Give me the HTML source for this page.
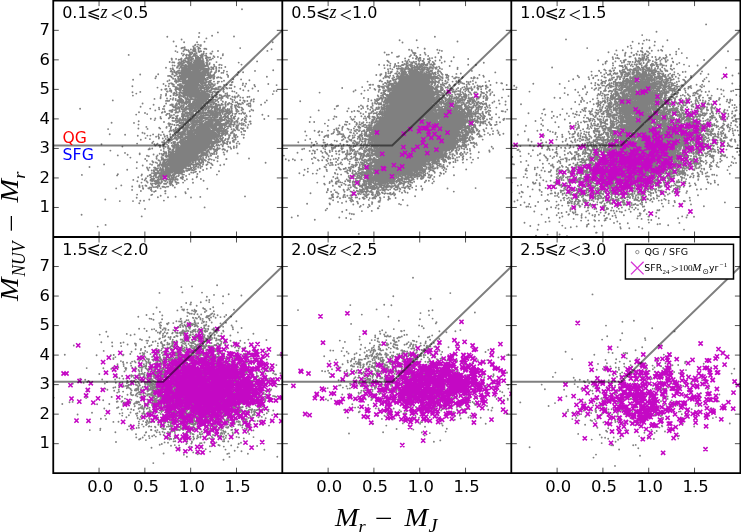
<!DOCTYPE html>
<html><head><meta charset="utf-8"><title>NUVrJ diagram</title>
<style>
html,body{margin:0;padding:0;background:#fff;}
body{width:741px;height:532px;overflow:hidden;}
svg{display:block;}
.t{font-family:"DejaVu Sans","Liberation Sans",sans-serif;fill:#000;}
.m{font-family:"Liberation Serif","DejaVu Serif",serif;font-style:italic;fill:#000;}
.r{font-family:"Liberation Serif","DejaVu Serif",serif;fill:#000;}
.d{fill:none;stroke:#808080;stroke-width:19;stroke-linecap:round;}
.u{fill:#808080;stroke:none;}
.x{fill:none;stroke:#c408c4;stroke-width:16;}
.l{fill:none;stroke:#000;stroke-opacity:.5;stroke-width:2;stroke-linejoin:miter;}
.k{stroke:#000;stroke-width:.8;stroke-opacity:.85}
</style></head><body>
<svg width="741" height="532" viewBox="0 0 741 532">
<rect width="741" height="532" fill="#fff"/>
<defs>
<clipPath id="c0"><rect x="53.25" y="0.6" width="229.05" height="236.40"/></clipPath>
<clipPath id="c1"><rect x="282.3" y="0.6" width="229.00" height="236.40"/></clipPath>
<clipPath id="c2"><rect x="511.3" y="0.6" width="229.10" height="236.40"/></clipPath>
<clipPath id="c3"><rect x="53.25" y="237.0" width="229.05" height="236.20"/></clipPath>
<clipPath id="c4"><rect x="282.3" y="237.0" width="229.00" height="236.20"/></clipPath>
<clipPath id="c5"><rect x="511.3" y="237.0" width="229.10" height="236.20"/></clipPath>
</defs>
<g clip-path="url(#c0)">
<g transform="scale(.1)">
<path class="u" d="M1980 595h10v5h-10zM1975 600h20v5h-20zM1970 605h30v5h-30zM1965 610h30v5h-30zM1960 615h40v5h-40zM1955 620h60v5h-60zM1955 625h65v5h-65zM1940 630h85v5h-85zM1935 635h90v5h-90zM1930 640h95v5h-95zM1905 645h125v5h-125zM1900 650h130v5h-130zM1895 655h135v5h-135zM1900 660h135v5h-135zM1900 665h135v5h-135zM1845 670h5v5h-5zM1900 670h140v5h-140zM1840 675h50v5h-50zM1895 675h145v5h-145zM1835 680h60v5h-60zM1900 680h140v5h-140zM1835 685h65v5h-65zM1905 685h130v5h-130zM1835 690h60v5h-60zM1925 690h70v5h-70zM2025 690h5v5h-5zM1830 695h65v5h-65zM1925 695h70v5h-70zM1830 700h65v5h-65zM1925 700h70v5h-70zM2035 700h25v5h-25zM1830 705h65v5h-65zM1925 705h70v5h-70zM2030 705h35v5h-35zM1830 710h65v5h-65zM1925 710h70v5h-70zM2025 710h45v5h-45zM1830 715h170v5h-170zM2025 715h45v5h-45zM1830 720h240v5h-240zM1830 725h235v5h-235zM1825 730h235v5h-235zM1820 735h235v5h-235zM1815 740h230v5h-230zM1810 745h230v5h-230zM1810 750h225v5h-225zM1815 755h215v5h-215zM1820 760h210v5h-210zM1815 765h220v5h-220zM1815 770h35v5h-35zM1895 770h140v5h-140zM1810 775h40v5h-40zM1895 775h135v5h-135zM1810 780h40v5h-40zM1895 780h135v5h-135zM1805 785h45v5h-45zM1895 785h135v5h-135zM1810 790h40v5h-40zM1895 790h130v5h-130zM1815 795h40v5h-40zM1895 795h135v5h-135zM1825 800h30v5h-30zM1895 800h140v5h-140zM1835 805h20v5h-20zM1895 805h145v5h-145zM1835 810h200v5h-200zM1840 815h190v5h-190zM1845 820h180v5h-180zM1850 825h170v5h-170zM1850 830h130v5h-130zM1855 835h125v5h-125zM1860 840h125v5h-125zM1860 845h125v5h-125zM1860 850h120v5h-120zM1860 855h120v5h-120zM1860 860h120v5h-120zM1860 865h120v5h-120zM1860 870h35v5h-35zM1900 870h85v5h-85zM1855 875h35v5h-35zM1900 875h80v5h-80zM1850 880h125v5h-125zM1850 885h120v5h-120zM1850 890h35v5h-35zM1890 890h75v5h-75zM1850 895h35v5h-35zM1890 895h80v5h-80zM1850 900h35v5h-35zM1890 900h85v5h-85zM1850 905h35v5h-35zM1890 905h90v5h-90zM1850 910h135v5h-135zM1850 915h135v5h-135zM1850 920h30v5h-30zM1890 920h95v5h-95zM1850 925h25v5h-25zM1885 925h120v5h-120zM2015 925h10v5h-10zM2035 925h25v5h-25zM1855 930h15v5h-15zM1890 930h175v5h-175zM1860 935h5v5h-5zM1890 935h180v5h-180zM1895 940h170v5h-170zM1900 945h165v5h-165zM1910 950h160v5h-160zM1920 955h70v5h-70zM2005 955h20v5h-20zM2035 955h40v5h-40zM1965 960h60v5h-60zM2035 960h45v5h-45zM1970 965h105v5h-105zM1965 970h105v5h-105zM1960 975h105v5h-105zM1960 980h100v5h-100zM1965 985h90v5h-90zM1965 990h85v5h-85zM1965 995h85v5h-85zM1965 1000h90v5h-90zM1960 1005h95v5h-95zM1955 1010h100v5h-100zM1955 1015h95v5h-95zM1955 1020h90v5h-90zM1960 1025h80v5h-80zM1950 1030h50v5h-50zM2005 1030h30v5h-30zM1945 1035h55v5h-55zM2010 1035h20v5h-20zM1940 1040h60v5h-60zM2005 1040h15v5h-15zM1915 1045h110v5h-110zM1910 1050h90v5h-90zM2005 1050h15v5h-15zM1905 1055h120v5h-120zM1900 1060h100v5h-100zM2005 1060h15v5h-15zM1900 1065h45v5h-45zM1975 1065h20v5h-20zM2010 1065h5v5h-5zM1900 1070h25v5h-25zM1905 1075h15v5h-15zM1910 1080h5v5h-5zM2100 1200h10v5h-10zM2095 1205h20v5h-20zM2090 1210h30v5h-30zM2090 1215h30v5h-30zM2090 1220h30v5h-30zM2090 1225h30v5h-30zM2075 1230h5v5h-5zM2090 1230h25v5h-25zM2070 1235h45v5h-45zM2005 1240h5v5h-5zM2065 1240h50v5h-50zM2000 1245h15v5h-15zM2060 1245h55v5h-55zM2130 1245h20v5h-20zM1995 1250h120v5h-120zM2125 1250h30v5h-30zM1995 1255h165v5h-165zM1990 1260h125v5h-125zM2120 1260h40v5h-40zM1990 1265h120v5h-120zM2125 1265h35v5h-35zM1990 1270h100v5h-100zM2130 1270h30v5h-30zM1990 1275h100v5h-100zM2135 1275h25v5h-25zM1990 1280h105v5h-105zM2135 1280h25v5h-25zM1985 1285h110v5h-110zM2135 1285h25v5h-25zM1965 1290h125v5h-125zM2140 1290h20v5h-20zM1960 1295h135v5h-135zM2140 1295h25v5h-25zM1955 1300h135v5h-135zM2145 1300h15v5h-15zM1960 1305h135v5h-135zM2150 1305h5v5h-5zM1960 1310h135v5h-135zM1960 1315h135v5h-135zM1900 1320h15v5h-15zM1965 1320h165v5h-165zM1895 1325h25v5h-25zM1960 1325h185v5h-185zM1890 1330h35v5h-35zM1960 1330h190v5h-190zM1890 1335h30v5h-30zM1960 1335h195v5h-195zM1890 1340h25v5h-25zM1925 1340h10v5h-10zM1960 1340h210v5h-210zM1890 1345h50v5h-50zM1960 1345h215v5h-215zM1885 1350h295v5h-295zM1880 1355h300v5h-300zM1875 1360h305v5h-305zM1880 1365h295v5h-295zM1885 1370h285v5h-285zM1890 1375h275v5h-275zM1880 1380h245v5h-245zM2155 1380h5v5h-5zM1875 1385h235v5h-235zM1870 1390h240v5h-240zM1865 1395h245v5h-245zM1865 1400h245v5h-245zM1870 1405h240v5h-240zM1830 1410h10v5h-10zM1870 1410h240v5h-240zM1825 1415h20v5h-20zM1870 1415h240v5h-240zM1820 1420h285v5h-285zM1820 1425h280v5h-280zM1825 1430h260v5h-260zM1825 1435h260v5h-260zM1825 1440h260v5h-260zM1825 1445h260v5h-260zM1825 1450h260v5h-260zM1820 1455h260v5h-260zM1820 1460h255v5h-255zM1820 1465h250v5h-250zM1790 1470h275v5h-275zM1785 1475h275v5h-275zM1780 1480h275v5h-275zM1780 1485h270v5h-270zM1780 1490h265v5h-265zM1780 1495h260v5h-260zM1775 1500h255v5h-255zM1775 1505h255v5h-255zM1775 1510h250v5h-250zM1770 1515h250v5h-250zM1770 1520h235v5h-235zM1750 1525h230v5h-230zM1740 1530h235v5h-235zM1715 1535h260v5h-260zM1710 1540h265v5h-265zM1705 1545h270v5h-270zM1710 1550h265v5h-265zM1710 1555h260v5h-260zM1705 1560h265v5h-265zM1700 1565h270v5h-270zM1700 1570h270v5h-270zM1700 1575h275v5h-275zM1700 1580h270v5h-270zM1700 1585h265v5h-265zM1700 1590h255v5h-255zM1700 1595h250v5h-250zM1695 1600h250v5h-250zM1690 1605h230v5h-230zM1685 1610h230v5h-230zM1680 1615h230v5h-230zM1675 1620h235v5h-235zM1680 1625h225v5h-225zM1675 1630h225v5h-225zM1675 1635h220v5h-220zM1680 1640h210v5h-210zM1685 1645h5v5h-5zM1700 1645h185v5h-185zM1700 1650h180v5h-180zM1705 1655h160v5h-160zM1700 1660h160v5h-160zM1695 1665h160v5h-160zM1695 1670h150v5h-150zM1695 1675h135v5h-135zM1695 1680h130v5h-130zM1695 1685h130v5h-130zM1675 1690h150v5h-150zM1670 1695h155v5h-155zM1665 1700h160v5h-160zM1655 1705h165v5h-165zM1635 1710h180v5h-180zM1630 1715h80v5h-80zM1740 1715h70v5h-70zM1625 1720h70v5h-70zM1745 1720h60v5h-60zM1625 1725h70v5h-70zM1625 1730h70v5h-70zM1620 1735h75v5h-75zM1615 1740h80v5h-80zM1610 1745h80v5h-80zM1615 1750h70v5h-70zM1620 1755h25v5h-25zM1625 1760h10v5h-10z"/>
<path class="d" d="M801 1088h0m18 661h0m-3 398h0m79-477h0m120-227h0m-38 823h0m64-622h0m12 351h0m3 254h0m72-1245h0m-12 223h0m-35 64h0m16 52h0m7 163h0m74 48h0m1 189h0m-8 11h0m-9 130h0m36 127h0m53-664h0m-27 119h0m26 63h0m-37 325h0m74-1305h0m-11 999h0m28 28h0m-32 121h0m59-899h0m-7 65h0m1 60h0m38 13h0m-34 20h0m33 190h0m-22 83h0m38 129h0m-7 78h0m-2 186h0m-2 59h0m-34 118h0m41 14h0m-52 52h0m-1 34h0m50 47h0m-4 31h0m-37 34h0m72-1266h0m1 174h0m23 116h0m-20 32h0m-16 56h0m-3 90h0m-2 33h0m-1 39h0m41 43h0m-17 69h0m-11 138h0m0 7h0m30 113h0m-8 90h0m-4 10h0m-33 17h0m40 20h0m-7 34h0m-21 29h0m31 5h0m-32 8h0m4 2h0m32 9h0m3 8h0m-23 23h0m-6 97h0m-10 25h0m24 132h0m33-1034h0m22 11h0m-8 128h0m11 20h0m-29 46h0m28 21h0m-18 25h0m43 10h0m-2 94h0m2 6h0m-13 3h0m-16 63h0m18 5h0m-36 28h0m17 17h0m1 68h0m25 1h0m-19 12h0m8 15h0m12 50h0m-19 10h0m-17 20h0m-5 8h0m-8 12h0m19 10h0m10 12h0m-21 30h0m9 4h0m35 16h0m-15 8h0m0 0h0m8 3h0m1 109h0m-53 12h0m10 82h0m104-1306h0m-9 206h0m-9 58h0m-34 39h0m51 18h0m0 81h0m-45 3h0m38 13h0m-15 143h0m-27 12h0m29 60h0m-11 14h0m22 12h0m9 13h0m-31 30h0m14 60h0m-13 66h0m12 10h0m-4 3h0m27 0h0m-57 17h0m19 6h0m21 29h0m2 2h0m9 0h0m4 1h0m-1 7h0m1 7h0m-4 6h0m-15 4h0m-20 2h0m20 6h0m6 7h0m1 1h0m13 11h0m-38 1h0m17 0h0m2 4h0m18 0h0m-8 9h0m-42 4h0m36 10h0m-29 5h0m19 3h0m26 4h0m-52 4h0m30 10h0m8 3h0m-28 0h0m15 3h0m-17 8h0m16 1h0m-24 0h0m23 2h0m0 0h0m-24 5h0m48 1h0m-10 5h0m-22 0h0m-12 22h0m39 0h0m-19 2h0m28 7h0m-43 1h0m9 13h0m27 14h0m-16 0h0m-20 5h0m-2 17h0m-3 6h0m48 11h0m-38 1h0m22 6h0m-19 29h0m-10 5h0m70-1209h0m-21 23h0m14 111h0m40 22h0m-5 51h0m-3 20h0m-2 13h0m-15 94h0m2 17h0m27 35h0m-14 41h0m1 14h0m5 3h0m-19 91h0m10 9h0m-14 58h0m21 7h0m-26 12h0m-22 4h0m29 8h0m-1 10h0m-14 53h0m-7 7h0m23 7h0m11 2h0m-2 16h0m10 31h0m-13 36h0m21 2h0m-43 15h0m-9 11h0m49 8h0m-50 8h0m2 7h0m51 0h0m-1 9h0m-32 6h0m12 3h0m7 15h0m0 5h0m-33 5h0m28 8h0m13 6h0m-32 6h0m7 2h0m9 4h0m23 1h0m-40 2h0m24 18h0m-21 3h0m-11 6h0m29 4h0m11 3h0m7 1h0m-51 3h0m43 1h0m3 1h0m-18 3h0m-24 2h0m3 0h0m39 10h0m-2 2h0m8 1h0m-33 0h0m29 4h0m-44 5h0m5 0h0m33 2h0m-30 0h0m-11 1h0m20 1h0m10 1h0m20 3h0m-40 1h0m35 6h0m-52 4h0m35 3h0m-36 5h0m39 3h0m16 2h0m-2 2h0m-18 3h0m20 1h0m-28 1h0m-1 1h0m17 2h0m1 0h0m-24 2h0m27 1h0m10 3h0m-50 1h0m17 6h0m3 1h0m20 5h0m5 1h0m-1 0h0m4 5h0m-12 2h0m-26 1h0m13 0h0m-8 6h0m-20 5h0m16 3h0m40 1h0m-33 2h0m-9 4h0m-16 2h0m32 2h0m20 1h0m-31 2h0m31 3h0m-36 5h0m-9 2h0m38 1h0m-25 1h0m7 3h0m6 14h0m-13 4h0m9 3h0m4 2h0m-24 4h0m-7 2h0m15 8h0m29 7h0m1 73h0m-28 16h0m94-1606h0m-13 311h0m15 135h0m-40 27h0m22 18h0m8 31h0m-13 3h0m4 3h0m14 20h0m7 0h0m-16 25h0m1 10h0m-3 5h0m11 29h0m3 22h0m-13 3h0m19 2h0m-18 24h0m-16 24h0m-6 7h0m-10 23h0m13 2h0m6 24h0m2 5h0m-25 3h0m46 16h0m4 0h0m-13 11h0m-22 70h0m27 50h0m-3 8h0m-39 42h0m13 25h0m33 11h0m-23 7h0m0 5h0m26 3h0m-46 14h0m29 4h0m18 10h0m-33 9h0m-21 13h0m10 4h0m3 1h0m9 1h0m-14 18h0m10 1h0m31 0h0m-35 13h0m1 2h0m14 6h0m7 1h0m-24 0h0m46 2h0m-41 17h0m-1 25h0m15 10h0m10 1h0m-16 10h0m-8 3h0m26 0h0m-26 7h0m-5 4h0m27 2h0m-25 4h0m28 1h0m-39 1h0m31 8h0m24 2h0m-15 5h0m-34 12h0m0 6h0m-2 3h0m48 1h0m-15 3h0m-19 1h0m-9 0h0m18 1h0m8 0h0m-10 8h0m-14 2h0m37 4h0m0 2h0m-30 1h0m29 1h0m-2 1h0m-16 5h0m-11 0h0m20 1h0m-32 1h0m21 1h0m1 1h0m-10 3h0m-7 1h0m-2 1h0m44 4h0m-17 2h0m-31 1h0m18 1h0m14 0h0m-34 1h0m28 1h0m-13 4h0m36 0h0m-30 0h0m20 1h0m-18 0h0m22 1h0m-47 7h0m-2 2h0m13 0h0m34 2h0m-36 1h0m-9 1h0m26 0h0m-13 0h0m40 1h0m-4 0h0m-36 0h0m-2 0h0m11 0h0m13 1h0m-25 0h0m3 3h0m16 1h0m-3 4h0m-22 5h0m28 2h0m5 1h0m12 1h0m-16 3h0m14 2h0m-49 2h0m42 4h0m-6 0h0m-5 1h0m16 3h0m-38 0h0m43 1h0m-11 2h0m3 0h0m-35 3h0m4 0h0m24 1h0m8 0h0m-34 2h0m-2 5h0m-4 1h0m29 1h0m3 1h0m-16 1h0m18 1h0m-10 2h0m1 6h0m1 2h0m-15 1h0m1 1h0m-18 6h0m15 4h0m-7 2h0m-7 2h0m5 1h0m-4 3h0m29 2h0m11 3h0m15 1h0m-35 3h0m-19 2h0m-1 1h0m32 0h0m-32 0h0m10 1h0m23 1h0m-20 1h0m-12 4h0m42 2h0m9 2h0m-49 1h0m18 2h0m10 0h0m-16 1h0m35 0h0m-52 1h0m27 3h0m-1 10h0m28 7h0m-49 3h0m49 1h0m-14 6h0m-21 4h0m2 2h0m12 6h0m-35 6h0m0 1h0m55 4h0m-26 14h0m14 1h0m-22 0h0m29 28h0m-45 1h0m11 0h0m6 2h0m12 5h0m1 36h0m-5 1h0m4 23h0m-15 72h0m97-1591h0m-20 172h0m2 1h0m1 9h0m-22 23h0m31 1h0m-5 3h0m3 31h0m1 28h0m-21 4h0m20 3h0m8 5h0m-21 13h0m-6 6h0m15 5h0m3 17h0m-3 6h0m6 2h0m-47 15h0m13 0h0m13 4h0m10 9h0m14 13h0m0 2h0m-37 16h0m17 30h0m14 5h0m-34 0h0m33 6h0m14 2h0m-7 15h0m-44 1h0m13 24h0m3 15h0m10 4h0m-14 4h0m15 10h0m23 15h0m-2 3h0m1 13h0m3 1h0m-34 9h0m28 21h0m-27 8h0m22 5h0m1 4h0m-37 9h0m36 38h0m-12 0h0m7 1h0m-10 2h0m5 1h0m-16 2h0m23 9h0m7 3h0m3 10h0m-11 25h0m-23 7h0m18 0h0m-24 3h0m20 7h0m8 3h0m-10 1h0m-21 17h0m8 15h0m18 4h0m-19 4h0m5 11h0m27 7h0m6 3h0m-45 0h0m31 1h0m-35 3h0m37 23h0m-36 24h0m-5 7h0m21 1h0m18 5h0m-25 0h0m-3 7h0m-3 8h0m20 9h0m-3 9h0m-3 13h0m28 7h0m-32 9h0m15 2h0m-18 3h0m-5 5h0m8 27h0m1 5h0m25 1h0m-24 20h0m-21 18h0m47 4h0m-13 3h0m-24 4h0m25 2h0m1 1h0m-31 1h0m19 3h0m-10 7h0m36 8h0m5 5h0m-52 3h0m28 2h0m19 0h0m-6 22h0m11 2h0m-19 4h0m-35 2h0m55 7h0m-13 1h0m-42 3h0m55 8h0m-54 1h0m-4 4h0m18 1h0m-8 6h0m12 2h0m22 1h0m10 1h0m-8 8h0m-41 1h0m36 3h0m-1 0h0m-33 6h0m12 2h0m36 1h0m2 5h0m-17 0h0m1 0h0m-14 2h0m-19 0h0m14 6h0m-16 1h0m44 4h0m-23 2h0m10 4h0m2 1h0m-15 3h0m28 1h0m-45 1h0m43 1h0m-44 1h0m43 0h0m-8 1h0m-41 5h0m24 1h0m-17 0h0m9 0h0m26 3h0m-11 1h0m-25 5h0m27 0h0m-9 1h0m-8 4h0m6 1h0m-13 1h0m18 2h0m1 4h0m-5 0h0m7 0h0m-12 6h0m-7 3h0m6 3h0m5 0h0m-9 0h0m-5 2h0m12 0h0m-1 6h0m-2 2h0m-16 5h0m14 2h0m7 0h0m-8 4h0m4 4h0m-9 3h0m-5 8h0m2 4h0m10 6h0m-5 1h0m-10 1h0m20 2h0m5 2h0m-22 2h0m25 2h0m-6 1h0m-15 2h0m25 0h0m-12 2h0m-18 1h0m12 0h0m-15 3h0m16 1h0m0 3h0m18 0h0m-2 2h0m-3 2h0m-5 8h0m-19 9h0m18 1h0m5 0h0m-11 2h0m-5 1h0m11 0h0m-19 2h0m18 1h0m-17 2h0m17 1h0m-4 2h0m-19 1h0m25 0h0m-10 2h0m-15 8h0m13 1h0m15 6h0m25 1h0m-18 0h0m13 2h0m8 1h0m-35 0h0m36 0h0m-6 2h0m-42 3h0m21 1h0m-6 2h0m-13 5h0m14 0h0m-10 0h0m24 1h0m2 1h0m-26 2h0m-8 0h0m16 1h0m-6 1h0m0 3h0m-15 5h0m57 0h0m-55 2h0m-4 0h0m8 2h0m41 3h0m-39 1h0m16 4h0m1 1h0m23 3h0m-27 2h0m16 2h0m-26 3h0m45 3h0m-58 1h0m3 4h0m10 3h0m22 1h0m17 1h0m5 0h0m-22 0h0m22 6h0m-7 2h0m-32 3h0m7 5h0m-5 0h0m15 2h0m23 1h0m-14 0h0m-42 1h0m10 0h0m33 5h0m-19 8h0m-1 5h0m-9 2h0m28 1h0m-19 0h0m15 2h0m-6 1h0m-14 0h0m14 15h0m-18 0h0m6 1h0m22 14h0m-21 1h0m28 5h0m-1 2h0m-47 8h0m-3 106h0m82-1510h0m-7 49h0m19 10h0m-13 68h0m26 8h0m6 26h0m-50 2h0m55 6h0m-16 1h0m17 10h0m-14 7h0m-39 7h0m34 8h0m-5 0h0m-2 8h0m1 2h0m-4 3h0m24 7h0m-3 21h0m-5 1h0m-6 3h0m-36 1h0m25 7h0m-5 2h0m-24 1h0m6 3h0m52 2h0m-15 3h0m-23 2h0m39 1h0m-41 0h0m35 6h0m-28 3h0m4 2h0m-5 7h0m33 7h0m-48 1h0m-4 3h0m51 4h0m-21 2h0m8 1h0m1 13h0m-3 7h0m-28 3h0m-2 1h0m31 1h0m15 0h0m-10 3h0m1 3h0m9 0h0m-36 3h0m33 1h0m-8 3h0m-27 2h0m5 1h0m4 1h0m23 0h0m-40 3h0m14 0h0m-16 1h0m36 3h0m-15 2h0m-8 9h0m31 14h0m2 4h0m0 1h0m-17 3h0m12 7h0m-46 8h0m23 7h0m-9 2h0m1 6h0m-2 2h0m23 1h0m15 1h0m-28 0h0m-2 4h0m21 3h0m11 0h0m-14 1h0m-11 0h0m-19 4h0m4 1h0m35 5h0m-33 6h0m8 16h0m32 0h0m-56 5h0m49 0h0m-43 3h0m47 4h0m-51 1h0m18 4h0m15 5h0m20 2h0m-27 3h0m-11 6h0m30 7h0m9 3h0m-10 7h0m10 9h0m-1 7h0m-41 1h0m36 2h0m3 2h0m-39 6h0m22 1h0m7 2h0m9 3h0m-21 4h0m13 2h0m0 6h0m-19 14h0m25 0h0m-30 4h0m25 1h0m-21 6h0m27 0h0m-24 3h0m26 1h0m-39 2h0m10 3h0m2 2h0m-7 2h0m-9 2h0m-1 6h0m7 0h0m23 6h0m-35 4h0m10 3h0m36 0h0m-24 5h0m22 4h0m-15 2h0m-17 6h0m36 5h0m-53 2h0m18 9h0m35 1h0m4 4h0m-19 8h0m-14 0h0m14 2h0m-25 3h0m-15 20h0m38 8h0m-17 7h0m9 2h0m0 3h0m-4 11h0m-8 9h0m17 0h0m20 5h0m2 2h0m-11 9h0m-29 1h0m-2 1h0m35 0h0m-22 2h0m30 2h0m-58 1h0m41 5h0m16 3h0m-22 1h0m-13 6h0m33 5h0m-15 15h0m-37 3h0m2 1h0m40 1h0m-18 1h0m23 2h0m4 18h0m5 3h0m-40 3h0m-4 7h0m24 2h0m15 0h0m-39 5h0m18 2h0m11 4h0m3 1h0m-23 1h0m30 1h0m-11 1h0m-26 1h0m-14 5h0m17 5h0m-20 1h0m42 4h0m-19 4h0m30 3h0m4 0h0m-47 1h0m31 0h0m6 5h0m-42 1h0m36 2h0m9 7h0m9 1h0m-18 8h0m-3 0h0m-21 1h0m1 2h0m16 3h0m5 6h0m9 6h0m-4 1h0m-5 0h0m-27 1h0m-3 2h0m5 3h0m9 0h0m32 1h0m-5 3h0m-37 4h0m-7 2h0m31 5h0m-13 4h0m6 7h0m-20 15h0m49 6h0m-8 0h0m-7 2h0m-33 3h0m23 1h0m-25 12h0m-3 0h0m35 2h0m-15 2h0m10 4h0m-13 2h0m-11 3h0m35 1h0m2 3h0m-1 1h0m-30 2h0m15 1h0m-31 1h0m36 2h0m-14 5h0m-24 0h0m42 5h0m-22 3h0m-16 2h0m55 1h0m-15 0h0m-17 1h0m-2 0h0m18 1h0m-6 2h0m15 1h0m-7 0h0m-23 2h0m30 7h0m-3 0h0m-25 1h0m-2 3h0m27 0h0m-29 0h0m24 1h0m-15 0h0m14 3h0m-1 1h0m-22 1h0m16 2h0m-8 2h0m1 1h0m0 2h0m20 0h0m-4 1h0m-33 1h0m2 3h0m13 1h0m-27 1h0m18 1h0m15 0h0m3 1h0m-18 2h0m5 3h0m12 4h0m-10 0h0m12 1h0m-13 4h0m-2 1h0m-21 2h0m0 3h0m-1 165h0m45 6h0m-8 2h0m17 5h0m-42 1h0m12 0h0m5 0h0m23 0h0m4 2h0m-15 1h0m7 1h0m5 0h0m-50 1h0m13 7h0m26 1h0m-33 1h0m17 1h0m-18 0h0m-2 1h0m43 1h0m-37 4h0m37 12h0m-46 5h0m39 2h0m3 1h0m-21 4h0m-7 12h0m-2 2h0m20 13h0m-9 1h0m-7 2h0m18 3h0m-33 2h0m12 15h0m-2 4h0m9 6h0m16 2h0m-11 0h0m17 3h0m-19 12h0m-18 34h0m8 93h0m60-1573h0m25 28h0m6 49h0m-17 4h0m-15 6h0m3 1h0m25 8h0m13 3h0m-10 3h0m-12 16h0m-16 22h0m22 7h0m-10 13h0m28 28h0m-43 2h0m36 1h0m-47 9h0m11 5h0m33 3h0m-10 0h0m16 1h0m-2 2h0m-33 3h0m-6 7h0m19 0h0m21 2h0m-38 4h0m-7 5h0m34 1h0m-13 6h0m-29 1h0m5 4h0m13 0h0m-3 1h0m14 4h0m-12 1h0m36 3h0m5 8h0m-36 1h0m29 1h0m-37 1h0m25 1h0m-37 0h0m40 2h0m14 1h0m-42 0h0m-3 6h0m47 1h0m-39 2h0m-12 2h0m11 1h0m31 1h0m-14 1h0m24 0h0m-34 0h0m-9 0h0m10 7h0m0 5h0m-6 0h0m6 5h0m7 1h0m1 1h0m3 0h0m-8 1h0m-14 7h0m20 0h0m5 1h0m-3 0h0m-25 2h0m25 4h0m5 1h0m-8 2h0m-13 1h0m-9 5h0m12 0h0m9 1h0m4 4h0m-1 1h0m7 2h0m-1 2h0m-12 4h0m-17 0h0m9 1h0m13 2h0m-4 0h0m-10 1h0m2 3h0m5 3h0m-11 4h0m0 4h0m-14 2h0m3 2h0m18 1h0m-20 0h0m52 1h0m-31 4h0m2 0h0m7 1h0m-34 2h0m13 2h0m3 9h0m40 1h0m-10 1h0m1 2h0m6 1h0m-7 0h0m-7 1h0m-32 1h0m51 1h0m-3 6h0m-46 1h0m10 2h0m31 0h0m-15 1h0m-5 0h0m-10 1h0m11 3h0m25 2h0m-7 2h0m-20 1h0m10 4h0m-11 1h0m14 2h0m16 0h0m-39 1h0m-16 1h0m47 3h0m1 2h0m-23 5h0m2 1h0m22 1h0m-20 1h0m-5 0h0m13 2h0m-13 1h0m7 0h0m23 2h0m-7 0h0m-9 0h0m-8 1h0m7 0h0m-9 7h0m-22 1h0m41 2h0m-46 2h0m51 4h0m-2 4h0m0 0h0m-39 2h0m6 2h0m-12 1h0m51 1h0m-11 1h0m-6 2h0m11 1h0m-35 1h0m-14 1h0m26 1h0m-24 3h0m53 1h0m-58 1h0m20 0h0m-4 5h0m19 1h0m14 3h0m-40 1h0m-6 3h0m29 1h0m-22 1h0m36 1h0m-10 0h0m-26 6h0m-8 2h0m39 2h0m-34 0h0m42 1h0m-7 2h0m15 0h0m-20 3h0m-34 1h0m21 4h0m-25 0h0m54 1h0m-13 7h0m-34 5h0m27 3h0m17 1h0m-39 3h0m35 2h0m-26 5h0m31 0h0m-1 1h0m-13 3h0m10 5h0m-15 6h0m10 0h0m9 5h0m-43 1h0m24 1h0m10 4h0m6 5h0m-29 0h0m29 4h0m-12 3h0m2 0h0m-25 15h0m38 0h0m4 1h0m-47 1h0m-5 3h0m-2 1h0m20 6h0m-16 2h0m27 4h0m-19 7h0m8 6h0m10 0h0m-2 0h0m-27 1h0m55 3h0m-22 2h0m-23 0h0m33 1h0m-44 0h0m29 1h0m-11 5h0m29 2h0m2 0h0m-31 1h0m22 3h0m-6 14h0m4 0h0m-21 2h0m-10 10h0m27 0h0m-20 1h0m-7 5h0m-8 2h0m26 1h0m32 0h0m-50 2h0m-1 4h0m50 1h0m-19 2h0m5 7h0m-24 1h0m-3 5h0m35 3h0m-18 2h0m17 0h0m-1 7h0m-21 5h0m-2 5h0m-3 1h0m12 0h0m11 1h0m-20 4h0m0 11h0m28 3h0m-32 5h0m-4 0h0m23 2h0m-20 4h0m11 0h0m6 1h0m7 1h0m-21 8h0m-3 1h0m8 1h0m11 2h0m-23 2h0m38 0h0m-33 6h0m9 2h0m-4 7h0m4 0h0m-3 3h0m-4 1h0m-25 1h0m53 2h0m-16 5h0m-35 2h0m43 1h0m-16 2h0m-24 4h0m15 2h0m9 3h0m20 0h0m8 4h0m-39 1h0m18 2h0m-6 16h0m4 1h0m-19 1h0m22 4h0m13 1h0m-43 0h0m50 4h0m-21 2h0m8 3h0m4 0h0m-9 2h0m-15 1h0m29 1h0m-40 3h0m44 2h0m-52 7h0m2 0h0m28 5h0m-7 6h0m30 1h0m-39 2h0m12 6h0m20 0h0m-31 0h0m29 1h0m-44 1h0m-3 4h0m46 6h0m-16 2h0m16 8h0m1 1h0m-15 5h0m15 5h0m-1 3h0m4 0h0m-12 1h0m-14 0h0m18 1h0m-32 6h0m34 1h0m-23 1h0m-17 1h0m10 3h0m34 3h0m-15 3h0m-5 1h0m-30 0h0m46 3h0m-29 1h0m4 2h0m30 2h0m-7 5h0m0 0h0m-17 0h0m-14 2h0m10 4h0m32 6h0m-26 1h0m-5 0h0m-21 1h0m2 5h0m9 3h0m5 2h0m-14 1h0m51 1h0m-6 1h0m-22 1h0m30 0h0m-7 2h0m-7 3h0m5 0h0m-45 1h0m32 0h0m-5 0h0m22 3h0m-1 2h0m-42 5h0m11 1h0m-10 3h0m23 0h0m8 3h0m1 0h0m10 2h0m-50 2h0m30 1h0m-6 1h0m31 5h0m-40 1h0m-15 3h0m18 1h0m34 0h0m-13 1h0m11 3h0m-2 0h0m2 0h0m-18 4h0m-19 0h0m7 5h0m2 3h0m-17 1h0m24 0h0m-6 4h0m14 2h0m-30 3h0m8 2h0m10 2h0m6 0h0m-22 1h0m17 6h0m-10 0h0m3 0h0m15 3h0m-2 0h0m-21 2h0m-7 2h0m-3 3h0m13 2h0m11 3h0m-22 0h0m25 0h0m-6 7h0m4 0h0m-5 2h0m0 2h0m-18 1h0m10 1h0m3 2h0m39 174h0m-19 6h0m7 2h0m0 3h0m-3 3h0m-12 3h0m14 3h0m-20 1h0m-1 0h0m5 0h0m1 1h0m7 2h0m19 0h0m-40 0h0m41 2h0m-33 3h0m3 0h0m-3 3h0m-11 3h0m4 5h0m8 2h0m4 6h0m7 1h0m-28 6h0m31 1h0m-31 3h0m21 3h0m-14 0h0m27 1h0m-30 7h0m2 2h0m7 3h0m-19 2h0m7 2h0m30 11h0m-15 2h0m-2 21h0m9 4h0m-1 0h0m-23 5h0m8 6h0m13 7h0m20 15h0m-17 20h0m22 95h0m4 11h0m52-1437h0m-43 6h0m17 2h0m5 5h0m0 7h0m6 6h0m12 4h0m-8 5h0m3 8h0m13 3h0m-15 3h0m-32 2h0m39 2h0m-22 3h0m-24 1h0m37 7h0m-32 1h0m28 3h0m13 9h0m-16 1h0m-25 4h0m5 1h0m43 4h0m-20 0h0m-10 1h0m-21 1h0m10 0h0m46 6h0m-18 4h0m-19 0h0m38 1h0m-12 8h0m-25 2h0m17 4h0m-5 1h0m-13 4h0m3 2h0m-19 0h0m10 4h0m4 0h0m37 1h0m-43 4h0m-2 1h0m24 3h0m9 1h0m-16 1h0m-8 5h0m0 1h0m37 2h0m-26 0h0m15 7h0m-14 5h0m-29 2h0m-2 3h0m27 1h0m-5 0h0m22 2h0m-27 3h0m21 1h0m9 1h0m-44 1h0m42 1h0m-23 4h0m29 2h0m-1 2h0m-19 1h0m5 3h0m-31 2h0m-3 1h0m50 1h0m-7 1h0m0 0h0m5 0h0m7 0h0m-29 4h0m20 1h0m1 2h0m5 2h0m-7 1h0m1 1h0m1 1h0m-20 0h0m3 1h0m0 0h0m9 2h0m-19 1h0m18 0h0m-13 0h0m1 3h0m16 1h0m-6 1h0m-14 3h0m11 2h0m13 3h0m-18 1h0m-7 0h0m3 0h0m7 3h0m12 3h0m-17 0h0m20 4h0m4 0h0m-1 0h0m-1 1h0m2 1h0m-10 1h0m-42 32h0m25 2h0m-14 0h0m-10 1h0m27 1h0m-4 1h0m12 1h0m2 2h0m-38 1h0m29 1h0m-27 1h0m0 0h0m31 2h0m-20 2h0m-10 1h0m43 2h0m-5 2h0m0 2h0m-18 1h0m2 1h0m23 4h0m1 1h0m-1 3h0m-12 1h0m-4 5h0m5 1h0m-9 0h0m-4 1h0m2 3h0m23 0h0m-12 0h0m-1 4h0m-34 0h0m9 0h0m3 1h0m7 1h0m-13 1h0m17 0h0m-17 1h0m-5 0h0m29 1h0m0 1h0m2 0h0m-32 2h0m19 1h0m-18 2h0m24 1h0m10 1h0m-36 0h0m34 0h0m-36 1h0m1 2h0m30 1h0m3 2h0m-18 0h0m-16 2h0m14 19h0m-3 1h0m1 1h0m-4 4h0m31 5h0m-7 6h0m4 2h0m13 2h0m-20 2h0m-28 0h0m27 0h0m11 4h0m-36 0h0m3 1h0m43 1h0m-11 2h0m-29 0h0m0 3h0m-4 0h0m32 1h0m-20 0h0m11 1h0m-1 0h0m13 1h0m-40 3h0m17 0h0m21 5h0m-34 5h0m19 1h0m-18 1h0m18 3h0m0 0h0m21 3h0m-14 0h0m-5 2h0m-13 1h0m6 3h0m7 6h0m-6 3h0m-13 3h0m36 0h0m-28 3h0m-6 3h0m2 1h0m22 0h0m-30 2h0m35 1h0m-31 1h0m17 2h0m3 1h0m0 1h0m4 7h0m4 0h0m-3 3h0m-1 1h0m25 0h0m-52 1h0m12 2h0m39 1h0m-46 2h0m50 0h0m-11 1h0m-17 2h0m-22 0h0m47 0h0m-15 6h0m-24 3h0m19 0h0m24 2h0m-18 0h0m12 2h0m2 3h0m-8 0h0m10 1h0m-40 1h0m0 2h0m23 0h0m-39 7h0m58 0h0m-54 2h0m14 2h0m-5 4h0m33 0h0m-23 0h0m33 1h0m-32 1h0m15 1h0m-39 1h0m30 6h0m9 1h0m-38 3h0m34 1h0m-16 3h0m16 1h0m-36 2h0m8 2h0m25 0h0m-19 1h0m-13 0h0m36 1h0m4 2h0m-17 1h0m-10 1h0m0 2h0m0 1h0m13 0h0m5 0h0m-18 1h0m-3 2h0m30 2h0m-29 3h0m-4 1h0m28 0h0m-34 8h0m51 1h0m-24 1h0m2 1h0m26 0h0m-54 0h0m25 1h0m23 2h0m-2 1h0m-6 8h0m12 0h0m-35 1h0m7 0h0m26 1h0m-6 1h0m-1 1h0m-23 1h0m9 1h0m-26 5h0m42 7h0m-16 1h0m-31 2h0m37 1h0m12 4h0m-38 0h0m36 1h0m-18 1h0m5 1h0m-31 0h0m47 2h0m-6 0h0m9 1h0m-28 2h0m27 0h0m-52 1h0m53 3h0m-46 2h0m32 2h0m-36 1h0m30 1h0m17 5h0m-15 1h0m16 1h0m-9 2h0m0 5h0m-4 1h0m0 3h0m-29 4h0m42 2h0m-38 1h0m28 0h0m-40 1h0m28 4h0m-8 0h0m-14 2h0m46 0h0m-26 1h0m-11 4h0m10 1h0m26 4h0m-13 1h0m10 0h0m4 1h0m-43 0h0m33 3h0m-5 2h0m18 4h0m-46 1h0m39 1h0m2 2h0m-28 2h0m28 1h0m-30 0h0m-14 1h0m49 2h0m-17 9h0m2 3h0m-25 0h0m12 2h0m-16 4h0m30 2h0m-19 7h0m-4 3h0m-20 4h0m55 2h0m-15 0h0m19 2h0m-35 0h0m-15 0h0m25 4h0m-27 1h0m25 3h0m-14 1h0m31 2h0m-37 0h0m-6 0h0m-6 4h0m47 1h0m-34 2h0m34 1h0m-23 10h0m-21 0h0m21 3h0m-2 4h0m30 3h0m-14 5h0m-19 1h0m10 9h0m-20 4h0m12 0h0m2 4h0m26 5h0m-22 1h0m-9 7h0m-6 1h0m11 2h0m21 2h0m14 0h0m-52 0h0m33 0h0m-22 0h0m30 2h0m-46 1h0m40 2h0m-30 5h0m40 1h0m-6 1h0m-27 4h0m-18 1h0m48 2h0m-1 1h0m2 0h0m0 2h0m8 1h0m-40 1h0m20 1h0m-18 2h0m23 4h0m-29 2h0m4 2h0m11 1h0m-8 1h0m28 1h0m-1 1h0m-1 2h0m0 1h0m-10 0h0m11 3h0m-35 0h0m15 1h0m-5 2h0m12 1h0m-18 1h0m35 0h0m-15 3h0m13 1h0m-30 3h0m21 1h0m-14 1h0m-19 2h0m47 3h0m-22 3h0m12 3h0m-6 4h0m-17 0h0m1 0h0m7 3h0m-21 7h0m4 0h0m-12 5h0m1 1h0m8 0h0m4 0h0m-9 3h0m22 1h0m-4 1h0m-16 1h0m37 2h0m-36 2h0m9 4h0m-8 0h0m17 5h0m-6 6h0m-10 11h0m12 1h0m-6 4h0m-4 2h0m0 4h0m-7 1h0m6 11h0m4 1h0m-14 1h0m4 1h0m-2 0h0m0 2h0m51 170h0m-8 19h0m-5 2h0m2 1h0m-16 5h0m33 3h0m-3 2h0m-3 1h0m-29 1h0m30 2h0m2 0h0m-6 1h0m-45 0h0m16 3h0m12 1h0m14 2h0m-30 6h0m-16 1h0m33 1h0m-15 5h0m8 1h0m16 2h0m-42 5h0m47 12h0m4 2h0m-29 3h0m-13 1h0m29 1h0m6 1h0m-43 0h0m32 7h0m24 5h0m-20 0h0m-11 1h0m-26 6h0m14 1h0m37 17h0m-19 18h0m-32 16h0m8 33h0m11 97h0m30 86h0m61-1552h0m-16 25h0m-6 6h0m-17 11h0m40 1h0m-36 5h0m15 10h0m-14 7h0m19 11h0m-5 1h0m-22 1h0m13 3h0m-5 7h0m14 4h0m5 3h0m-35 4h0m5 9h0m41 0h0m-21 7h0m7 2h0m-10 7h0m13 4h0m-17 0h0m-4 1h0m34 0h0m-33 5h0m11 1h0m11 0h0m-36 11h0m2 0h0m35 1h0m12 7h0m3 2h0m-16 3h0m19 4h0m-16 0h0m-30 2h0m40 4h0m3 6h0m-15 1h0m-1 2h0m-9 3h0m-7 1h0m20 0h0m16 1h0m-15 0h0m-5 3h0m-38 2h0m59 3h0m-18 0h0m-15 1h0m22 4h0m-31 3h0m14 1h0m-9 0h0m22 1h0m-7 2h0m-15 2h0m19 3h0m-13 9h0m2 1h0m-24 2h0m8 1h0m7 1h0m6 0h0m-23 1h0m9 2h0m-3 10h0m-7 1h0m-1 23h0m6 5h0m3 1h0m1 3h0m1 2h0m-5 2h0m-2 1h0m13 2h0m-8 1h0m0 5h0m1 3h0m5 1h0m-1 0h0m-4 2h0m-7 10h0m50 112h0m-6 0h0m10 3h0m-12 1h0m5 8h0m-1 1h0m8 7h0m-7 4h0m4 3h0m-5 1h0m-1 4h0m7 0h0m-8 1h0m1 3h0m9 18h0m-24 5h0m24 0h0m-20 1h0m5 2h0m-3 2h0m17 2h0m-8 0h0m-15 0h0m19 0h0m-9 2h0m1 5h0m1 0h0m5 1h0m1 5h0m-53 31h0m15 3h0m-6 3h0m11 2h0m23 4h0m12 1h0m-29 1h0m4 0h0m28 0h0m-28 1h0m-14 0h0m29 2h0m-20 1h0m24 3h0m-44 1h0m12 3h0m1 1h0m12 1h0m12 0h0m4 1h0m-12 8h0m-3 10h0m26 1h0m-5 1h0m-14 1h0m-2 1h0m-20 0h0m-12 0h0m43 7h0m-14 3h0m19 1h0m-27 1h0m23 11h0m-16 1h0m-3 1h0m-13 0h0m-5 0h0m16 0h0m22 1h0m-35 6h0m25 0h0m-1 2h0m-24 0h0m9 1h0m-15 2h0m39 1h0m-37 0h0m39 0h0m-30 1h0m-16 3h0m21 0h0m3 1h0m-9 0h0m-16 0h0m41 1h0m1 2h0m-3 1h0m-1 1h0m-25 3h0m11 2h0m-25 2h0m11 0h0m35 5h0m-16 1h0m-31 1h0m33 2h0m-8 1h0m-24 2h0m57 2h0m-42 4h0m33 0h0m-4 1h0m-6 6h0m2 0h0m-36 2h0m51 1h0m2 0h0m-15 0h0m-19 3h0m-20 1h0m17 1h0m-13 1h0m28 8h0m14 6h0m-47 1h0m22 3h0m7 3h0m-10 0h0m2 0h0m17 1h0m-28 2h0m17 5h0m12 1h0m-32 4h0m5 0h0m-6 7h0m48 2h0m1 0h0m-13 0h0m-39 4h0m1 6h0m-7 0h0m38 2h0m-28 2h0m22 8h0m-20 0h0m22 7h0m15 1h0m-23 3h0m32 1h0m-36 1h0m22 1h0m-43 1h0m9 1h0m-6 1h0m39 1h0m-40 1h0m42 4h0m13 5h0m-33 2h0m-15 3h0m18 1h0m12 2h0m8 1h0m-46 2h0m2 1h0m10 6h0m37 2h0m-32 2h0m9 0h0m-3 2h0m32 1h0m-29 0h0m-3 6h0m-13 5h0m20 2h0m-1 0h0m8 0h0m6 1h0m6 0h0m-7 0h0m-30 1h0m0 0h0m3 1h0m13 3h0m0 2h0m-13 1h0m-15 0h0m55 2h0m-15 0h0m17 2h0m-57 1h0m13 1h0m-6 2h0m33 0h0m-24 3h0m-7 1h0m37 5h0m-14 1h0m-32 2h0m36 4h0m-18 2h0m36 0h0m-50 1h0m41 0h0m-42 1h0m29 4h0m-34 3h0m21 0h0m2 1h0m9 3h0m-2 4h0m-19 2h0m9 1h0m-13 0h0m44 0h0m-34 1h0m-13 0h0m54 3h0m-31 0h0m30 4h0m-9 1h0m-26 1h0m-12 2h0m43 4h0m-6 4h0m-8 6h0m-28 1h0m15 0h0m12 9h0m3 0h0m-38 0h0m26 2h0m-26 1h0m45 1h0m-18 1h0m1 1h0m-15 0h0m9 1h0m-22 1h0m47 0h0m-7 0h0m-6 3h0m-31 0h0m-6 4h0m53 1h0m-44 1h0m18 0h0m4 2h0m8 1h0m-12 1h0m-1 2h0m-22 2h0m44 2h0m-18 1h0m7 0h0m18 2h0m-28 3h0m27 2h0m-49 2h0m10 0h0m2 3h0m9 1h0m-3 1h0m-18 3h0m26 3h0m-14 0h0m24 3h0m0 2h0m-16 1h0m16 1h0m-7 2h0m-2 1h0m7 0h0m-19 3h0m7 0h0m28 151h0m-4 12h0m0 3h0m-7 0h0m14 1h0m1 7h0m-9 1h0m-9 1h0m4 1h0m7 5h0m2 1h0m5 2h0m-15 1h0m5 3h0m3 4h0m-2 3h0m6 2h0m-18 2h0m7 2h0m14 6h0m-21 4h0m12 0h0m-6 3h0m-11 2h0m3 1h0m16 3h0m-17 2h0m2 1h0m-14 4h0m-8 0h0m-11 2h0m3 1h0m51 4h0m-49 0h0m33 0h0m-8 5h0m-12 0h0m-19 0h0m3 2h0m25 4h0m-21 2h0m27 1h0m-31 0h0m-3 3h0m-1 0h0m7 1h0m-5 1h0m10 6h0m22 4h0m18 3h0m-12 3h0m-2 9h0m7 2h0m-30 0h0m38 1h0m-44 2h0m16 1h0m7 0h0m-20 7h0m31 8h0m-27 2h0m20 1h0m-12 4h0m-26 5h0m18 6h0m21 7h0m-12 9h0m-20 2h0m7 5h0m26 11h0m-11 5h0m-17 6h0m42 13h0m-4 25h0m-3 8h0m-41 19h0m4 36h0m63-1499h0m-4 41h0m-8 76h0m29 5h0m-9 0h0m6 8h0m-18 15h0m1 6h0m-7 5h0m19 1h0m-17 14h0m19 12h0m7 1h0m-25 2h0m52 1h0m-46 4h0m45 12h0m-17 9h0m11 4h0m-13 0h0m-15 9h0m10 6h0m15 0h0m-47 7h0m43 0h0m-12 2h0m-22 7h0m21 2h0m-8 0h0m23 3h0m-29 2h0m-3 6h0m-3 1h0m2 1h0m37 1h0m-23 6h0m-15 1h0m2 3h0m-4 1h0m38 3h0m2 1h0m-19 0h0m-21 0h0m8 2h0m3 1h0m29 2h0m-42 0h0m-3 1h0m51 0h0m-14 4h0m14 3h0m-31 2h0m15 6h0m-22 2h0m40 2h0m-16 5h0m-3 3h0m7 2h0m13 6h0m-23 0h0m4 2h0m7 0h0m9 1h0m-19 5h0m13 5h0m-8 0h0m11 2h0m6 0h0m-6 4h0m-4 9h0m-8 2h0m-17 0h0m10 2h0m10 0h0m13 8h0m-23 1h0m-4 2h0m-3 1h0m22 1h0m4 0h0m-7 1h0m-16 1h0m18 0h0m-41 1h0m25 1h0m9 0h0m18 2h0m-34 1h0m-19 0h0m20 0h0m26 1h0m-50 1h0m13 0h0m-7 4h0m10 8h0m29 5h0m-8 2h0m-17 0h0m25 1h0m-15 0h0m-16 3h0m23 1h0m-6 0h0m17 0h0m-6 2h0m-17 2h0m11 0h0m-12 4h0m30 8h0m-12 12h0m7 3h0m-9 5h0m6 5h0m2 3h0m-7 14h0m5 1h0m-11 1h0m21 2h0m0 5h0m-22 2h0m1 1h0m2 1h0m5 3h0m10 1h0m-3 2h0m2 7h0m-11 7h0m-24 0h0m-3 3h0m10 4h0m23 3h0m-38 1h0m30 2h0m13 4h0m-24 0h0m12 1h0m9 1h0m-13 1h0m-4 3h0m12 4h0m-1 1h0m-42 0h0m11 4h0m30 1h0m-36 1h0m34 2h0m-41 0h0m10 1h0m-7 3h0m15 0h0m5 0h0m31 7h0m-30 3h0m-4 0h0m16 0h0m-13 1h0m21 1h0m-8 1h0m-7 0h0m5 2h0m3 1h0m19 3h0m-41 3h0m19 2h0m-32 0h0m46 2h0m-26 0h0m-19 1h0m35 1h0m-10 1h0m-3 2h0m9 3h0m-32 1h0m13 8h0m18 3h0m-6 0h0m-2 1h0m-7 1h0m22 2h0m-30 5h0m41 1h0m-38 1h0m23 4h0m-36 1h0m36 2h0m-14 0h0m34 1h0m-42 2h0m7 1h0m26 0h0m-44 2h0m0 1h0m45 1h0m-39 0h0m33 1h0m16 0h0m-2 2h0m-48 2h0m28 1h0m-18 4h0m35 3h0m-5 8h0m3 1h0m-30 1h0m-4 2h0m0 4h0m41 1h0m-14 3h0m-22 2h0m8 2h0m12 0h0m-35 1h0m45 7h0m-2 1h0m-3 1h0m-24 46h0m3 3h0m-6 3h0m15 3h0m1 1h0m-28 0h0m44 3h0m-30 0h0m36 0h0m-36 1h0m29 0h0m2 0h0m-33 3h0m-4 1h0m18 2h0m-17 0h0m-11 1h0m3 0h0m47 3h0m-4 4h0m-40 2h0m5 0h0m14 1h0m-15 1h0m-3 8h0m-1 0h0m28 2h0m-9 2h0m-14 3h0m37 2h0m-51 0h0m2 0h0m17 2h0m35 5h0m-51 0h0m13 0h0m21 0h0m-10 3h0m0 1h0m19 5h0m-43 0h0m-4 1h0m38 0h0m-9 2h0m10 0h0m2 2h0m6 2h0m0 4h0m-4 6h0m9 1h0m-47 1h0m10 5h0m32 1h0m-21 1h0m-20 3h0m19 1h0m31 5h0m-5 1h0m-47 0h0m11 1h0m37 4h0m-40 0h0m30 0h0m11 1h0m-12 1h0m1 0h0m-16 1h0m6 3h0m25 2h0m-52 4h0m10 2h0m-17 6h0m51 3h0m-25 1h0m21 0h0m-23 0h0m29 0h0m-18 1h0m-35 1h0m55 5h0m-6 0h0m9 1h0m-27 1h0m-7 2h0m23 1h0m-10 2h0m16 3h0m-38 1h0m30 1h0m14 2h0m-33 2h0m1 2h0m21 2h0m-29 0h0m24 1h0m-35 3h0m48 0h0m-22 1h0m-1 5h0m-12 2h0m13 0h0m-14 1h0m21 1h0m-2 2h0m-23 2h0m16 0h0m-4 1h0m-11 1h0m21 3h0m-19 2h0m17 1h0m-27 2h0m10 1h0m0 3h0m-14 2h0m51 0h0m-43 3h0m-13 0h0m12 1h0m34 0h0m-43 1h0m5 0h0m34 1h0m-23 3h0m6 0h0m-10 1h0m12 0h0m-8 6h0m20 3h0m-4 2h0m-13 1h0m11 3h0m-6 0h0m-3 3h0m7 0h0m21 2h0m-3 0h0m-40 1h0m0 0h0m27 0h0m-32 2h0m21 2h0m8 3h0m6 2h0m-24 0h0m23 0h0m9 0h0m10 1h0m-42 1h0m8 2h0m9 2h0m11 0h0m-24 6h0m-12 5h0m-6 4h0m1 1h0m13 0h0m8 1h0m-22 5h0m21 0h0m-13 0h0m-3 3h0m-4 9h0m51 196h0m3 3h0m-8 0h0m5 1h0m6 0h0m-15 9h0m4 0h0m-2 3h0m-7 1h0m7 5h0m-31 5h0m-13 0h0m23 1h0m16 2h0m-29 3h0m46 1h0m-55 2h0m-1 2h0m2 2h0m14 0h0m-8 1h0m-3 1h0m4 1h0m26 0h0m6 4h0m16 1h0m-59 1h0m59 0h0m-3 0h0m-9 0h0m3 2h0m-18 4h0m0 3h0m7 0h0m4 6h0m-3 3h0m-12 0h0m27 1h0m-27 2h0m-9 1h0m19 6h0m-8 1h0m0 1h0m-29 0h0m5 1h0m18 6h0m-23 2h0m24 2h0m26 0h0m3 10h0m-19 3h0m-8 0h0m-12 1h0m-8 4h0m-2 4h0m42 1h0m-4 2h0m-30 1h0m-6 4h0m32 1h0m13 1h0m-38 7h0m39 2h0m-36 1h0m35 6h0m-18 0h0m-5 5h0m-25 2h0m12 8h0m34 3h0m-39 4h0m10 3h0m20 12h0m-16 6h0m-21 0h0m-2 5h0m23 5h0m26 20h0m-33 17h0m11 73h0m27 18h0m-33 161h0m61-1585h0m-19 33h0m-1 70h0m15 1h0m5 3h0m-1 45h0m-12 19h0m11 2h0m11 16h0m-9 0h0m20 4h0m-24 5h0m-1 0h0m10 10h0m27 5h0m-21 6h0m-7 5h0m12 3h0m-18 16h0m13 3h0m23 1h0m-29 4h0m25 7h0m-53 0h0m26 5h0m7 0h0m-20 10h0m15 1h0m12 1h0m-31 1h0m11 0h0m19 3h0m5 13h0m-41 4h0m44 0h0m-40 1h0m6 6h0m6 1h0m12 1h0m25 0h0m-17 1h0m-31 0h0m-7 2h0m8 8h0m34 1h0m-24 3h0m14 1h0m12 4h0m-16 1h0m-29 3h0m15 5h0m15 3h0m13 5h0m-22 1h0m-16 1h0m-3 4h0m34 2h0m6 0h0m-37 0h0m33 5h0m-23 0h0m32 0h0m-38 7h0m25 4h0m-17 4h0m32 1h0m-46 3h0m1 2h0m41 1h0m7 0h0m0 4h0m0 5h0m5 3h0m-56 2h0m39 0h0m-10 1h0m26 4h0m-41 7h0m-8 4h0m10 1h0m21 1h0m-4 1h0m-31 3h0m12 1h0m2 5h0m40 7h0m-34 2h0m0 5h0m22 1h0m-17 2h0m-25 1h0m7 1h0m9 2h0m-16 0h0m8 2h0m8 1h0m-12 5h0m40 3h0m-29 11h0m23 0h0m13 2h0m-52 5h0m28 3h0m-15 2h0m8 2h0m3 0h0m21 5h0m-21 3h0m5 5h0m-19 3h0m23 1h0m4 2h0m-14 1h0m28 1h0m-27 3h0m-25 4h0m42 2h0m-19 2h0m-17 3h0m-3 0h0m31 6h0m-10 4h0m3 1h0m5 2h0m-30 0h0m52 0h0m-34 6h0m20 1h0m-42 1h0m34 1h0m19 1h0m-46 2h0m1 2h0m0 4h0m16 8h0m-6 1h0m10 0h0m-3 1h0m15 3h0m12 5h0m-3 0h0m-23 0h0m20 5h0m-44 1h0m33 2h0m-9 1h0m-7 1h0m5 1h0m-2 0h0m32 4h0m-6 0h0m-46 4h0m44 0h0m-21 1h0m3 6h0m16 0h0m8 1h0m-36 4h0m25 4h0m-7 3h0m-17 4h0m-13 1h0m-3 1h0m3 3h0m29 2h0m-27 2h0m38 1h0m-26 2h0m-4 1h0m-14 0h0m57 2h0m-10 0h0m-22 1h0m-13 11h0m13 2h0m-20 0h0m-4 1h0m11 2h0m34 0h0m-6 2h0m-13 2h0m1 1h0m-9 0h0m-1 3h0m33 1h0m-4 0h0m-20 3h0m-13 6h0m20 1h0m3 3h0m-33 10h0m5 1h0m2 7h0m-2 0h0m24 1h0m6 0h0m-30 1h0m0 1h0m49 2h0m-14 1h0m1 3h0m-27 0h0m31 1h0m-24 5h0m3 3h0m-15 4h0m27 1h0m7 1h0m-1 3h0m-38 1h0m-5 0h0m47 0h0m-44 1h0m40 2h0m-22 4h0m-10 10h0m37 2h0m-12 1h0m3 5h0m-1 2h0m-1 4h0m17 0h0m-22 7h0m-16 1h0m-11 1h0m9 3h0m35 0h0m-34 2h0m30 0h0m-33 5h0m16 6h0m28 7h0m-14 1h0m12 0h0m-31 1h0m12 1h0m15 1h0m-43 0h0m48 4h0m-42 1h0m40 6h0m-13 8h0m-18 6h0m-11 2h0m5 0h0m2 1h0m3 1h0m10 2h0m2 4h0m-3 0h0m-23 0h0m27 0h0m-18 1h0m8 1h0m-5 1h0m28 1h0m7 0h0m-38 1h0m24 6h0m1 1h0m-44 6h0m45 1h0m12 0h0m-16 2h0m16 2h0m-39 0h0m1 1h0m20 2h0m-1 5h0m-8 3h0m18 0h0m-33 4h0m31 0h0m6 5h0m-46 1h0m28 1h0m10 2h0m-8 1h0m-12 3h0m1 0h0m15 0h0m-24 1h0m-9 1h0m26 2h0m-11 0h0m4 3h0m23 0h0m-9 4h0m-20 0h0m-3 0h0m-8 9h0m10 2h0m35 2h0m-2 9h0m-13 3h0m4 2h0m9 3h0m3 0h0m-14 3h0m10 0h0m5 6h0m-9 4h0m-8 1h0m7 6h0m-4 1h0m1 0h0m14 4h0m-11 1h0m3 3h0m-3 4h0m2 7h0m3 8h0m8 60h0m-5 32h0m1 3h0m-1 0h0m-4 1h0m-9 2h0m-6 2h0m-4 4h0m23 2h0m-18 6h0m8 0h0m11 3h0m-16 3h0m2 6h0m-1 2h0m-5 0h0m15 2h0m-1 4h0m-2 3h0m-11 0h0m-11 1h0m28 4h0m-18 1h0m5 1h0m5 0h0m-16 1h0m-18 0h0m4 1h0m3 3h0m40 2h0m-37 2h0m-3 1h0m-9 3h0m10 2h0m-8 0h0m20 1h0m21 4h0m-46 2h0m5 2h0m-1 2h0m-5 3h0m-4 1h0m44 0h0m-26 3h0m-4 1h0m-3 0h0m27 1h0m10 7h0m-18 2h0m-7 0h0m7 13h0m-10 0h0m31 0h0m-51 0h0m16 4h0m-7 3h0m8 3h0m8 2h0m-17 5h0m-5 3h0m32 1h0m-29 1h0m6 2h0m23 0h0m-19 1h0m9 11h0m-1 0h0m22 5h0m-26 9h0m38 12h0m-14 5h0m3 4h0m-40 2h0m10 8h0m21 12h0m13 6h0m-18 17h0m-10 7h0m4 37h0m5 201h0m-27 186h0m75-1717h0m3 158h0m-20 20h0m10 2h0m22 24h0m8 9h0m-43 5h0m27 9h0m-17 11h0m29 53h0m5 14h0m-33 11h0m19 1h0m1 3h0m-6 3h0m-4 3h0m13 7h0m-20 6h0m-4 18h0m4 3h0m36 7h0m-49 5h0m45 4h0m-6 11h0m-35 2h0m26 4h0m-30 7h0m14 3h0m2 0h0m26 2h0m-29 9h0m16 0h0m11 5h0m-35 5h0m34 4h0m-7 3h0m-24 17h0m-4 2h0m34 9h0m-39 2h0m1 3h0m-1 5h0m15 7h0m-2 6h0m36 2h0m-22 1h0m4 7h0m-32 1h0m9 1h0m36 3h0m-15 10h0m-20 0h0m-9 12h0m19 4h0m24 7h0m-11 2h0m-10 0h0m27 1h0m0 3h0m-35 1h0m-3 1h0m3 3h0m-5 8h0m38 9h0m-10 1h0m-16 7h0m28 0h0m1 2h0m-47 0h0m22 13h0m-7 7h0m-5 1h0m38 12h0m7 2h0m-1 1h0m-32 1h0m-12 3h0m-2 6h0m20 5h0m-7 16h0m1 0h0m-17 4h0m48 2h0m-16 0h0m-14 3h0m6 0h0m-15 3h0m40 7h0m-49 1h0m20 0h0m-13 1h0m7 0h0m-18 1h0m24 0h0m-16 6h0m31 2h0m-44 4h0m23 0h0m15 4h0m9 3h0m-8 1h0m-6 8h0m-28 0h0m27 1h0m-20 0h0m-9 1h0m53 1h0m-44 15h0m45 1h0m-40 1h0m9 1h0m-16 2h0m17 2h0m17 0h0m-17 0h0m20 1h0m-47 0h0m47 3h0m-31 3h0m22 0h0m-16 5h0m1 5h0m27 2h0m-28 0h0m27 0h0m-35 7h0m32 2h0m5 1h0m4 4h0m-9 2h0m-43 4h0m49 2h0m-37 2h0m12 0h0m20 2h0m10 2h0m-25 5h0m-13 0h0m37 2h0m-45 0h0m41 4h0m-37 1h0m-5 2h0m1 2h0m28 1h0m-33 1h0m31 0h0m-9 1h0m-25 0h0m45 1h0m-38 3h0m36 0h0m-19 1h0m7 3h0m10 0h0m-26 0h0m3 3h0m22 6h0m-42 0h0m49 0h0m-39 1h0m16 0h0m-1 1h0m5 3h0m19 5h0m-26 7h0m5 2h0m3 3h0m-32 1h0m32 1h0m2 1h0m7 0h0m9 1h0m-41 1h0m37 3h0m-29 0h0m34 9h0m-35 1h0m17 4h0m-3 2h0m-17 0h0m24 1h0m-34 0h0m45 2h0m6 2h0m-13 0h0m11 0h0m-20 2h0m27 3h0m-20 1h0m-16 0h0m-4 0h0m-11 1h0m10 9h0m41 1h0m-38 2h0m5 0h0m26 0h0m2 0h0m-33 0h0m5 2h0m-12 2h0m-7 1h0m47 1h0m-52 2h0m28 1h0m-8 0h0m-7 1h0m1 3h0m33 3h0m-31 3h0m36 1h0m-48 2h0m39 0h0m-24 0h0m3 3h0m-11 0h0m34 0h0m0 2h0m-25 0h0m-8 0h0m17 2h0m22 1h0m-24 1h0m26 4h0m-44 3h0m15 3h0m24 2h0m-22 2h0m-19 0h0m0 0h0m48 2h0m-18 2h0m-29 5h0m15 1h0m26 1h0m-40 1h0m10 0h0m-8 1h0m24 1h0m-15 1h0m24 1h0m-26 1h0m7 0h0m9 7h0m11 3h0m-14 2h0m-2 3h0m5 1h0m-32 2h0m22 1h0m22 1h0m-13 2h0m23 1h0m-26 0h0m27 0h0m-50 1h0m18 1h0m-13 2h0m22 2h0m0 4h0m-33 3h0m17 1h0m20 1h0m1 3h0m-27 0h0m18 0h0m20 5h0m-28 0h0m-7 1h0m-3 1h0m-8 1h0m38 2h0m-34 1h0m34 0h0m-39 0h0m43 3h0m3 7h0m2 4h0m1 18h0m4 5h0m-29 2h0m15 1h0m-9 1h0m-11 4h0m27 0h0m-34 0h0m-16 1h0m8 4h0m19 0h0m-23 0h0m-4 1h0m20 1h0m-19 1h0m35 2h0m-29 3h0m2 3h0m38 1h0m-31 1h0m-2 1h0m39 1h0m-52 2h0m49 3h0m-44 4h0m7 4h0m43 2h0m-54 1h0m14 1h0m26 0h0m-38 1h0m27 0h0m-3 1h0m22 3h0m-15 7h0m5 1h0m-22 2h0m33 0h0m-27 0h0m18 2h0m-35 2h0m33 1h0m-15 2h0m-5 3h0m-4 0h0m1 2h0m20 0h0m-9 2h0m-2 2h0m-10 3h0m0 1h0m10 1h0m-11 4h0m12 0h0m4 4h0m-19 0h0m-10 5h0m42 2h0m-23 3h0m-17 6h0m10 6h0m-8 5h0m27 2h0m-2 0h0m13 2h0m-36 4h0m30 2h0m12 0h0m-6 21h0m-4 7h0m-31 9h0m12 3h0m19 2h0m-17 1h0m18 1h0m-39 10h0m9 5h0m-4 2h0m51 16h0m-42 22h0m23 7h0m-30 31h0m10 11h0m6 6h0m-18 27h0m71-1354h0m1 186h0m-1 59h0m30 13h0m-44 39h0m33 25h0m-6 3h0m25 2h0m-55 21h0m30 5h0m22 2h0m-52 6h0m1 6h0m27 13h0m-28 3h0m30 3h0m-5 2h0m-27 9h0m55 8h0m-32 44h0m-5 1h0m25 1h0m-33 3h0m45 3h0m-36 35h0m39 0h0m-28 0h0m-14 17h0m30 34h0m-12 1h0m-11 5h0m-23 6h0m7 6h0m22 5h0m-26 3h0m16 1h0m1 24h0m-15 5h0m-3 5h0m8 18h0m26 4h0m13 3h0m3 4h0m-43 10h0m48 1h0m-49 4h0m-6 2h0m34 0h0m12 7h0m-17 2h0m27 1h0m-39 7h0m32 8h0m-39 5h0m11 16h0m35 19h0m-2 0h0m-51 0h0m51 1h0m-52 2h0m25 2h0m1 4h0m-17 2h0m23 2h0m13 0h0m-27 1h0m14 0h0m-30 0h0m7 14h0m27 4h0m2 7h0m-42 1h0m43 2h0m-3 2h0m-26 2h0m18 0h0m-19 5h0m-8 3h0m25 1h0m8 4h0m-23 1h0m4 0h0m35 1h0m-8 6h0m5 2h0m-10 3h0m-7 0h0m-24 2h0m48 4h0m-20 3h0m-30 1h0m21 1h0m-2 0h0m16 6h0m-42 2h0m4 0h0m12 5h0m2 2h0m18 0h0m-32 4h0m40 2h0m-24 6h0m-16 1h0m40 1h0m-7 0h0m-36 2h0m49 5h0m-46 1h0m13 3h0m-13 3h0m46 3h0m-35 4h0m33 1h0m-9 1h0m-33 3h0m31 1h0m18 3h0m-7 1h0m-10 4h0m14 4h0m-16 1h0m17 1h0m-29 3h0m22 0h0m-38 2h0m-5 6h0m4 0h0m8 1h0m43 1h0m-59 3h0m58 0h0m0 0h0m-28 2h0m15 1h0m-27 0h0m31 1h0m-10 0h0m-15 1h0m-24 3h0m46 0h0m-8 2h0m-28 2h0m12 6h0m23 1h0m-39 1h0m27 4h0m3 0h0m16 5h0m-34 3h0m39 1h0m-42 0h0m33 4h0m-47 0h0m21 1h0m24 4h0m-28 0h0m18 3h0m14 0h0m-41 1h0m19 0h0m31 0h0m-21 1h0m-16 1h0m-20 4h0m37 2h0m11 2h0m-3 10h0m-43 0h0m27 1h0m-26 2h0m42 3h0m-7 2h0m2 3h0m13 3h0m-37 0h0m-11 4h0m4 0h0m22 0h0m-28 1h0m48 0h0m-52 1h0m30 6h0m-22 0h0m19 1h0m22 2h0m-28 1h0m27 0h0m-37 0h0m1 3h0m13 0h0m8 0h0m-28 4h0m48 1h0m-36 1h0m6 0h0m17 1h0m-8 1h0m-21 1h0m3 4h0m19 1h0m-2 1h0m-1 1h0m-1 1h0m7 5h0m-37 3h0m28 2h0m-26 4h0m52 0h0m-49 2h0m3 0h0m8 1h0m16 1h0m-30 1h0m2 3h0m21 2h0m-10 1h0m1 2h0m11 4h0m11 1h0m-7 0h0m2 1h0m-20 1h0m43 0h0m-13 1h0m-34 2h0m16 4h0m-5 4h0m-15 2h0m16 1h0m22 3h0m-40 6h0m45 3h0m-9 1h0m-30 3h0m8 0h0m31 0h0m-28 4h0m36 4h0m-7 0h0m-34 1h0m5 1h0m-5 0h0m9 0h0m-17 1h0m1 0h0m45 3h0m-30 4h0m-1 0h0m16 9h0m-2 0h0m8 1h0m-38 1h0m11 1h0m11 4h0m-15 7h0m-3 0h0m41 16h0m-44 3h0m19 1h0m-22 3h0m6 3h0m22 1h0m-17 19h0m23 9h0m-22 1h0m18 0h0m-13 6h0m-15 1h0m-2 4h0m7 9h0m-7 4h0m-3 1h0m6 19h0m-4 12h0m16 22h0m-1 18h0m-3 32h0m28 40h0m-13 60h0m-21 33h0m61-1205h0m-2 11h0m25 118h0m-14 38h0m31 8h0m-37 12h0m38 16h0m-31 64h0m27 40h0m-27 1h0m21 29h0m10 7h0m-35 7h0m3 1h0m-6 16h0m5 10h0m34 12h0m-17 5h0m18 10h0m-23 9h0m13 6h0m-23 0h0m-11 3h0m36 5h0m-40 10h0m54 0h0m-59 4h0m7 31h0m2 3h0m30 3h0m-1 1h0m-5 10h0m22 11h0m0 3h0m-22 0h0m-25 3h0m30 11h0m-26 13h0m16 3h0m-17 5h0m14 2h0m-18 5h0m50 3h0m-20 7h0m-19 4h0m32 1h0m-39 1h0m2 5h0m25 2h0m-33 2h0m-5 2h0m51 1h0m-25 1h0m-24 1h0m13 1h0m28 2h0m-39 6h0m44 0h0m7 5h0m-22 5h0m-27 1h0m38 2h0m-11 1h0m-6 6h0m-3 2h0m4 8h0m30 2h0m-3 4h0m-17 1h0m10 2h0m-27 2h0m-2 1h0m-8 3h0m40 3h0m4 4h0m-18 0h0m-9 9h0m-23 8h0m23 3h0m-8 0h0m-5 2h0m31 0h0m-21 2h0m-25 5h0m51 0h0m2 9h0m-15 7h0m16 5h0m-23 5h0m17 0h0m10 1h0m-20 2h0m-21 1h0m-9 2h0m2 1h0m35 2h0m-21 1h0m-15 5h0m26 5h0m-31 5h0m20 0h0m25 6h0m-18 8h0m-29 3h0m-2 4h0m22 3h0m37 0h0m-7 4h0m-45 0h0m4 3h0m10 7h0m23 1h0m-27 1h0m19 1h0m-22 3h0m-14 4h0m0 0h0m24 0h0m8 2h0m-2 2h0m27 3h0m-26 0h0m8 1h0m-21 3h0m-7 1h0m11 2h0m-5 0h0m5 1h0m30 6h0m-51 0h0m38 1h0m-22 3h0m34 0h0m-30 2h0m-3 0h0m37 5h0m-48 1h0m9 1h0m19 3h0m3 0h0m-30 4h0m-6 0h0m4 4h0m27 1h0m-33 8h0m11 18h0m-4 1h0m30 10h0m-37 1h0m57 1h0m-26 8h0m-28 4h0m21 2h0m35 8h0m-51 1h0m43 3h0m-36 3h0m0 2h0m-5 2h0m10 2h0m33 0h0m-39 6h0m16 1h0m18 3h0m-36 6h0m41 0h0m-45 16h0m-1 6h0m5 26h0m-7 5h0m20 0h0m5 5h0m23 6h0m-2 9h0m-35 9h0m7 21h0m22 45h0m-3 1h0m-21 54h0m40-888h0m0 12h0m52 24h0m-7 27h0m-8 5h0m-16 25h0m14 0h0m-22 31h0m18 1h0m11 30h0m-27 44h0m-15 4h0m43 7h0m-17 20h0m16 10h0m3 21h0m2 3h0m-35 9h0m-11 6h0m29 2h0m-25 1h0m-5 6h0m42 1h0m-8 15h0m-4 3h0m3 1h0m3 1h0m-6 10h0m7 7h0m-1 6h0m-21 2h0m-14 10h0m31 7h0m-19 1h0m27 2h0m-5 6h0m-9 0h0m-22 2h0m34 1h0m-24 1h0m6 4h0m3 2h0m-17 3h0m13 4h0m26 2h0m-41 5h0m5 1h0m-3 1h0m35 9h0m-12 7h0m0 3h0m-29 7h0m33 5h0m23 6h0m-2 2h0m-35 5h0m-14 1h0m32 5h0m-6 6h0m13 5h0m-42 4h0m0 1h0m13 1h0m24 1h0m-6 5h0m-26 2h0m32 0h0m-8 1h0m-24 5h0m26 4h0m-6 1h0m1 3h0m1 1h0m-16 9h0m24 3h0m18 2h0m-31 2h0m33 1h0m-42 2h0m40 8h0m-49 4h0m11 0h0m-14 1h0m24 5h0m30 21h0m-22 2h0m13 19h0m-5 6h0m3 6h0m-4 3h0m-11 1h0m-4 6h0m-18 18h0m9 1h0m-5 7h0m-3 9h0m0 5h0m34 8h0m-38 3h0m-2 6h0m43 19h0m3 8h0m-30 5h0m-2 7h0m1 3h0m39 31h0m-55 3h0m19 5h0m36 8h0m-28 8h0m29-1123h0m47 261h0m-4 97h0m-8 26h0m-28 119h0m-3 48h0m21 14h0m19 22h0m4 6h0m-39 7h0m23 3h0m-28 4h0m9 6h0m-9 23h0m27 21h0m-15 0h0m23 13h0m15 2h0m-9 10h0m-23 6h0m-4 1h0m-9 1h0m9 7h0m20 3h0m-27 0h0m1 5h0m34 1h0m9 1h0m-37 8h0m1 6h0m6 9h0m7 3h0m-10 11h0m23 3h0m-15 7h0m-8 17h0m30 0h0m-41 4h0m2 22h0m-13 7h0m45 14h0m-39 4h0m33 4h0m-10 17h0m-6 1h0m2 1h0m11 2h0m-36 9h0m10 0h0m-3 1h0m27 4h0m-2 2h0m-29 3h0m51 4h0m-45 6h0m35 10h0m-14 2h0m-6 6h0m13 6h0m1 5h0m-10 4h0m-7 1h0m7 3h0m8 8h0m-8 2h0m6 7h0m-32 5h0m48 3h0m-39 2h0m-10 35h0m20 10h0m-6 3h0m-14 2h0m9 8h0m-9 4h0m34 1h0m-19 10h0m0 17h0m-16 5h0m40 16h0m-40 3h0m27 16h0m27 3h0m-26 21h0m-3 17h0m11 58h0m44-1442h0m-18 389h0m13 165h0m16 76h0m-20 72h0m19 41h0m-3 16h0m25 10h0m-2 5h0m-47 22h0m30 14h0m-29 72h0m26 3h0m-29 25h0m35 2h0m12 5h0m-3 10h0m-21 8h0m6 9h0m-21 6h0m7 34h0m6 7h0m10 11h0m-16 9h0m11 19h0m7 9h0m17 2h0m-39 4h0m30 0h0m8 37h0m-24 15h0m32 1h0m1 4h0m-11 6h0m-32 2h0m30 9h0m-27 22h0m19 3h0m-38 1h0m34 10h0m-17 3h0m37 5h0m-43 28h0m24 2h0m-15 1h0m3 4h0m16 17h0m13 3h0m-39 10h0m6 24h0m21 4h0m-3 30h0m13 586h0m44-1161h0m-33 35h0m23 70h0m10 59h0m-19 3h0m40 27h0m-7 12h0m-35 1h0m29 23h0m-17 4h0m-15 8h0m36 6h0m-19 8h0m17 6h0m11 33h0m-18 15h0m-33 42h0m39 8h0m-36 3h0m38 49h0m-9 1h0m-36 6h0m48 16h0m-24 10h0m-9 23h0m1 8h0m14 306h0m81-971h0m-21 95h0m-6 141h0m7 14h0m-26 21h0m14 108h0m-3 22h0m-4 90h0m50-196h0m29 139h0m13 99h0m50-638h0m-5 258h0m14 73h0m-15 164h0m-18 21h0m34 135h0m-41 30h0m13 438h0m71-1206h0m-11 71h0m16 210h0m7 208h0m-11 30h0m38-90h0m0 59h0"/>
</g>
<g transform="scale(.1)"><path class="x" d="M1627 1752l42 42m0-42l-42 42"/></g>
<path class="l" d="M53.2 145.5H163.2L284.3 28.4"/>
</g>
<g clip-path="url(#c1)">
<g transform="scale(.1)">
<path class="u" d="M4135 700h10v5h-10zM4120 705h5v5h-5zM4130 705h20v5h-20zM4115 710h40v5h-40zM4110 715h50v5h-50zM4110 720h55v5h-55zM4110 725h55v5h-55zM4110 730h100v5h-100zM4110 735h105v5h-105zM4110 740h110v5h-110zM4035 745h5v5h-5zM4110 745h120v5h-120zM4280 745h5v5h-5zM4030 750h15v5h-15zM4110 750h155v5h-155zM4270 750h20v5h-20zM4025 755h25v5h-25zM4110 755h185v5h-185zM4020 760h35v5h-35zM4105 760h195v5h-195zM4015 765h50v5h-50zM4070 765h230v5h-230zM4010 770h285v5h-285zM4005 775h285v5h-285zM4005 780h280v5h-280zM4005 785h280v5h-280zM4005 790h285v5h-285zM4005 795h285v5h-285zM4005 800h280v5h-280zM4005 805h280v5h-280zM4005 810h280v5h-280zM4005 815h280v5h-280zM4005 820h280v5h-280zM4000 825h285v5h-285zM4000 830h285v5h-285zM3970 835h320v5h-320zM3960 840h330v5h-330zM3955 845h330v5h-330zM3940 850h345v5h-345zM3935 855h350v5h-350zM3930 860h355v5h-355zM3935 865h365v5h-365zM3930 870h375v5h-375zM3935 875h375v5h-375zM3935 880h380v5h-380zM3935 885h380v5h-380zM3935 890h380v5h-380zM3935 895h385v5h-385zM3935 900h385v5h-385zM3935 905h385v5h-385zM3935 910h385v5h-385zM3930 915h390v5h-390zM3930 920h395v5h-395zM3925 925h415v5h-415zM3920 930h425v5h-425zM3915 935h435v5h-435zM3915 940h430v5h-430zM3910 945h430v5h-430zM3910 950h425v5h-425zM3905 955h430v5h-430zM3895 960h440v5h-440zM3890 965h445v5h-445zM3885 970h450v5h-450zM3880 975h455v5h-455zM3880 980h455v5h-455zM3880 985h455v5h-455zM3880 990h480v5h-480zM3875 995h490v5h-490zM3870 1000h500v5h-500zM3865 1005h500v5h-500zM3865 1010h495v5h-495zM3870 1015h485v5h-485zM3875 1020h460v5h-460zM3915 1025h415v5h-415zM3910 1030h420v5h-420zM3905 1035h420v5h-420zM3900 1040h420v5h-420zM3900 1045h420v5h-420zM3900 1050h420v5h-420zM3900 1055h425v5h-425zM3900 1060h430v5h-430zM3895 1065h435v5h-435zM3880 1070h455v5h-455zM4470 1070h5v5h-5zM3875 1075h455v5h-455zM4465 1075h15v5h-15zM3870 1080h455v5h-455zM4460 1080h25v5h-25zM3875 1085h450v5h-450zM4460 1085h25v5h-25zM3870 1090h460v5h-460zM4460 1090h20v5h-20zM4550 1090h5v5h-5zM3865 1095h470v5h-470zM4410 1095h80v5h-80zM4535 1095h25v5h-25zM3860 1100h470v5h-470zM4405 1100h90v5h-90zM4530 1100h35v5h-35zM3855 1105h475v5h-475zM4400 1105h100v5h-100zM4525 1105h40v5h-40zM4620 1105h5v5h-5zM3855 1110h475v5h-475zM4400 1110h100v5h-100zM4525 1110h35v5h-35zM4615 1110h15v5h-15zM3860 1115h470v5h-470zM4385 1115h180v5h-180zM4610 1115h25v5h-25zM3850 1120h480v5h-480zM4380 1120h205v5h-205zM4605 1120h30v5h-30zM3845 1125h505v5h-505zM4375 1125h260v5h-260zM3840 1130h515v5h-515zM4375 1130h260v5h-260zM3840 1135h520v5h-520zM4375 1135h260v5h-260zM3840 1140h800v5h-800zM3840 1145h800v5h-800zM3840 1150h800v5h-800zM3840 1155h795v5h-795zM3840 1160h390v5h-390zM4265 1160h365v5h-365zM3840 1165h390v5h-390zM4265 1165h345v5h-345zM3840 1170h390v5h-390zM4270 1170h340v5h-340zM3840 1175h390v5h-390zM4270 1175h360v5h-360zM3840 1180h390v5h-390zM4270 1180h115v5h-115zM4405 1180h230v5h-230zM3840 1185h390v5h-390zM4270 1185h100v5h-100zM4405 1185h235v5h-235zM3815 1190h555v5h-555zM4405 1190h240v5h-240zM3810 1195h565v5h-565zM4400 1195h245v5h-245zM3805 1200h570v5h-570zM4395 1200h245v5h-245zM3805 1205h565v5h-565zM4390 1205h245v5h-245zM3805 1210h570v5h-570zM4385 1210h255v5h-255zM3790 1215h5v5h-5zM3805 1215h565v5h-565zM4390 1215h250v5h-250zM3785 1220h850v5h-850zM3780 1225h855v5h-855zM3775 1230h860v5h-860zM3770 1235h860v5h-860zM3770 1240h855v5h-855zM3770 1245h860v5h-860zM3770 1250h860v5h-860zM3770 1255h855v5h-855zM3770 1260h850v5h-850zM3765 1265h850v5h-850zM3760 1270h845v5h-845zM3755 1275h850v5h-850zM3755 1280h845v5h-845zM3745 1285h840v5h-840zM4590 1285h5v5h-5zM3725 1290h860v5h-860zM3720 1295h865v5h-865zM3715 1300h870v5h-870zM3710 1305h875v5h-875zM3715 1310h865v5h-865zM3715 1315h865v5h-865zM3720 1320h860v5h-860zM3725 1325h855v5h-855zM3740 1330h845v5h-845zM3750 1335h840v5h-840zM3750 1340h845v5h-845zM3750 1345h840v5h-840zM3755 1350h830v5h-830zM3760 1355h805v5h-805zM3770 1360h790v5h-790zM3720 1365h5v5h-5zM3745 1365h10v5h-10zM3760 1365h800v5h-800zM3715 1370h20v5h-20zM3740 1370h820v5h-820zM3710 1375h850v5h-850zM3710 1380h850v5h-850zM3710 1385h850v5h-850zM3710 1390h850v5h-850zM3715 1395h845v5h-845zM3720 1400h845v5h-845zM3735 1405h15v5h-15zM3755 1405h815v5h-815zM3755 1410h815v5h-815zM3755 1415h810v5h-810zM3745 1420h815v5h-815zM3740 1425h815v5h-815zM3735 1430h805v5h-805zM3735 1435h805v5h-805zM3735 1440h805v5h-805zM3735 1445h805v5h-805zM3730 1450h810v5h-810zM3730 1455h40v5h-40zM3780 1455h10v5h-10zM3810 1455h730v5h-730zM3735 1460h40v5h-40zM3805 1460h730v5h-730zM3740 1465h30v5h-30zM3810 1465h720v5h-720zM3750 1470h25v5h-25zM3790 1470h735v5h-735zM3755 1475h15v5h-15zM3785 1475h735v5h-735zM3760 1480h5v5h-5zM3780 1480h710v5h-710zM3780 1485h705v5h-705zM3780 1490h700v5h-700zM3775 1495h685v5h-685zM3770 1500h685v5h-685zM3765 1505h670v5h-670zM3765 1510h665v5h-665zM3770 1515h650v5h-650zM3770 1520h645v5h-645zM3765 1525h650v5h-650zM3765 1530h650v5h-650zM3770 1535h650v5h-650zM3775 1540h640v5h-640zM3780 1545h635v5h-635zM3785 1550h15v5h-15zM3805 1550h615v5h-615zM3815 1555h610v5h-610zM3810 1560h615v5h-615zM3805 1565h615v5h-615zM3805 1570h585v5h-585zM4405 1570h10v5h-10zM3805 1575h575v5h-575zM3805 1580h570v5h-570zM3800 1585h575v5h-575zM3800 1590h490v5h-490zM4315 1590h55v5h-55zM3805 1595h485v5h-485zM4320 1595h45v5h-45zM3800 1600h485v5h-485zM4335 1600h20v5h-20zM3795 1605h475v5h-475zM4275 1605h5v5h-5zM4340 1605h10v5h-10zM3760 1610h505v5h-505zM3755 1615h510v5h-510zM3750 1620h510v5h-510zM3755 1625h500v5h-500zM3755 1630h495v5h-495zM3750 1635h500v5h-500zM3755 1640h490v5h-490zM3755 1645h485v5h-485zM3755 1650h480v5h-480zM3755 1655h460v5h-460zM3755 1660h460v5h-460zM3750 1665h465v5h-465zM3745 1670h470v5h-470zM3690 1675h5v5h-5zM3740 1675h475v5h-475zM3685 1680h15v5h-15zM3745 1680h470v5h-470zM3680 1685h25v5h-25zM3750 1685h460v5h-460zM3685 1690h15v5h-15zM3750 1690h415v5h-415zM4200 1690h5v5h-5zM3685 1695h15v5h-15zM3750 1695h425v5h-425zM3680 1700h25v5h-25zM3750 1700h370v5h-370zM4150 1700h30v5h-30zM3680 1705h35v5h-35zM3745 1705h380v5h-380zM4150 1705h35v5h-35zM3680 1710h40v5h-40zM3740 1710h380v5h-380zM4155 1710h25v5h-25zM3675 1715h50v5h-50zM3740 1715h385v5h-385zM4160 1715h15v5h-15zM3675 1720h45v5h-45zM3745 1720h385v5h-385zM4165 1720h5v5h-5zM3680 1725h25v5h-25zM3710 1725h5v5h-5zM3750 1725h375v5h-375zM3675 1730h35v5h-35zM3755 1730h365v5h-365zM3660 1735h55v5h-55zM3755 1735h240v5h-240zM4005 1735h110v5h-110zM3655 1740h65v5h-65zM3755 1740h235v5h-235zM4090 1740h20v5h-20zM3650 1745h70v5h-70zM3755 1745h230v5h-230zM4095 1745h15v5h-15zM3655 1750h70v5h-70zM3750 1750h230v5h-230zM4090 1750h25v5h-25zM3660 1755h65v5h-65zM3755 1755h220v5h-220zM4090 1755h25v5h-25zM3665 1760h55v5h-55zM3760 1760h150v5h-150zM3915 1760h55v5h-55zM4095 1760h15v5h-15zM3675 1765h45v5h-45zM3760 1765h205v5h-205zM4100 1765h5v5h-5zM3680 1770h270v5h-270zM3680 1775h265v5h-265zM3680 1780h255v5h-255zM3680 1785h255v5h-255zM3680 1790h255v5h-255zM3680 1795h255v5h-255zM3685 1800h60v5h-60zM3765 1800h170v5h-170zM3690 1805h50v5h-50zM3770 1805h165v5h-165zM3695 1810h40v5h-40zM3770 1810h160v5h-160zM3700 1815h20v5h-20zM3775 1815h150v5h-150zM3705 1820h5v5h-5zM3780 1820h40v5h-40zM3870 1820h5v5h-5zM3790 1825h30v5h-30zM3795 1830h20v5h-20zM3800 1835h10v5h-10z"/>
<path class="d" d="M2839 1556h0m19 36h0m71 1h0m-41 12h0m29 569h0m66-752h0m-8 106h0m-26 74h0m45 131h0m-15 425h0m23-1145h0m50 302h0m1 86h0m-12 87h0m-19 5h0m-6 105h0m30 99h0m-9 56h0m68-582h0m-8 49h0m-32 136h0m37 34h0m15 37h0m-5 43h0m-15 39h0m22 81h0m-40 96h0m-1 31h0m27 215h0m-34 106h0m71-818h0m4 88h0m13 108h0m11 19h0m-28 13h0m-7 5h0m37 43h0m-41 9h0m17 6h0m1 4h0m-1 18h0m-28 4h0m21 37h0m14 7h0m-27 51h0m46 71h0m-9 33h0m-37 0h0m45 90h0m-25 372h0m48-1272h0m-9 178h0m6 209h0m27 7h0m-37 3h0m11 29h0m40 47h0m2 26h0m-12 35h0m-1 2h0m12 21h0m-24 29h0m14 16h0m0 36h0m14 11h0m-59 24h0m42 3h0m-35 4h0m10 81h0m89-486h0m-37 35h0m29 23h0m2 47h0m3 46h0m-15 3h0m-15 4h0m-10 11h0m38 0h0m-33 56h0m25 16h0m-18 5h0m5 16h0m-8 4h0m0 27h0m45 14h0m-45 10h0m47 3h0m-33 11h0m-3 0h0m12 12h0m13 15h0m-7 26h0m-17 15h0m9 10h0m10 25h0m-20 14h0m-18 19h0m12 6h0m9 24h0m4 13h0m-28 54h0m56 54h0m-3 12h0m-53 6h0m6 8h0m31 44h0m-1 13h0m-10 20h0m26 62h0m2 50h0m3 10h0m-28 42h0m-14 16h0m90-1013h0m-2 76h0m-10 24h0m7 109h0m-2 22h0m-8 13h0m-16 6h0m31 67h0m-32 36h0m-12 4h0m25 7h0m-9 1h0m40 8h0m-2 3h0m-14 8h0m-5 4h0m-20 1h0m33 0h0m-17 1h0m-6 4h0m2 5h0m-9 4h0m2 18h0m36 2h0m-39 48h0m39 27h0m-22 4h0m-32 7h0m1 30h0m15 2h0m7 19h0m-8 0h0m37 1h0m-57 3h0m49 77h0m3 5h0m-19 34h0m24 17h0m-40 18h0m3 12h0m39 10h0m-2 10h0m-29 22h0m17 43h0m-34 16h0m47 4h0m-28 21h0m-13 8h0m10 7h0m-5 13h0m10 3h0m-24 12h0m1 3h0m22 14h0m49-944h0m-13 4h0m-3 107h0m31 85h0m-10 29h0m-21 1h0m3 14h0m11 10h0m2 11h0m16 1h0m0 14h0m6 5h0m-18 3h0m30 0h0m-41 4h0m-4 67h0m34 24h0m-16 21h0m-5 1h0m-21 2h0m55 1h0m-3 21h0m6 12h0m-23 13h0m-9 6h0m-23 24h0m29 6h0m-6 36h0m-9 20h0m-16 20h0m48 5h0m-8 10h0m-20 7h0m3 34h0m4 1h0m11 16h0m8 3h0m-44 1h0m12 45h0m35 4h0m-38 29h0m3 7h0m12 21h0m-13 12h0m-12 2h0m21 1h0m18 4h0m-36 15h0m49 13h0m-25 14h0m10 5h0m-30 56h0m14 12h0m-5 28h0m-8 7h0m29 11h0m-20 36h0m13 156h0m29-1295h0m51 233h0m-16 103h0m16 4h0m-24 25h0m15 2h0m-35 20h0m-5 8h0m-1 7h0m52 4h0m-53 13h0m8 42h0m3 3h0m6 12h0m-4 4h0m3 0h0m-8 0h0m15 10h0m-24 0h0m32 7h0m-18 16h0m-15 10h0m47 9h0m0 5h0m9 0h0m-39 29h0m35 4h0m-37 8h0m-7 24h0m45 22h0m-30 13h0m-20 2h0m52 1h0m-48 1h0m1 5h0m44 4h0m7 11h0m-21 2h0m10 11h0m-2 13h0m-13 15h0m17 4h0m-27 2h0m7 2h0m-28 7h0m-1 47h0m36 35h0m1 5h0m-9 4h0m-13 2h0m37 12h0m1 4h0m-7 10h0m-15 0h0m21 11h0m-6 67h0m12 14h0m-27 5h0m-31 13h0m20 10h0m15 12h0m-20 50h0m37 2h0m-35 3h0m7 15h0m-3 28h0m5 3h0m27 9h0m-38 1h0m17 12h0m-20 1h0m29 43h0m-42 14h0m45 71h0m-43 17h0m40 63h0m74-1265h0m-50 169h0m32 34h0m-14 51h0m10 20h0m24 4h0m-13 6h0m-30 40h0m44 46h0m-51 10h0m24 4h0m-11 24h0m9 2h0m28 7h0m-1 2h0m-40 23h0m30 1h0m-36 4h0m-9 16h0m46 2h0m-35 15h0m21 2h0m-10 7h0m11 4h0m19 16h0m-6 5h0m-35 26h0m-4 1h0m47 4h0m-26 2h0m29 1h0m-4 3h0m-29 2h0m26 3h0m-35 7h0m14 5h0m5 7h0m-14 2h0m18 5h0m-4 0h0m19 5h0m-33 7h0m24 2h0m-13 22h0m-18 1h0m9 6h0m-11 5h0m19 21h0m23 9h0m-18 10h0m-16 7h0m-21 7h0m17 17h0m-3 22h0m27 10h0m18 5h0m-1 1h0m-6 11h0m-20 1h0m15 4h0m8 4h0m-48 4h0m9 0h0m13 7h0m-3 1h0m-2 10h0m-11 6h0m36 3h0m-27 6h0m25 9h0m-4 13h0m-43 1h0m55 10h0m-47 16h0m36 1h0m-37 7h0m45 4h0m-21 2h0m24 4h0m-39 2h0m-5 21h0m11 6h0m34 5h0m-43 1h0m34 4h0m-28 5h0m28 4h0m4 16h0m3 2h0m-38 5h0m4 2h0m31 2h0m-48 1h0m50 8h0m-24 11h0m-4 2h0m-22 6h0m8 15h0m47 9h0m-32 9h0m7 2h0m13 25h0m2 9h0m-4 0h0m-14 2h0m-6 3h0m8 3h0m6 16h0m-27 6h0m18 3h0m11 15h0m-17 5h0m27 7h0m-18 6h0m21 29h0m-36 90h0m22 5h0m20 2h0m-31 49h0m47-1289h0m34 166h0m-13 41h0m-33 1h0m47 4h0m-40 53h0m-2 50h0m48 4h0m-30 8h0m4 10h0m24 4h0m-30 5h0m22 13h0m-36 5h0m43 1h0m-11 0h0m16 8h0m-9 3h0m-26 18h0m14 3h0m21 4h0m-53 4h0m45 5h0m-33 1h0m13 19h0m-20 19h0m47 2h0m-16 13h0m5 1h0m10 3h0m-14 1h0m-38 2h0m34 14h0m-36 19h0m10 9h0m42 3h0m-31 6h0m11 1h0m14 8h0m-46 4h0m21 3h0m10 2h0m-3 3h0m-15 15h0m41 29h0m-4 7h0m-51 2h0m36 15h0m-25 1h0m19 1h0m-23 14h0m50 2h0m-33 0h0m21 1h0m-42 0h0m-2 12h0m53 0h0m-41 2h0m7 1h0m-3 5h0m-8 14h0m7 8h0m19 12h0m-9 3h0m-10 3h0m-1 2h0m37 2h0m-23 5h0m-16 2h0m17 1h0m13 20h0m-25 4h0m5 0h0m35 15h0m-29 4h0m-12 3h0m4 3h0m37 4h0m-43 6h0m37 10h0m-6 5h0m7 9h0m1 5h0m-7 6h0m6 2h0m1 5h0m-48 6h0m4 1h0m29 5h0m-19 12h0m1 3h0m25 3h0m0 0h0m-24 2h0m-10 2h0m17 1h0m-20 1h0m-7 11h0m38 2h0m13 2h0m-19 1h0m-25 2h0m26 6h0m21 0h0m0 1h0m-27 4h0m28 4h0m-4 1h0m-6 3h0m3 1h0m-3 2h0m-18 2h0m-14 6h0m6 17h0m10 0h0m-8 3h0m30 1h0m-43 9h0m31 3h0m-34 5h0m38 1h0m8 2h0m-7 1h0m7 3h0m-10 15h0m-42 0h0m52 4h0m-46 7h0m51 4h0m-49 10h0m9 3h0m10 5h0m30 13h0m-31 11h0m31 5h0m-28 1h0m12 0h0m-36 12h0m44 8h0m-11 4h0m5 8h0m-24 8h0m10 22h0m-14 1h0m38 13h0m-24 28h0m5 5h0m4 14h0m18 34h0m-10 270h0m34-1468h0m23 35h0m-31 31h0m25 43h0m-29 74h0m17 10h0m5 15h0m-19 10h0m46 30h0m-52 13h0m26 9h0m-19 21h0m36 2h0m-11 21h0m-5 37h0m-16 11h0m9 1h0m-21 12h0m48 1h0m-14 3h0m-18 11h0m9 2h0m18 8h0m-46 7h0m39 25h0m3 4h0m-14 2h0m13 3h0m-27 4h0m34 8h0m3 3h0m-36 8h0m26 7h0m-36 6h0m49 2h0m-36 5h0m26 2h0m-47 3h0m19 3h0m6 13h0m1 2h0m-26 4h0m26 0h0m31 6h0m-13 1h0m-40 3h0m-4 0h0m25 1h0m34 3h0m-57 5h0m53 6h0m-38 6h0m29 0h0m10 3h0m-29 3h0m27 7h0m0 10h0m-38 1h0m24 6h0m14 2h0m-12 1h0m-29 1h0m27 2h0m-36 2h0m13 3h0m18 2h0m0 11h0m-2 6h0m-19 1h0m-8 1h0m6 1h0m-2 7h0m41 1h0m3 0h0m-43 1h0m15 6h0m22 11h0m2 3h0m-11 4h0m4 15h0m7 1h0m-44 6h0m-5 5h0m30 2h0m-26 2h0m11 0h0m24 2h0m6 10h0m-34 1h0m19 1h0m13 2h0m-2 1h0m9 2h0m-42 3h0m-2 3h0m3 1h0m19 3h0m4 6h0m-10 6h0m-21 3h0m1 1h0m16 8h0m34 3h0m-9 2h0m-24 1h0m39 1h0m-35 4h0m16 4h0m0 2h0m5 6h0m13 3h0m-49 4h0m14 3h0m20 1h0m-5 7h0m-17 6h0m18 1h0m-20 1h0m14 3h0m-4 0h0m29 3h0m-12 0h0m-8 5h0m11 1h0m9 2h0m-33 3h0m22 2h0m0 4h0m-22 3h0m9 12h0m17 5h0m-43 2h0m13 1h0m37 3h0m-44 2h0m-6 1h0m7 0h0m18 2h0m-21 1h0m19 1h0m-2 18h0m-10 4h0m27 1h0m10 0h0m-23 2h0m-6 2h0m-11 1h0m-16 1h0m14 4h0m32 1h0m11 1h0m-15 2h0m14 2h0m-36 3h0m21 0h0m-38 0h0m45 1h0m-1 1h0m-38 1h0m4 0h0m10 3h0m35 5h0m-32 1h0m4 3h0m-2 0h0m-12 1h0m32 4h0m-35 10h0m44 2h0m-56 2h0m45 1h0m-5 1h0m-23 5h0m-12 1h0m13 9h0m-16 2h0m33 6h0m14 5h0m1 2h0m-51 3h0m59 4h0m-14 1h0m7 0h0m5 1h0m-12 0h0m3 0h0m-12 2h0m16 3h0m-2 4h0m-4 1h0m-2 4h0m-2 1h0m-1 5h0m16 7h0m-31 1h0m11 5h0m14 1h0m1 1h0m-11 2h0m-3 1h0m-8 1h0m-9 1h0m-17 0h0m26 1h0m-9 10h0m-7 1h0m37 2h0m-27 9h0m32 0h0m-4 9h0m-21 0h0m0 6h0m8 1h0m-22 6h0m-15 0h0m21 6h0m-15 2h0m37 5h0m-20 0h0m27 3h0m-19 1h0m-22 1h0m-7 0h0m16 1h0m0 1h0m8 2h0m-12 4h0m-9 15h0m29 2h0m13 2h0m1 14h0m5 1h0m-22 15h0m-6 2h0m20 8h0m-8 4h0m-6 57h0m-26 13h0m12 52h0m57-1295h0m30 31h0m-12 2h0m6 30h0m-20 22h0m3 89h0m31 14h0m-32 7h0m-6 46h0m-4 8h0m39 5h0m0 4h0m-32 14h0m23 10h0m11 26h0m0 5h0m-23 5h0m8 2h0m-8 16h0m5 13h0m-17 1h0m4 5h0m11 6h0m-33 5h0m37 3h0m-35 16h0m54 11h0m-47 12h0m45 3h0m-20 0h0m19 5h0m3 16h0m-17 2h0m-13 1h0m15 1h0m-7 2h0m23 1h0m-22 2h0m-26 2h0m32 2h0m18 10h0m-18 2h0m-15 0h0m32 0h0m-54 2h0m4 2h0m15 4h0m23 1h0m-31 2h0m41 2h0m-23 1h0m-5 2h0m-13 1h0m20 1h0m14 0h0m2 0h0m6 0h0m-48 5h0m47 2h0m-30 2h0m10 1h0m-25 2h0m42 1h0m-18 2h0m-6 1h0m30 1h0m-28 1h0m-19 1h0m-10 13h0m36 0h0m17 1h0m0 4h0m-53 6h0m46 2h0m-16 6h0m-26 1h0m52 2h0m-52 1h0m23 6h0m14 1h0m-32 1h0m12 4h0m-12 0h0m-8 2h0m24 1h0m9 0h0m-11 2h0m-3 1h0m-4 0h0m33 1h0m-34 0h0m12 0h0m29 3h0m-24 3h0m21 2h0m-20 1h0m2 5h0m15 1h0m-6 1h0m11 3h0m-11 1h0m-9 3h0m6 3h0m-19 0h0m-24 1h0m36 1h0m15 0h0m-33 2h0m14 0h0m5 2h0m-36 1h0m53 3h0m-20 0h0m-4 1h0m16 2h0m-14 1h0m14 0h0m13 3h0m-26 0h0m22 4h0m0 0h0m-30 3h0m31 7h0m-25 2h0m7 2h0m9 4h0m-25 0h0m16 9h0m12 3h0m5 3h0m-41 2h0m1 1h0m1 1h0m41 3h0m-49 1h0m14 2h0m5 1h0m-8 0h0m12 1h0m0 0h0m-27 1h0m53 6h0m-4 1h0m-45 1h0m43 2h0m4 0h0m-51 1h0m6 7h0m23 5h0m19 2h0m-21 1h0m3 3h0m1 1h0m-6 1h0m0 1h0m3 0h0m23 4h0m-46 2h0m38 2h0m-6 1h0m13 2h0m-41 0h0m3 1h0m40 3h0m-21 3h0m-10 0h0m8 4h0m-30 2h0m34 1h0m1 4h0m20 6h0m-24 2h0m25 1h0m-1 1h0m-5 5h0m-37 0h0m12 5h0m-18 6h0m11 4h0m25 1h0m-6 1h0m-31 0h0m3 1h0m40 1h0m-2 0h0m-32 4h0m11 3h0m18 0h0m-23 1h0m4 1h0m-21 3h0m33 10h0m9 7h0m-5 1h0m-2 2h0m-6 1h0m6 2h0m2 1h0m-21 2h0m10 1h0m9 7h0m4 2h0m-3 2h0m-33 1h0m28 2h0m-31 0h0m19 1h0m-19 9h0m-2 0h0m0 6h0m40 0h0m1 6h0m-37 3h0m48 1h0m-43 1h0m37 1h0m-16 1h0m22 1h0m-14 3h0m-19 1h0m22 2h0m-8 3h0m14 0h0m-12 4h0m-15 1h0m-6 4h0m30 1h0m5 3h0m-12 1h0m1 0h0m-3 2h0m-12 1h0m7 1h0m8 3h0m-22 2h0m30 0h0m-6 1h0m-43 2h0m45 2h0m-14 2h0m11 1h0m-12 0h0m-14 4h0m37 3h0m-35 1h0m30 2h0m7 3h0m-54 0h0m40 0h0m2 1h0m-16 1h0m5 2h0m7 0h0m2 1h0m16 0h0m-30 3h0m-14 2h0m-5 2h0m24 0h0m-10 2h0m17 1h0m-33 3h0m14 1h0m5 2h0m21 1h0m-30 2h0m34 0h0m-3 4h0m-21 5h0m-21 1h0m29 3h0m-15 0h0m35 1h0m-2 5h0m-53 1h0m17 1h0m6 2h0m25 3h0m-41 4h0m45 1h0m-8 1h0m4 3h0m-46 0h0m7 5h0m-7 2h0m56 4h0m-49 5h0m44 4h0m-41 0h0m4 2h0m16 2h0m22 0h0m-5 1h0m-18 1h0m1 1h0m-25 5h0m7 0h0m16 3h0m-25 3h0m18 3h0m1 1h0m-11 12h0m-2 1h0m15 2h0m17 2h0m-7 0h0m16 3h0m-50 2h0m35 0h0m-10 2h0m-20 1h0m14 0h0m18 2h0m-38 1h0m23 0h0m27 1h0m-6 4h0m8 2h0m-1 3h0m-25 1h0m8 0h0m13 2h0m-8 1h0m3 1h0m-35 3h0m-5 2h0m43 3h0m5 2h0m-25 1h0m3 1h0m19 0h0m-7 0h0m-4 1h0m-9 1h0m-26 4h0m35 7h0m20 4h0m-11 5h0m-40 0h0m16 1h0m-12 4h0m7 5h0m13 2h0m7 1h0m-30 2h0m44 1h0m-49 6h0m11 6h0m-4 6h0m9 3h0m35 1h0m-43 6h0m9 3h0m-14 0h0m32 3h0m7 0h0m8 3h0m-52 8h0m3 0h0m24 13h0m30 2h0m-47 1h0m12 2h0m-13 6h0m-2 20h0m29 9h0m-9 18h0m2 48h0m7 13h0m-17 13h0m38 36h0m45-1359h0m-33 97h0m15 42h0m8 9h0m25 57h0m-7 34h0m0 7h0m-22 2h0m22 2h0m-1 0h0m-13 6h0m13 10h0m-21 5h0m30 8h0m-54 4h0m26 1h0m15 5h0m-41 2h0m2 17h0m38 20h0m-40 4h0m52 9h0m-18 2h0m-7 7h0m-19 1h0m-6 12h0m5 0h0m-10 4h0m48 4h0m-21 10h0m13 1h0m-26 3h0m33 4h0m7 9h0m-5 9h0m-46 9h0m14 0h0m-15 3h0m51 0h0m-28 2h0m3 5h0m-11 5h0m8 3h0m21 1h0m-26 9h0m-19 1h0m44 0h0m-5 5h0m-30 8h0m40 2h0m-6 1h0m10 2h0m-22 0h0m2 1h0m-5 5h0m-23 0h0m-4 2h0m20 7h0m-1 0h0m19 1h0m12 1h0m-52 2h0m56 2h0m-11 3h0m1 3h0m10 1h0m-13 4h0m-15 4h0m18 4h0m-1 0h0m7 2h0m-6 6h0m-7 0h0m10 2h0m-31 0h0m6 2h0m26 2h0m-17 3h0m8 5h0m-27 0h0m6 4h0m10 1h0m-12 1h0m23 3h0m-27 2h0m22 2h0m-25 2h0m4 2h0m12 1h0m10 1h0m-19 3h0m-12 2h0m13 2h0m-15 0h0m6 15h0m7 1h0m-5 1h0m15 4h0m-11 4h0m-15 4h0m30 4h0m-22 3h0m-7 1h0m11 1h0m-12 5h0m1 1h0m41 2h0m-9 1h0m14 0h0m-9 1h0m12 4h0m-31 1h0m-2 0h0m33 0h0m-27 2h0m-6 0h0m1 1h0m37 0h0m-47 0h0m17 2h0m1 0h0m-4 1h0m3 5h0m-5 0h0m17 1h0m-11 1h0m3 1h0m11 0h0m-18 0h0m16 1h0m-23 1h0m2 1h0m31 0h0m-20 1h0m-31 1h0m8 1h0m22 0h0m22 0h0m-23 2h0m0 2h0m-15 1h0m24 5h0m-29 9h0m12 4h0m10 7h0m18 3h0m-25 2h0m9 2h0m-5 0h0m-20 1h0m9 0h0m1 1h0m24 3h0m6 2h0m0 0h0m-47 0h0m1 1h0m18 3h0m7 6h0m10 1h0m-12 3h0m-20 5h0m6 3h0m-4 2h0m7 2h0m10 3h0m-6 0h0m11 2h0m22 0h0m-35 1h0m6 0h0m24 1h0m-34 1h0m4 3h0m26 1h0m8 3h0m-37 0h0m11 2h0m31 0h0m-46 5h0m13 1h0m25 3h0m-11 2h0m10 0h0m13 4h0m-7 0h0m-32 3h0m23 1h0m-4 3h0m-12 1h0m31 1h0m-3 1h0m-11 0h0m12 2h0m-10 4h0m-40 2h0m18 5h0m20 1h0m-2 0h0m10 2h0m-10 0h0m-19 1h0m23 2h0m-23 2h0m18 1h0m-31 2h0m-10 0h0m41 0h0m-3 1h0m13 1h0m-31 0h0m-8 1h0m19 1h0m24 1h0m-18 1h0m8 5h0m-6 2h0m-6 1h0m1 0h0m0 2h0m18 0h0m-15 1h0m-33 6h0m45 1h0m-10 2h0m-17 4h0m-15 1h0m40 4h0m-31 3h0m15 1h0m13 2h0m12 2h0m-20 1h0m15 3h0m-46 1h0m41 0h0m5 1h0m1 3h0m-5 4h0m-2 1h0m12 3h0m-34 6h0m-4 3h0m-4 3h0m11 2h0m-6 1h0m20 7h0m-38 2h0m41 1h0m-17 0h0m32 1h0m-57 0h0m2 1h0m27 1h0m-20 2h0m45 2h0m-19 0h0m17 1h0m-36 1h0m21 3h0m0 0h0m-18 0h0m2 1h0m23 0h0m-41 4h0m6 1h0m28 2h0m-18 3h0m5 1h0m15 0h0m8 1h0m8 0h0m3 1h0m-57 1h0m12 0h0m1 0h0m17 2h0m0 0h0m-23 1h0m-2 0h0m37 3h0m-14 4h0m8 0h0m-7 5h0m0 3h0m15 6h0m0 2h0m-22 1h0m18 1h0m-16 1h0m-25 3h0m18 1h0m18 6h0m-30 1h0m28 0h0m-34 3h0m42 0h0m-27 3h0m17 3h0m1 0h0m-16 8h0m18 2h0m8 4h0m-10 0h0m-13 1h0m-18 1h0m22 0h0m-4 0h0m-7 4h0m29 0h0m-16 5h0m-15 2h0m6 0h0m0 1h0m-7 3h0m0 1h0m30 0h0m-29 0h0m31 2h0m-12 3h0m-3 3h0m-11 0h0m12 3h0m-14 0h0m16 9h0m-31 2h0m38 1h0m-22 3h0m-9 3h0m11 1h0m-15 2h0m31 1h0m-25 0h0m27 1h0m-29 0h0m37 1h0m-2 2h0m-35 0h0m26 3h0m9 4h0m-3 1h0m-8 2h0m-27 2h0m25 1h0m8 2h0m11 3h0m0 0h0m-18 1h0m17 2h0m5 1h0m-34 1h0m33 4h0m-25 0h0m6 0h0m-31 4h0m39 2h0m-4 0h0m1 2h0m-4 2h0m12 2h0m-24 1h0m12 1h0m-4 0h0m-13 2h0m-11 0h0m11 2h0m23 2h0m3 3h0m-17 6h0m19 0h0m-14 1h0m2 1h0m1 3h0m16 1h0m7 1h0m-37 1h0m-13 3h0m-3 1h0m47 1h0m-36 3h0m35 0h0m0 1h0m-15 1h0m21 2h0m-20 8h0m-25 3h0m8 5h0m14 1h0m21 5h0m-6 1h0m-16 0h0m1 2h0m-5 2h0m30 3h0m-18 7h0m-25 4h0m-7 2h0m15 2h0m24 2h0m-36 0h0m38 3h0m-38 0h0m33 3h0m7 0h0m-25 4h0m-16 1h0m0 1h0m-4 2h0m35 1h0m-15 3h0m-9 2h0m3 3h0m39 1h0m-25 1h0m21 2h0m-43 1h0m-7 2h0m18 0h0m28 16h0m-3 10h0m-41 3h0m3 8h0m36 3h0m7 4h0m-47 6h0m-4 4h0m10 2h0m-6 1h0m28 0h0m23 2h0m-23 4h0m9 9h0m-15 5h0m-11 4h0m-12 8h0m27 2h0m-21 1h0m-10 36h0m3 6h0m-3 12h0m58 44h0m13-1436h0m23 94h0m-10 4h0m0 9h0m31 28h0m-30 23h0m-9 6h0m24 5h0m12 26h0m-50 15h0m13 3h0m35 4h0m-47 1h0m30 2h0m22 7h0m-43 2h0m36 3h0m-29 18h0m-10 4h0m44 1h0m-46 16h0m46 6h0m-19 9h0m-2 0h0m18 11h0m-2 12h0m-17 2h0m21 5h0m-1 1h0m-47 1h0m55 10h0m-28 0h0m4 1h0m-14 6h0m17 2h0m0 0h0m8 2h0m-35 2h0m6 3h0m22 0h0m6 3h0m-40 6h0m35 10h0m16 11h0m-25 9h0m-18 5h0m4 0h0m12 0h0m-5 5h0m35 2h0m-24 3h0m-26 0h0m46 8h0m-3 1h0m6 7h0m-23 5h0m1 5h0m-32 1h0m11 3h0m40 3h0m-4 0h0m-40 1h0m24 6h0m23 0h0m-51 0h0m1 4h0m38 7h0m-17 5h0m-2 8h0m19 6h0m-31 2h0m14 5h0m5 4h0m-4 0h0m-9 3h0m30 1h0m-12 1h0m-30 5h0m25 1h0m-5 4h0m12 1h0m-25 4h0m30 3h0m10 2h0m-15 4h0m9 7h0m-6 6h0m-43 1h0m24 1h0m-25 4h0m10 1h0m47 0h0m-28 1h0m0 1h0m-19 3h0m-9 0h0m7 1h0m20 1h0m13 2h0m-21 3h0m34 2h0m-26 0h0m-13 2h0m31 0h0m-33 4h0m10 6h0m10 1h0m13 1h0m-10 1h0m10 0h0m-34 1h0m11 0h0m11 4h0m-15 2h0m15 0h0m-10 2h0m7 4h0m-20 2h0m25 1h0m-25 1h0m22 3h0m-9 3h0m-1 2h0m1 2h0m-7 3h0m-13 14h0m0 6h0m0 4h0m-3 2h0m-1 105h0m29 79h0m-12 3h0m2 2h0m-12 1h0m10 0h0m-16 1h0m13 3h0m5 1h0m-1 2h0m23 0h0m-18 1h0m-23 1h0m3 1h0m24 2h0m9 0h0m4 2h0m0 2h0m-17 0h0m12 1h0m-6 1h0m-28 0h0m22 6h0m-1 0h0m7 2h0m1 4h0m-4 1h0m-3 3h0m2 0h0m-22 4h0m9 2h0m1 1h0m-5 7h0m5 46h0m-2 0h0m5 1h0m-13 1h0m2 5h0m24 1h0m13 1h0m-3 0h0m-30 3h0m39 0h0m-38 1h0m30 2h0m-31 1h0m28 1h0m-31 1h0m28 0h0m-6 4h0m-5 0h0m-18 1h0m22 2h0m-23 1h0m28 2h0m-10 5h0m1 1h0m6 6h0m-12 1h0m10 3h0m-17 1h0m-1 1h0m7 2h0m22 3h0m-3 1h0m-3 1h0m-25 0h0m10 0h0m-10 2h0m2 1h0m-2 1h0m24 3h0m-31 0h0m2 0h0m14 1h0m10 3h0m-2 1h0m-5 0h0m-1 1h0m-15 7h0m46 191h0m-40 3h0m49 4h0m-49 2h0m48 1h0m-9 6h0m-40 3h0m46 1h0m-22 0h0m22 1h0m-45 0h0m43 2h0m2 2h0m-37 0h0m30 1h0m-38 2h0m17 1h0m8 0h0m2 8h0m-13 1h0m11 0h0m-30 0h0m12 1h0m6 2h0m21 3h0m15 0h0m-18 0h0m-17 1h0m-1 1h0m-6 1h0m36 1h0m-21 12h0m-14 1h0m16 1h0m-4 1h0m-28 3h0m2 1h0m55 0h0m-52 5h0m36 2h0m1 1h0m-2 4h0m8 0h0m-39 14h0m18 0h0m22 3h0m-50 13h0m9 6h0m30 1h0m-34 1h0m42 5h0m-35 2h0m6 7h0m-11 14h0m-6 0h0m18 22h0m5 8h0m-1 17h0m-13 11h0m5 3h0m3 3h0m-13 1h0m9 43h0m-10 21h0m62-1557h0m42 21h0m-19 2h0m4 58h0m6 7h0m10 8h0m-48 31h0m34 1h0m-29 28h0m34 12h0m4 20h0m-26 14h0m26 6h0m-25 7h0m-3 16h0m13 9h0m13 1h0m-32 1h0m29 1h0m8 3h0m-29 3h0m35 4h0m-18 30h0m18 6h0m-18 8h0m17 2h0m-38 5h0m-4 1h0m41 7h0m-24 2h0m32 12h0m-16 0h0m-33 9h0m18 2h0m17 2h0m0 8h0m-15 3h0m-29 5h0m49 2h0m-8 5h0m-2 4h0m17 1h0m-36 10h0m-10 1h0m29 0h0m11 1h0m-41 6h0m-7 1h0m10 1h0m40 1h0m-12 2h0m1 1h0m-41 12h0m58 6h0m-56 1h0m8 5h0m-10 1h0m19 5h0m18 0h0m-16 6h0m29 0h0m-11 8h0m-11 1h0m27 3h0m0 0h0m-10 0h0m-9 0h0m18 10h0m-36 2h0m-18 0h0m51 1h0m-34 2h0m-6 1h0m29 0h0m-4 2h0m-17 4h0m-4 1h0m32 0h0m-10 3h0m-1 4h0m-23 2h0m3 0h0m4 2h0m24 1h0m-6 0h0m4 1h0m-1 1h0m-32 0h0m13 2h0m-10 2h0m14 1h0m11 3h0m19 1h0m-56 4h0m57 2h0m-29 1h0m11 3h0m12 1h0m3 0h0m-44 1h0m37 3h0m-34 3h0m24 1h0m-22 1h0m43 2h0m-37 1h0m-6 3h0m8 0h0m3 2h0m10 1h0m-18 2h0m-17 4h0m0 8h0m46 2h0m-14 2h0m-10 1h0m32 3h0m-5 1h0m-28 1h0m-1 1h0m17 0h0m-24 0h0m15 2h0m3 2h0m-6 1h0m22 2h0m-48 1h0m34 0h0m12 1h0m-14 1h0m10 0h0m-18 1h0m30 2h0m-5 0h0m-17 2h0m-13 2h0m2 0h0m9 2h0m-17 1h0m35 0h0m-3 0h0m1 1h0m-8 2h0m-36 5h0m32 1h0m-12 1h0m0 0h0m17 2h0m-36 1h0m36 1h0m-37 12h0m13 3h0m-7 6h0m-4 3h0m22 1h0m-12 0h0m-8 4h0m-4 2h0m9 7h0m1 1h0m-3 2h0m-9 0h0m5 3h0m7 6h0m-8 1h0m4 0h0m4 13h0m1 17h0m-14 7h0m1 5h0m37 621h0m-37 0h0m49 2h0m-49 0h0m30 1h0m1 0h0m-20 3h0m18 0h0m-7 1h0m-2 4h0m-14 0h0m6 0h0m45 1h0m-41 1h0m10 0h0m8 5h0m13 5h0m-3 2h0m-31 2h0m-3 0h0m23 0h0m2 9h0m-9 4h0m-20 1h0m30 0h0m1 1h0m-38 2h0m32 0h0m25 3h0m-29 3h0m-2 1h0m-11 1h0m44 0h0m-24 3h0m12 0h0m2 1h0m-37 0h0m10 0h0m16 1h0m-36 1h0m33 1h0m-14 3h0m2 1h0m-20 17h0m15 0h0m9 1h0m-25 7h0m40 1h0m-34 8h0m7 22h0m40 3h0m-21 2h0m18 2h0m-47 0h0m41 29h0m-45 4h0m46 9h0m12 7h0m-17 11h0m37-1471h0m-15 109h0m48 4h0m-1 5h0m-50 13h0m47 1h0m-7 13h0m-38 13h0m21 9h0m-6 23h0m-9 2h0m3 3h0m-9 10h0m49 4h0m-19 22h0m-32 0h0m41 16h0m-16 8h0m-3 2h0m1 1h0m35 9h0m0 1h0m-8 1h0m-15 1h0m-5 0h0m-1 3h0m8 2h0m-33 7h0m2 1h0m50 5h0m-15 5h0m6 14h0m-42 0h0m47 1h0m1 1h0m-37 1h0m42 0h0m-29 1h0m-30 1h0m33 1h0m-17 0h0m-12 5h0m31 6h0m6 2h0m11 1h0m4 0h0m-9 1h0m-28 0h0m40 5h0m-16 0h0m5 0h0m-31 2h0m25 0h0m-13 3h0m-11 1h0m6 6h0m16 2h0m-12 1h0m5 0h0m0 4h0m6 1h0m3 2h0m-33 0h0m9 2h0m0 2h0m19 1h0m2 0h0m-34 1h0m36 1h0m-5 1h0m2 2h0m-23 2h0m-3 1h0m6 1h0m2 3h0m17 0h0m11 3h0m-2 1h0m-39 1h0m26 2h0m16 1h0m-19 0h0m18 1h0m-10 1h0m-12 1h0m22 1h0m-26 6h0m6 3h0m8 2h0m-4 2h0m-14 1h0m-4 0h0m-12 0h0m37 0h0m-6 1h0m5 1h0m-37 2h0m22 0h0m7 2h0m-14 0h0m7 4h0m-17 8h0m-5 4h0m23 1h0m-19 0h0m16 0h0m1 3h0m-21 1h0m15 0h0m3 5h0m-3 0h0m-7 1h0m-6 3h0m12 4h0m-7 4h0m-5 4h0m16 42h0m-16 0h0m-2 0h0m17 1h0m-8 1h0m-2 2h0m-7 0h0m18 4h0m7 4h0m-1 1h0m-2 2h0m-19 3h0m13 2h0m-11 1h0m-6 3h0m3 3h0m7 5h0m-8 2h0m-1 1h0m11 2h0m-1 1h0m-4 4h0m-7 9h0m3 4h0m53 685h0m-35 1h0m3 2h0m-7 2h0m40 5h0m-16 1h0m-31 2h0m1 2h0m30 6h0m8 5h0m-19 1h0m-4 0h0m9 2h0m-9 2h0m18 4h0m-21 1h0m4 0h0m23 3h0m-19 1h0m6 1h0m8 1h0m-45 9h0m36 0h0m-17 0h0m16 2h0m10 3h0m-21 1h0m18 4h0m-2 3h0m-31 1h0m11 0h0m-7 9h0m17 3h0m-23 1h0m12 0h0m-6 1h0m32 0h0m-3 2h0m-26 3h0m40 14h0m-8 2h0m-28 4h0m-20 2h0m59 0h0m-24 0h0m-19 3h0m2 6h0m1 3h0m-9 0h0m49 0h0m-46 5h0m29 6h0m2 8h0m-43 2h0m57 5h0m-21 25h0m-32 6h0m32 5h0m-10 5h0m24 2h0m-41 3h0m34 9h0m12 26h0m40-1578h0m-6 159h0m-6 5h0m-13 2h0m12 61h0m-15 31h0m19 0h0m18 3h0m13 16h0m-32 4h0m-17 1h0m28 2h0m7 1h0m-25 4h0m34 1h0m-7 17h0m-33 3h0m3 3h0m40 13h0m-24 2h0m-27 1h0m24 4h0m3 3h0m19 1h0m-40 3h0m39 11h0m-35 1h0m5 6h0m6 1h0m17 0h0m-7 3h0m-29 1h0m44 3h0m-1 1h0m-4 1h0m0 1h0m-19 1h0m0 3h0m7 3h0m-12 2h0m14 1h0m-23 0h0m27 1h0m-11 3h0m23 2h0m0 1h0m-23 2h0m-22 1h0m36 1h0m16 3h0m-5 1h0m2 3h0m-9 3h0m-13 1h0m15 2h0m6 2h0m2 5h0m-25 3h0m11 0h0m16 2h0m-59 4h0m43 1h0m-11 0h0m22 0h0m-23 0h0m17 1h0m-2 1h0m-19 1h0m-5 0h0m13 0h0m-13 2h0m21 2h0m-41 1h0m44 0h0m3 0h0m-16 1h0m4 0h0m-7 1h0m20 2h0m-5 1h0m-8 0h0m-4 0h0m-16 0h0m-6 1h0m27 2h0m-13 1h0m-13 0h0m9 1h0m2 1h0m15 1h0m-35 2h0m30 4h0m-27 2h0m1 4h0m49 873h0m-25 3h0m28 1h0m-3 1h0m-15 2h0m-19 1h0m25 3h0m-14 2h0m-11 1h0m8 2h0m14 1h0m-17 0h0m11 1h0m15 2h0m-14 6h0m-12 3h0m-20 1h0m-1 1h0m26 1h0m26 7h0m-9 0h0m-24 3h0m-14 0h0m3 5h0m1 1h0m9 1h0m-2 4h0m-17 1h0m46 7h0m-17 2h0m-6 1h0m30 1h0m-15 6h0m-11 2h0m-17 0h0m37 2h0m-18 0h0m-19 5h0m-7 1h0m0 1h0m19 2h0m-26 4h0m37 1h0m-30 3h0m29 3h0m17 2h0m-48 1h0m47 1h0m-17 1h0m7 3h0m1 9h0m-16 4h0m-7 7h0m4 10h0m-23 1h0m17 2h0m-2 7h0m-2 8h0m17 3h0m7 3h0m4 8h0m-29 2h0m22 18h0m-5 127h0m18 7h0m16-1621h0m26 160h0m2 24h0m20 3h0m-48 8h0m41 3h0m13 8h0m-14 6h0m3 1h0m-23 2h0m-4 3h0m-18 4h0m39 0h0m-27 4h0m-15 1h0m56 2h0m-13 10h0m12 0h0m-10 11h0m-10 3h0m-26 3h0m-1 5h0m42 0h0m-41 1h0m25 2h0m17 0h0m-33 1h0m20 0h0m-7 5h0m-10 2h0m-20 5h0m26 8h0m-13 2h0m18 2h0m-14 1h0m-17 3h0m38 1h0m-11 1h0m13 2h0m-21 2h0m-7 0h0m5 1h0m0 1h0m-5 1h0m-13 1h0m24 2h0m1 2h0m12 2h0m-12 2h0m4 1h0m-20 4h0m-7 1h0m19 2h0m9 0h0m3 1h0m21 0h0m-54 1h0m37 0h0m-10 0h0m-23 1h0m-3 1h0m45 0h0m-1 1h0m-2 2h0m-40 2h0m49 0h0m-1 0h0m-46 1h0m2 3h0m-6 1h0m52 1h0m-12 1h0m-34 3h0m7 0h0m37 0h0m-7 2h0m-36 1h0m19 1h0m24 0h0m-18 3h0m24 0h0m-9 0h0m-15 3h0m26 1h0m-16 2h0m-8 2h0m-35 42h0m25 907h0m-12 0h0m19 0h0m23 2h0m-14 2h0m-10 0h0m18 1h0m3 1h0m-1 1h0m-51 1h0m47 0h0m11 1h0m-54 2h0m49 1h0m-3 0h0m-8 0h0m-17 1h0m-12 1h0m13 1h0m1 2h0m20 0h0m1 4h0m-1 0h0m-22 0h0m28 0h0m-12 1h0m-40 1h0m32 0h0m-10 1h0m-6 1h0m-2 2h0m17 3h0m0 5h0m16 8h0m-42 2h0m49 0h0m-16 0h0m14 4h0m-9 1h0m0 1h0m6 0h0m-50 3h0m28 3h0m-5 1h0m-18 0h0m47 3h0m-50 0h0m23 1h0m-2 2h0m8 0h0m14 4h0m-41 5h0m21 12h0m-14 2h0m8 1h0m32 2h0m-14 4h0m-11 4h0m-6 5h0m5 1h0m-24 3h0m13 3h0m5 8h0m-4 10h0m40 3h0m-2 5h0m-16 10h0m-36 1h0m18 1h0m10 9h0m-5 24h0m9 15h0m-33 5h0m56 0h0m-47 71h0m46 55h0m16-1556h0m24 3h0m6 10h0m9 16h0m-20 24h0m-8 10h0m-6 5h0m33 15h0m-42 16h0m9 19h0m40 2h0m-21 6h0m10 2h0m-13 0h0m12 8h0m-18 9h0m11 5h0m-27 1h0m35 7h0m-7 1h0m-14 1h0m16 2h0m-14 2h0m-24 9h0m48 5h0m-1 0h0m-13 2h0m11 6h0m-43 0h0m8 2h0m34 1h0m-17 3h0m-27 0h0m2 0h0m13 1h0m28 1h0m-16 5h0m12 1h0m-9 1h0m-14 2h0m9 2h0m9 0h0m11 1h0m-31 3h0m8 2h0m29 3h0m-50 1h0m13 3h0m11 1h0m18 0h0m-32 2h0m0 2h0m13 0h0m16 2h0m5 0h0m-13 3h0m-22 0h0m5 0h0m5 2h0m-1 1h0m10 1h0m-21 0h0m22 1h0m-2 2h0m-8 5h0m15 3h0m-15 1h0m-6 0h0m24 0h0m-20 7h0m21 2h0m-10 3h0m-7 0h0m18 1h0m-15 0h0m4 1h0m-30 0h0m41 3h0m-21 1h0m-15 0h0m-4 1h0m21 2h0m-7 2h0m5 3h0m13 1h0m-27 9h0m39 908h0m-5 1h0m1 1h0m2 1h0m3 3h0m9 0h0m2 2h0m-13 0h0m11 4h0m0 1h0m-17 5h0m19 1h0m-9 0h0m3 4h0m-19 1h0m6 4h0m-37 13h0m-1 3h0m39 1h0m9 0h0m-1 4h0m-32 1h0m37 2h0m-21 2h0m10 1h0m6 1h0m-34 1h0m-3 2h0m13 2h0m7 1h0m8 1h0m11 0h0m3 0h0m0 3h0m-33 2h0m-11 1h0m-8 2h0m11 0h0m16 5h0m11 2h0m-32 2h0m-2 5h0m22 3h0m-20 1h0m13 1h0m-7 1h0m31 2h0m-6 2h0m1 1h0m12 2h0m-49 4h0m47 5h0m8 2h0m-48 2h0m1 1h0m24 1h0m4 4h0m-22 0h0m1 4h0m9 1h0m-20 9h0m0 4h0m19 1h0m16 6h0m-37 8h0m16 8h0m9 7h0m-3 12h0m-16 4h0m32 9h0m-39 3h0m14 11h0m70-1487h0m11 73h0m-28 54h0m-9 2h0m14 0h0m-11 18h0m18 9h0m5 11h0m5 2h0m24 6h0m3 5h0m-12 3h0m1 0h0m-29 2h0m6 0h0m19 12h0m9 14h0m-32 3h0m-18 4h0m47 13h0m-37 4h0m13 2h0m22 1h0m2 4h0m-16 8h0m-4 4h0m-26 2h0m49 9h0m-33 1h0m-13 0h0m13 1h0m29 0h0m10 1h0m-13 0h0m-37 0h0m29 0h0m-34 1h0m28 7h0m20 1h0m-38 9h0m-8 1h0m21 1h0m14 0h0m15 0h0m-1 2h0m-21 1h0m-10 3h0m33 1h0m-49 0h0m21 1h0m-18 2h0m-9 0h0m7 1h0m24 0h0m-16 2h0m1 1h0m-6 0h0m3 3h0m-12 4h0m4 0h0m16 1h0m17 2h0m-21 1h0m-8 1h0m13 3h0m35 1h0m-19 0h0m12 1h0m-24 1h0m-10 2h0m22 1h0m10 0h0m-9 1h0m-17 2h0m30 3h0m-33 0h0m36 0h0m-41 1h0m8 0h0m8 3h0m-1 2h0m19 1h0m0 0h0m-4 2h0m-21 0h0m33 2h0m-23 0h0m10 934h0m13 0h0m-36 4h0m1 1h0m18 0h0m-3 0h0m-4 1h0m-5 0h0m0 2h0m17 4h0m-1 1h0m-11 0h0m-7 4h0m-11 0h0m19 1h0m0 1h0m-29 2h0m37 1h0m12 1h0m-35 2h0m-5 2h0m18 4h0m-10 2h0m-8 0h0m17 2h0m-30 3h0m31 1h0m-13 1h0m-6 3h0m4 1h0m35 0h0m-30 5h0m21 1h0m8 0h0m-32 1h0m1 3h0m16 3h0m-35 0h0m40 4h0m-21 1h0m26 2h0m-10 3h0m-6 1h0m-26 0h0m0 2h0m53 0h0m-25 0h0m-21 1h0m2 3h0m40 0h0m-46 1h0m10 0h0m36 4h0m-49 0h0m20 1h0m33 3h0m-5 2h0m-13 0h0m-39 2h0m20 3h0m17 0h0m-35 3h0m5 1h0m26 17h0m-33 30h0m21 43h0m-2 37h0m-9 65h0m95-1476h0m2 0h0m-1 41h0m8 17h0m-52 4h0m1 31h0m35 10h0m-34 10h0m28 8h0m-8 2h0m3 3h0m14 11h0m-6 7h0m5 5h0m-10 1h0m-3 2h0m-15 1h0m11 2h0m1 1h0m21 1h0m10 5h0m-19 1h0m-23 1h0m1 1h0m-12 0h0m21 11h0m-3 0h0m-8 3h0m6 3h0m24 2h0m-41 2h0m39 0h0m-10 3h0m24 0h0m-8 1h0m2 6h0m-19 5h0m-14 0h0m-2 4h0m32 1h0m-8 6h0m-11 2h0m-18 8h0m29 0h0m-26 3h0m8 2h0m-5 1h0m-2 3h0m9 0h0m2 5h0m-8 2h0m-8 1h0m-4 2h0m2 1h0m-2 0h0m38 1h0m-28 0h0m2 0h0m-6 2h0m4 0h0m3 2h0m42 4h0m-10 0h0m-5 1h0m-3 0h0m-14 1h0m4 1h0m-22 3h0m33 0h0m-4 1h0m-16 0h0m36 3h0m-11 0h0m7 1h0m-37 0h0m38 3h0m-21 0h0m24 3h0m-35 1h0m1 1h0m17 390h0m-7 2h0m-4 3h0m23 0h0m5 1h0m-3 2h0m-15 2h0m-14 3h0m-6 1h0m3 2h0m7 1h0m-10 1h0m16 5h0m-16 1h0m10 1h0m-3 0h0m-4 1h0m11 0h0m18 0h0m-26 0h0m28 1h0m-25 1h0m-5 7h0m1 1h0m-10 3h0m13 0h0m0 1h0m-3 5h0m16 0h0m-20 1h0m31 1h0m-28 0h0m34 1h0m-20 0h0m7 2h0m-18 1h0m23 0h0m-4 2h0m-12 0h0m-3 3h0m26 415h0m0 7h0m-11 3h0m-5 3h0m18 2h0m-20 6h0m6 1h0m-9 6h0m-20 1h0m17 3h0m-5 0h0m17 0h0m-15 3h0m25 2h0m-40 1h0m2 1h0m-14 2h0m31 1h0m-32 2h0m53 1h0m3 2h0m-12 1h0m-24 8h0m-5 1h0m-4 0h0m-11 8h0m22 1h0m-13 4h0m20 2h0m-13 1h0m-3 0h0m5 1h0m-13 0h0m0 0h0m41 0h0m-40 1h0m20 1h0m23 1h0m-7 4h0m-11 5h0m-22 1h0m19 1h0m-30 1h0m19 1h0m34 2h0m-19 0h0m15 4h0m-23 2h0m22 4h0m-48 3h0m35 0h0m-20 5h0m-4 4h0m43 3h0m-23 3h0m9 8h0m10 2h0m-37 4h0m-1 2h0m40 0h0m-7 1h0m-13 4h0m-14 9h0m18 5h0m-28 9h0m21 1h0m-12 6h0m-6 1h0m37 33h0m-36 39h0m12 24h0m-2 11h0m60-1338h0m14 24h0m-17 9h0m10 1h0m11 12h0m-14 15h0m6 3h0m-1 6h0m-17 11h0m39 3h0m-45 3h0m34 1h0m-28 1h0m-4 6h0m-9 3h0m48 13h0m-14 1h0m19 6h0m-43 1h0m8 5h0m18 4h0m-26 5h0m15 1h0m-6 0h0m-16 4h0m10 3h0m7 3h0m31 2h0m-10 6h0m-7 1h0m9 1h0m15 4h0m-25 1h0m25 1h0m-58 1h0m29 1h0m-7 0h0m-3 0h0m-11 1h0m-1 1h0m27 1h0m-25 4h0m23 2h0m6 4h0m14 6h0m4 1h0m-23 0h0m-11 0h0m32 1h0m-10 3h0m-21 0h0m-21 2h0m12 1h0m28 0h0m-33 1h0m10 3h0m7 1h0m-8 1h0m-6 4h0m41 3h0m-13 0h0m2 0h0m-26 2h0m22 0h0m20 1h0m-45 1h0m37 6h0m-6 0h0m-16 3h0m13 4h0m11 0h0m-21 1h0m-5 1h0m-14 2h0m10 1h0m-6 1h0m20 1h0m-25 4h0m27 0h0m20 3h0m-37 3h0m7 2h0m-12 1h0m-6 2h0m22 6h0m3 3h0m21 2h0m-44 2h0m25 0h0m-16 1h0m-9 1h0m7 1h0m25 1h0m-20 0h0m2 1h0m-1 1h0m19 2h0m-18 0h0m11 0h0m-9 1h0m21 5h0m-25 0h0m9 3h0m-4 1h0m0 1h0m-7 0h0m-7 1h0m12 3h0m-12 1h0m2 2h0m7 3h0m-5 1h0m-8 4h0m-1 1h0m8 1h0m32 0h0m-17 2h0m-4 0h0m-7 2h0m1 7h0m35 2h0m-45 1h0m-2 2h0m27 0h0m6 2h0m-11 2h0m5 3h0m-14 0h0m3 1h0m8 0h0m1 0h0m-17 1h0m2 0h0m12 2h0m10 2h0m2 0h0m-6 1h0m1 2h0m5 3h0m-5 2h0m6 2h0m-2 1h0m12 0h0m-2 1h0m-2 8h0m-4 2h0m0 0h0m2 2h0m2 1h0m-6 2h0m10 6h0m-7 4h0m9 6h0m-8 1h0m0 119h0m-6 1h0m13 2h0m-2 0h0m-3 4h0m0 3h0m3 4h0m1 22h0m0 14h0m0 26h0m-1 7h0m-52 24h0m0 3h0m3 3h0m2 8h0m4 3h0m-3 0h0m9 1h0m-2 1h0m-16 0h0m4 2h0m8 1h0m6 1h0m-7 0h0m-7 2h0m-4 1h0m2 1h0m1 0h0m2 2h0m16 1h0m-18 0h0m11 2h0m-2 3h0m11 5h0m1 2h0m-23 1h0m53 387h0m-25 2h0m3 2h0m-1 1h0m21 0h0m-29 4h0m11 1h0m-4 1h0m-1 2h0m-12 0h0m2 2h0m13 1h0m9 1h0m7 0h0m-34 3h0m26 2h0m-1 0h0m12 2h0m-47 1h0m5 0h0m-8 3h0m1 1h0m9 1h0m3 1h0m-8 1h0m26 0h0m-3 1h0m-22 2h0m29 1h0m-7 0h0m2 1h0m-17 1h0m14 2h0m1 0h0m-8 7h0m7 0h0m1 3h0m-1 0h0m-4 7h0m12 0h0m-8 4h0m2 0h0m-12 1h0m16 0h0m-27 1h0m38 1h0m-44 1h0m44 0h0m-1 3h0m-24 1h0m18 8h0m9 2h0m-7 10h0m11 4h0m-46 1h0m19 0h0m5 8h0m-2 0h0m11 0h0m-1 1h0m-34 7h0m20 1h0m6 1h0m17 0h0m-13 4h0m12 6h0m-13 15h0m-17 17h0m20 14h0m-8 4h0m30 2h0m-12 10h0m-24 11h0m22 2h0m-8 2h0m-36 30h0m1 0h0m28 1h0m60-1440h0m24 130h0m-19 75h0m-33 8h0m33 27h0m-27 11h0m10 9h0m7 10h0m3 5h0m-15 5h0m-7 7h0m10 10h0m33 7h0m-7 4h0m-10 1h0m-22 2h0m36 3h0m-36 5h0m32 0h0m-2 0h0m-38 21h0m58 10h0m-23 6h0m-7 5h0m-2 1h0m-17 2h0m-2 1h0m9 9h0m20 2h0m-17 18h0m6 1h0m24 3h0m-16 0h0m-7 2h0m-15 2h0m-8 1h0m20 0h0m-12 2h0m-7 1h0m42 1h0m-1 1h0m12 1h0m-17 1h0m1 3h0m-30 2h0m45 1h0m-25 3h0m-27 2h0m14 1h0m-17 17h0m29 1h0m5 2h0m-26 2h0m1 2h0m32 2h0m-43 4h0m56 1h0m-53 1h0m25 1h0m31 0h0m-46 2h0m8 1h0m12 2h0m-30 2h0m30 10h0m-31 0h0m28 1h0m0 4h0m28 4h0m-34 7h0m30 5h0m-9 0h0m-2 6h0m-34 4h0m49 0h0m-58 1h0m38 1h0m6 1h0m-42 3h0m40 0h0m-3 3h0m-20 2h0m-14 1h0m14 1h0m27 1h0m-40 2h0m24 0h0m-4 2h0m-23 1h0m49 1h0m-17 0h0m13 1h0m-23 1h0m10 5h0m7 1h0m15 3h0m-49 3h0m34 10h0m-25 4h0m38 1h0m-46 0h0m23 0h0m-11 2h0m-14 0h0m13 1h0m20 1h0m14 2h0m2 1h0m-41 3h0m6 2h0m34 2h0m-44 2h0m6 0h0m1 1h0m5 1h0m31 0h0m-18 1h0m-26 0h0m8 0h0m2 1h0m2 2h0m25 1h0m-30 0h0m16 1h0m-6 3h0m-7 7h0m-7 2h0m46 2h0m-57 2h0m49 1h0m-40 3h0m-3 0h0m36 1h0m-34 2h0m5 1h0m-9 6h0m50 0h0m-50 1h0m23 3h0m-19 2h0m35 1h0m6 2h0m-48 0h0m50 3h0m-9 0h0m10 2h0m-38 2h0m9 2h0m-14 5h0m39 0h0m0 3h0m-23 5h0m-9 1h0m34 1h0m-14 1h0m-27 2h0m3 4h0m14 3h0m2 1h0m-11 0h0m33 1h0m-33 8h0m25 3h0m-13 1h0m9 0h0m9 2h0m-18 0h0m-14 9h0m-13 3h0m37 1h0m8 1h0m-33 2h0m30 4h0m-37 0h0m49 2h0m-36 0h0m-18 4h0m27 4h0m-30 0h0m50 0h0m-1 4h0m-44 2h0m41 0h0m-4 3h0m16 2h0m-47 1h0m-12 1h0m14 1h0m9 1h0m9 1h0m1 3h0m3 2h0m-12 1h0m-3 2h0m9 3h0m-29 0h0m2 0h0m16 4h0m40 3h0m-5 2h0m-10 2h0m4 6h0m-18 1h0m-9 1h0m21 0h0m6 2h0m-36 0h0m18 1h0m3 2h0m-32 1h0m7 3h0m3 5h0m4 3h0m-12 0h0m10 0h0m31 1h0m-27 1h0m-5 0h0m-3 1h0m3 0h0m-4 0h0m31 1h0m15 2h0m-31 0h0m-7 1h0m25 0h0m4 1h0m4 2h0m-30 1h0m0 3h0m34 3h0m-20 1h0m6 3h0m-2 0h0m15 0h0m-2 6h0m-8 1h0m9 22h0m-1 1h0m4 1h0m5 1h0m-10 10h0m-13 0h0m8 8h0m6 6h0m5 0h0m-1 2h0m0 5h0m-1 5h0m-1 1h0m-1 2h0m7 2h0m-13 2h0m11 8h0m3 340h0m-5 5h0m-4 3h0m-6 5h0m5 2h0m-41 0h0m41 2h0m-3 1h0m-46 6h0m28 2h0m-23 1h0m26 1h0m-28 0h0m11 1h0m-8 1h0m14 1h0m-2 2h0m15 0h0m-24 4h0m-2 1h0m47 0h0m-28 4h0m-4 0h0m-14 1h0m38 1h0m-17 1h0m2 0h0m-16 2h0m-2 4h0m-13 1h0m27 0h0m19 4h0m3 0h0m-38 1h0m21 2h0m-20 5h0m42 0h0m-9 1h0m-4 0h0m-17 1h0m27 3h0m-45 0h0m39 4h0m-40 1h0m52 12h0m-42 5h0m-7 2h0m42 8h0m-49 0h0m2 1h0m54 2h0m-3 0h0m-50 7h0m15 0h0m14 2h0m-12 1h0m33 0h0m-33 3h0m-18 15h0m8 2h0m3 7h0m10 7h0m4 9h0m-5 42h0m-15 22h0m11 23h0m-15 19h0m72-1329h0m23 5h0m-35 21h0m27 36h0m2 11h0m-15 26h0m19 25h0m-27 38h0m8 16h0m1 2h0m21 7h0m-39 8h0m5 10h0m14 5h0m11 13h0m-31 6h0m40 7h0m6 7h0m-34 6h0m-10 1h0m20 11h0m24 6h0m-12 2h0m-26 9h0m38 3h0m-22 8h0m2 2h0m-11 8h0m27 3h0m-38 8h0m7 7h0m-5 3h0m2 5h0m39 1h0m7 14h0m-25 1h0m13 2h0m-13 0h0m16 2h0m-41 19h0m19 0h0m10 1h0m-32 0h0m42 6h0m-13 11h0m-1 3h0m1 0h0m21 2h0m-5 3h0m0 7h0m-19 6h0m4 1h0m-18 4h0m-1 1h0m-1 6h0m11 3h0m6 3h0m-25 0h0m28 3h0m-31 1h0m44 2h0m7 6h0m-43 6h0m-8 2h0m11 1h0m32 0h0m1 0h0m-5 3h0m3 1h0m8 1h0m-45 0h0m19 2h0m22 1h0m4 7h0m-45 1h0m51 3h0m-47 1h0m44 3h0m-38 5h0m3 4h0m29 1h0m-9 2h0m1 2h0m-30 5h0m28 1h0m-36 0h0m17 0h0m0 0h0m3 3h0m-12 4h0m3 1h0m25 1h0m3 0h0m9 7h0m-3 1h0m-34 6h0m0 3h0m-8 0h0m28 2h0m-8 0h0m35 1h0m-46 2h0m18 4h0m11 3h0m-13 0h0m15 1h0m-31 1h0m39 1h0m0 3h0m3 0h0m-41 0h0m44 2h0m-52 6h0m25 1h0m-28 3h0m4 1h0m25 2h0m-20 15h0m-2 3h0m6 0h0m-5 0h0m32 2h0m-35 1h0m2 1h0m30 1h0m-4 1h0m-33 3h0m17 0h0m20 2h0m-33 3h0m34 6h0m-27 1h0m23 1h0m-13 1h0m-19 1h0m49 1h0m-20 4h0m-21 0h0m10 0h0m21 2h0m-3 0h0m14 3h0m-25 0h0m-15 1h0m-14 2h0m30 1h0m-7 1h0m-13 2h0m17 1h0m2 1h0m-19 10h0m17 1h0m-20 4h0m0 0h0m7 3h0m-6 5h0m-5 1h0m0 2h0m-4 13h0m8 19h0m14 1h0m-16 3h0m21 0h0m-6 5h0m2 0h0m-15 3h0m1 2h0m-7 1h0m16 1h0m-2 0h0m-8 2h0m11 0h0m-13 0h0m2 2h0m14 3h0m16 3h0m-16 1h0m14 1h0m-12 13h0m-7 2h0m-2 4h0m-2 2h0m5 0h0m-14 3h0m3 1h0m-3 0h0m12 4h0m-7 1h0m-5 3h0m5 1h0m47 265h0m-4 4h0m2 9h0m-11 5h0m2 5h0m-18 2h0m4 3h0m14 2h0m-6 1h0m-10 7h0m2 3h0m-8 0h0m1 0h0m19 2h0m-1 1h0m2 0h0m-10 5h0m-7 0h0m15 2h0m13 3h0m3 4h0m-4 2h0m-16 1h0m18 1h0m-6 1h0m9 0h0m-59 4h0m43 3h0m-39 2h0m32 1h0m-10 1h0m-7 0h0m0 0h0m-15 2h0m46 0h0m-42 1h0m15 1h0m19 0h0m-3 3h0m-32 0h0m38 2h0m-25 1h0m36 1h0m-14 2h0m-31 1h0m35 1h0m8 5h0m-20 3h0m-1 0h0m-23 0h0m-2 1h0m49 2h0m-7 0h0m-5 2h0m-39 2h0m-3 2h0m49 9h0m-39 1h0m-10 3h0m7 8h0m1 17h0m7 2h0m10 1h0m-1 4h0m29 4h0m-1 1h0m-41 4h0m25 9h0m-18 3h0m36 1h0m-14 12h0m14 21h0m-34 26h0m9 9h0m-5 1h0m31 2h0m-41 20h0m50-1143h0m50 45h0m-38 88h0m12 0h0m-3 8h0m17 4h0m-19 13h0m-2 4h0m16 1h0m4 19h0m-2 1h0m-27 9h0m0 7h0m21 9h0m-3 2h0m-24 11h0m13 0h0m31 10h0m0 9h0m-52 2h0m37 12h0m-21 6h0m16 1h0m7 4h0m3 28h0m-37 1h0m52 4h0m-51 3h0m-4 1h0m33 3h0m10 0h0m-5 1h0m-36 3h0m20 12h0m22 3h0m1 6h0m-22 1h0m25 5h0m6 3h0m-25 3h0m-30 0h0m54 15h0m-50 3h0m5 4h0m-8 0h0m49 2h0m1 0h0m-34 1h0m20 11h0m19 1h0m-25 1h0m-20 3h0m19 1h0m16 4h0m-27 2h0m-2 3h0m-1 5h0m30 2h0m-9 2h0m-17 8h0m7 1h0m16 1h0m-23 5h0m6 1h0m-8 0h0m-14 2h0m9 2h0m-8 3h0m-1 0h0m-4 3h0m39 0h0m17 0h0m-31 1h0m-4 1h0m0 0h0m5 4h0m-1 1h0m28 3h0m-37 2h0m8 0h0m25 2h0m-31 3h0m24 0h0m-2 1h0m-42 1h0m35 0h0m5 0h0m12 3h0m-11 6h0m-2 1h0m-29 1h0m36 3h0m-30 0h0m10 4h0m15 0h0m15 4h0m-49 1h0m15 2h0m13 1h0m-33 1h0m29 2h0m-23 3h0m39 1h0m11 1h0m-1 1h0m-30 0h0m-1 2h0m17 1h0m0 0h0m-27 3h0m35 1h0m-39 2h0m-7 2h0m45 372h0m-13 1h0m19 3h0m-27 1h0m-6 0h0m25 1h0m-27 2h0m-4 2h0m4 0h0m-15 1h0m3 1h0m20 0h0m-26 1h0m7 1h0m24 1h0m-19 1h0m6 1h0m8 1h0m-22 0h0m-1 1h0m15 0h0m17 1h0m-34 1h0m9 1h0m27 0h0m-12 0h0m1 1h0m23 2h0m-23 1h0m-25 3h0m10 4h0m4 1h0m0 3h0m4 1h0m33 10h0m4 2h0m-56 0h0m3 5h0m10 2h0m13 1h0m-6 2h0m-8 1h0m0 8h0m-10 1h0m5 1h0m2 2h0m13 7h0m-20 3h0m42 0h0m-30 5h0m39 6h0m-37 0h0m12 1h0m14 2h0m-2 4h0m-3 1h0m4 9h0m-31 7h0m4 8h0m-11 0h0m13 1h0m3 9h0m-21 7h0m51 3h0m4 3h0m1 6h0m-23 28h0m-28 17h0m17 13h0m-6 25h0m18 167h0m63-1312h0m-24 40h0m10 153h0m17 16h0m9 2h0m-24 32h0m25 28h0m-9 9h0m3 0h0m-44 7h0m12 21h0m-11 1h0m21 8h0m11 5h0m-16 8h0m38 10h0m-16 2h0m-14 4h0m20 8h0m-42 0h0m16 19h0m33 1h0m-51 7h0m12 8h0m11 1h0m-25 5h0m19 5h0m25 1h0m5 4h0m-13 6h0m-18 0h0m23 4h0m-33 1h0m4 8h0m18 8h0m-29 1h0m16 1h0m8 3h0m4 0h0m-7 0h0m7 2h0m4 1h0m20 0h0m-39 1h0m-11 6h0m50 2h0m-25 3h0m-26 1h0m4 0h0m-4 2h0m11 1h0m14 1h0m29 1h0m-53 1h0m2 0h0m17 1h0m37 4h0m-49 2h0m25 3h0m14 1h0m-38 1h0m3 5h0m39 1h0m-38 1h0m33 8h0m-31 0h0m0 4h0m19 1h0m13 6h0m-6 4h0m-43 2h0m50 1h0m-21 2h0m26 1h0m-8 0h0m-38 2h0m35 0h0m4 1h0m-8 0h0m-28 2h0m45 2h0m-53 5h0m54 2h0m-38 1h0m0 1h0m19 0h0m7 2h0m13 3h0m-47 1h0m21 0h0m-3 4h0m28 3h0m-42 1h0m12 1h0m30 3h0m-10 1h0m-26 4h0m-13 1h0m-9 1h0m20 1h0m-16 1h0m11 1h0m-7 0h0m15 2h0m-16 2h0m52 228h0m-3 1h0m-1 4h0m-1 10h0m-3 5h0m2 0h0m-5 2h0m-1 4h0m3 2h0m2 8h0m3 1h0m-8 5h0m8 19h0m-10 6h0m8 1h0m0 6h0m-9 1h0m-9 7h0m0 1h0m13 4h0m0 2h0m-23 5h0m28 2h0m1 1h0m-15 4h0m-3 1h0m17 0h0m3 2h0m-22 1h0m-21 5h0m12 2h0m8 1h0m-1 1h0m14 1h0m-27 2h0m35 4h0m-21 1h0m4 3h0m-14 1h0m-10 2h0m25 2h0m-17 2h0m-3 1h0m-16 5h0m32 4h0m-12 6h0m-4 2h0m38 3h0m-39 6h0m-16 9h0m30 17h0m-9 2h0m-22 3h0m47 8h0m-22 6h0m-24 17h0m33 5h0m-10 0h0m-23 5h0m52 4h0m2 11h0m-21 18h0m21 1h0m-53 5h0m33 45h0m5 81h0m-2 164h0m37-1501h0m1 261h0m-1 14h0m33 45h0m-44 4h0m-4 33h0m10 2h0m19 4h0m-2 24h0m-24 11h0m35 4h0m9 1h0m-20 5h0m22 4h0m-19 13h0m-9 40h0m28 10h0m-44 3h0m38 12h0m-22 5h0m19 2h0m-39 2h0m42 6h0m-1 19h0m-15 2h0m-14 1h0m40 4h0m-16 5h0m-5 1h0m5 0h0m5 4h0m-3 5h0m-9 2h0m-26 3h0m53 3h0m-53 9h0m6 0h0m-7 0h0m14 0h0m11 2h0m-16 2h0m38 4h0m-14 6h0m-34 1h0m44 2h0m-10 0h0m-29 4h0m36 0h0m-22 3h0m30 5h0m-22 1h0m-11 1h0m26 1h0m-13 6h0m-5 0h0m-12 3h0m5 2h0m3 3h0m12 2h0m-11 3h0m28 0h0m-39 0h0m-11 6h0m4 16h0m11 1h0m34 2h0m-44 0h0m26 0h0m6 2h0m18 2h0m-52 4h0m6 1h0m29 0h0m-26 2h0m5 1h0m4 1h0m-6 1h0m25 1h0m-22 1h0m12 4h0m-15 0h0m38 1h0m-32 2h0m35 1h0m-4 0h0m-29 0h0m1 1h0m-10 0h0m-9 3h0m26 0h0m-27 1h0m45 0h0m5 2h0m-3 5h0m-39 3h0m25 2h0m15 0h0m5 1h0m-18 0h0m-1 2h0m-2 2h0m-7 2h0m1 1h0m-23 6h0m11 2h0m40 2h0m-55 0h0m29 1h0m0 1h0m-5 0h0m14 1h0m-3 0h0m16 3h0m-54 0h0m49 5h0m-40 0h0m20 1h0m15 4h0m-28 2h0m-10 1h0m6 1h0m21 4h0m20 16h0m-9 14h0m8 2h0m-8 1h0m-5 1h0m8 1h0m-1 3h0m6 65h0m3 17h0m-1 0h0m-7 11h0m-7 4h0m-1 0h0m18 0h0m-29 2h0m19 2h0m-26 1h0m14 1h0m10 5h0m-7 2h0m-24 1h0m0 2h0m4 0h0m20 1h0m-12 1h0m0 0h0m-1 1h0m19 1h0m-9 0h0m11 2h0m-30 0h0m13 5h0m-19 0h0m48 3h0m-43 0h0m-2 1h0m10 2h0m3 3h0m-22 4h0m53 0h0m-25 4h0m-17 2h0m-5 0h0m-5 4h0m46 1h0m-16 0h0m-14 2h0m-15 0h0m43 0h0m-35 1h0m36 0h0m-41 2h0m19 4h0m-10 3h0m11 10h0m14 0h0m-22 1h0m24 2h0m-24 1h0m-9 2h0m31 4h0m-21 1h0m10 1h0m12 2h0m-39 2h0m38 0h0m-30 3h0m41 0h0m-53 3h0m31 2h0m2 1h0m-27 3h0m0 1h0m-7 4h0m42 3h0m-4 0h0m2 1h0m8 2h0m-41 0h0m8 6h0m18 2h0m-1 0h0m7 1h0m-24 3h0m31 2h0m-11 1h0m16 3h0m-39 0h0m9 4h0m-22 1h0m39 1h0m-27 7h0m-5 1h0m35 0h0m-18 5h0m-13 6h0m-5 11h0m8 5h0m0 5h0m19 5h0m-1 4h0m5 2h0m3 2h0m16 1h0m-31 1h0m-6 3h0m10 2h0m24 3h0m-41 5h0m47 8h0m-26 1h0m1 0h0m-29 4h0m30 1h0m-28 7h0m19 5h0m-21 11h0m5 14h0m-6 1h0m47 0h0m-40 11h0m29 1h0m10 14h0m-19 15h0m-21 6h0m6 29h0m51-831h0m-7 8h0m48 36h0m-42 15h0m15 5h0m25 9h0m2 17h0m-24 6h0m-20 7h0m47 3h0m-16 6h0m21 2h0m-37 10h0m23 3h0m-9 16h0m-30 5h0m5 5h0m7 9h0m0 3h0m19 2h0m6 6h0m-17 4h0m24 4h0m-9 1h0m-2 3h0m8 6h0m-26 1h0m19 5h0m-10 2h0m-21 2h0m35 5h0m-8 11h0m-24 1h0m-3 0h0m26 3h0m-6 1h0m-21 1h0m16 7h0m2 1h0m-22 2h0m57 2h0m-51 13h0m11 0h0m-1 6h0m37 2h0m-10 1h0m-32 7h0m11 3h0m6 4h0m8 1h0m-37 2h0m28 2h0m8 10h0m-8 1h0m18 1h0m8 9h0m-20 1h0m3 2h0m15 7h0m-9 3h0m-16 6h0m3 0h0m-7 6h0m-17 0h0m41 1h0m-40 1h0m14 2h0m-16 3h0m50 1h0m-47 0h0m3 1h0m0 5h0m12 0h0m-21 4h0m9 2h0m47 0h0m-48 1h0m18 2h0m-19 1h0m20 2h0m-20 0h0m-6 5h0m30 0h0m24 2h0m-40 5h0m31 1h0m-2 1h0m-4 0h0m-27 0h0m-7 2h0m39 1h0m-23 1h0m23 2h0m-18 0h0m-13 2h0m4 0h0m34 3h0m-34 1h0m28 1h0m4 1h0m-30 2h0m-6 1h0m42 1h0m-34 1h0m23 0h0m-14 4h0m-10 1h0m34 0h0m-2 1h0m-9 2h0m-36 0h0m33 3h0m-40 2h0m52 2h0m-24 2h0m12 0h0m-17 1h0m13 1h0m-35 1h0m20 0h0m1 1h0m-1 2h0m26 2h0m-10 0h0m-23 2h0m-10 1h0m6 1h0m-7 4h0m17 2h0m32 2h0m-22 4h0m-18 3h0m10 0h0m-13 0h0m24 0h0m20 1h0m-36 1h0m17 1h0m3 0h0m7 1h0m11 3h0m-16 1h0m-36 2h0m2 0h0m36 1h0m5 1h0m-25 1h0m17 1h0m-12 1h0m4 0h0m-26 0h0m43 3h0m1 1h0m-27 1h0m-13 3h0m39 4h0m-34 5h0m-4 1h0m20 0h0m1 2h0m-11 0h0m-3 3h0m-6 10h0m-6 2h0m25 2h0m-14 1h0m37 9h0m-49 1h0m-5 0h0m38 6h0m3 1h0m-14 0h0m-10 3h0m-7 1h0m16 1h0m9 4h0m15 1h0m-48 1h0m-2 1h0m50 1h0m-12 9h0m-18 1h0m11 1h0m1 0h0m6 7h0m-34 1h0m11 3h0m29 1h0m-10 1h0m2 2h0m4 3h0m5 1h0m-8 0h0m14 2h0m-27 2h0m2 2h0m7 1h0m-33 3h0m1 1h0m47 0h0m-9 3h0m13 1h0m-44 0h0m-8 3h0m54 3h0m-4 1h0m4 3h0m-20 2h0m4 1h0m-31 0h0m28 4h0m12 2h0m-29 1h0m18 1h0m7 2h0m-25 1h0m20 1h0m11 0h0m-22 0h0m26 1h0m-33 2h0m-11 1h0m45 0h0m-26 0h0m-23 1h0m42 1h0m-3 2h0m-27 4h0m6 7h0m-21 1h0m2 0h0m31 2h0m-12 3h0m31 1h0m-11 2h0m-26 2h0m28 2h0m-20 0h0m-6 3h0m-16 1h0m0 0h0m35 3h0m-36 2h0m23 3h0m-20 1h0m8 1h0m23 2h0m-27 1h0m-7 5h0m19 2h0m-12 1h0m3 1h0m42 2h0m-47 0h0m46 0h0m-15 2h0m6 0h0m-20 2h0m11 0h0m-10 3h0m13 3h0m-36 5h0m7 2h0m11 5h0m2 9h0m15 2h0m-9 4h0m-23 0h0m15 1h0m-10 4h0m34 3h0m-29 2h0m13 1h0m-15 3h0m28 9h0m-5 3h0m-4 0h0m-13 16h0m32 2h0m-30 2h0m2 26h0m30 6h0m-28 0h0m-18 13h0m33 2h0m-37 3h0m9 17h0m0 4h0m-6 7h0m5 15h0m37 9h0m-43 1h0m4 29h0m32 68h0m20-1104h0m0 57h0m37 62h0m-6 71h0m21 5h0m-5 24h0m-24 8h0m-19 5h0m-3 14h0m48 3h0m-37 5h0m19 27h0m-22 12h0m19 2h0m15 6h0m0 2h0m-45 4h0m3 3h0m36 3h0m-34 12h0m14 10h0m5 4h0m9 16h0m-26 3h0m-1 23h0m42 4h0m-12 4h0m18 2h0m-33 2h0m-17 3h0m24 0h0m8 6h0m-12 2h0m-3 1h0m12 0h0m-17 4h0m33 1h0m-27 1h0m29 5h0m6 2h0m-38 3h0m24 0h0m-19 2h0m28 2h0m-52 2h0m9 0h0m-8 3h0m43 4h0m9 1h0m-7 1h0m-36 1h0m32 1h0m1 2h0m-30 5h0m1 3h0m15 6h0m-24 10h0m49 1h0m-1 10h0m-38 5h0m-3 1h0m43 1h0m-16 1h0m-19 0h0m10 1h0m10 2h0m-31 4h0m-8 2h0m39 0h0m-38 2h0m32 9h0m-25 4h0m2 0h0m19 1h0m4 0h0m-34 8h0m12 0h0m8 0h0m9 2h0m-7 3h0m11 2h0m23 3h0m-31 1h0m-23 5h0m11 1h0m6 1h0m-2 3h0m11 1h0m10 3h0m-3 0h0m10 1h0m7 2h0m-49 0h0m22 1h0m-18 2h0m23 1h0m-9 0h0m21 2h0m-21 2h0m38 1h0m-57 1h0m12 0h0m21 5h0m-5 3h0m-28 2h0m36 2h0m-2 1h0m14 4h0m-37 2h0m17 1h0m-17 1h0m12 0h0m10 4h0m-17 3h0m24 4h0m-25 4h0m5 10h0m20 3h0m-5 1h0m22 0h0m-16 5h0m-12 3h0m6 0h0m-7 3h0m-8 0h0m-21 0h0m12 0h0m16 6h0m14 1h0m16 1h0m-47 2h0m18 2h0m-19 2h0m2 0h0m2 4h0m33 1h0m-19 2h0m-13 2h0m-7 3h0m32 1h0m-33 2h0m10 1h0m12 1h0m6 4h0m-1 6h0m13 3h0m-10 0h0m-3 1h0m-5 5h0m-20 2h0m21 1h0m28 1h0m-41 8h0m41 2h0m-54 2h0m6 1h0m44 2h0m-47 2h0m-8 2h0m39 0h0m13 0h0m-13 2h0m-25 6h0m-12 0h0m15 3h0m23 1h0m-8 1h0m10 1h0m11 6h0m-8 1h0m-37 2h0m6 2h0m31 4h0m-26 0h0m8 2h0m-6 0h0m3 3h0m24 3h0m1 2h0m-39 1h0m30 1h0m-20 1h0m-10 5h0m15 1h0m-21 1h0m33 0h0m-37 9h0m4 0h0m37 6h0m-38 5h0m22 15h0m-6 8h0m23 2h0m-4 7h0m18 3h0m-40 1h0m38 4h0m-43 3h0m32 6h0m-34 2h0m6 0h0m6 8h0m35 21h0m-29 1h0m12 2h0m-36 15h0m52 14h0m-36 30h0m2 18h0m5 30h0m-1 38h0m25 21h0m-14 30h0m44-976h0m34 99h0m-54 24h0m8 4h0m26 6h0m2 0h0m-18 42h0m17 29h0m24 9h0m-16 1h0m-37 1h0m-2 9h0m29 6h0m10 4h0m-3 11h0m-31 28h0m16 2h0m-20 2h0m-4 2h0m10 30h0m48 11h0m-12 2h0m-17 7h0m-3 4h0m20 2h0m-19 13h0m-27 1h0m12 15h0m-3 1h0m35 1h0m-13 9h0m14 0h0m-22 5h0m30 1h0m-51 5h0m27 2h0m2 3h0m6 7h0m-17 4h0m-18 1h0m52 6h0m-37 0h0m32 3h0m-11 10h0m-15 3h0m24 4h0m-15 10h0m-10 3h0m24 2h0m-33 8h0m28 8h0m-8 3h0m6 6h0m-21 0h0m-4 11h0m12 2h0m-22 0h0m38 4h0m16 4h0m-43 2h0m-2 11h0m2 7h0m26 5h0m-30 0h0m21 1h0m2 8h0m7 9h0m13 2h0m-47 1h0m27 5h0m-4 11h0m-17 3h0m13 1h0m4 8h0m-7 0h0m8 0h0m11 0h0m2 4h0m-26 4h0m18 6h0m-31 17h0m7 9h0m43 1h0m-44 10h0m-11 3h0m15 7h0m8 13h0m3 4h0m10 4h0m-8 7h0m-2 2h0m4 1h0m23 4h0m-2 2h0m-50 2h0m48 3h0m-2 0h0m-44 6h0m-4 2h0m6 1h0m31 11h0m11 1h0m-17 8h0m28 6h0m-9 15h0m-50 60h0m23 6h0m-16 6h0m22 10h0m-25 23h0m44 51h0m-7 56h0m-25 302h0m82-1254h0m-5 129h0m5 11h0m18 54h0m1 37h0m-30 2h0m-26 7h0m10 1h0m48 20h0m-47 5h0m0 24h0m7 10h0m10 2h0m11 4h0m-32 12h0m51 1h0m-52 11h0m33 6h0m-5 2h0m0 15h0m24 20h0m-27 16h0m-18 14h0m44 5h0m-11 2h0m-44 0h0m1 1h0m21 2h0m8 5h0m-30 22h0m18 0h0m30 7h0m-35 5h0m-2 4h0m45 9h0m-51 3h0m44 1h0m-25 24h0m32 2h0m-36 10h0m3 2h0m-22 7h0m28 0h0m0 4h0m-26 9h0m34 3h0m-21 5h0m31 2h0m-6 0h0m-43 11h0m32 1h0m-1 2h0m-7 3h0m17 1h0m-38 13h0m28 1h0m23 15h0m-3 2h0m-10 1h0m-7 2h0m-27 0h0m16 6h0m-21 1h0m18 3h0m-12 0h0m26 2h0m-4 7h0m23 0h0m-50 1h0m-1 16h0m32 44h0m2 3h0m7 14h0m1 33h0m-44 16h0m10 0h0m6 2h0m-17 2h0m27 30h0m65-586h0m13 40h0m-41 4h0m-2 14h0m15 5h0m24 23h0m-4 11h0m-5 1h0m-24 12h0m2 5h0m36 9h0m-4 15h0m-36 11h0m4 4h0m-10 16h0m17 1h0m-10 10h0m4 6h0m-10 37h0m2 11h0m32 8h0m-2 4h0m-25 5h0m2 1h0m-1 2h0m8 11h0m24 3h0m-15 26h0m5 1h0m13 3h0m-32 7h0m-11 13h0m28 1h0m-2 16h0m12 3h0m3 2h0m-3 37h0m16 6h0m-45 1h0m23 26h0m-5 3h0m12 15h0m-31 11h0m43 0h0m-6 1h0m-43 32h0m54 2h0m-37 46h0m19 17h0m18 119h0m-24 37h0m3 13h0m57-793h0m13 103h0m-43 94h0m19 31h0m1 63h0m-18 12h0m39 49h0m-3 67h0m-41 32h0m45 45h0m2 24h0m-16 6h0m23 54h0m-43 7h0m-2 29h0m2 145h0m82-652h0m8 1h0m11 61h0m-12 81h0m-31 29h0m7 33h0m21 73h0m12 1h0m-38 62h0m42 21h0m3 5h0m-36 22h0m-15 101h0m-1 11h0m50 4h0m-36 12h0m69-500h0m18 111h0m-29 54h0m-1 32h0m17 49h0m-18 22h0m-11 70h0"/>
</g>
<g transform="scale(.1)"><path class="x" d="M3500 1751l42 42m0-42l-42 42M3517 1916l42 42m0-42l-42 42M3550 1808l42 42m0-42l-42 42M3644 1747l42 42m0-42l-42 42M3645 1651l42 42m0-42l-42 42M3746 1698l42 42m0-42l-42 42M3748 1304l42 42m0-42l-42 42M3801 1518l42 42m0-42l-42 42M3809 1661l42 42m0-42l-42 42M3820 1667l42 42m0-42l-42 42M3898 1743l42 42m0-42l-42 42M3918 1630l42 42m0-42l-42 42M3972 1665l42 42m0-42l-42 42M4000 1525l42 42m0-42l-42 42M4001 1643l42 42m0-42l-42 42M4013 1450l42 42m0-42l-42 42M4016 1315l42 42m0-42l-42 42M4030 1507l42 42m0-42l-42 42M4064 1542l42 42m0-42l-42 42M4083 1270l42 42m0-42l-42 42M4085 1529l42 42m0-42l-42 42M4113 1478l42 42m0-42l-42 42M4153 1447l42 42m0-42l-42 42M4170 1292l42 42m0-42l-42 42M4180 1258l42 42m0-42l-42 42M4196 1196l42 42m0-42l-42 42M4207 1408l42 42m0-42l-42 42M4213 1373l42 42m0-42l-42 42M4216 1262l42 42m0-42l-42 42M4233 1257l42 42m0-42l-42 42M4238 1438l42 42m0-42l-42 42M4252 1262l42 42m0-42l-42 42M4252 1510l42 42m0-42l-42 42M4264 1326l42 42m0-42l-42 42M4265 1219l42 42m0-42l-42 42M4266 1297l42 42m0-42l-42 42M4292 1357l42 42m0-42l-42 42M4312 1262l42 42m0-42l-42 42M4320 1240l42 42m0-42l-42 42M4325 1319l42 42m0-42l-42 42M4343 1475l42 42m0-42l-42 42M4344 1233l42 42m0-42l-42 42M4368 1354l42 42m0-42l-42 42M4378 1267l42 42m0-42l-42 42M4395 1389l42 42m0-42l-42 42M4440 1132l42 42m0-42l-42 42M4454 1305l42 42m0-42l-42 42M4466 895l42 42m0-42l-42 42M4472 1097l42 42m0-42l-42 42M4495 1028l42 42m0-42l-42 42M4691 1210l42 42m0-42l-42 42M4741 934l42 42m0-42l-42 42"/></g>
<path class="l" d="M282.3 145.5H392.2L513.4 28.4"/>
</g>
<g clip-path="url(#c2)">
<g transform="scale(.1)">
<path class="u" d="M6500 780h5v5h-5zM6480 785h5v5h-5zM6495 785h15v5h-15zM6475 790h40v5h-40zM6470 795h40v5h-40zM6420 800h10v5h-10zM6435 800h5v5h-5zM6465 800h30v5h-30zM6500 800h5v5h-5zM6415 805h30v5h-30zM6465 805h25v5h-25zM6410 810h80v5h-80zM6410 815h80v5h-80zM6410 820h80v5h-80zM6410 825h85v5h-85zM6415 830h75v5h-75zM6415 835h75v5h-75zM6540 835h5v5h-5zM6385 840h105v5h-105zM6535 840h15v5h-15zM6360 845h5v5h-5zM6380 845h175v5h-175zM6355 850h15v5h-15zM6375 850h175v5h-175zM6350 855h205v5h-205zM6355 860h15v5h-15zM6375 860h180v5h-180zM6315 865h5v5h-5zM6360 865h5v5h-5zM6380 865h175v5h-175zM6280 870h5v5h-5zM6310 870h15v5h-15zM6390 870h160v5h-160zM6275 875h15v5h-15zM6295 875h40v5h-40zM6395 875h150v5h-150zM6270 880h70v5h-70zM6395 880h140v5h-140zM6265 885h80v5h-80zM6395 885h130v5h-130zM6270 890h75v5h-75zM6395 890h120v5h-120zM6275 895h10v5h-10zM6295 895h50v5h-50zM6395 895h120v5h-120zM6295 900h50v5h-50zM6395 900h120v5h-120zM6295 905h50v5h-50zM6395 905h120v5h-120zM6300 910h45v5h-45zM6395 910h120v5h-120zM6300 915h45v5h-45zM6395 915h120v5h-120zM6305 920h45v5h-45zM6390 920h125v5h-125zM6310 925h40v5h-40zM6385 925h150v5h-150zM6540 925h10v5h-10zM6315 930h240v5h-240zM6315 935h245v5h-245zM6310 940h255v5h-255zM6310 945h260v5h-260zM6315 950h255v5h-255zM6250 955h10v5h-10zM6315 955h260v5h-260zM6245 960h20v5h-20zM6315 960h265v5h-265zM6240 965h30v5h-30zM6315 965h260v5h-260zM6240 970h30v5h-30zM6315 970h255v5h-255zM6585 970h10v5h-10zM6240 975h30v5h-30zM6315 975h260v5h-260zM6580 975h20v5h-20zM6240 980h35v5h-35zM6315 980h220v5h-220zM6545 980h60v5h-60zM6220 985h5v5h-5zM6240 985h30v5h-30zM6320 985h20v5h-20zM6365 985h175v5h-175zM6550 985h25v5h-25zM6580 985h20v5h-20zM6215 990h20v5h-20zM6240 990h25v5h-25zM6325 990h15v5h-15zM6365 990h175v5h-175zM6555 990h15v5h-15zM6585 990h10v5h-10zM6210 995h60v5h-60zM6320 995h25v5h-25zM6360 995h175v5h-175zM6205 1000h65v5h-65zM6325 1000h15v5h-15zM6365 1000h165v5h-165zM6210 1005h65v5h-65zM6330 1005h5v5h-5zM6365 1005h165v5h-165zM6215 1010h65v5h-65zM6335 1010h5v5h-5zM6365 1010h165v5h-165zM6210 1015h65v5h-65zM6330 1015h15v5h-15zM6360 1015h175v5h-175zM6210 1020h60v5h-60zM6325 1020h25v5h-25zM6360 1020h175v5h-175zM6210 1025h60v5h-60zM6320 1025h210v5h-210zM6210 1030h60v5h-60zM6315 1030h210v5h-210zM6215 1035h55v5h-55zM6315 1035h185v5h-185zM6510 1035h5v5h-5zM6220 1040h55v5h-55zM6315 1040h180v5h-180zM6230 1045h45v5h-45zM6310 1045h175v5h-175zM6230 1050h40v5h-40zM6305 1050h180v5h-180zM6230 1055h35v5h-35zM6280 1055h205v5h-205zM6235 1060h30v5h-30zM6275 1060h210v5h-210zM6235 1065h250v5h-250zM6230 1070h255v5h-255zM6230 1075h255v5h-255zM6215 1080h5v5h-5zM6230 1080h255v5h-255zM6210 1085h280v5h-280zM6205 1090h290v5h-290zM6205 1095h285v5h-285zM6210 1100h275v5h-275zM6210 1105h270v5h-270zM6210 1110h245v5h-245zM6210 1115h250v5h-250zM6210 1120h245v5h-245zM6215 1125h95v5h-95zM6355 1125h120v5h-120zM6220 1130h90v5h-90zM6360 1130h135v5h-135zM6245 1135h65v5h-65zM6360 1135h140v5h-140zM6245 1140h65v5h-65zM6360 1140h145v5h-145zM6245 1145h60v5h-60zM6360 1145h145v5h-145zM6240 1150h65v5h-65zM6360 1150h170v5h-170zM6245 1155h60v5h-60zM6365 1155h170v5h-170zM6250 1160h55v5h-55zM6370 1160h170v5h-170zM6550 1160h10v5h-10zM6255 1165h15v5h-15zM6275 1165h30v5h-30zM6385 1165h180v5h-180zM6280 1170h25v5h-25zM6390 1170h180v5h-180zM6275 1175h65v5h-65zM6385 1175h180v5h-180zM6280 1180h65v5h-65zM6385 1180h175v5h-175zM6275 1185h75v5h-75zM6390 1185h155v5h-155zM6275 1190h80v5h-80zM6395 1190h150v5h-150zM6270 1195h85v5h-85zM6405 1195h140v5h-140zM6270 1200h85v5h-85zM6405 1200h140v5h-140zM6270 1205h85v5h-85zM6405 1205h140v5h-140zM6270 1210h90v5h-90zM6395 1210h40v5h-40zM6475 1210h65v5h-65zM6275 1215h100v5h-100zM6380 1215h45v5h-45zM6475 1215h60v5h-60zM6275 1220h150v5h-150zM6475 1220h55v5h-55zM6275 1225h155v5h-155zM6475 1225h50v5h-50zM6280 1230h150v5h-150zM6475 1230h30v5h-30zM6640 1230h5v5h-5zM6285 1235h145v5h-145zM6475 1235h35v5h-35zM6635 1235h15v5h-15zM6285 1240h145v5h-145zM6475 1240h35v5h-35zM6625 1240h35v5h-35zM6280 1245h155v5h-155zM6475 1245h35v5h-35zM6620 1245h45v5h-45zM6755 1245h10v5h-10zM6285 1250h145v5h-145zM6475 1250h30v5h-30zM6615 1250h55v5h-55zM6750 1250h20v5h-20zM6285 1255h150v5h-150zM6475 1255h30v5h-30zM6615 1255h60v5h-60zM6730 1255h5v5h-5zM6745 1255h30v5h-30zM6280 1260h225v5h-225zM6615 1260h60v5h-60zM6725 1260h15v5h-15zM6750 1260h25v5h-25zM6275 1265h235v5h-235zM6620 1265h55v5h-55zM6690 1265h5v5h-5zM6715 1265h30v5h-30zM6750 1265h25v5h-25zM6270 1270h260v5h-260zM6625 1270h75v5h-75zM6705 1270h70v5h-70zM6270 1275h275v5h-275zM6635 1275h145v5h-145zM6270 1280h280v5h-280zM6635 1280h150v5h-150zM6265 1285h290v5h-290zM6640 1285h150v5h-150zM6270 1290h55v5h-55zM6355 1290h200v5h-200zM6640 1290h155v5h-155zM6270 1295h50v5h-50zM6360 1295h195v5h-195zM6640 1295h150v5h-150zM6270 1300h50v5h-50zM6360 1300h200v5h-200zM6635 1300h150v5h-150zM6270 1305h55v5h-55zM6360 1305h205v5h-205zM6630 1305h150v5h-150zM6275 1310h45v5h-45zM6355 1310h205v5h-205zM6635 1310h135v5h-135zM6280 1315h35v5h-35zM6355 1315h205v5h-205zM6630 1315h140v5h-140zM6360 1320h15v5h-15zM6395 1320h15v5h-15zM6420 1320h140v5h-140zM6630 1320h140v5h-140zM6850 1320h5v5h-5zM6365 1325h5v5h-5zM6400 1325h5v5h-5zM6420 1325h175v5h-175zM6600 1325h130v5h-130zM6735 1325h35v5h-35zM6845 1325h15v5h-15zM6420 1330h305v5h-305zM6740 1330h25v5h-25zM6840 1330h25v5h-25zM6875 1330h15v5h-15zM6225 1335h20v5h-20zM6420 1335h310v5h-310zM6755 1335h5v5h-5zM6835 1335h60v5h-60zM6220 1340h30v5h-30zM6420 1340h310v5h-310zM6830 1340h70v5h-70zM6215 1345h40v5h-40zM6420 1345h310v5h-310zM6825 1345h80v5h-80zM6215 1350h45v5h-45zM6420 1350h310v5h-310zM6785 1350h5v5h-5zM6820 1350h80v5h-80zM6215 1355h50v5h-50zM6420 1355h310v5h-310zM6780 1355h25v5h-25zM6820 1355h75v5h-75zM6215 1360h50v5h-50zM6420 1360h310v5h-310zM6775 1360h35v5h-35zM6815 1360h65v5h-65zM6215 1365h50v5h-50zM6415 1365h315v5h-315zM6780 1365h65v5h-65zM6210 1370h50v5h-50zM6415 1370h320v5h-320zM6755 1370h10v5h-10zM6785 1370h60v5h-60zM6205 1375h50v5h-50zM6410 1375h360v5h-360zM6790 1375h15v5h-15zM6815 1375h25v5h-25zM6210 1380h45v5h-45zM6405 1380h370v5h-370zM6795 1380h5v5h-5zM6815 1380h25v5h-25zM6215 1385h45v5h-45zM6400 1385h375v5h-375zM6815 1385h25v5h-25zM6220 1390h40v5h-40zM6395 1390h380v5h-380zM6810 1390h35v5h-35zM6220 1395h40v5h-40zM6395 1395h380v5h-380zM6815 1395h30v5h-30zM6220 1400h35v5h-35zM6400 1400h375v5h-375zM6815 1400h30v5h-30zM6220 1405h35v5h-35zM6335 1405h5v5h-5zM6400 1405h375v5h-375zM6820 1405h25v5h-25zM6220 1410h35v5h-35zM6330 1410h15v5h-15zM6395 1410h385v5h-385zM6825 1410h15v5h-15zM6220 1415h35v5h-35zM6325 1415h25v5h-25zM6385 1415h395v5h-395zM6825 1415h30v5h-30zM6220 1420h40v5h-40zM6330 1420h530v5h-530zM6225 1425h60v5h-60zM6320 1425h545v5h-545zM6225 1430h65v5h-65zM6315 1430h550v5h-550zM6230 1435h65v5h-65zM6310 1435h560v5h-560zM6230 1440h65v5h-65zM6315 1440h560v5h-560zM6230 1445h65v5h-65zM6305 1445h10v5h-10zM6320 1445h5v5h-5zM6330 1445h475v5h-475zM6830 1445h45v5h-45zM6230 1450h90v5h-90zM6335 1450h470v5h-470zM6850 1450h25v5h-25zM6230 1455h535v5h-535zM6775 1455h25v5h-25zM6855 1455h15v5h-15zM6230 1460h530v5h-530zM6780 1460h15v5h-15zM6860 1460h5v5h-5zM6230 1465h525v5h-525zM6230 1470h525v5h-525zM6225 1475h530v5h-530zM6215 1480h545v5h-545zM6210 1485h555v5h-555zM6205 1490h560v5h-560zM6210 1495h550v5h-550zM6215 1500h540v5h-540zM6220 1505h535v5h-535zM6260 1510h495v5h-495zM6260 1515h340v5h-340zM6615 1515h140v5h-140zM6190 1520h15v5h-15zM6260 1520h490v5h-490zM6120 1525h5v5h-5zM6150 1525h5v5h-5zM6185 1525h25v5h-25zM6260 1525h485v5h-485zM6115 1530h15v5h-15zM6145 1530h30v5h-30zM6180 1530h35v5h-35zM6260 1530h485v5h-485zM6110 1535h105v5h-105zM6260 1535h485v5h-485zM6115 1540h100v5h-100zM6260 1540h480v5h-480zM6115 1545h100v5h-100zM6260 1545h430v5h-430zM6695 1545h40v5h-40zM6750 1545h15v5h-15zM6120 1550h100v5h-100zM6230 1550h120v5h-120zM6370 1550h320v5h-320zM6705 1550h10v5h-10zM6745 1550h25v5h-25zM6115 1555h235v5h-235zM6370 1555h320v5h-320zM6700 1555h10v5h-10zM6740 1555h35v5h-35zM6115 1560h235v5h-235zM6370 1560h320v5h-320zM6695 1560h20v5h-20zM6740 1560h40v5h-40zM6115 1565h235v5h-235zM6370 1565h410v5h-410zM6120 1570h230v5h-230zM6370 1570h405v5h-405zM6125 1575h225v5h-225zM6370 1575h400v5h-400zM6130 1580h220v5h-220zM6370 1580h395v5h-395zM6130 1585h605v5h-605zM6740 1585h20v5h-20zM6130 1590h585v5h-585zM6125 1595h590v5h-590zM6120 1600h590v5h-590zM6115 1605h590v5h-590zM6110 1610h590v5h-590zM6105 1615h500v5h-500zM6615 1615h80v5h-80zM6105 1620h340v5h-340zM6450 1620h120v5h-120zM6615 1620h80v5h-80zM6105 1625h345v5h-345zM6455 1625h110v5h-110zM6615 1625h75v5h-75zM6100 1630h355v5h-355zM6460 1630h105v5h-105zM6620 1630h45v5h-45zM6680 1630h5v5h-5zM6105 1635h345v5h-345zM6470 1635h95v5h-95zM6620 1635h45v5h-45zM6110 1640h455v5h-455zM6615 1640h50v5h-50zM6105 1645h460v5h-460zM6615 1645h50v5h-50zM6110 1650h455v5h-455zM6615 1650h50v5h-50zM6115 1655h455v5h-455zM6615 1655h50v5h-50zM6125 1660h445v5h-445zM6615 1660h50v5h-50zM6130 1665h535v5h-535zM6140 1670h305v5h-305zM6480 1670h180v5h-180zM6050 1675h5v5h-5zM6140 1675h300v5h-300zM6490 1675h170v5h-170zM6045 1680h15v5h-15zM6125 1680h315v5h-315zM6485 1680h175v5h-175zM6005 1685h60v5h-60zM6120 1685h340v5h-340zM6480 1685h175v5h-175zM6000 1690h70v5h-70zM6115 1690h350v5h-350zM6485 1690h165v5h-165zM5995 1695h80v5h-80zM6115 1695h355v5h-355zM6490 1695h155v5h-155zM6000 1700h75v5h-75zM6110 1700h360v5h-360zM6485 1700h155v5h-155zM6005 1705h65v5h-65zM6115 1705h165v5h-165zM6305 1705h165v5h-165zM6490 1705h130v5h-130zM6005 1710h70v5h-70zM6080 1710h200v5h-200zM6305 1710h165v5h-165zM6495 1710h120v5h-120zM6005 1715h275v5h-275zM6310 1715h160v5h-160zM6520 1715h90v5h-90zM6005 1720h275v5h-275zM6315 1720h155v5h-155zM6525 1720h35v5h-35zM6010 1725h270v5h-270zM6330 1725h140v5h-140zM6525 1725h30v5h-30zM6015 1730h270v5h-270zM6330 1730h140v5h-140zM6530 1730h25v5h-25zM6020 1735h110v5h-110zM6145 1735h145v5h-145zM6330 1735h145v5h-145zM6535 1735h15v5h-15zM6025 1740h5v5h-5zM6040 1740h95v5h-95zM6140 1740h155v5h-155zM6330 1740h145v5h-145zM6540 1740h5v5h-5zM6040 1745h90v5h-90zM6145 1745h145v5h-145zM6330 1745h140v5h-140zM6045 1750h80v5h-80zM6150 1750h145v5h-145zM6325 1750h125v5h-125zM6460 1750h5v5h-5zM6050 1755h60v5h-60zM6155 1755h145v5h-145zM6320 1755h125v5h-125zM6055 1760h15v5h-15zM6080 1760h15v5h-15zM6160 1760h50v5h-50zM6220 1760h85v5h-85zM6315 1760h120v5h-120zM6060 1765h5v5h-5zM6160 1765h45v5h-45zM6220 1765h210v5h-210zM6165 1770h30v5h-30zM6220 1770h195v5h-195zM6420 1770h5v5h-5zM6160 1775h35v5h-35zM6225 1775h185v5h-185zM6160 1780h35v5h-35zM6225 1780h165v5h-165zM6160 1785h35v5h-35zM6225 1785h165v5h-165zM6160 1790h35v5h-35zM6220 1790h170v5h-170zM6160 1795h35v5h-35zM6215 1795h170v5h-170zM6160 1800h40v5h-40zM6215 1800h165v5h-165zM6165 1805h30v5h-30zM6220 1805h150v5h-150zM6160 1810h40v5h-40zM6225 1810h125v5h-125zM6160 1815h40v5h-40zM6245 1815h95v5h-95zM6155 1820h45v5h-45zM6250 1820h80v5h-80zM6160 1825h40v5h-40zM6255 1825h65v5h-65zM6165 1830h35v5h-35zM6255 1830h65v5h-65zM6170 1835h30v5h-30zM6260 1835h55v5h-55zM6175 1840h20v5h-20zM6265 1840h50v5h-50zM6180 1845h10v5h-10zM6290 1845h20v5h-20zM6295 1850h10v5h-10z"/>
<path class="d" d="M5099 1273h0m-4 1042h0m47-1457h0m-19 711h0m6 72h0m11 3h0m-24 182h0m-1 95h0m30 94h0m20-1140h0m45 168h0m-31 305h0m25 113h0m-18 37h0m-12 3h0m26 14h0m5 46h0m4 58h0m3 230h0m-34 7h0m39 61h0m-23 16h0m19 34h0m-38 36h0m32 47h0m53-792h0m-12 55h0m16 296h0m0 77h0m-8 16h0m13 5h0m-13 34h0m-19 28h0m33 7h0m9 92h0m-51 56h0m17 101h0m19 42h0m-19 161h0m88-1391h0m-38 79h0m-10 216h0m-1 261h0m-1 13h0m33 11h0m-16 38h0m29 48h0m-42 35h0m22 23h0m-26 91h0m46 172h0m2 1h0m5 11h0m-10 58h0m-25 70h0m-9 76h0m-10 25h0m23 6h0m-2 189h0m52-1050h0m19 98h0m-34 155h0m58 76h0m-20 13h0m21 50h0m-23 72h0m-27 4h0m-1 15h0m19 44h0m29 14h0m-32 2h0m3 48h0m-12 29h0m41 2h0m-47 4h0m48 13h0m2 4h0m-4 44h0m3 9h0m-17 114h0m-27 40h0m-11 55h0m42 132h0m-9 50h0m-16 61h0m85-1267h0m-9 5h0m-15 40h0m32 11h0m-44 34h0m18 21h0m-14 40h0m17 15h0m-19 43h0m28 58h0m-29 44h0m14 26h0m9 27h0m-10 12h0m-3 16h0m-16 51h0m38 19h0m12 13h0m-26 72h0m3 39h0m-16 27h0m33 8h0m-42 63h0m27 28h0m23 76h0m-39 40h0m-1 31h0m37 60h0m-37 136h0m40 73h0m62-1040h0m-39 121h0m23 14h0m-40 109h0m45 31h0m-30 10h0m9 4h0m-3 15h0m10 7h0m-21 8h0m25 3h0m6 60h0m-40 16h0m14 13h0m-4 14h0m18 32h0m19 19h0m0 48h0m-7 15h0m-15 1h0m24 38h0m2 0h0m-8 50h0m-42 7h0m31 46h0m18 46h0m5 28h0m-12 2h0m-26 12h0m-7 52h0m17 11h0m21 61h0m-41 15h0m0 7h0m18 83h0m7 37h0m-19 132h0m45-1671h0m24 302h0m-25 141h0m17 42h0m35 9h0m-19 53h0m-25 99h0m29 6h0m-4 14h0m19 28h0m-8 27h0m3 80h0m-2 17h0m-38 4h0m38 20h0m-13 9h0m13 2h0m9 11h0m-6 20h0m-27 9h0m-15 13h0m49 40h0m-49 23h0m1 15h0m10 11h0m-2 6h0m39 14h0m4 3h0m-11 10h0m1 12h0m10 24h0m-11 2h0m-1 31h0m4 7h0m5 3h0m-4 1h0m-8 33h0m-21 8h0m16 0h0m17 7h0m-18 2h0m22 10h0m-41 15h0m-10 4h0m9 9h0m26 10h0m-13 43h0m3 9h0m19 25h0m-22 1h0m15 57h0m2 40h0m-10 21h0m10 76h0m30-1314h0m4 141h0m24 111h0m-23 57h0m-15 122h0m35 78h0m3 19h0m-2 3h0m4 48h0m-42 42h0m26 18h0m-11 93h0m30 22h0m-20 1h0m-22 13h0m13 10h0m3 15h0m15 26h0m8 10h0m-30 4h0m-14 13h0m29 16h0m-14 3h0m3 8h0m14 0h0m-27 11h0m49 6h0m-3 10h0m-7 15h0m10 5h0m-56 1h0m52 6h0m-24 3h0m22 5h0m-35 3h0m18 7h0m4 3h0m-33 4h0m32 9h0m19 1h0m-53 24h0m34 21h0m-24 6h0m9 1h0m20 5h0m-8 12h0m-8 35h0m31 0h0m-17 2h0m-11 15h0m-26 9h0m44 6h0m-45 2h0m44 9h0m-38 23h0m46 12h0m-25 22h0m-24 43h0m37 8h0m-36 31h0m31 42h0m-1 1h0m-31 0h0m39 35h0m-27 12h0m-4 44h0m30 35h0m-27 89h0m64-1951h0m28 417h0m-40 68h0m-2 52h0m33 16h0m-10 188h0m21 26h0m-42 34h0m50 36h0m-11 87h0m10 20h0m0 41h0m-34 10h0m-6 19h0m17 34h0m-23 35h0m42 4h0m-38 3h0m-9 25h0m36 22h0m-3 3h0m-31 13h0m6 35h0m13 1h0m1 8h0m24 7h0m-25 1h0m-2 16h0m26 36h0m-29 19h0m16 10h0m5 12h0m-2 0h0m-10 5h0m16 8h0m7 5h0m-49 9h0m37 4h0m-38 8h0m49 36h0m-16 3h0m-17 4h0m17 15h0m15 12h0m6 1h0m-16 6h0m1 3h0m12 1h0m2 16h0m2 0h0m-1 4h0m-30 1h0m-5 25h0m19 1h0m-36 7h0m44 7h0m-33 1h0m-15 11h0m4 1h0m9 8h0m29 11h0m7 1h0m-16 0h0m18 11h0m0 4h0m3 5h0m-50 7h0m36 0h0m-23 18h0m8 5h0m-23 20h0m44 1h0m-17 9h0m-29 15h0m54 2h0m-17 17h0m8 5h0m9 4h0m-18 3h0m7 24h0m-20 64h0m25 23h0m-6 4h0m-30 134h0m16 80h0m62-1569h0m21 106h0m-1 122h0m-39 68h0m18 47h0m22 6h0m-7 30h0m-45 59h0m55 21h0m-56 13h0m50 7h0m-47 12h0m46 32h0m1 12h0m-9 9h0m-7 4h0m-10 5h0m13 22h0m-14 5h0m28 20h0m-2 10h0m-38 11h0m44 6h0m-30 5h0m-22 32h0m1 16h0m31 1h0m-35 46h0m51 0h0m0 5h0m-43 6h0m10 11h0m30 15h0m1 17h0m-11 1h0m0 0h0m-15 8h0m30 1h0m-12 5h0m-24 5h0m0 1h0m36 3h0m-19 37h0m-33 12h0m56 2h0m-4 5h0m6 2h0m-38 15h0m19 7h0m-6 5h0m21 2h0m-16 5h0m-1 1h0m-6 1h0m-8 2h0m23 10h0m-6 0h0m-13 3h0m20 3h0m-27 3h0m-12 8h0m-9 1h0m36 1h0m-33 2h0m15 4h0m-6 16h0m3 9h0m35 1h0m-10 8h0m10 20h0m-19 2h0m-31 8h0m34 1h0m-23 2h0m20 7h0m-4 1h0m21 1h0m-32 1h0m-10 1h0m36 3h0m-1 1h0m-7 2h0m16 5h0m-46 0h0m28 3h0m2 2h0m-26 4h0m-7 21h0m8 31h0m23 8h0m-15 1h0m11 3h0m-27 6h0m19 4h0m16 10h0m-35 7h0m19 7h0m34 16h0m-40 3h0m-10 2h0m0 3h0m33 1h0m-12 0h0m34 3h0m-5 27h0m-43 2h0m10 11h0m38 8h0m-1 13h0m-37 2h0m-11 0h0m4 1h0m32 4h0m-2 13h0m-26 2h0m31 3h0m-5 6h0m9 26h0m-11 1h0m-32 8h0m-7 14h0m50 6h0m-49 10h0m50 10h0m-26 3h0m25 0h0m-16 12h0m22 11h0m-23 44h0m-28 83h0m69-1515h0m13 16h0m-9 149h0m14 32h0m24 23h0m-9 33h0m1 10h0m-18 24h0m-26 74h0m39 2h0m-38 28h0m24 4h0m-13 65h0m31 7h0m-50 7h0m22 12h0m8 16h0m-4 6h0m5 14h0m-16 2h0m-8 14h0m38 11h0m6 26h0m-28 0h0m-6 12h0m1 7h0m25 0h0m-21 10h0m23 2h0m-12 22h0m11 0h0m15 15h0m-43 2h0m24 11h0m-20 39h0m-13 2h0m24 4h0m-13 24h0m30 11h0m-24 9h0m-15 18h0m-4 3h0m22 16h0m-10 2h0m-12 1h0m19 6h0m1 4h0m17 6h0m-19 10h0m4 24h0m26 0h0m-30 3h0m9 0h0m21 22h0m-11 3h0m-26 6h0m-3 14h0m-3 8h0m37 1h0m8 4h0m-24 2h0m-4 0h0m7 8h0m-31 7h0m47 4h0m3 12h0m0 3h0m-48 3h0m43 2h0m11 9h0m-30 11h0m-17 3h0m35 1h0m-8 3h0m-19 3h0m-5 2h0m40 4h0m-39 2h0m6 0h0m-15 7h0m46 3h0m-40 6h0m31 3h0m8 6h0m-3 19h0m-3 2h0m-13 2h0m25 5h0m-54 0h0m35 4h0m-16 2h0m19 3h0m-27 5h0m24 1h0m-16 11h0m23 2h0m-7 0h0m-3 3h0m-18 2h0m-14 2h0m26 1h0m22 6h0m-9 6h0m-4 9h0m-6 0h0m11 5h0m-5 3h0m-20 10h0m10 7h0m11 14h0m4 1h0m-4 2h0m-34 2h0m30 11h0m-32 3h0m-2 0h0m11 1h0m-3 0h0m12 10h0m30 10h0m-40 2h0m39 1h0m-6 2h0m-27 0h0m30 2h0m-33 0h0m18 8h0m-30 1h0m47 6h0m-16 6h0m9 2h0m1 1h0m-18 4h0m-9 7h0m42 7h0m-33 1h0m-15 16h0m2 4h0m13 9h0m3 6h0m11 4h0m-6 5h0m-14 3h0m2 14h0m-5 2h0m9 2h0m-16 10h0m21 8h0m14 7h0m-7 8h0m20 72h0m-42 5h0m39 12h0m1 19h0m-5 29h0m-44 58h0m105-1783h0m-22 382h0m2 13h0m-23 14h0m43 33h0m-10 19h0m-37 51h0m15 16h0m32 20h0m-12 50h0m-15 3h0m3 10h0m-26 4h0m13 11h0m19 5h0m-3 42h0m-12 22h0m31 3h0m-33 32h0m31 5h0m-18 2h0m-3 4h0m31 24h0m-6 38h0m-41 8h0m13 24h0m21 6h0m-24 18h0m17 10h0m-29 17h0m31 3h0m-10 1h0m0 2h0m-23 1h0m42 2h0m-5 6h0m12 12h0m2 1h0m-4 3h0m-41 0h0m23 6h0m15 20h0m-21 11h0m25 4h0m-49 1h0m20 10h0m30 2h0m-4 11h0m-25 10h0m15 4h0m-3 8h0m-14 10h0m32 3h0m-20 7h0m-3 1h0m-20 5h0m21 5h0m-1 7h0m-25 0h0m38 5h0m-20 1h0m22 4h0m-38 2h0m20 5h0m-25 0h0m20 25h0m3 1h0m29 2h0m-48 16h0m-6 3h0m42 6h0m-28 1h0m31 5h0m-39 1h0m-7 2h0m33 3h0m-12 6h0m10 0h0m-11 9h0m6 6h0m-21 2h0m-6 0h0m35 2h0m-9 17h0m13 2h0m14 9h0m-26 9h0m-19 6h0m-4 5h0m9 2h0m40 7h0m-54 0h0m1 1h0m14 7h0m-6 1h0m41 2h0m-17 8h0m-18 1h0m30 3h0m-13 8h0m22 0h0m-35 1h0m-4 6h0m28 2h0m14 8h0m-1 6h0m-46 0h0m23 2h0m25 5h0m-8 4h0m-8 3h0m-2 2h0m7 4h0m-3 4h0m-5 3h0m3 0h0m3 2h0m11 4h0m-34 1h0m30 5h0m-39 5h0m16 15h0m-16 1h0m39 2h0m-11 3h0m-27 5h0m6 3h0m23 1h0m-35 8h0m35 1h0m8 9h0m-7 12h0m5 2h0m4 1h0m-37 7h0m23 1h0m4 2h0m-35 1h0m34 0h0m-27 3h0m-1 7h0m19 1h0m-28 5h0m-1 9h0m43 3h0m11 3h0m-11 12h0m-2 0h0m-31 3h0m6 4h0m1 1h0m18 0h0m5 12h0m-3 10h0m-32 0h0m22 6h0m27 6h0m-57 1h0m1 2h0m14 1h0m22 6h0m-25 1h0m40 1h0m-42 4h0m3 25h0m-2 11h0m20 2h0m-22 5h0m15 0h0m-6 3h0m27 1h0m-14 8h0m-18 3h0m21 6h0m18 4h0m-20 5h0m8 9h0m-40 1h0m41 8h0m-15 22h0m31 5h0m-16 36h0m-6 60h0m14 75h0m-3 16h0m47-1549h0m2 36h0m-31 21h0m47 4h0m-1 6h0m-40 10h0m21 39h0m6 49h0m10 112h0m-27 23h0m35 26h0m-13 47h0m-5 20h0m-27 4h0m17 4h0m-9 16h0m21 9h0m-15 2h0m28 13h0m-53 24h0m27 6h0m23 3h0m-39 5h0m-3 1h0m13 10h0m22 1h0m-30 6h0m18 19h0m1 15h0m-33 9h0m45 1h0m-20 11h0m-25 3h0m35 10h0m-24 8h0m46 20h0m1 10h0m-47 2h0m-6 4h0m4 19h0m6 19h0m10 1h0m9 13h0m-20 13h0m-6 8h0m50 3h0m-3 7h0m-39 10h0m36 3h0m0 0h0m-14 3h0m-32 4h0m18 3h0m31 9h0m-23 4h0m21 1h0m-33 7h0m13 1h0m23 6h0m-54 2h0m1 3h0m35 4h0m11 2h0m0 11h0m9 1h0m-58 1h0m51 5h0m-4 7h0m-38 0h0m0 1h0m4 0h0m38 3h0m-8 0h0m-17 4h0m27 3h0m-32 0h0m1 1h0m13 11h0m-3 5h0m3 1h0m-4 4h0m-3 9h0m0 0h0m-22 0h0m2 3h0m8 5h0m33 0h0m-30 3h0m-5 6h0m-2 4h0m10 1h0m-21 1h0m35 4h0m0 6h0m23 5h0m-34 1h0m24 0h0m-33 1h0m6 2h0m-12 2h0m-5 10h0m14 3h0m18 9h0m-26 0h0m20 2h0m-6 2h0m-12 0h0m24 4h0m-3 9h0m4 5h0m-19 3h0m3 1h0m27 2h0m-30 1h0m20 3h0m-24 0h0m-6 5h0m32 0h0m-21 1h0m32 4h0m-8 2h0m-34 1h0m28 9h0m-8 3h0m-28 7h0m13 1h0m35 9h0m-18 0h0m-13 1h0m-1 2h0m7 0h0m-17 3h0m48 4h0m-23 5h0m-14 1h0m2 7h0m0 4h0m31 0h0m-5 1h0m8 1h0m-30 0h0m18 1h0m-26 4h0m1 6h0m37 3h0m-40 1h0m-13 2h0m40 0h0m-3 7h0m-10 1h0m19 1h0m-20 5h0m6 4h0m13 3h0m11 4h0m-45 0h0m-1 3h0m34 3h0m5 5h0m-3 0h0m-34 2h0m13 8h0m22 1h0m-39 2h0m48 1h0m-7 0h0m-31 3h0m34 3h0m-54 3h0m9 5h0m47 2h0m-37 0h0m3 1h0m14 4h0m2 4h0m20 1h0m-32 2h0m-16 1h0m34 1h0m-22 0h0m-2 3h0m-11 1h0m-6 7h0m17 2h0m17 1h0m-7 1h0m-13 2h0m29 3h0m-1 2h0m-15 2h0m22 0h0m-20 2h0m-25 1h0m-2 1h0m-3 3h0m29 6h0m-24 2h0m18 5h0m2 4h0m-15 1h0m-10 2h0m47 1h0m8 7h0m-4 0h0m-17 2h0m2 1h0m9 2h0m-1 1h0m-36 0h0m6 4h0m28 9h0m-8 2h0m-34 6h0m36 6h0m-36 4h0m20 3h0m16 1h0m8 5h0m-5 1h0m2 3h0m-32 3h0m35 2h0m-42 6h0m54 3h0m-5 5h0m-23 3h0m11 0h0m-8 6h0m20 2h0m-34 4h0m-11 3h0m-7 2h0m-1 0h0m16 16h0m17 2h0m23 1h0m-36 7h0m5 1h0m24 4h0m-9 18h0m-4 1h0m4 0h0m-26 2h0m42 9h0m-34 24h0m8 10h0m19 3h0m-35 1h0m-3 2h0m47 0h0m-57 2h0m32 6h0m-28 15h0m-5 29h0m13 31h0m32 17h0m-43 52h0m4 36h0m95-1638h0m9 105h0m2 3h0m-21 46h0m-17 3h0m30 41h0m-30 30h0m24 15h0m-27 8h0m39 0h0m0 28h0m-27 0h0m-7 5h0m-12 12h0m41 1h0m-1 41h0m3 1h0m12 7h0m-24 7h0m-1 27h0m-1 2h0m10 24h0m1 16h0m-18 11h0m8 1h0m-7 2h0m17 4h0m14 4h0m-16 12h0m-5 7h0m22 31h0m-35 4h0m17 5h0m-27 19h0m30 4h0m-19 2h0m0 5h0m13 7h0m-19 13h0m37 8h0m-38 5h0m-11 3h0m28 13h0m7 10h0m13 0h0m-15 1h0m-37 1h0m47 3h0m8 1h0m-48 14h0m-4 20h0m-6 4h0m38 5h0m5 0h0m-25 9h0m-12 2h0m31 5h0m-7 2h0m26 6h0m-48 15h0m38 4h0m-10 2h0m-10 1h0m-10 0h0m-3 3h0m-3 5h0m0 10h0m24 0h0m-15 3h0m38 1h0m-12 2h0m-15 2h0m23 9h0m-3 2h0m-45 4h0m47 12h0m-32 3h0m26 2h0m12 0h0m0 1h0m0 3h0m-7 4h0m-34 2h0m-2 5h0m-8 1h0m0 1h0m34 6h0m-1 0h0m12 3h0m-26 3h0m-4 15h0m11 2h0m7 0h0m9 3h0m8 1h0m-42 2h0m24 0h0m-8 13h0m-30 1h0m15 0h0m6 16h0m14 1h0m5 0h0m18 1h0m-27 2h0m5 1h0m21 4h0m-5 6h0m-36 5h0m37 1h0m-40 3h0m-12 1h0m24 7h0m-20 5h0m14 1h0m10 5h0m27 2h0m-55 8h0m25 1h0m22 5h0m-12 2h0m-37 0h0m30 5h0m-13 2h0m36 3h0m-7 4h0m8 7h0m-38 0h0m18 6h0m9 6h0m-29 4h0m20 6h0m-19 1h0m-4 2h0m-7 0h0m40 2h0m-6 1h0m-30 6h0m20 1h0m24 2h0m-19 5h0m-8 2h0m-21 0h0m27 9h0m10 0h0m3 2h0m-22 0h0m-8 3h0m37 1h0m-42 1h0m-2 0h0m7 3h0m23 0h0m-6 2h0m-22 2h0m46 0h0m-37 4h0m15 3h0m-7 7h0m-12 1h0m40 0h0m-46 1h0m26 3h0m15 1h0m-4 7h0m-10 2h0m-32 0h0m32 2h0m-26 2h0m38 0h0m-7 1h0m10 2h0m-11 3h0m5 0h0m-1 2h0m2 1h0m-2 1h0m5 0h0m9 2h0m-12 2h0m1 1h0m-23 7h0m22 4h0m-32 1h0m7 2h0m24 2h0m-8 0h0m-15 1h0m20 0h0m11 1h0m0 1h0m-49 2h0m-1 3h0m35 6h0m-21 1h0m-12 1h0m33 2h0m-31 0h0m52 0h0m-10 2h0m-38 2h0m-4 1h0m44 0h0m-7 1h0m-43 0h0m13 2h0m-8 2h0m15 2h0m-5 0h0m41 1h0m-17 2h0m8 1h0m-10 0h0m-12 1h0m-15 1h0m25 1h0m4 6h0m-22 0h0m25 2h0m4 0h0m-19 0h0m1 1h0m-4 3h0m28 0h0m-3 1h0m-3 1h0m-43 0h0m40 1h0m-7 2h0m12 1h0m-30 2h0m-4 3h0m6 1h0m-17 3h0m48 1h0m-37 5h0m25 1h0m6 1h0m-18 0h0m25 0h0m-38 0h0m-14 4h0m17 4h0m33 4h0m-36 0h0m35 6h0m-1 1h0m-29 1h0m18 2h0m-35 2h0m20 2h0m9 1h0m26 3h0m-27 0h0m7 4h0m-23 0h0m-3 1h0m7 1h0m-8 2h0m28 1h0m-27 0h0m8 2h0m19 2h0m-11 2h0m-1 1h0m22 1h0m3 8h0m3 1h0m2 5h0m-32 3h0m-11 4h0m10 2h0m12 3h0m-3 1h0m-7 0h0m-11 5h0m-9 1h0m21 4h0m-21 1h0m16 6h0m-14 4h0m27 4h0m10 4h0m1 4h0m-39 15h0m36 1h0m14 1h0m-34 2h0m-1 9h0m5 1h0m10 4h0m-24 9h0m-1 5h0m-11 3h0m3 4h0m28 5h0m14 3h0m6 7h0m-36 0h0m24 5h0m10 10h0m-23 2h0m4 5h0m0 7h0m-26 0h0m27 1h0m24 5h0m-43 4h0m32 3h0m-32 6h0m15 0h0m29 6h0m-44 6h0m42 5h0m-17 3h0m-19 5h0m-4 0h0m-10 7h0m37 1h0m-27 8h0m37 3h0m-39 5h0m5 0h0m19 2h0m4 8h0m-7 24h0m-1 23h0m-26 6h0m0 19h0m16 18h0m-18 3h0m24 26h0m21 31h0m-38 3h0m-3 16h0m-5 35h0m47 5h0m-39 1h0m-7 58h0m23 61h0m-6 1h0m95-1707h0m-1 15h0m-26 9h0m13 52h0m4 0h0m11 10h0m-48 22h0m34 16h0m-23 19h0m24 9h0m13 4h0m-43 27h0m19 13h0m15 0h0m-24 3h0m-8 9h0m35 2h0m-27 4h0m-12 3h0m11 19h0m17 0h0m17 13h0m-52 8h0m49 12h0m-2 5h0m7 12h0m-4 3h0m-15 1h0m-31 8h0m-1 13h0m20 4h0m17 13h0m11 7h0m-37 1h0m27 5h0m5 19h0m-24 4h0m22 19h0m-18 7h0m9 1h0m11 5h0m-49 3h0m17 4h0m38 3h0m-8 1h0m-43 9h0m30 12h0m-33 10h0m24 10h0m-2 1h0m30 11h0m-34 0h0m-21 0h0m15 17h0m-2 6h0m41 4h0m-37 2h0m22 9h0m-37 0h0m27 15h0m1 2h0m-14 2h0m22 1h0m-7 4h0m-12 23h0m27 1h0m-11 15h0m-31 11h0m6 2h0m24 5h0m0 6h0m24 2h0m-46 8h0m-11 2h0m48 3h0m-35 0h0m23 6h0m14 1h0m-30 0h0m-16 1h0m38 2h0m-36 1h0m52 6h0m-50 2h0m0 3h0m41 12h0m-14 6h0m-16 1h0m-13 0h0m49 1h0m-39 7h0m8 2h0m24 13h0m-19 0h0m-6 2h0m27 2h0m-8 7h0m12 2h0m-23 7h0m2 1h0m12 13h0m-8 10h0m21 2h0m-31 11h0m-14 2h0m-4 11h0m33 15h0m-19 3h0m-22 3h0m6 4h0m0 8h0m29 0h0m-4 1h0m-29 4h0m48 7h0m2 2h0m-23 0h0m-11 1h0m25 0h0m-30 1h0m27 0h0m-8 1h0m-11 3h0m10 5h0m5 9h0m20 1h0m-24 0h0m-16 14h0m8 1h0m7 2h0m19 3h0m-29 3h0m20 0h0m-23 1h0m-20 0h0m3 2h0m24 4h0m27 3h0m-12 2h0m-39 0h0m39 6h0m11 3h0m3 1h0m-11 7h0m-22 1h0m-4 2h0m-10 1h0m28 2h0m20 1h0m-7 4h0m-10 8h0m-1 1h0m-24 4h0m32 1h0m-39 5h0m29 0h0m-24 4h0m42 3h0m-49 0h0m30 1h0m1 0h0m19 3h0m-43 5h0m2 1h0m15 5h0m-11 1h0m13 1h0m12 1h0m0 3h0m-2 7h0m-9 0h0m9 5h0m-19 9h0m1 3h0m30 0h0m-15 1h0m6 2h0m10 1h0m-2 3h0m-11 7h0m-1 3h0m16 2h0m0 0h0m-26 0h0m-6 2h0m26 2h0m-11 2h0m18 2h0m-20 6h0m-16 1h0m0 4h0m24 2h0m-10 1h0m-11 2h0m-5 1h0m-2 0h0m2 0h0m21 3h0m-5 0h0m-35 1h0m56 6h0m-9 0h0m-5 1h0m-43 1h0m42 1h0m-33 0h0m34 2h0m7 0h0m-4 5h0m-29 1h0m23 3h0m14 0h0m-10 0h0m-41 2h0m46 5h0m-24 0h0m-14 2h0m41 2h0m-19 0h0m24 4h0m-6 2h0m-21 0h0m4 6h0m-4 2h0m9 6h0m18 3h0m-22 1h0m-30 7h0m53 4h0m-48 0h0m32 1h0m-13 2h0m14 0h0m-10 3h0m-27 0h0m47 2h0m-37 0h0m2 1h0m37 0h0m-4 1h0m-5 0h0m-40 2h0m47 1h0m-39 0h0m9 2h0m6 0h0m29 2h0m-8 3h0m0 1h0m-21 2h0m7 0h0m14 1h0m-23 0h0m31 1h0m-22 2h0m-20 0h0m11 2h0m-13 1h0m0 5h0m-13 1h0m2 7h0m11 2h0m-1 1h0m-11 1h0m5 2h0m16 7h0m13 0h0m-11 2h0m-10 1h0m19 4h0m6 0h0m-19 0h0m4 0h0m-21 3h0m45 6h0m-12 4h0m-7 1h0m5 0h0m-23 2h0m24 2h0m3 2h0m-35 0h0m19 0h0m25 1h0m-24 0h0m16 0h0m-14 2h0m-26 4h0m25 1h0m14 4h0m1 2h0m14 3h0m1 1h0m-44 1h0m25 2h0m-28 3h0m11 2h0m19 1h0m17 0h0m-49 3h0m45 0h0m-10 2h0m-1 0h0m14 1h0m-7 3h0m-43 1h0m3 0h0m19 1h0m33 6h0m-57 0h0m9 2h0m19 0h0m-1 1h0m18 4h0m10 0h0m-37 1h0m19 1h0m-18 3h0m6 1h0m-12 2h0m26 2h0m-18 2h0m36 2h0m-17 3h0m-27 9h0m29 3h0m1 0h0m14 1h0m-8 1h0m-42 1h0m31 5h0m4 1h0m-35 1h0m50 2h0m-31 1h0m-6 2h0m-15 0h0m45 0h0m-9 2h0m10 1h0m-2 1h0m-32 1h0m27 0h0m7 0h0m6 1h0m-28 2h0m18 2h0m-37 2h0m2 4h0m14 8h0m10 3h0m3 0h0m4 2h0m-38 1h0m5 2h0m26 6h0m9 6h0m-22 5h0m24 3h0m-32 3h0m-2 2h0m31 4h0m-36 4h0m0 3h0m32 0h0m-5 2h0m18 8h0m-51 2h0m2 6h0m10 1h0m16 5h0m-1 6h0m-24 14h0m-3 4h0m45 0h0m-33 8h0m22 8h0m-29 3h0m20 3h0m29 6h0m-24 15h0m-11 11h0m-22 7h0m12 5h0m33 6h0m-4 17h0m14 3h0m-30 6h0m20 6h0m-6 14h0m8 21h0m11 19h0m-53 4h0m48 3h0m-12 28h0m12 29h0m3 15h0m-11 4h0m-28 52h0m67-1735h0m-17 90h0m35 93h0m-8 2h0m16 7h0m-49 16h0m40 4h0m2 8h0m-11 3h0m-14 2h0m38 10h0m0 24h0m-19 10h0m-5 7h0m11 3h0m1 2h0m-16 3h0m-29 1h0m36 25h0m21 1h0m-1 0h0m-25 7h0m-14 10h0m24 3h0m-5 2h0m17 2h0m-48 2h0m30 1h0m5 6h0m9 8h0m-24 6h0m14 26h0m11 3h0m-16 3h0m-7 3h0m25 20h0m-41 11h0m11 0h0m37 7h0m-11 7h0m8 12h0m-8 2h0m-33 0h0m6 4h0m21 7h0m16 8h0m-46 0h0m7 6h0m20 4h0m-24 9h0m33 3h0m-10 12h0m19 2h0m-36 2h0m25 7h0m-24 0h0m35 2h0m-29 0h0m10 4h0m-11 0h0m-7 15h0m27 0h0m-11 1h0m-31 2h0m14 2h0m26 3h0m-13 1h0m-8 1h0m6 4h0m13 2h0m-19 0h0m27 1h0m-36 11h0m23 2h0m-28 5h0m41 5h0m-36 4h0m14 2h0m-11 0h0m-16 2h0m20 1h0m-6 2h0m6 4h0m29 4h0m-26 1h0m-21 7h0m14 4h0m3 5h0m15 3h0m13 1h0m-16 0h0m-10 1h0m-12 5h0m33 0h0m-6 2h0m-13 0h0m32 11h0m-16 4h0m-31 1h0m29 3h0m-31 0h0m17 1h0m14 6h0m6 16h0m-32 5h0m-12 3h0m47 7h0m-36 1h0m39 6h0m-2 0h0m-2 9h0m-2 2h0m14 14h0m-12 2h0m0 1h0m11 1h0m-6 1h0m-38 1h0m37 14h0m-4 1h0m8 3h0m-3 7h0m-49 5h0m37 1h0m-4 2h0m-33 1h0m8 3h0m-5 0h0m16 1h0m15 1h0m-7 3h0m20 3h0m-24 1h0m24 0h0m-8 4h0m-21 1h0m17 0h0m7 1h0m5 0h0m-28 9h0m37 1h0m-11 1h0m11 5h0m-25 3h0m20 1h0m-7 7h0m-34 4h0m41 1h0m-6 4h0m-24 2h0m34 1h0m-10 3h0m-42 2h0m41 2h0m-46 2h0m6 5h0m16 1h0m22 6h0m-32 6h0m45 0h0m-36 3h0m-5 3h0m39 4h0m-23 1h0m-11 2h0m32 6h0m-35 6h0m-3 1h0m31 6h0m-3 4h0m13 0h0m-55 1h0m41 0h0m-20 0h0m-9 2h0m40 0h0m-12 3h0m-11 6h0m10 0h0m7 1h0m-27 1h0m8 2h0m-9 5h0m-8 4h0m1 2h0m28 5h0m-33 5h0m37 1h0m-14 3h0m18 1h0m6 1h0m-20 2h0m-8 2h0m-23 1h0m-3 6h0m29 2h0m-20 1h0m-4 3h0m30 4h0m3 1h0m-9 3h0m-10 12h0m35 7h0m-13 1h0m1 1h0m0 0h0m-2 1h0m-35 3h0m16 0h0m5 4h0m-25 1h0m0 0h0m6 1h0m-6 0h0m19 1h0m18 2h0m-19 0h0m13 1h0m-13 2h0m15 0h0m12 1h0m-16 1h0m19 0h0m-13 1h0m4 3h0m-38 1h0m8 2h0m-11 4h0m42 1h0m-37 2h0m25 0h0m29 1h0m-6 0h0m-51 2h0m39 5h0m-26 1h0m-3 0h0m11 1h0m7 0h0m-16 3h0m8 1h0m31 6h0m-28 0h0m19 4h0m-27 2h0m35 0h0m0 1h0m-24 1h0m-16 0h0m6 4h0m39 2h0m-53 0h0m54 2h0m-56 1h0m44 0h0m-3 0h0m14 1h0m-8 2h0m-42 0h0m35 1h0m-23 0h0m23 1h0m-34 3h0m35 1h0m-33 1h0m43 2h0m-12 3h0m6 0h0m-10 2h0m22 0h0m-13 1h0m13 5h0m-59 2h0m10 1h0m24 1h0m17 2h0m-1 1h0m9 0h0m-29 1h0m-17 1h0m30 4h0m7 3h0m-26 0h0m-3 1h0m-12 0h0m38 1h0m-18 1h0m5 1h0m2 5h0m-32 5h0m27 2h0m-3 0h0m13 1h0m13 2h0m-47 0h0m42 2h0m0 0h0m-33 1h0m-7 3h0m48 2h0m-14 0h0m2 1h0m-25 1h0m35 2h0m-8 2h0m-37 0h0m17 4h0m12 1h0m-7 0h0m-3 1h0m8 0h0m17 1h0m-15 2h0m6 0h0m-15 1h0m18 0h0m-38 2h0m20 5h0m19 2h0m-39 1h0m3 2h0m-7 4h0m13 0h0m12 1h0m-3 1h0m-14 0h0m25 1h0m-30 4h0m-4 1h0m21 0h0m17 1h0m2 1h0m-6 0h0m-6 0h0m7 2h0m-5 1h0m-34 1h0m40 1h0m-37 0h0m37 1h0m-9 1h0m-23 4h0m24 0h0m0 0h0m12 1h0m-32 0h0m4 2h0m-16 2h0m19 1h0m5 5h0m24 0h0m-3 1h0m-30 2h0m-9 5h0m1 0h0m48 4h0m-11 0h0m2 0h0m8 1h0m-1 0h0m-16 1h0m-1 3h0m7 0h0m5 1h0m-39 5h0m11 1h0m18 0h0m-19 3h0m-1 2h0m34 1h0m-38 0h0m9 3h0m19 2h0m-1 1h0m-27 0h0m-1 3h0m11 1h0m17 0h0m7 0h0m-30 22h0m30 2h0m-10 3h0m-34 1h0m22 3h0m3 3h0m-9 0h0m24 0h0m0 1h0m-12 1h0m-21 0h0m37 0h0m4 1h0m-18 2h0m14 1h0m4 1h0m-39 0h0m30 0h0m-20 4h0m-23 1h0m55 0h0m-33 0h0m-5 3h0m34 0h0m-48 1h0m53 1h0m-8 0h0m-1 1h0m-48 4h0m50 3h0m-5 1h0m8 1h0m-33 4h0m0 2h0m30 0h0m-33 0h0m-1 1h0m42 0h0m-45 0h0m-8 1h0m52 1h0m-17 2h0m-7 2h0m19 1h0m-10 3h0m-38 9h0m6 0h0m3 1h0m20 3h0m-27 0h0m49 1h0m-36 3h0m-10 1h0m16 1h0m-1 1h0m0 0h0m18 1h0m-5 1h0m-12 1h0m22 0h0m-42 1h0m7 0h0m47 0h0m-1 3h0m-22 0h0m-22 2h0m-12 0h0m41 0h0m8 1h0m-38 1h0m44 0h0m-12 1h0m-32 1h0m25 2h0m-29 0h0m23 1h0m-27 0h0m37 0h0m5 2h0m-39 1h0m42 1h0m-31 0h0m32 0h0m-24 1h0m-9 3h0m24 4h0m-13 0h0m26 3h0m-20 4h0m9 1h0m10 4h0m-42 1h0m44 3h0m-17 0h0m-30 1h0m30 1h0m-9 2h0m14 5h0m-19 2h0m17 1h0m15 1h0m-9 3h0m-8 2h0m2 3h0m1 3h0m2 1h0m0 3h0m3 5h0m-13 2h0m7 3h0m-1 2h0m11 12h0m-46 3h0m32 3h0m-7 7h0m-3 7h0m23 4h0m-34 0h0m41 11h0m-4 13h0m-49 0h0m48 10h0m-24 3h0m-28 1h0m6 1h0m14 0h0m30 10h0m-7 5h0m1 6h0m-30 1h0m-2 8h0m14 5h0m9 1h0m-21 6h0m-7 3h0m42 6h0m-10 1h0m2 4h0m-33 42h0m12 8h0m-14 5h0m46 12h0m-3 2h0m-21 30h0m-3 8h0m-17 36h0m33 11h0m-12 175h0m74-1862h0m-16 37h0m24 11h0m-45 21h0m50 7h0m-18 1h0m-28 9h0m23 24h0m-25 18h0m2 22h0m20 25h0m-25 4h0m15 20h0m-5 4h0m10 23h0m27 2h0m1 3h0m-5 0h0m-12 0h0m1 4h0m-22 0h0m36 25h0m-32 10h0m34 3h0m-45 2h0m37 16h0m-44 1h0m33 4h0m-3 14h0m-7 4h0m-8 2h0m20 4h0m13 5h0m5 1h0m-11 7h0m-27 3h0m19 2h0m13 7h0m9 1h0m-2 7h0m-20 1h0m4 4h0m-23 2h0m-13 1h0m40 12h0m-12 7h0m9 6h0m15 4h0m-39 3h0m19 1h0m-6 13h0m-25 1h0m40 3h0m-44 3h0m30 2h0m26 3h0m-9 0h0m-14 4h0m9 4h0m12 2h0m-6 0h0m-30 6h0m16 1h0m12 5h0m-4 2h0m-6 1h0m-33 3h0m35 0h0m-27 0h0m42 1h0m-40 0h0m45 5h0m-55 2h0m35 3h0m-8 7h0m-15 2h0m-11 5h0m20 0h0m-12 0h0m-11 4h0m27 1h0m-10 1h0m26 8h0m13 0h0m-55 3h0m3 3h0m25 1h0m0 3h0m0 7h0m9 6h0m-13 2h0m15 3h0m-14 1h0m0 2h0m15 5h0m-7 4h0m16 0h0m-11 8h0m-13 1h0m-11 6h0m17 1h0m20 6h0m-39 6h0m42 3h0m-15 0h0m-41 1h0m-1 3h0m54 1h0m-19 9h0m-19 5h0m24 3h0m-8 2h0m-7 1h0m30 1h0m-23 5h0m-16 1h0m8 2h0m4 2h0m-3 0h0m25 0h0m-4 2h0m-11 0h0m-20 0h0m34 0h0m-33 5h0m34 1h0m-10 5h0m4 1h0m1 2h0m2 10h0m-43 1h0m40 2h0m10 3h0m-5 1h0m9 6h0m-29 6h0m-18 3h0m31 1h0m2 2h0m-20 3h0m-1 0h0m26 1h0m-2 0h0m-16 3h0m-23 4h0m6 11h0m-10 2h0m21 0h0m21 4h0m-35 2h0m10 5h0m3 2h0m-2 0h0m2 0h0m-11 2h0m5 0h0m25 1h0m-15 3h0m17 11h0m-33 8h0m28 4h0m-40 1h0m3 3h0m22 1h0m-15 1h0m40 13h0m-41 0h0m34 1h0m-35 4h0m13 1h0m-9 2h0m9 1h0m1 2h0m23 4h0m-37 3h0m15 0h0m-9 14h0m-4 5h0m35 0h0m7 0h0m2 1h0m-51 5h0m15 1h0m14 2h0m17 1h0m3 2h0m-5 0h0m-5 4h0m15 17h0m-24 6h0m-5 0h0m-5 0h0m-13 1h0m1 2h0m44 4h0m-3 2h0m-24 4h0m31 0h0m-53 3h0m25 0h0m-8 1h0m-16 4h0m11 3h0m-12 0h0m29 2h0m-24 1h0m10 1h0m10 0h0m-6 1h0m12 0h0m-3 0h0m-25 5h0m13 2h0m-15 7h0m51 2h0m-21 1h0m-4 2h0m0 1h0m-6 1h0m-3 2h0m29 3h0m-27 2h0m-22 1h0m25 1h0m27 1h0m-46 2h0m15 0h0m-14 3h0m33 2h0m-33 5h0m-7 0h0m8 3h0m25 3h0m-30 7h0m35 1h0m-32 0h0m20 0h0m-11 1h0m-3 1h0m4 0h0m31 0h0m-11 1h0m-24 4h0m20 2h0m0 1h0m7 5h0m-34 1h0m20 1h0m-15 2h0m38 0h0m-11 6h0m15 0h0m-56 4h0m25 8h0m-3 1h0m18 1h0m-8 2h0m-23 1h0m21 1h0m-4 0h0m7 1h0m-21 1h0m6 2h0m7 1h0m31 4h0m-33 3h0m-15 0h0m48 2h0m-25 0h0m20 5h0m-2 2h0m-37 0h0m-10 4h0m51 1h0m0 1h0m-20 0h0m-15 1h0m24 0h0m-29 1h0m14 0h0m1 4h0m-17 0h0m15 2h0m8 0h0m-2 1h0m14 2h0m-28 1h0m27 1h0m-26 0h0m-6 4h0m35 1h0m-19 5h0m19 3h0m-33 1h0m20 1h0m12 1h0m-18 2h0m-21 9h0m34 1h0m-27 3h0m-6 0h0m2 1h0m41 1h0m-34 3h0m-6 0h0m8 3h0m24 0h0m3 4h0m-27 0h0m21 1h0m-33 2h0m51 2h0m-36 0h0m-2 1h0m7 4h0m-10 0h0m30 0h0m-13 0h0m8 2h0m7 1h0m-46 3h0m2 1h0m38 2h0m-23 1h0m6 0h0m16 1h0m-22 1h0m18 1h0m-1 0h0m-35 2h0m8 8h0m-6 1h0m-3 1h0m5 2h0m1 9h0m3 9h0m-6 1h0m14 2h0m-17 3h0m17 0h0m-9 3h0m14 0h0m-1 4h0m0 1h0m-14 7h0m-5 52h0m1 2h0m-1 2h0m4 1h0m-3 2h0m1 1h0m21 9h0m-3 1h0m-22 4h0m16 1h0m-16 3h0m29 2h0m-5 3h0m-11 3h0m-7 4h0m-6 5h0m4 2h0m1 4h0m2 12h0m-9 2h0m3 1h0m10 8h0m8 2h0m5 4h0m-19 1h0m18 0h0m-19 1h0m14 2h0m13 3h0m-9 2h0m-6 0h0m-2 3h0m7 3h0m-7 2h0m-8 0h0m26 1h0m-15 7h0m-12 0h0m13 2h0m23 1h0m-38 7h0m42 2h0m-38 1h0m2 0h0m19 1h0m8 0h0m-35 0h0m49 1h0m-46 1h0m18 5h0m10 1h0m12 1h0m8 9h0m-19 2h0m-33 0h0m39 0h0m-16 7h0m10 0h0m15 2h0m-28 2h0m-11 4h0m19 1h0m-12 1h0m2 0h0m-9 1h0m31 3h0m-31 1h0m27 3h0m-22 2h0m30 0h0m-4 2h0m-32 1h0m-10 1h0m13 3h0m28 2h0m-2 3h0m-34 0h0m30 1h0m5 5h0m13 0h0m-19 0h0m-20 1h0m4 8h0m-4 4h0m33 1h0m1 1h0m-32 0h0m-16 0h0m23 3h0m21 0h0m9 3h0m-28 0h0m24 0h0m0 0h0m1 1h0m-44 1h0m18 1h0m-4 0h0m-10 1h0m21 1h0m-11 2h0m17 0h0m5 3h0m6 1h0m-11 0h0m-10 1h0m-4 0h0m-7 0h0m17 2h0m0 0h0m25 2h0m-32 6h0m4 1h0m-29 4h0m8 1h0m0 1h0m30 2h0m0 0h0m10 3h0m-33 3h0m43 3h0m-44 3h0m0 3h0m25 4h0m-31 1h0m-3 0h0m45 4h0m-35 1h0m-15 1h0m14 2h0m-3 1h0m22 1h0m-6 4h0m-21 1h0m1 5h0m-8 7h0m18 5h0m21 0h0m-5 0h0m-23 4h0m17 1h0m24 3h0m-20 19h0m20 10h0m-13 3h0m-31 12h0m9 5h0m36 4h0m-11 2h0m9 3h0m-3 4h0m-40 0h0m37 1h0m2 4h0m1 3h0m7 2h0m-9 25h0m-43 0h0m48 32h0m-50 5h0m15 30h0m31 6h0m-22 18h0m9 24h0m-29 5h0m36 15h0m12 40h0m-33 14h0m88-1726h0m-38 83h0m47 22h0m-30 1h0m12 19h0m-24 30h0m15 2h0m11 0h0m4 0h0m5 15h0m-1 22h0m-8 7h0m-22 2h0m0 10h0m33 2h0m-5 5h0m-18 0h0m22 4h0m-7 3h0m-11 0h0m5 3h0m-8 2h0m10 2h0m-8 8h0m12 2h0m-6 8h0m-1 5h0m-29 2h0m-1 3h0m25 3h0m4 1h0m-16 5h0m33 12h0m-31 5h0m-3 1h0m36 8h0m-2 6h0m-4 9h0m3 1h0m-29 8h0m26 0h0m-43 1h0m42 0h0m-35 2h0m-11 0h0m35 1h0m4 3h0m-3 4h0m-3 1h0m21 2h0m-12 4h0m13 0h0m-35 1h0m2 4h0m25 0h0m6 1h0m2 0h0m-27 3h0m-14 3h0m43 0h0m-19 1h0m11 1h0m-34 1h0m26 4h0m-27 0h0m17 1h0m13 6h0m-2 2h0m-6 1h0m-29 0h0m47 5h0m-27 1h0m7 0h0m13 0h0m-11 10h0m-23 1h0m21 7h0m6 0h0m-41 3h0m10 1h0m4 2h0m21 3h0m-10 1h0m-3 1h0m36 1h0m-5 10h0m-16 4h0m15 2h0m-6 2h0m-14 3h0m9 1h0m-18 0h0m6 4h0m-5 1h0m-21 4h0m51 3h0m-14 0h0m16 2h0m0 1h0m1 2h0m-56 0h0m41 0h0m14 1h0m-46 5h0m43 1h0m-10 5h0m-39 1h0m47 0h0m-50 1h0m51 0h0m-6 0h0m-38 3h0m47 2h0m-32 2h0m-17 3h0m47 4h0m-43 0h0m28 3h0m-15 2h0m35 2h0m-34 1h0m20 1h0m-45 0h0m52 2h0m-2 1h0m-3 3h0m-19 0h0m-12 1h0m11 1h0m18 1h0m12 1h0m-48 1h0m-4 4h0m13 1h0m-2 2h0m33 2h0m-10 1h0m-23 1h0m14 1h0m9 0h0m-15 3h0m16 0h0m-16 0h0m3 1h0m21 1h0m-14 5h0m-16 1h0m-2 0h0m-14 2h0m14 0h0m-12 0h0m22 3h0m-2 4h0m3 3h0m4 2h0m1 1h0m4 7h0m-28 2h0m38 0h0m-7 1h0m-26 1h0m-13 1h0m47 1h0m-35 1h0m13 1h0m-12 1h0m9 1h0m27 1h0m8 4h0m-20 0h0m14 4h0m-38 0h0m45 1h0m-15 0h0m0 0h0m15 3h0m-4 1h0m-8 9h0m-26 2h0m13 0h0m18 0h0m-48 4h0m28 1h0m11 1h0m-7 3h0m-10 3h0m-18 0h0m13 2h0m3 1h0m19 0h0m-10 5h0m14 0h0m-28 3h0m-7 7h0m23 2h0m5 1h0m-14 3h0m-13 5h0m12 5h0m-5 0h0m35 2h0m-5 4h0m-3 1h0m-33 4h0m18 2h0m-11 2h0m-17 0h0m36 1h0m-21 2h0m39 8h0m-34 1h0m24 1h0m-17 7h0m14 1h0m-40 5h0m16 1h0m-6 1h0m29 0h0m-27 1h0m9 1h0m5 2h0m20 0h0m-15 0h0m-27 4h0m37 3h0m1 0h0m10 2h0m-28 0h0m0 4h0m-20 0h0m31 6h0m0 0h0m17 1h0m-35 2h0m26 4h0m7 2h0m-26 1h0m-5 0h0m22 2h0m-4 0h0m-14 2h0m11 0h0m10 1h0m-46 1h0m-1 3h0m44 1h0m8 0h0m-27 1h0m26 3h0m-2 3h0m-13 1h0m-31 3h0m51 0h0m-45 4h0m16 0h0m-4 2h0m-18 1h0m-4 1h0m26 0h0m3 0h0m16 3h0m-21 2h0m10 8h0m-22 9h0m32 2h0m-18 0h0m-9 1h0m8 3h0m9 2h0m-25 2h0m-5 2h0m40 1h0m-43 1h0m22 1h0m1 2h0m-23 4h0m32 4h0m21 1h0m-51 1h0m26 1h0m-31 1h0m48 2h0m-5 4h0m-19 3h0m19 0h0m-14 2h0m-13 1h0m-10 1h0m11 0h0m31 1h0m-14 0h0m7 0h0m-36 6h0m35 0h0m-34 0h0m-4 1h0m52 4h0m-50 2h0m15 0h0m-19 4h0m14 2h0m6 2h0m-15 0h0m29 6h0m-5 2h0m17 1h0m-34 0h0m16 2h0m-14 0h0m24 1h0m-27 0h0m41 1h0m-38 2h0m-14 1h0m17 1h0m36 1h0m-21 2h0m-17 3h0m31 0h0m-1 11h0m5 3h0m-26 0h0m3 6h0m12 4h0m-20 2h0m-18 1h0m25 8h0m16 1h0m-15 0h0m-6 3h0m-16 0h0m34 1h0m-10 3h0m-7 1h0m7 3h0m7 3h0m10 2h0m-9 2h0m-30 1h0m19 0h0m-18 1h0m38 5h0m-18 0h0m17 1h0m5 1h0m-8 2h0m-16 3h0m24 2h0m-48 4h0m35 1h0m2 3h0m-15 3h0m-12 5h0m-10 0h0m16 3h0m10 4h0m-23 1h0m36 0h0m-28 1h0m34 4h0m-24 1h0m-14 0h0m18 3h0m26 1h0m5 5h0m-19 1h0m1 1h0m-33 0h0m39 1h0m-4 1h0m-3 1h0m11 5h0m0 1h0m-49 2h0m36 1h0m11 2h0m-7 0h0m0 4h0m-35 1h0m37 1h0m-29 3h0m27 1h0m-15 0h0m-24 1h0m6 0h0m-2 3h0m-6 0h0m23 1h0m20 1h0m-15 0h0m-21 1h0m-1 0h0m-1 1h0m8 3h0m-3 2h0m35 1h0m-15 0h0m19 0h0m-34 1h0m15 5h0m-20 4h0m-3 2h0m3 1h0m20 3h0m-1 1h0m-1 2h0m-6 1h0m1 1h0m18 0h0m-12 2h0m27 2h0m-21 3h0m12 0h0m-43 1h0m46 2h0m-42 3h0m18 1h0m10 0h0m8 0h0m0 5h0m-14 0h0m0 0h0m0 1h0m-7 4h0m-20 1h0m19 1h0m18 2h0m-8 0h0m-25 1h0m34 1h0m-40 0h0m23 1h0m-1 1h0m31 4h0m-54 0h0m54 1h0m-17 3h0m21 3h0m-24 3h0m13 1h0m4 3h0m-1 0h0m6 4h0m-14 2h0m11 4h0m-1 0h0m-10 186h0m-13 3h0m6 2h0m-13 3h0m13 1h0m-13 0h0m15 1h0m-26 1h0m11 1h0m-8 4h0m-8 1h0m43 2h0m-24 3h0m22 1h0m-46 1h0m11 0h0m8 1h0m36 3h0m-56 5h0m51 0h0m0 2h0m-3 1h0m-26 1h0m2 3h0m11 3h0m-27 1h0m31 3h0m-3 0h0m11 8h0m-37 1h0m30 0h0m-37 0h0m27 2h0m-8 0h0m32 6h0m-7 2h0m-8 3h0m-20 1h0m37 1h0m-22 3h0m0 0h0m-10 7h0m2 1h0m33 3h0m-30 1h0m-4 0h0m-9 2h0m6 1h0m-18 2h0m3 0h0m2 6h0m8 0h0m16 0h0m-19 2h0m32 7h0m0 1h0m-29 1h0m2 2h0m17 4h0m0 1h0m-3 1h0m3 2h0m11 3h0m-7 0h0m11 0h0m-11 0h0m-40 7h0m4 8h0m33 4h0m-26 3h0m30 1h0m-7 5h0m15 0h0m-10 4h0m-23 3h0m19 1h0m-21 2h0m10 10h0m-21 0h0m28 18h0m-4 2h0m-18 0h0m-6 2h0m18 0h0m-9 1h0m43 1h0m-6 3h0m-42 9h0m2 1h0m23 16h0m-9 9h0m20 0h0m-8 2h0m2 2h0m3 1h0m-35 3h0m48 13h0m-46 2h0m44 0h0m7 1h0m-4 4h0m2 4h0m-14 2h0m10 10h0m-5 1h0m-43 0h0m52 22h0m-48 4h0m19 1h0m-2 0h0m-19 2h0m33 20h0m-31 13h0m9 28h0m23 5h0m-5 2h0m24 30h0m-40 85h0m4 33h0m4 14h0m71-1818h0m-22 60h0m-5 12h0m-1 19h0m45 10h0m-37 29h0m-12 5h0m-3 13h0m39 1h0m15 3h0m-57 5h0m54 16h0m-20 4h0m-23 9h0m-1 10h0m6 6h0m10 3h0m-2 3h0m-7 9h0m15 5h0m27 7h0m-55 1h0m34 0h0m0 4h0m16 2h0m-52 15h0m7 1h0m-6 1h0m11 0h0m1 2h0m-6 3h0m33 0h0m16 5h0m-37 0h0m32 4h0m-1 0h0m-29 3h0m29 0h0m-10 0h0m-7 1h0m7 2h0m17 5h0m-50 1h0m26 0h0m4 1h0m-6 4h0m9 1h0m0 1h0m-2 5h0m-22 4h0m16 0h0m-28 1h0m-4 5h0m57 3h0m-56 12h0m27 3h0m10 7h0m0 1h0m-20 0h0m2 5h0m1 0h0m21 3h0m-11 1h0m-19 2h0m3 1h0m25 2h0m-38 2h0m8 3h0m42 1h0m-35 3h0m29 2h0m-12 1h0m-16 2h0m38 3h0m-29 1h0m9 0h0m-37 3h0m56 0h0m-31 1h0m29 2h0m-19 1h0m-17 3h0m-3 0h0m15 7h0m21 5h0m-33 1h0m-4 3h0m40 2h0m-18 6h0m-4 0h0m-18 5h0m42 3h0m-16 1h0m-26 0h0m36 1h0m-49 1h0m36 1h0m21 1h0m-17 1h0m-19 0h0m-8 1h0m9 5h0m12 4h0m14 2h0m3 0h0m6 3h0m-28 0h0m-2 0h0m15 1h0m-18 2h0m30 0h0m-29 2h0m4 1h0m-6 1h0m30 0h0m-10 0h0m11 1h0m-43 3h0m-10 0h0m34 1h0m-9 1h0m-17 1h0m12 1h0m22 0h0m-12 1h0m-3 0h0m19 1h0m-40 2h0m3 3h0m39 1h0m-7 2h0m-37 1h0m-6 1h0m17 2h0m28 4h0m9 0h0m-6 1h0m-2 1h0m3 2h0m-5 4h0m-2 0h0m-42 4h0m1 1h0m21 1h0m-22 3h0m55 1h0m-18 1h0m-16 1h0m-3 6h0m21 5h0m-31 0h0m5 0h0m-12 1h0m33 1h0m-1 1h0m-18 2h0m24 2h0m-34 1h0m26 1h0m23 1h0m-6 1h0m-42 1h0m49 0h0m-18 5h0m-18 4h0m-20 0h0m15 2h0m-12 1h0m25 1h0m-24 1h0m31 1h0m-32 2h0m34 0h0m-3 3h0m20 1h0m-44 1h0m15 1h0m0 2h0m3 2h0m11 3h0m8 1h0m-4 1h0m4 2h0m-28 0h0m4 2h0m13 0h0m23 4h0m-26 1h0m-4 11h0m-8 1h0m19 4h0m19 5h0m-16 1h0m-11 2h0m-6 0h0m-2 0h0m-4 1h0m4 0h0m13 1h0m1 3h0m-19 4h0m21 3h0m-8 5h0m7 2h0m-8 0h0m26 3h0m-20 0h0m-8 1h0m6 2h0m6 2h0m-31 0h0m-2 4h0m18 0h0m28 3h0m-8 1h0m-17 1h0m-29 1h0m5 1h0m5 0h0m19 3h0m5 5h0m23 52h0m-55 7h0m-1 1h0m8 1h0m2 1h0m-8 0h0m0 4h0m-3 0h0m4 0h0m-2 3h0m13 3h0m-1 2h0m45 3h0m-31 2h0m-19 0h0m44 1h0m-46 6h0m24 1h0m-16 2h0m3 3h0m-11 2h0m-3 1h0m13 2h0m38 3h0m-29 2h0m11 2h0m-15 0h0m17 0h0m-1 1h0m-22 1h0m1 2h0m25 1h0m7 2h0m-12 1h0m-12 2h0m16 2h0m-8 0h0m4 0h0m5 5h0m-25 4h0m-6 2h0m12 1h0m3 3h0m18 1h0m-12 2h0m-28 1h0m39 0h0m-24 2h0m9 4h0m-17 0h0m28 1h0m-37 0h0m-2 1h0m43 2h0m1 1h0m-34 2h0m34 1h0m3 4h0m-12 1h0m-9 0h0m18 0h0m6 3h0m-21 5h0m-1 0h0m28 0h0m-7 3h0m9 1h0m-12 3h0m-2 2h0m-3 2h0m-20 1h0m-20 0h0m18 0h0m-11 2h0m1 1h0m9 1h0m6 0h0m-17 4h0m36 3h0m-37 2h0m19 3h0m4 1h0m-17 1h0m12 1h0m-18 2h0m17 1h0m22 1h0m-31 3h0m-11 3h0m40 4h0m-13 1h0m0 2h0m-4 1h0m-8 2h0m1 2h0m4 3h0m-1 0h0m-5 1h0m0 0h0m6 1h0m13 2h0m8 4h0m-24 1h0m13 0h0m-18 0h0m-9 3h0m14 3h0m7 2h0m1 0h0m26 1h0m0 2h0m-24 0h0m-6 1h0m-7 3h0m32 2h0m-27 0h0m11 2h0m-15 0h0m4 1h0m13 4h0m10 1h0m7 3h0m-40 0h0m20 0h0m-2 0h0m12 2h0m-38 1h0m8 5h0m20 4h0m5 2h0m-26 0h0m-10 1h0m20 1h0m-21 2h0m30 0h0m16 2h0m-3 2h0m15 2h0m-2 0h0m-45 1h0m31 1h0m-28 3h0m7 6h0m9 1h0m2 1h0m-17 1h0m-4 8h0m2 1h0m-9 2h0m38 1h0m-15 1h0m21 1h0m2 1h0m-25 0h0m-15 1h0m3 2h0m-1 2h0m3 5h0m41 3h0m-32 2h0m29 6h0m-2 0h0m-9 1h0m17 1h0m-17 0h0m-31 1h0m-4 0h0m31 4h0m-22 3h0m-12 1h0m25 1h0m-12 1h0m34 0h0m-30 8h0m-4 1h0m14 6h0m-14 1h0m1 0h0m29 0h0m1 3h0m6 0h0m-2 1h0m-15 1h0m4 3h0m13 4h0m-11 1h0m-43 6h0m59 0h0m-3 3h0m2 1h0m-1 2h0m-6 0h0m-47 0h0m-3 0h0m56 1h0m-53 15h0m6 22h0m-3 3h0m22 6h0m-6 2h0m-15 1h0m7 0h0m-11 2h0m28 0h0m-11 8h0m13 1h0m-27 1h0m3 1h0m8 1h0m16 3h0m-11 0h0m-3 1h0m9 3h0m-15 1h0m17 4h0m-3 6h0m1 2h0m-17 0h0m10 1h0m10 1h0m-5 1h0m-11 2h0m17 1h0m-10 1h0m5 0h0m-2 1h0m-19 4h0m-3 2h0m11 1h0m-7 4h0m36 129h0m-1 2h0m4 10h0m10 0h0m-2 7h0m-23 3h0m-3 0h0m3 2h0m2 1h0m-7 0h0m18 5h0m-6 9h0m14 4h0m-7 1h0m2 3h0m10 0h0m-20 9h0m14 4h0m-3 2h0m10 1h0m-56 51h0m8 10h0m-4 4h0m16 3h0m-18 2h0m1 2h0m-4 5h0m28 4h0m21 2h0m-3 0h0m-29 2h0m5 2h0m14 4h0m-35 2h0m50 0h0m-20 3h0m10 2h0m-19 1h0m-15 0h0m-7 4h0m-2 2h0m52 2h0m-15 2h0m10 9h0m4 5h0m-51 8h0m19 1h0m18 0h0m-36 4h0m8 1h0m2 4h0m5 2h0m13 14h0m24 2h0m-53 9h0m31 2h0m5 5h0m-30 4h0m37 0h0m-39 3h0m40 0h0m-23 1h0m24 3h0m-8 5h0m14 6h0m-15 14h0m9 1h0m-45 1h0m46 3h0m-16 2h0m27 2h0m2 6h0m-56 1h0m8 2h0m24 14h0m-33 10h0m39 14h0m-35 8h0m45 2h0m-15 1h0m-17 13h0m-15 1h0m47 47h0m-37 11h0m24 129h0m15 50h0m33-1866h0m-19 39h0m8 26h0m0 45h0m26 23h0m-5 3h0m-29 13h0m46 17h0m4 10h0m-1 18h0m-29 8h0m-24 0h0m49 5h0m-33 20h0m27 0h0m-38 14h0m21 6h0m29 19h0m-17 3h0m3 1h0m-43 5h0m56 0h0m-22 2h0m13 2h0m-34 0h0m30 6h0m-14 1h0m28 1h0m-26 1h0m-29 10h0m36 3h0m-10 2h0m-2 3h0m17 3h0m-21 1h0m18 4h0m-19 5h0m3 1h0m-1 6h0m6 2h0m29 6h0m-15 1h0m-39 12h0m43 1h0m-10 2h0m2 2h0m7 2h0m-22 2h0m-21 0h0m19 1h0m23 1h0m-9 0h0m22 4h0m-23 0h0m-28 3h0m39 1h0m-46 0h0m11 1h0m28 5h0m-12 0h0m26 4h0m-9 4h0m-5 1h0m-4 1h0m-35 1h0m31 0h0m-4 2h0m18 2h0m-26 2h0m-6 2h0m15 1h0m5 1h0m4 2h0m-24 2h0m43 0h0m-39 0h0m-15 1h0m44 1h0m2 3h0m-20 2h0m-24 2h0m24 1h0m2 0h0m21 0h0m-39 1h0m-6 0h0m24 0h0m-14 1h0m26 1h0m-3 4h0m-24 0h0m16 3h0m-20 5h0m12 0h0m-4 1h0m13 0h0m-11 1h0m26 0h0m-29 1h0m28 0h0m-40 1h0m-2 0h0m23 1h0m-13 2h0m3 0h0m0 2h0m40 0h0m-18 1h0m5 2h0m0 0h0m0 0h0m-40 2h0m37 0h0m-28 2h0m-7 1h0m40 0h0m-45 3h0m52 1h0m-6 1h0m-14 3h0m21 0h0m-15 2h0m0 0h0m-39 0h0m42 4h0m-22 2h0m30 2h0m-25 5h0m-8 0h0m3 2h0m14 2h0m17 1h0m-10 1h0m-39 1h0m31 1h0m-8 1h0m33 2h0m0 2h0m-25 4h0m-27 0h0m35 4h0m-33 0h0m26 1h0m-2 3h0m8 0h0m-35 0h0m40 4h0m-14 9h0m20 2h0m2 0h0m-51 1h0m39 0h0m16 0h0m-40 2h0m23 2h0m4 1h0m-5 2h0m2 3h0m-19 1h0m2 3h0m-10 2h0m34 0h0m1 3h0m1 2h0m3 3h0m-30 0h0m-21 1h0m9 3h0m1 0h0m13 2h0m-10 3h0m-3 3h0m14 2h0m-8 0h0m5 2h0m-5 0h0m-14 1h0m19 2h0m-4 2h0m-16 2h0m23 0h0m-23 3h0m42 2h0m-40 0h0m51 1h0m-15 0h0m-6 3h0m-35 1h0m27 1h0m18 1h0m-45 6h0m11 0h0m22 2h0m-1 0h0m15 2h0m3 2h0m-31 1h0m-2 0h0m36 3h0m-30 0h0m29 1h0m-47 3h0m15 2h0m29 1h0m-46 2h0m2 2h0m45 0h0m-5 2h0m-18 3h0m-3 0h0m-9 0h0m31 2h0m-40 2h0m19 0h0m18 1h0m-9 0h0m-13 1h0m17 2h0m-6 1h0m-18 0h0m3 0h0m0 0h0m27 2h0m14 1h0m-19 1h0m-20 0h0m10 1h0m25 0h0m-32 2h0m23 1h0m0 1h0m-46 1h0m24 3h0m-5 3h0m5 0h0m-6 4h0m3 2h0m-14 1h0m12 0h0m-19 0h0m1 4h0m15 1h0m-8 9h0m11 53h0m1 2h0m21 2h0m5 2h0m-26 1h0m7 0h0m-14 1h0m35 1h0m-1 1h0m-42 1h0m16 0h0m-7 3h0m2 0h0m-14 0h0m41 2h0m11 3h0m3 1h0m2 1h0m-59 0h0m41 0h0m-35 0h0m48 1h0m-12 0h0m16 0h0m-38 1h0m4 0h0m-24 2h0m2 0h0m44 2h0m4 0h0m4 0h0m5 0h0m-31 1h0m11 1h0m-16 1h0m33 3h0m-11 2h0m-38 4h0m40 3h0m-32 8h0m2 0h0m1 0h0m-16 1h0m41 0h0m12 0h0m-54 1h0m41 0h0m-31 1h0m6 0h0m38 1h0m-12 0h0m-30 1h0m28 0h0m-20 0h0m36 1h0m-53 1h0m17 1h0m32 0h0m-21 1h0m0 0h0m-28 2h0m46 3h0m-18 0h0m-3 4h0m-17 0h0m47 0h0m-37 4h0m11 0h0m6 1h0m-15 0h0m1 0h0m26 1h0m-10 1h0m-33 1h0m33 0h0m-20 0h0m-6 2h0m29 0h0m14 13h0m-7 1h0m-4 11h0m-6 65h0m-23 12h0m18 0h0m12 0h0m11 1h0m0 3h0m-8 2h0m-8 1h0m-16 3h0m12 1h0m-28 0h0m4 1h0m-4 1h0m28 1h0m-16 2h0m-4 5h0m39 2h0m-38 1h0m-4 1h0m5 2h0m33 0h0m-51 1h0m10 5h0m-7 1h0m47 1h0m-21 0h0m-14 1h0m23 4h0m2 2h0m-42 0h0m34 1h0m15 1h0m7 1h0m-23 0h0m16 0h0m-33 1h0m1 0h0m4 1h0m37 2h0m-6 5h0m-26 0h0m-5 2h0m10 1h0m-17 4h0m16 2h0m-12 0h0m37 0h0m-43 2h0m21 1h0m4 4h0m-33 0h0m-1 0h0m3 3h0m38 0h0m-32 0h0m45 4h0m-42 0h0m41 1h0m-5 2h0m-5 2h0m-17 1h0m-8 0h0m-6 4h0m0 0h0m31 0h0m10 1h0m-46 1h0m5 1h0m10 6h0m14 1h0m-20 0h0m0 0h0m33 1h0m-14 1h0m-22 0h0m30 2h0m11 0h0m-22 1h0m-20 1h0m30 3h0m0 0h0m-45 1h0m21 2h0m-9 0h0m-8 0h0m36 1h0m-39 7h0m15 0h0m28 0h0m-45 2h0m51 1h0m-17 1h0m-16 0h0m24 2h0m-37 2h0m53 1h0m-4 0h0m-36 0h0m26 1h0m-38 0h0m-2 0h0m43 1h0m8 0h0m-50 2h0m26 5h0m-7 2h0m-4 0h0m10 3h0m-4 2h0m30 0h0m-28 2h0m-19 4h0m-6 2h0m31 4h0m-8 1h0m2 0h0m-23 0h0m4 2h0m-8 0h0m38 1h0m-14 0h0m-18 1h0m1 1h0m0 1h0m22 0h0m-8 1h0m-14 4h0m12 0h0m-14 1h0m16 1h0m-21 2h0m36 0h0m-21 1h0m6 0h0m-5 3h0m9 1h0m31 71h0m-6 0h0m-9 10h0m5 1h0m8 0h0m-2 1h0m-5 1h0m-7 1h0m15 16h0m-16 5h0m6 0h0m4 2h0m5 1h0m-7 2h0m-10 0h0m10 0h0m10 1h0m1 4h0m-12 0h0m1 0h0m10 1h0m-2 3h0m1 0h0m-6 1h0m-11 3h0m16 1h0m-7 4h0m9 3h0m-2 1h0m-49 99h0m-7 1h0m5 3h0m-2 3h0m8 0h0m5 6h0m-10 3h0m11 2h0m15 1h0m-6 3h0m-11 0h0m1 3h0m15 2h0m-7 1h0m11 0h0m-13 0h0m18 1h0m-18 0h0m-5 2h0m2 2h0m20 4h0m-32 2h0m9 3h0m27 2h0m-6 5h0m-16 7h0m-20 1h0m23 6h0m-17 0h0m12 3h0m7 0h0m-13 4h0m8 2h0m-21 3h0m17 1h0m34 27h0m0 6h0m-10 0h0m15 0h0m-22 4h0m-11 1h0m-1 2h0m22 5h0m-26 1h0m25 0h0m-23 3h0m16 3h0m6 2h0m9 2h0m-35 2h0m-7 1h0m16 1h0m29 5h0m-30 1h0m-5 0h0m-13 3h0m11 0h0m11 3h0m-17 2h0m10 0h0m30 0h0m-43 1h0m12 1h0m-1 2h0m9 1h0m-5 1h0m26 4h0m-24 1h0m22 3h0m-41 6h0m10 1h0m-12 5h0m15 2h0m30 3h0m-39 1h0m0 1h0m19 2h0m-6 2h0m13 2h0m12 1h0m-39 7h0m14 2h0m-5 2h0m-16 3h0m6 5h0m-5 0h0m17 1h0m10 0h0m21 2h0m-3 8h0m-22 9h0m18 10h0m-24 1h0m-17 4h0m24 6h0m-10 1h0m9 9h0m5 5h0m-2 2h0m27 5h0m-54 2h0m27 10h0m24 5h0m4 2h0m-14 12h0m-33 29h0m7 2h0m36 9h0m-15 7h0m-19 3h0m-19 17h0m21 8h0m36 5h0m-15 16h0m-35 22h0m82-1683h0m20 75h0m-31 4h0m-14 23h0m5 11h0m26 2h0m-5 33h0m8 3h0m5 0h0m-1 7h0m7 11h0m-26 0h0m-22 1h0m36 8h0m-17 2h0m-6 1h0m18 14h0m19 1h0m-18 6h0m-1 2h0m9 3h0m-31 1h0m-5 4h0m52 5h0m-53 6h0m18 9h0m-9 3h0m5 2h0m40 1h0m-26 3h0m-15 0h0m23 11h0m-21 2h0m-18 2h0m40 3h0m7 7h0m-23 2h0m-16 4h0m-4 12h0m11 1h0m-2 3h0m4 1h0m8 1h0m-2 0h0m12 1h0m-7 5h0m-24 0h0m34 1h0m-27 7h0m28 0h0m15 2h0m-29 2h0m0 2h0m1 1h0m19 2h0m-39 1h0m38 1h0m-29 0h0m42 1h0m-23 2h0m21 0h0m-42 3h0m-14 1h0m37 1h0m-32 0h0m2 2h0m36 4h0m2 1h0m-45 1h0m25 1h0m-18 1h0m10 0h0m23 4h0m-27 0h0m-8 1h0m53 3h0m0 1h0m-36 0h0m-14 0h0m7 3h0m8 3h0m-11 3h0m-12 1h0m45 2h0m-28 0h0m22 4h0m-20 1h0m7 0h0m12 4h0m7 0h0m-34 0h0m39 0h0m-1 2h0m-7 1h0m11 1h0m3 3h0m-7 5h0m-42 5h0m-1 1h0m29 1h0m-23 4h0m30 1h0m15 0h0m-48 2h0m41 1h0m-6 2h0m3 4h0m-24 1h0m25 0h0m-14 1h0m-2 0h0m7 0h0m-9 1h0m7 0h0m-3 1h0m-24 1h0m48 2h0m-30 2h0m-26 4h0m9 0h0m-7 1h0m0 0h0m21 0h0m8 0h0m-7 1h0m23 0h0m-30 0h0m36 0h0m-42 1h0m46 0h0m-56 4h0m14 0h0m13 2h0m-15 1h0m15 2h0m-9 1h0m0 0h0m-21 2h0m20 0h0m11 1h0m-12 5h0m13 1h0m-15 0h0m19 0h0m-19 1h0m7 1h0m7 0h0m-1 1h0m-8 3h0m18 0h0m-2 0h0m-28 3h0m21 0h0m-28 2h0m27 0h0m0 2h0m17 0h0m-10 3h0m1 1h0m9 1h0m-10 0h0m-16 1h0m5 1h0m12 3h0m-9 2h0m9 3h0m12 1h0m-1 2h0m-13 0h0m-14 4h0m15 1h0m-10 1h0m1 1h0m17 3h0m-22 1h0m8 3h0m-28 2h0m20 0h0m3 1h0m13 1h0m-18 0h0m-7 1h0m8 1h0m13 1h0m-29 2h0m19 1h0m-4 2h0m11 2h0m-12 2h0m6 1h0m-16 6h0m18 5h0m-22 36h0m-3 2h0m-2 1h0m4 7h0m5 1h0m-7 3h0m13 1h0m-8 1h0m0 2h0m0 5h0m-6 18h0m6 4h0m-8 4h0m1 0h0m0 2h0m6 1h0m-6 94h0m5 9h0m6 5h0m-10 2h0m4 2h0m-2 1h0m6 3h0m3 3h0m10 5h0m-9 0h0m4 5h0m10 0h0m-11 2h0m8 5h0m-14 2h0m7 4h0m1 1h0m10 0h0m-26 2h0m15 1h0m-18 1h0m7 1h0m30 0h0m-4 1h0m-4 2h0m15 3h0m-35 3h0m-9 1h0m6 0h0m38 4h0m2 5h0m-39 0h0m45 1h0m-24 1h0m21 0h0m5 1h0m0 1h0m-48 3h0m11 0h0m-2 0h0m38 1h0m-20 1h0m-15 0h0m10 3h0m29 4h0m-25 0h0m11 1h0m-8 1h0m-2 1h0m-14 0h0m15 1h0m-8 3h0m-18 7h0m2 3h0m10 2h0m-1 3h0m0 3h0m39 17h0m-46 43h0m-8 3h0m8 7h0m16 1h0m24 0h0m-43 1h0m16 4h0m30 0h0m-31 2h0m21 6h0m-20 1h0m29 0h0m-37 0h0m5 1h0m-1 0h0m-5 1h0m-1 1h0m-1 3h0m9 0h0m-6 1h0m42 2h0m-2 0h0m-25 2h0m18 1h0m-42 0h0m35 1h0m-23 2h0m38 3h0m-11 2h0m-40 1h0m9 1h0m28 1h0m-39 3h0m50 0h0m-34 0h0m-8 8h0m41 2h0m-53 4h0m39 0h0m17 4h0m-9 2h0m-3 0h0m-35 0h0m7 2h0m20 1h0m-20 1h0m-6 1h0m17 1h0m2 1h0m-9 2h0m1 0h0m-16 2h0m26 0h0m5 2h0m-6 1h0m2 2h0m24 1h0m-13 1h0m-19 2h0m20 1h0m7 2h0m-19 2h0m-6 3h0m9 3h0m1 2h0m3 1h0m-18 0h0m19 1h0m-11 0h0m-10 0h0m0 2h0m-1 0h0m2 5h0m-9 1h0m3 0h0m6 2h0m10 1h0m7 1h0m-1 1h0m4 1h0m-40 0h0m24 0h0m11 2h0m-18 2h0m-3 3h0m-11 0h0m33 2h0m-20 3h0m-12 1h0m15 2h0m-5 0h0m-3 115h0m6 3h0m-3 1h0m-5 0h0m-5 1h0m17 2h0m1 0h0m-5 1h0m-1 1h0m1 2h0m-3 1h0m-3 0h0m9 3h0m-2 1h0m5 8h0m-21 2h0m20 2h0m1 5h0m-19 2h0m10 2h0m-10 0h0m9 1h0m3 3h0m-6 0h0m-4 2h0m7 2h0m-14 4h0m6 1h0m51 173h0m-9 4h0m-22 1h0m26 0h0m-8 3h0m-19 1h0m-4 3h0m11 10h0m-17 0h0m34 5h0m-15 0h0m-5 5h0m-22 1h0m33 5h0m-2 3h0m21 3h0m-48 1h0m9 3h0m-2 3h0m-11 1h0m47 1h0m-54 0h0m36 2h0m7 1h0m-13 1h0m6 1h0m11 2h0m0 0h0m-26 6h0m9 0h0m12 1h0m6 7h0m-31 2h0m-4 2h0m20 3h0m-19 6h0m20 0h0m11 1h0m-38 2h0m43 0h0m-14 1h0m17 5h0m-2 2h0m4 4h0m-18 2h0m21 0h0m-17 3h0m-7 2h0m-1 5h0m-19 8h0m35 12h0m-8 1h0m-29 6h0m42 19h0m-37 1h0m13 7h0m15 1h0m-8 9h0m8 1h0m-25 0h0m-19 6h0m54 13h0m-34 7h0m35 3h0m-32 3h0m28 14h0m-39 5h0m34 1h0m-46 2h0m19 4h0m39 3h0m-28 1h0m27 10h0m-14 19h0m-34 13h0m11 0h0m-1 43h0m17 39h0m9 5h0m-7 17h0m-19 6h0m-6 23h0m42 5h0m-27 80h0m33-1918h0m45 47h0m-27 8h0m-13 32h0m-5 41h0m-1 5h0m48 28h0m-48 3h0m3 7h0m3 3h0m27 11h0m2 6h0m-9 1h0m-25 6h0m5 0h0m14 10h0m26 6h0m-24 5h0m-21 1h0m4 8h0m16 1h0m-7 4h0m29 3h0m-44 3h0m43 7h0m-32 1h0m22 1h0m-22 8h0m48 14h0m-42 9h0m34 1h0m-35 0h0m30 9h0m3 12h0m-12 3h0m8 6h0m-12 3h0m-8 1h0m25 9h0m-35 0h0m26 4h0m-33 1h0m-5 3h0m11 2h0m31 2h0m13 1h0m-34 7h0m-21 0h0m34 8h0m-24 1h0m29 3h0m12 2h0m-12 0h0m-36 5h0m30 1h0m-1 1h0m-26 1h0m8 1h0m4 2h0m-16 1h0m37 8h0m-17 1h0m-18 0h0m24 2h0m9 1h0m-25 1h0m-4 2h0m-6 1h0m21 5h0m23 6h0m-21 0h0m23 0h0m-45 1h0m44 0h0m-22 0h0m27 1h0m-16 0h0m-31 1h0m3 2h0m12 1h0m28 4h0m-15 1h0m-26 7h0m29 1h0m-27 0h0m34 2h0m-21 0h0m-23 2h0m55 1h0m-33 4h0m-6 1h0m38 0h0m-40 1h0m29 3h0m4 4h0m-49 0h0m43 1h0m-19 1h0m-16 2h0m38 3h0m-3 3h0m13 1h0m-42 0h0m1 1h0m25 1h0m8 1h0m2 0h0m-19 3h0m7 2h0m-33 0h0m3 0h0m25 2h0m-1 3h0m-3 4h0m3 0h0m1 4h0m-21 1h0m11 0h0m17 0h0m-1 1h0m-28 0h0m-11 1h0m6 12h0m52 10h0m-5 209h0m1 10h0m-1 1h0m-2 3h0m6 5h0m-5 3h0m3 11h0m3 18h0m1 3h0m-11 9h0m11 3h0m-16 2h0m-12 1h0m16 1h0m-4 6h0m-10 4h0m3 7h0m15 62h0m-8 0h0m-13 1h0m3 4h0m-6 1h0m31 0h0m-27 1h0m-14 3h0m13 1h0m3 2h0m11 0h0m-41 5h0m14 1h0m40 0h0m-54 1h0m28 0h0m-1 1h0m-16 1h0m43 2h0m-20 0h0m-20 4h0m2 1h0m-19 1h0m5 1h0m-3 3h0m50 1h0m-45 2h0m-3 3h0m34 1h0m-24 3h0m31 0h0m-11 2h0m-2 4h0m7 0h0m-25 0h0m28 0h0m-30 2h0m-10 0h0m23 1h0m28 0h0m-32 2h0m30 1h0m-10 0h0m-20 1h0m4 1h0m25 4h0m-43 2h0m42 1h0m-2 0h0m-14 2h0m22 2h0m-35 2h0m-1 1h0m14 3h0m-31 38h0m3 3h0m5 6h0m4 1h0m-11 0h0m6 0h0m3 3h0m-3 0h0m-9 13h0m7 8h0m-5 1h0m9 0h0m-11 1h0m13 2h0m-2 0h0m-1 4h0m2 8h0m-10 0h0m6 5h0m-8 12h0m34 240h0m-7 3h0m-5 3h0m31 3h0m-29 1h0m0 0h0m13 0h0m-5 2h0m17 0h0m-29 3h0m28 0h0m-19 0h0m13 5h0m-18 0h0m16 2h0m18 0h0m-37 2h0m21 4h0m-10 12h0m23 9h0m-20 0h0m-2 2h0m2 0h0m23 1h0m-1 3h0m-24 2h0m-4 0h0m-8 1h0m-11 1h0m26 3h0m5 1h0m12 0h0m-48 0h0m11 6h0m3 3h0m32 1h0m3 3h0m4 0h0m-12 14h0m-3 0h0m9 1h0m-12 3h0m0 2h0m14 5h0m3 0h0m-10 1h0m4 3h0m6 4h0m-20 0h0m20 8h0m-16 2h0m10 1h0m-18 1h0m4 1h0m10 6h0m-29 2h0m35 5h0m-20 3h0m-9 2h0m33 1h0m-36 1h0m22 0h0m-38 4h0m10 3h0m10 0h0m-16 2h0m6 1h0m-5 1h0m20 4h0m-28 1h0m47 7h0m-44 1h0m44 2h0m-48 3h0m23 2h0m2 1h0m10 0h0m-16 0h0m34 1h0m-45 0h0m31 1h0m14 2h0m-41 0h0m25 1h0m21 0h0m-16 0h0m-29 1h0m-10 0h0m23 6h0m-16 4h0m5 0h0m10 8h0m-2 4h0m20 0h0m-10 0h0m1 1h0m-35 0h0m38 1h0m-23 4h0m36 0h0m-42 4h0m34 2h0m-10 1h0m4 10h0m12 1h0m-49 3h0m13 0h0m40 4h0m1 2h0m-14 4h0m-12 1h0m-28 2h0m48 0h0m5 1h0m-29 3h0m20 6h0m2 7h0m-40 2h0m22 9h0m6 9h0m6 5h0m-21 2h0m5 0h0m-5 7h0m16 9h0m-12 14h0m-6 10h0m1 5h0m-9 1h0m-1 8h0m31 2h0m-39 0h0m41 5h0m-16 11h0m-16 5h0m45 4h0m-2 4h0m-36 8h0m-13 2h0m37 22h0m-38 5h0m-1 21h0m21 16h0m-13 4h0m20 29h0m-10 13h0m28 31h0m-44 144h0m70-1883h0m4 73h0m-2 7h0m23 25h0m-36 12h0m14 15h0m-13 18h0m-3 2h0m42 16h0m-42 8h0m5 18h0m3 8h0m11 0h0m30 9h0m-46 0h0m4 6h0m33 19h0m13 4h0m-22 4h0m-3 3h0m19 3h0m-18 2h0m8 12h0m-26 11h0m24 3h0m1 3h0m-21 2h0m-11 5h0m12 2h0m-3 2h0m-10 5h0m7 1h0m22 1h0m-4 0h0m25 1h0m-11 0h0m-5 2h0m-3 1h0m11 5h0m-22 0h0m19 4h0m4 0h0m-35 1h0m27 4h0m13 1h0m-14 0h0m17 9h0m-47 0h0m32 0h0m8 1h0m-16 3h0m15 3h0m-36 1h0m41 8h0m-33 3h0m35 0h0m1 3h0m-22 0h0m-13 3h0m-10 1h0m34 6h0m-14 3h0m8 1h0m4 4h0m-35 2h0m15 2h0m-20 1h0m16 1h0m25 1h0m-9 1h0m-5 1h0m-13 1h0m5 3h0m-12 3h0m1 0h0m2 3h0m6 3h0m21 1h0m16 1h0m-13 1h0m8 1h0m0 4h0m-11 0h0m1 2h0m-39 1h0m4 1h0m8 2h0m10 3h0m-12 2h0m31 1h0m-1 0h0m-1 3h0m-24 0h0m-13 2h0m9 2h0m5 7h0m43 1h0m-46 2h0m29 2h0m-39 0h0m6 0h0m44 0h0m-2 3h0m-44 0h0m-2 1h0m-4 1h0m3 1h0m34 0h0m-10 1h0m18 0h0m-36 4h0m11 0h0m-21 2h0m42 0h0m11 0h0m-45 1h0m14 0h0m22 5h0m-9 1h0m-7 2h0m-2 1h0m27 0h0m-19 2h0m16 16h0m2 3h0m-5 2h0m10 3h0m-20 3h0m18 1h0m-24 5h0m26 1h0m-5 2h0m-17 2h0m21 4h0m-34 0h0m34 2h0m-32 0h0m23 7h0m2 3h0m-2 2h0m-4 0h0m2 2h0m-20 4h0m15 4h0m2 0h0m-14 1h0m24 1h0m-7 4h0m7 7h0m7 3h0m-24 2h0m16 36h0m4 4h0m0 3h0m1 1h0m2 5h0m-3 1h0m-7 2h0m-12 11h0m0 6h0m16 2h0m1 2h0m-18 0h0m2 1h0m4 12h0m2 6h0m12 0h0m-18 1h0m-19 0h0m8 1h0m-10 1h0m18 1h0m-15 4h0m29 0h0m-34 2h0m20 0h0m-21 0h0m-1 0h0m-12 2h0m45 0h0m7 1h0m-49 0h0m47 1h0m-35 3h0m22 0h0m13 2h0m-36 7h0m20 3h0m0 0h0m17 5h0m-34 4h0m22 1h0m-19 5h0m29 2h0m9 0h0m-58 3h0m3 1h0m34 0h0m-29 1h0m-6 0h0m13 1h0m22 1h0m-28 1h0m40 1h0m-35 0h0m9 4h0m23 0h0m-45 0h0m54 1h0m-11 1h0m-20 1h0m-16 2h0m-1 0h0m-1 0h0m53 2h0m-35 0h0m23 0h0m3 1h0m-46 0h0m49 3h0m-51 3h0m52 0h0m-43 2h0m18 1h0m26 1h0m-45 6h0m21 2h0m25 0h0m-54 3h0m23 0h0m12 5h0m21 1h0m-53 3h0m1 1h0m1 3h0m2 1h0m12 2h0m2 0h0m-15 1h0m23 2h0m21 0h0m0 0h0m4 1h0m-52 0h0m20 4h0m3 2h0m-16 1h0m37 4h0m-23 1h0m14 0h0m13 3h0m-11 0h0m-15 1h0m26 0h0m-28 1h0m19 6h0m16 2h0m-31 1h0m24 1h0m2 2h0m-3 18h0m-43 25h0m36 6h0m-41 0h0m50 0h0m-3 1h0m-41 1h0m-6 1h0m33 1h0m8 0h0m6 1h0m-5 3h0m-44 5h0m25 1h0m13 0h0m-32 0h0m14 3h0m-5 1h0m43 1h0m-49 2h0m48 0h0m-39 1h0m2 9h0m15 3h0m-35 1h0m19 1h0m12 2h0m-26 2h0m28 3h0m2 1h0m2 2h0m3 1h0m0 1h0m-8 1h0m-13 2h0m28 2h0m-13 0h0m17 2h0m4 1h0m1 4h0m-4 1h0m-16 5h0m16 6h0m-52 351h0m6 21h0m-7 2h0m7 2h0m4 0h0m1 6h0m8 1h0m-4 4h0m3 4h0m-16 1h0m13 0h0m-11 2h0m8 1h0m0 1h0m-7 0h0m2 5h0m11 4h0m-9 4h0m10 2h0m17 1h0m-14 3h0m-21 4h0m21 1h0m24 1h0m-46 2h0m37 5h0m-10 0h0m-27 1h0m2 1h0m54 3h0m-55 5h0m43 1h0m-32 0h0m41 0h0m-21 3h0m7 2h0m-10 2h0m10 3h0m12 4h0m-3 1h0m-48 3h0m25 6h0m-2 0h0m-20 2h0m5 1h0m-1 1h0m50 1h0m-26 2h0m-3 2h0m10 4h0m-5 5h0m-26 0h0m-5 0h0m3 3h0m41 4h0m-22 3h0m2 9h0m23 3h0m-30 1h0m-20 3h0m4 2h0m36 6h0m-34 0h0m1 2h0m23 3h0m-2 5h0m-8 1h0m0 0h0m30 1h0m-48 0h0m1 3h0m24 1h0m17 6h0m-43 2h0m-1 2h0m35 1h0m8 7h0m-7 0h0m-2 1h0m-32 4h0m49 1h0m-25 6h0m28 7h0m-33 1h0m8 0h0m-29 2h0m13 6h0m15 0h0m3 1h0m-21 1h0m8 0h0m11 5h0m-3 6h0m2 1h0m-27 4h0m19 0h0m-18 10h0m27 3h0m13 2h0m-42 13h0m6 4h0m16 7h0m31 7h0m-19 1h0m-5 6h0m-20 10h0m19 11h0m27 22h0m-24 11h0m-30 2h0m31 0h0m-11 11h0m23 13h0m-37 104h0m3 45h0m-6 0h0m0 31h0m29 3h0m-24 26h0m76-1909h0m-16 100h0m-4 37h0m38 51h0m-28 65h0m44 5h0m-4 4h0m-8 12h0m-26 1h0m7 4h0m-7 1h0m5 3h0m-15 22h0m15 5h0m-2 5h0m-3 7h0m1 1h0m16 7h0m-36 4h0m24 9h0m16 8h0m-2 12h0m-29 3h0m26 3h0m-29 12h0m-3 2h0m-1 1h0m16 1h0m4 10h0m-13 3h0m26 1h0m11 1h0m-28 0h0m-17 5h0m10 0h0m39 10h0m-11 2h0m-3 3h0m-35 1h0m41 1h0m-33 7h0m41 3h0m3 6h0m-5 1h0m1 6h0m-14 0h0m-31 1h0m28 1h0m17 4h0m-44 1h0m13 2h0m-14 3h0m16 2h0m37 1h0m-39 3h0m19 2h0m7 0h0m-46 3h0m30 3h0m27 6h0m-52 1h0m13 6h0m-17 9h0m36 1h0m13 2h0m-8 0h0m-16 4h0m29 2h0m-15 0h0m-28 4h0m40 4h0m-35 3h0m16 7h0m14 1h0m-10 1h0m-32 1h0m15 2h0m14 1h0m2 1h0m-27 2h0m16 1h0m-21 2h0m16 4h0m-8 0h0m41 6h0m-46 0h0m11 1h0m-2 3h0m3 1h0m17 1h0m-34 2h0m35 0h0m-20 2h0m38 2h0m-15 8h0m-27 0h0m33 3h0m-6 1h0m-6 0h0m-33 2h0m47 1h0m-30 0h0m6 3h0m29 0h0m-20 2h0m-1 2h0m17 1h0m-8 2h0m-13 2h0m3 2h0m22 1h0m-13 3h0m-14 2h0m-16 0h0m46 0h0m-47 3h0m42 1h0m6 4h0m-23 4h0m-18 5h0m-9 1h0m8 4h0m18 2h0m-21 5h0m4 1h0m38 1h0m-38 0h0m28 3h0m-29 0h0m1 2h0m25 0h0m-9 2h0m11 1h0m-23 3h0m1 4h0m-6 2h0m19 4h0m14 3h0m-28 6h0m19 2h0m-4 0h0m-17 2h0m25 2h0m11 3h0m-45 0h0m48 0h0m-51 3h0m22 0h0m0 2h0m-27 2h0m54 0h0m-20 0h0m8 3h0m11 2h0m-21 3h0m-33 2h0m9 0h0m20 0h0m19 1h0m11 2h0m-14 0h0m3 3h0m-5 2h0m-29 2h0m1 1h0m-4 1h0m27 1h0m5 0h0m-20 3h0m-23 2h0m31 1h0m11 3h0m-9 1h0m-7 3h0m13 1h0m-4 1h0m22 0h0m-48 4h0m40 2h0m3 2h0m-27 2h0m-18 0h0m38 6h0m-2 0h0m-17 2h0m19 0h0m-18 5h0m20 0h0m-38 2h0m-5 2h0m9 0h0m-1 2h0m32 2h0m-17 1h0m14 0h0m5 2h0m-40 4h0m29 0h0m-7 1h0m-23 2h0m4 1h0m4 3h0m34 1h0m-25 2h0m-20 2h0m52 2h0m-48 1h0m-6 1h0m5 1h0m19 1h0m0 0h0m3 5h0m-19 1h0m1 1h0m24 1h0m-8 3h0m24 2h0m-41 0h0m9 2h0m25 2h0m2 0h0m-9 1h0m-18 0h0m18 0h0m-24 4h0m16 1h0m31 0h0m1 1h0m-36 3h0m-7 1h0m7 3h0m27 0h0m-33 1h0m13 0h0m-13 3h0m25 0h0m-20 1h0m-2 0h0m28 0h0m-28 1h0m24 0h0m7 3h0m-16 0h0m-17 4h0m22 5h0m5 0h0m-9 2h0m4 2h0m7 1h0m-46 4h0m2 2h0m28 3h0m-23 5h0m21 2h0m-9 3h0m12 3h0m6 1h0m20 0h0m-6 0h0m-49 1h0m6 5h0m16 3h0m9 0h0m4 1h0m10 4h0m9 0h0m-50 1h0m42 3h0m2 5h0m-44 0h0m29 1h0m-15 1h0m11 1h0m2 1h0m17 1h0m-51 0h0m27 1h0m27 1h0m-11 1h0m13 0h0m-3 3h0m-14 0h0m3 1h0m15 2h0m-40 0h0m36 0h0m-11 0h0m-32 0h0m8 0h0m36 1h0m-50 5h0m27 4h0m-1 1h0m27 3h0m0 6h0m-23 1h0m-32 0h0m40 5h0m12 0h0m-32 1h0m17 2h0m-8 1h0m27 1h0m-29 0h0m-10 4h0m-11 4h0m6 1h0m-3 0h0m-2 1h0m0 0h0m15 2h0m13 1h0m-25 1h0m5 1h0m27 1h0m8 1h0m-46 0h0m8 3h0m13 4h0m0 2h0m24 2h0m-22 0h0m0 0h0m-27 1h0m37 0h0m20 2h0m-8 0h0m-27 1h0m23 3h0m0 1h0m-22 3h0m-5 0h0m-18 1h0m1 3h0m9 1h0m44 4h0m-40 2h0m-4 2h0m44 2h0m-4 4h0m-38 0h0m39 3h0m-6 1h0m-23 3h0m11 0h0m-27 1h0m43 1h0m-29 0h0m37 0h0m-44 5h0m10 2h0m3 1h0m25 3h0m-24 5h0m-4 1h0m21 4h0m-27 0h0m-7 1h0m37 1h0m-15 1h0m1 0h0m11 1h0m3 2h0m2 3h0m-35 3h0m-1 2h0m-8 0h0m17 1h0m-1 0h0m19 2h0m4 1h0m7 0h0m6 0h0m-40 4h0m28 3h0m-25 2h0m29 2h0m-1 184h0m8 2h0m-4 0h0m3 81h0m-22 1h0m-2 3h0m2 2h0m-6 0h0m-5 5h0m34 2h0m-14 0h0m-7 3h0m-3 0h0m5 0h0m-6 1h0m-6 4h0m4 1h0m-17 2h0m24 8h0m1 1h0m-27 1h0m4 1h0m17 4h0m-1 1h0m-10 3h0m-4 0h0m6 1h0m-2 2h0m4 1h0m1 0h0m0 6h0m14 1h0m-22 1h0m38 0h0m-12 1h0m-8 0h0m-4 2h0m-12 2h0m6 1h0m11 4h0m7 3h0m13 4h0m-2 0h0m-2 1h0m-8 29h0m-20 3h0m30 1h0m-29 0h0m28 7h0m-34 7h0m-1 1h0m8 0h0m-5 2h0m27 2h0m-12 1h0m18 1h0m-34 2h0m-15 0h0m3 2h0m6 2h0m-7 2h0m-9 6h0m0 1h0m5 2h0m42 1h0m-42 0h0m52 4h0m-32 0h0m-1 2h0m-7 4h0m-11 1h0m14 1h0m-6 3h0m21 3h0m-23 4h0m-8 5h0m34 10h0m-28 3h0m17 2h0m6 6h0m4 2h0m-16 4h0m-18 2h0m46 3h0m-10 7h0m-2 0h0m-30 6h0m31 0h0m-21 2h0m40 3h0m-47 1h0m-5 3h0m50 4h0m-4 3h0m-26 2h0m-5 0h0m31 1h0m-15 5h0m-18 0h0m1 10h0m37 1h0m-1 0h0m-13 9h0m12 9h0m-6 1h0m-26 13h0m-13 3h0m9 1h0m26 10h0m8 2h0m-39 1h0m7 12h0m2 7h0m7 27h0m3 7h0m18 3h0m-20 19h0m-30 7h0m48 17h0m6 94h0m-20 2h0m16 2h0m-26 23h0m-4 37h0m28 19h0m-12 60h0m52-1778h0m-17 34h0m11 8h0m35 72h0m-24 1h0m13 5h0m-30 9h0m40 7h0m-53 8h0m54 9h0m-52 15h0m11 9h0m-15 6h0m23 5h0m15 1h0m-17 19h0m24 13h0m-44 6h0m51 11h0m-47 2h0m51 4h0m-45 2h0m10 4h0m-14 19h0m25 1h0m-10 9h0m4 3h0m6 2h0m21 1h0m-19 1h0m4 8h0m10 2h0m-26 4h0m-16 1h0m38 1h0m13 0h0m-50 4h0m-5 2h0m16 2h0m-16 8h0m18 2h0m-15 3h0m2 1h0m13 1h0m0 1h0m-18 2h0m45 6h0m-18 1h0m-8 5h0m-8 4h0m22 8h0m-31 1h0m2 1h0m47 1h0m-20 1h0m-20 4h0m-10 3h0m54 2h0m-13 2h0m14 1h0m-41 1h0m-11 3h0m0 1h0m47 0h0m-39 0h0m2 3h0m40 2h0m-56 3h0m19 1h0m26 1h0m-21 0h0m-23 3h0m27 3h0m-5 3h0m-17 1h0m-6 0h0m58 2h0m-17 3h0m-4 3h0m9 1h0m6 1h0m-43 6h0m26 2h0m-32 5h0m44 1h0m-22 3h0m4 9h0m13 2h0m16 1h0m-9 1h0m-18 3h0m-16 9h0m25 1h0m14 8h0m-7 0h0m-46 1h0m17 1h0m-18 1h0m24 1h0m23 1h0m-14 0h0m-33 2h0m47 6h0m-17 2h0m-13 4h0m-14 0h0m44 1h0m-39 2h0m2 0h0m4 2h0m10 2h0m0 2h0m31 4h0m-50 1h0m16 1h0m-17 1h0m6 1h0m-3 0h0m12 0h0m29 2h0m3 7h0m-47 1h0m3 1h0m12 4h0m-9 0h0m37 3h0m-40 2h0m50 1h0m-52 6h0m34 0h0m-2 3h0m7 3h0m-33 3h0m39 3h0m-4 0h0m-7 2h0m-21 4h0m-8 1h0m43 6h0m-38 0h0m-4 2h0m11 3h0m15 2h0m-35 3h0m34 0h0m20 5h0m-36 1h0m-7 1h0m35 0h0m-46 5h0m5 1h0m10 2h0m5 0h0m-19 3h0m42 1h0m-41 1h0m17 3h0m32 0h0m4 1h0m-29 4h0m-7 0h0m12 1h0m-23 7h0m4 3h0m-5 0h0m13 3h0m9 3h0m7 7h0m-5 0h0m-30 4h0m24 3h0m-4 0h0m33 1h0m-25 0h0m12 3h0m13 4h0m-21 3h0m11 9h0m6 2h0m-11 3h0m-13 0h0m-17 1h0m-1 2h0m35 10h0m-36 1h0m18 3h0m9 0h0m14 4h0m0 0h0m-45 2h0m18 2h0m16 0h0m-37 1h0m34 0h0m6 4h0m12 1h0m-44 0h0m11 2h0m14 3h0m-5 2h0m-6 1h0m21 2h0m10 0h0m-23 1h0m-10 1h0m-21 1h0m20 1h0m-14 6h0m1 0h0m31 2h0m15 5h0m-18 4h0m7 7h0m8 1h0m6 1h0m-52 2h0m24 1h0m-16 3h0m-6 1h0m28 1h0m6 0h0m-20 0h0m-16 2h0m-2 0h0m41 2h0m-31 0h0m8 2h0m27 0h0m-24 6h0m-9 2h0m18 0h0m-8 0h0m14 0h0m-37 0h0m19 4h0m32 2h0m-44 5h0m10 0h0m18 2h0m-7 2h0m7 0h0m10 2h0m-23 3h0m14 4h0m11 0h0m-26 7h0m1 2h0m13 1h0m19 1h0m-10 1h0m-14 1h0m-8 3h0m31 0h0m-1 3h0m-52 1h0m11 0h0m33 5h0m-18 0h0m7 1h0m-10 3h0m-13 3h0m-6 0h0m1 0h0m14 3h0m-22 1h0m8 0h0m4 3h0m9 0h0m8 6h0m-24 1h0m32 1h0m-30 5h0m37 4h0m-37 1h0m7 3h0m-10 1h0m32 2h0m-1 1h0m-21 1h0m30 1h0m-3 0h0m-22 3h0m25 4h0m-16 1h0m18 0h0m3 2h0m-14 1h0m-11 2h0m16 0h0m2 7h0m3 0h0m-7 2h0m-36 1h0m31 1h0m-29 0h0m-4 4h0m6 3h0m22 1h0m8 2h0m4 3h0m-18 4h0m-16 2h0m23 0h0m-25 1h0m21 4h0m-18 2h0m5 1h0m-5 165h0m7 2h0m-7 0h0m8 3h0m-7 0h0m-1 1h0m7 5h0m-9 2h0m14 3h0m9 3h0m-25 7h0m5 1h0m-7 3h0m13 0h0m-3 1h0m-5 75h0m-1 10h0m16 1h0m0 2h0m-11 5h0m9 3h0m37 2h0m3 3h0m-56 0h0m52 1h0m-2 2h0m-33 0h0m13 1h0m-22 1h0m-7 0h0m2 1h0m-3 2h0m2 0h0m46 5h0m-22 1h0m27 1h0m-38 3h0m41 0h0m-35 2h0m-19 0h0m22 1h0m24 1h0m-35 1h0m38 3h0m-37 0h0m-16 0h0m12 4h0m2 2h0m39 2h0m-33 0h0m-13 2h0m6 2h0m38 14h0m-3 4h0m-7 1h0m0 1h0m15 5h0m-21 1h0m-19 0h0m24 4h0m-21 6h0m20 2h0m10 1h0m-12 1h0m-15 0h0m-12 2h0m-11 5h0m29 2h0m22 1h0m-41 2h0m48 5h0m-49 1h0m14 1h0m-9 3h0m15 4h0m21 1h0m-35 2h0m-1 2h0m-5 3h0m27 15h0m-31 2h0m13 6h0m13 6h0m-1 3h0m10 1h0m5 3h0m9 1h0m-26 0h0m25 3h0m-31 0h0m25 2h0m-25 2h0m-16 1h0m37 6h0m-22 1h0m14 11h0m6 15h0m-2 2h0m-37 3h0m6 3h0m36 3h0m12 13h0m-11 4h0m-28 11h0m-15 1h0m48 4h0m-44 6h0m13 32h0m-10 3h0m43 12h0m-45 3h0m18 2h0m-8 17h0m32 18h0m-6 30h0m14 9h0m-41 5h0m3 33h0m12 29h0m-31 174h0m74-1836h0m26 145h0m-40 5h0m7 16h0m11 32h0m-13 15h0m48 37h0m-51 4h0m48 6h0m-3 24h0m-39 17h0m6 6h0m27 26h0m-16 10h0m33 11h0m-38 2h0m18 15h0m-37 6h0m44 3h0m-9 0h0m-14 2h0m-21 5h0m5 3h0m53 5h0m-45 4h0m7 1h0m23 0h0m-40 9h0m-4 3h0m14 3h0m31 3h0m-13 3h0m15 0h0m-44 2h0m3 2h0m23 2h0m-19 7h0m-9 3h0m0 2h0m52 0h0m-21 5h0m22 4h0m-27 6h0m31 2h0m-46 3h0m24 2h0m-31 4h0m25 3h0m18 0h0m-48 4h0m35 3h0m1 3h0m-16 3h0m26 2h0m-26 0h0m39 2h0m-7 2h0m-19 9h0m14 5h0m-1 0h0m-13 2h0m20 0h0m-22 1h0m-20 4h0m3 6h0m2 1h0m-13 6h0m24 1h0m-15 4h0m-10 12h0m52 5h0m-47 10h0m39 8h0m9 2h0m-16 3h0m-16 7h0m-21 5h0m31 12h0m-6 2h0m-4 1h0m33 1h0m-10 0h0m-16 5h0m-26 0h0m14 10h0m11 3h0m-14 2h0m22 8h0m-32 5h0m14 1h0m-7 2h0m40 1h0m-8 8h0m-37 0h0m-5 1h0m25 3h0m-14 1h0m-4 15h0m27 0h0m2 0h0m3 3h0m-30 6h0m-1 1h0m-9 1h0m5 6h0m48 7h0m-49 1h0m-1 1h0m48 1h0m-38 0h0m36 2h0m-11 0h0m-35 2h0m55 0h0m-42 0h0m-6 3h0m46 2h0m-42 0h0m18 4h0m-5 2h0m13 2h0m3 0h0m-6 0h0m-16 4h0m-14 7h0m25 0h0m9 0h0m-14 10h0m14 0h0m-42 4h0m29 2h0m-16 4h0m1 2h0m16 5h0m-7 2h0m-21 1h0m42 5h0m-36 4h0m49 4h0m-13 3h0m5 1h0m-10 1h0m19 0h0m-10 3h0m-32 1h0m33 3h0m-32 7h0m35 2h0m-12 1h0m9 1h0m10 1h0m-49 1h0m21 2h0m-8 4h0m-16 5h0m50 1h0m2 0h0m-2 2h0m-9 1h0m7 2h0m-11 2h0m-42 3h0m24 0h0m-21 1h0m34 5h0m4 2h0m-15 3h0m24 1h0m-30 4h0m37 1h0m-53 8h0m29 5h0m-6 2h0m13 2h0m-23 2h0m35 4h0m-43 3h0m24 1h0m-31 3h0m11 1h0m40 1h0m-12 2h0m-37 2h0m5 4h0m38 4h0m-23 0h0m-18 3h0m18 2h0m31 2h0m2 5h0m-14 1h0m8 2h0m-31 2h0m37 43h0m-1 8h0m-3 17h0m4 11h0m-21 174h0m0 3h0m3 3h0m-14 1h0m-1 0h0m28 1h0m1 5h0m-9 0h0m13 1h0m-13 0h0m-5 1h0m-23 1h0m15 0h0m-9 4h0m2 0h0m7 3h0m7 2h0m-9 1h0m-13 1h0m18 0h0m5 3h0m-8 11h0m17 4h0m6 1h0m-4 2h0m-9 8h0m6 2h0m0 6h0m-7 3h0m-4 1h0m-7 9h0m2 0h0m26 0h0m-26 2h0m-26 1h0m10 0h0m25 0h0m-2 0h0m-32 2h0m4 2h0m0 1h0m-3 1h0m17 2h0m-15 1h0m18 1h0m2 0h0m-5 1h0m11 5h0m-18 1h0m-1 3h0m-5 1h0m-7 2h0m30 0h0m-18 2h0m34 0h0m5 3h0m-39 2h0m2 5h0m-16 2h0m31 2h0m-27 8h0m-7 2h0m11 0h0m-1 1h0m8 0h0m18 3h0m-29 1h0m33 1h0m11 1h0m-18 2h0m10 1h0m-28 1h0m18 9h0m20 1h0m-21 7h0m-20 4h0m28 6h0m5 0h0m-38 4h0m33 5h0m11 5h0m-23 1h0m9 3h0m-8 2h0m-25 2h0m53 0h0m-30 0h0m-1 9h0m17 1h0m-17 0h0m9 1h0m17 1h0m-32 1h0m13 1h0m-16 1h0m31 6h0m-26 4h0m-11 2h0m24 8h0m-28 1h0m51 3h0m-4 0h0m-4 0h0m-35 2h0m35 1h0m-7 3h0m-28 5h0m14 2h0m15 3h0m-27 1h0m41 0h0m-30 7h0m12 5h0m-15 6h0m8 4h0m-10 3h0m-10 10h0m-1 2h0m9 2h0m10 10h0m23 25h0m-8 13h0m-46 53h0m35 11h0m-17 11h0m8 62h0m0 24h0m-5 221h0m80-1734h0m0 24h0m-41 42h0m8 32h0m3 7h0m38 20h0m-30 43h0m-19 11h0m23 24h0m-2 24h0m-18 1h0m1 16h0m33 6h0m-35 3h0m14 21h0m31 28h0m-20 11h0m-27 2h0m9 5h0m41 6h0m-40 7h0m11 5h0m17 4h0m13 8h0m-25 10h0m24 2h0m-35 6h0m-13 3h0m36 6h0m-13 3h0m-7 5h0m-13 4h0m22 6h0m-21 7h0m52 7h0m-36 12h0m12 0h0m-34 1h0m38 0h0m11 2h0m-28 4h0m28 18h0m-7 2h0m2 1h0m-35 6h0m4 6h0m16 4h0m2 6h0m-3 11h0m0 9h0m-19 12h0m34 4h0m-2 4h0m-12 0h0m24 8h0m4 3h0m-39 18h0m-11 5h0m4 3h0m4 5h0m27 6h0m-35 5h0m9 2h0m38 1h0m2 0h0m0 0h0m-42 0h0m34 3h0m-18 0h0m6 2h0m-6 2h0m-31 1h0m56 0h0m-9 1h0m-19 9h0m-26 1h0m44 0h0m-29 1h0m-14 2h0m18 1h0m37 0h0m-58 0h0m41 3h0m-4 3h0m2 3h0m-1 5h0m-21 4h0m33 2h0m-46 1h0m16 1h0m4 2h0m-20 1h0m5 1h0m24 6h0m-16 3h0m-2 1h0m29 6h0m-40 1h0m1 4h0m51 6h0m-53 9h0m16 6h0m-10 4h0m10 8h0m10 10h0m-29 0h0m40 0h0m-35 2h0m35 1h0m2 1h0m12 3h0m-22 13h0m-25 4h0m50 4h0m-15 2h0m6 1h0m-38 1h0m-10 1h0m36 0h0m3 2h0m5 0h0m10 0h0m-39 1h0m31 1h0m-17 2h0m-18 1h0m7 4h0m9 3h0m-11 1h0m34 1h0m-23 0h0m25 3h0m-39 1h0m2 4h0m16 0h0m13 3h0m-8 3h0m0 1h0m-5 1h0m-14 1h0m39 1h0m2 1h0m-37 2h0m-15 1h0m52 0h0m-21 3h0m-34 0h0m55 1h0m-55 2h0m32 0h0m21 5h0m-4 17h0m4 8h0m-13 1h0m-1 3h0m0 2h0m-4 0h0m15 1h0m-43 4h0m34 0h0m10 4h0m-34 2h0m-18 1h0m45 3h0m-8 1h0m20 0h0m-11 2h0m-32 1h0m2 5h0m17 0h0m-4 0h0m21 1h0m-29 2h0m-20 1h0m45 4h0m2 5h0m-7 2h0m12 1h0m-39 1h0m1 2h0m38 1h0m-16 0h0m-10 1h0m0 0h0m-10 0h0m35 1h0m-25 0h0m16 2h0m-29 1h0m43 0h0m-13 1h0m-46 4h0m31 1h0m2 0h0m23 1h0m-30 1h0m-5 1h0m-8 1h0m-11 1h0m27 1h0m-5 0h0m12 1h0m14 3h0m-36 1h0m13 3h0m-14 2h0m46 1h0m-38 1h0m0 1h0m5 0h0m-1 0h0m-4 1h0m29 0h0m-3 2h0m2 1h0m-1 0h0m-1 13h0m3 2h0m4 1h0m-7 3h0m4 14h0m-5 22h0m-6 1h0m13 4h0m-9 13h0m-17 6h0m14 0h0m-20 7h0m26 1h0m-7 1h0m-18 1h0m28 1h0m-1 0h0m-12 6h0m6 6h0m3 5h0m-2 5h0m-8 2h0m21 1h0m-18 0h0m1 1h0m10 1h0m-13 5h0m-15 1h0m36 1h0m-21 0h0m-2 3h0m-14 4h0m-1 1h0m19 1h0m18 1h0m0 6h0m-28 2h0m-1 1h0m-5 1h0m1 3h0m-13 1h0m27 0h0m-14 1h0m33 4h0m-22 4h0m1 2h0m23 3h0m-17 0h0m-12 1h0m28 0h0m-51 1h0m1 3h0m7 0h0m-11 3h0m20 0h0m-4 1h0m30 2h0m-30 1h0m12 1h0m-15 1h0m41 1h0m-57 1h0m53 2h0m4 2h0m-43 0h0m34 1h0m-46 1h0m-3 1h0m52 2h0m-18 1h0m-18 1h0m37 3h0m1 2h0m-12 2h0m-24 1h0m-8 1h0m-5 0h0m10 2h0m34 1h0m9 1h0m-10 2h0m-19 1h0m23 2h0m-29 2h0m-20 2h0m19 1h0m30 1h0m-27 0h0m-20 7h0m29 0h0m0 2h0m7 2h0m-18 8h0m-5 2h0m23 3h0m-4 0h0m-11 4h0m18 5h0m12 0h0m-47 4h0m12 1h0m32 0h0m-13 1h0m0 1h0m-40 1h0m3 0h0m8 5h0m12 1h0m0 1h0m35 1h0m-16 1h0m14 1h0m-41 0h0m0 5h0m13 5h0m-23 1h0m27 1h0m-24 1h0m8 0h0m40 0h0m-40 4h0m-12 3h0m0 4h0m19 2h0m13 0h0m-29 5h0m39 2h0m13 9h0m-53 4h0m39 7h0m-36 5h0m-4 0h0m23 4h0m30 5h0m-40 1h0m16 0h0m21 3h0m-54 4h0m31 4h0m-15 1h0m9 0h0m-17 1h0m-4 3h0m43 4h0m6 11h0m1 0h0m-40 4h0m11 0h0m-22 8h0m14 5h0m-18 15h0m49 29h0m10 10h0m-13 3h0m-20 8h0m8 15h0m-19 7h0m33 0h0m-9 22h0m12 6h0m-5 3h0m-27 4h0m37 14h0m-45 2h0m-7 11h0m46 3h0m2 9h0m-25 3h0m-2 76h0m4 13h0m-15 37h0m54-1570h0m30 42h0m-25 98h0m35 91h0m-48 16h0m16 17h0m-12 28h0m2 5h0m46 10h0m-42 17h0m37 38h0m-12 2h0m13 1h0m-16 3h0m-22 7h0m-3 36h0m15 1h0m-20 26h0m47 23h0m-21 6h0m3 28h0m-7 9h0m-11 3h0m9 13h0m28 7h0m-1 7h0m-43 6h0m4 6h0m44 10h0m-34 1h0m38 9h0m-22 3h0m-33 5h0m34 0h0m-3 2h0m14 10h0m-19 1h0m7 10h0m-6 0h0m-5 12h0m20 2h0m-9 8h0m-36 0h0m1 12h0m10 0h0m-5 1h0m9 4h0m27 1h0m9 3h0m-8 3h0m14 2h0m-38 2h0m9 8h0m-27 0h0m30 1h0m-10 2h0m1 1h0m-10 1h0m22 1h0m-11 0h0m-20 2h0m52 0h0m-41 6h0m5 5h0m17 5h0m23 1h0m-46 2h0m9 3h0m34 2h0m-41 2h0m34 2h0m-6 3h0m1 2h0m-6 1h0m-27 1h0m47 3h0m-16 1h0m-38 1h0m52 1h0m-52 7h0m-3 0h0m28 3h0m9 4h0m-7 1h0m-12 2h0m16 2h0m-24 1h0m5 7h0m-5 2h0m13 0h0m-3 3h0m-11 2h0m-1 7h0m-7 1h0m33 0h0m8 1h0m-9 1h0m18 3h0m5 2h0m-50 2h0m45 4h0m-1 4h0m-47 0h0m25 1h0m21 1h0m-27 2h0m23 9h0m-41 3h0m26 1h0m-25 4h0m13 1h0m-17 3h0m54 0h0m-54 4h0m42 0h0m7 1h0m-47 0h0m24 2h0m-21 0h0m0 2h0m1 2h0m50 1h0m-16 1h0m-28 2h0m45 4h0m-27 5h0m-9 0h0m-12 1h0m-5 1h0m24 1h0m-5 1h0m25 1h0m-49 4h0m21 4h0m-22 4h0m57 2h0m-57 1h0m42 2h0m-22 0h0m25 4h0m14 0h0m-3 3h0m-54 4h0m41 1h0m5 3h0m-10 1h0m3 0h0m-11 4h0m-6 0h0m-21 0h0m26 1h0m-2 1h0m28 1h0m-30 0h0m-4 1h0m-8 2h0m-1 0h0m-11 1h0m51 3h0m-1 0h0m-46 2h0m39 0h0m-24 1h0m20 1h0m-40 5h0m21 1h0m-12 0h0m11 1h0m-3 2h0m-11 1h0m33 2h0m-10 1h0m15 1h0m-12 1h0m18 4h0m-46 1h0m50 0h0m-39 4h0m43 0h0m-6 2h0m6 2h0m-25 2h0m15 1h0m-23 2h0m34 2h0m-4 4h0m-25 5h0m-14 0h0m-14 3h0m44 3h0m-10 0h0m21 4h0m-56 0h0m50 3h0m-20 1h0m-30 2h0m49 1h0m-36 2h0m25 3h0m-34 0h0m52 2h0m-23 2h0m-26 2h0m-8 1h0m28 2h0m-15 2h0m41 2h0m5 3h0m-20 4h0m2 0h0m10 2h0m-30 1h0m4 2h0m6 2h0m21 2h0m-8 1h0m14 2h0m-27 1h0m-31 0h0m0 7h0m12 0h0m22 1h0m-5 0h0m-24 2h0m53 1h0m-56 0h0m8 1h0m19 4h0m-9 0h0m6 1h0m-7 2h0m37 6h0m-47 5h0m20 1h0m-3 3h0m-9 1h0m38 2h0m1 4h0m-35 2h0m-15 2h0m53 1h0m-54 8h0m3 2h0m-4 0h0m1 1h0m43 1h0m2 0h0m1 5h0m-4 1h0m-21 6h0m-4 1h0m23 3h0m-22 3h0m-14 2h0m41 3h0m-13 7h0m-19 0h0m-12 2h0m0 0h0m2 1h0m13 3h0m38 0h0m-31 1h0m19 0h0m-39 1h0m2 1h0m39 1h0m-21 0h0m-25 1h0m5 1h0m6 1h0m27 5h0m15 3h0m-32 11h0m-5 0h0m2 2h0m-11 2h0m19 3h0m0 0h0m25 1h0m-24 0h0m-4 2h0m-23 2h0m36 1h0m2 1h0m-16 7h0m0 0h0m22 1h0m-3 2h0m14 7h0m-50 3h0m3 0h0m-5 1h0m-6 1h0m1 1h0m16 2h0m19 0h0m-17 3h0m17 3h0m-24 2h0m-3 0h0m9 5h0m14 3h0m7 2h0m-34 4h0m7 1h0m1 3h0m2 0h0m24 1h0m18 2h0m-9 2h0m-21 1h0m-18 0h0m38 0h0m-27 2h0m9 0h0m30 1h0m-55 1h0m2 1h0m10 0h0m2 0h0m0 1h0m-4 0h0m10 2h0m32 1h0m-32 2h0m-21 1h0m56 9h0m-32 0h0m-25 3h0m37 1h0m20 7h0m-15 3h0m-30 6h0m32 10h0m-42 6h0m5 2h0m-1 1h0m38 2h0m-18 1h0m-5 3h0m27 5h0m-34 2h0m16 2h0m4 4h0m-2 6h0m18 2h0m-42 2h0m14 2h0m21 1h0m4 6h0m-36 1h0m16 21h0m13 7h0m-2 3h0m0 8h0m-35 14h0m31 0h0m-20 16h0m39 4h0m-39 1h0m-10 2h0m50 15h0m-39 23h0m-13 2h0m16 5h0m37 0h0m-57 3h0m20 3h0m-5 19h0m1 23h0m42 94h0m-37 33h0m21 121h0m-41 19h0m13 46h0m75-1650h0m-29 67h0m52 15h0m-37 57h0m1 53h0m-15 29h0m11 13h0m0 5h0m42 49h0m-9 2h0m-36 16h0m34 0h0m-39 4h0m9 17h0m4 19h0m21 17h0m9 10h0m-1 1h0m-38 6h0m42 22h0m-29 2h0m37 8h0m-19 1h0m-17 18h0m-21 2h0m3 14h0m34 1h0m-19 0h0m-1 1h0m6 7h0m-9 18h0m16 20h0m-31 36h0m22 14h0m33 6h0m-36 4h0m29 1h0m-16 6h0m-15 3h0m-8 0h0m-1 1h0m35 6h0m14 5h0m-15 4h0m17 2h0m-59 3h0m31 2h0m-29 1h0m27 1h0m-16 3h0m35 4h0m-15 5h0m-32 5h0m55 2h0m-33 5h0m20 1h0m-8 4h0m16 1h0m-6 1h0m-22 2h0m19 0h0m-21 3h0m5 1h0m-15 2h0m-5 6h0m45 1h0m-2 6h0m-14 1h0m19 1h0m-45 6h0m27 1h0m-4 10h0m-2 1h0m5 1h0m18 3h0m-32 4h0m21 5h0m-12 4h0m7 5h0m-19 3h0m19 0h0m5 5h0m-25 0h0m26 1h0m12 1h0m-40 0h0m-7 4h0m31 5h0m-21 1h0m10 0h0m15 1h0m-21 0h0m13 0h0m-31 1h0m23 0h0m24 7h0m-6 1h0m-12 3h0m25 4h0m-25 1h0m-8 4h0m-9 1h0m5 7h0m22 4h0m11 2h0m-39 1h0m2 4h0m11 1h0m-5 1h0m34 0h0m-3 3h0m-20 1h0m1 1h0m-13 1h0m-15 0h0m41 1h0m-46 1h0m36 2h0m-28 2h0m26 6h0m6 1h0m12 1h0m-39 5h0m-4 4h0m40 0h0m-32 2h0m-19 0h0m10 0h0m41 1h0m-21 0h0m21 1h0m-6 0h0m10 1h0m-4 1h0m7 0h0m-40 2h0m-5 1h0m-1 3h0m40 0h0m-28 1h0m12 1h0m-26 0h0m8 1h0m-14 2h0m27 1h0m-14 6h0m-17 5h0m47 1h0m-43 0h0m34 4h0m-26 9h0m-1 0h0m19 4h0m-30 2h0m7 1h0m1 1h0m11 8h0m13 2h0m-17 3h0m-3 2h0m0 2h0m19 0h0m-27 1h0m8 1h0m28 6h0m7 0h0m-17 0h0m-9 3h0m19 2h0m8 2h0m-29 1h0m-11 1h0m40 0h0m-19 3h0m8 0h0m2 2h0m-25 2h0m14 1h0m-21 1h0m-2 0h0m18 1h0m19 3h0m-31 3h0m8 0h0m6 1h0m5 1h0m-17 2h0m27 1h0m-10 1h0m-3 2h0m-5 0h0m34 1h0m-10 5h0m13 1h0m-3 1h0m-50 0h0m14 1h0m29 1h0m-49 4h0m6 2h0m44 0h0m-7 1h0m-22 1h0m20 7h0m-29 1h0m32 0h0m-26 2h0m39 0h0m-44 2h0m0 1h0m-12 0h0m14 1h0m-4 0h0m5 1h0m-9 2h0m9 1h0m39 1h0m-45 0h0m8 9h0m19 4h0m-23 4h0m2 5h0m37 7h0m-42 4h0m-1 2h0m38 21h0m-15 1h0m-15 0h0m-2 0h0m-15 0h0m29 2h0m-15 1h0m-5 4h0m-6 2h0m-3 0h0m27 1h0m-15 3h0m29 1h0m-12 0h0m-4 4h0m10 1h0m-36 2h0m20 4h0m-14 0h0m22 3h0m25 9h0m-34 1h0m-2 2h0m4 1h0m1 4h0m-3 2h0m13 2h0m-20 1h0m-5 2h0m10 3h0m24 0h0m-29 3h0m-2 1h0m6 4h0m3 11h0m-5 0h0m9 1h0m10 1h0m-32 11h0m1 4h0m47 4h0m-38 1h0m40 9h0m-31 1h0m-1 1h0m7 2h0m0 3h0m21 2h0m-15 2h0m-6 4h0m-2 2h0m20 6h0m-35 4h0m47 1h0m-29 14h0m-27 4h0m0 11h0m0 6h0m10 5h0m-5 8h0m11 4h0m21 11h0m-28 3h0m-8 23h0m21 12h0m-7 24h0m39 18h0m-41 1h0m44 28h0m-27 51h0m-6 16h0m33 48h0m-49 35h0m26 140h0m-9 23h0m-25 121h0m70-1537h0m0 15h0m-1 85h0m-5 13h0m9 9h0m35 45h0m-14 6h0m25 4h0m-14 16h0m-15 2h0m-29 10h0m54 42h0m-42 11h0m43 0h0m3 20h0m-5 1h0m-25 5h0m-10 10h0m-4 2h0m3 9h0m16 3h0m21 14h0m-39 14h0m43 10h0m-52 14h0m18 7h0m-10 4h0m1 9h0m42 15h0m-55 4h0m22 3h0m27 0h0m-32 0h0m-15 3h0m40 11h0m-13 1h0m5 1h0m-36 4h0m4 4h0m28 4h0m-15 2h0m-6 3h0m36 14h0m-48 1h0m55 0h0m-13 0h0m-13 3h0m-3 2h0m31 0h0m-52 4h0m38 1h0m-40 2h0m10 1h0m22 0h0m-7 2h0m29 6h0m-32 0h0m27 2h0m-8 0h0m-4 2h0m-20 1h0m-13 4h0m45 0h0m-52 3h0m46 0h0m-19 1h0m14 0h0m-13 2h0m20 4h0m-32 6h0m26 1h0m-20 6h0m16 0h0m7 3h0m10 4h0m-41 8h0m43 7h0m-27 12h0m28 0h0m-45 0h0m31 7h0m-22 3h0m23 0h0m-40 2h0m-1 0h0m36 1h0m-31 0h0m44 1h0m-49 2h0m10 1h0m-12 1h0m3 2h0m-5 5h0m49 3h0m-49 0h0m32 1h0m-21 3h0m30 2h0m-24 1h0m31 0h0m-21 4h0m0 1h0m-23 3h0m15 0h0m39 4h0m-20 1h0m2 5h0m18 1h0m-56 1h0m21 4h0m-6 2h0m39 0h0m-22 1h0m8 1h0m12 5h0m-50 1h0m4 1h0m18 0h0m31 0h0m-8 0h0m-15 10h0m3 1h0m-4 0h0m-22 1h0m25 3h0m10 1h0m13 1h0m-14 1h0m11 2h0m-9 1h0m-28 1h0m30 3h0m-22 3h0m-12 2h0m44 2h0m-15 2h0m1 3h0m1 3h0m-35 0h0m16 4h0m24 1h0m-46 3h0m20 1h0m6 4h0m-26 4h0m29 1h0m21 5h0m-25 1h0m-26 1h0m45 8h0m-42 3h0m36 2h0m7 11h0m-35 2h0m14 0h0m-1 4h0m-23 2h0m6 7h0m27 12h0m-36 1h0m12 0h0m4 8h0m7 3h0m16 1h0m-5 5h0m-28 4h0m3 2h0m13 1h0m-6 3h0m41 3h0m-23 10h0m23 3h0m-47 1h0m26 1h0m-9 2h0m11 2h0m-4 10h0m-26 18h0m40 3h0m-11 1h0m1 3h0m-2 17h0m-4 1h0m-26 3h0m25 0h0m14 8h0m-39 2h0m15 4h0m12 3h0m-18 1h0m18 2h0m1 3h0m5 5h0m-9 0h0m23 4h0m-48 2h0m30 3h0m20 3h0m-13 4h0m-17 3h0m-15 1h0m-11 2h0m3 1h0m42 1h0m-40 15h0m44 2h0m-50 4h0m57 2h0m-31 3h0m27 1h0m3 2h0m-45 0h0m3 11h0m30 13h0m-10 4h0m10 4h0m-15 33h0m-9 5h0m17 19h0m-29 6h0m-8 9h0m33 1h0m16 60h0m8 16h0m-52 6h0m-4 149h0m9 39h0m30 124h0m36-1513h0m31 82h0m-41 111h0m37 14h0m15 10h0m-16 26h0m-16 7h0m-9 1h0m39 9h0m-48 2h0m-3 8h0m13 14h0m29 13h0m-12 2h0m-8 12h0m9 0h0m-36 11h0m31 6h0m-26 9h0m-4 5h0m7 1h0m34 5h0m-25 9h0m9 18h0m33 11h0m-13 21h0m-42 0h0m7 18h0m20 0h0m20 1h0m-4 1h0m-30 10h0m30 2h0m-31 12h0m40 0h0m-32 9h0m26 2h0m9 4h0m-48 1h0m29 19h0m-36 1h0m41 5h0m-22 0h0m1 2h0m25 0h0m7 2h0m-12 7h0m-17 0h0m6 5h0m-28 4h0m34 1h0m-26 1h0m-4 2h0m0 20h0m1 1h0m26 1h0m-14 0h0m25 16h0m-36 4h0m4 8h0m3 6h0m18 2h0m-6 6h0m-15 1h0m31 1h0m-37 1h0m-5 3h0m-3 1h0m49 5h0m3 0h0m-40 1h0m35 0h0m-21 2h0m22 8h0m-25 4h0m32 0h0m-20 10h0m8 6h0m-44 8h0m12 0h0m42 1h0m-18 2h0m-13 1h0m-19 1h0m52 3h0m-30 5h0m15 0h0m2 1h0m-6 2h0m-29 1h0m8 3h0m-9 3h0m17 1h0m29 1h0m-40 2h0m-5 0h0m0 1h0m24 7h0m17 3h0m-17 2h0m9 4h0m-5 2h0m-29 2h0m37 0h0m-42 1h0m-2 0h0m26 4h0m-17 8h0m-9 3h0m57 0h0m-23 1h0m2 0h0m-5 3h0m3 1h0m23 8h0m-31 3h0m-22 5h0m8 1h0m2 7h0m36 1h0m-19 7h0m20 3h0m-29 1h0m1 9h0m-23 4h0m29 5h0m-23 4h0m36 4h0m-42 6h0m0 1h0m5 1h0m38 1h0m-32 1h0m-3 2h0m47 1h0m-4 2h0m-17 3h0m-17 0h0m-12 10h0m37 4h0m-15 1h0m4 2h0m26 2h0m-10 3h0m-47 3h0m45 2h0m-39 0h0m8 2h0m-4 0h0m2 1h0m22 1h0m-33 3h0m50 4h0m-25 7h0m23 2h0m-34 1h0m14 4h0m-26 5h0m20 1h0m17 0h0m-20 1h0m-9 4h0m41 0h0m-45 4h0m29 1h0m-17 4h0m-6 1h0m-4 7h0m24 0h0m-31 1h0m24 7h0m-10 2h0m-8 9h0m21 4h0m-12 1h0m-17 2h0m27 10h0m31 1h0m-26 1h0m8 5h0m-39 4h0m5 11h0m42 6h0m-15 1h0m-25 11h0m35 6h0m-23 8h0m35 4h0m0 1h0m-11 6h0m-39 13h0m13 1h0m16 1h0m-4 4h0m11 2h0m-19 3h0m-18 5h0m49 10h0m-17 9h0m-1 11h0m-14 6h0m-18 2h0m53 4h0m-10 25h0m-30 15h0m9 15h0m3 5h0m-11 15h0m12 4h0m-6 25h0m-1 8h0m28 93h0m-41 3h0m11 58h0m81-1709h0m-20 356h0m-21 114h0m45 62h0m-20 17h0m-16 16h0m4 3h0m-12 35h0m20 15h0m16 58h0m20 32h0m-47 24h0m-1 29h0m26 8h0m0 5h0m-26 7h0m21 6h0m24 12h0m-32 2h0m-19 2h0m2 19h0m9 2h0m13 3h0m23 1h0m-40 5h0m0 2h0m6 6h0m33 7h0m-49 6h0m56 4h0m-6 4h0m-30 25h0m28 1h0m-18 2h0m-24 4h0m31 7h0m-26 7h0m17 1h0m-5 4h0m-13 25h0m41 16h0m-17 8h0m-21 7h0m41 8h0m-2 3h0m2 10h0m-39 5h0m6 1h0m11 4h0m10 0h0m-39 5h0m2 0h0m13 0h0m20 13h0m-36 0h0m33 3h0m-12 1h0m19 7h0m-24 1h0m32 2h0m-36 1h0m3 1h0m15 1h0m20 3h0m-14 2h0m1 3h0m15 6h0m-49 1h0m14 5h0m-18 2h0m3 2h0m40 5h0m-10 1h0m-34 1h0m59 0h0m-2 6h0m-13 18h0m-5 0h0m13 6h0m-38 3h0m-8 6h0m8 2h0m11 5h0m-12 1h0m24 13h0m-33 1h0m27 3h0m-28 5h0m12 4h0m33 1h0m-33 10h0m6 1h0m9 3h0m-18 1h0m-9 8h0m56 2h0m-40 2h0m-18 1h0m50 3h0m-33 1h0m-4 5h0m9 10h0m18 9h0m-27 2h0m11 1h0m15 0h0m-30 0h0m24 3h0m3 1h0m-23 6h0m4 8h0m27 6h0m1 7h0m-36 3h0m9 4h0m29 3h0m-44 10h0m11 5h0m2 6h0m-4 3h0m40 22h0m-23 1h0m8 7h0m-34 2h0m5 10h0m43 4h0m-40 0h0m26 11h0m0 41h0m-38 4h0m16 9h0m31 5h0m-8 13h0m-18 50h0m1 8h0m-20 28h0m51 1h0m-16 10h0m-33 6h0m47 23h0m-11 2h0m12 29h0m7 28h0m-16 67h0m-24 174h0m45-1320h0m6 71h0m1 101h0m26 41h0m-10 21h0m-16 3h0m17 10h0m-4 0h0m-14 16h0m-7 25h0m8 10h0m23 2h0m-23 3h0m35 5h0m-6 11h0m-5 11h0m11 4h0m-15 3h0m4 14h0m-33 7h0m34 7h0m9 11h0m-7 5h0m12 11h0m-28 2h0m32 18h0m-15 3h0m-1 4h0m-17 4h0m24 3h0m-25 7h0m4 0h0m10 0h0m8 9h0m-42 7h0m22 7h0m4 1h0m-14 9h0m0 3h0m-5 16h0m30 13h0m10 12h0m-47 5h0m0 5h0m38 1h0m14 26h0m-16 2h0m-25 2h0m39 6h0m-3 7h0m-46 2h0m24 2h0m0 1h0m-13 4h0m22 2h0m-8 1h0m4 14h0m9 3h0m13 7h0m-48 0h0m14 1h0m8 4h0m5 6h0m-28 1h0m48 18h0m-45 7h0m43 1h0m7 2h0m2 14h0m-42 2h0m28 1h0m7 4h0m0 4h0m-2 1h0m4 2h0m-53 7h0m54 11h0m-25 9h0m-23 15h0m39 0h0m-11 1h0m25 4h0m-4 2h0m-32 4h0m-11 9h0m8 2h0m-15 4h0m-3 1h0m15 3h0m28 2h0m8 2h0m-3 7h0m-23 4h0m6 1h0m-6 8h0m-9 3h0m-18 6h0m58 0h0m-51 1h0m29 1h0m-26 23h0m11 2h0m21 12h0m16 3h0m-35 0h0m5 1h0m-8 3h0m31 1h0m-14 9h0m16 10h0m4 21h0m-7 12h0m3 3h0m-22 9h0m-12 19h0m1 7h0m9 7h0m9 3h0m-21 7h0m11 23h0m14 54h0m-33 18h0m-4 62h0m23 11h0m67-948h0m17 91h0m5 2h0m-7 14h0m-23 13h0m-18 8h0m5 55h0m-11 12h0m19 16h0m21 9h0m-18 1h0m4 3h0m19 20h0m-25 2h0m33 21h0m3 14h0m-50 3h0m-8 2h0m21 17h0m-5 6h0m18 16h0m-6 3h0m-26 22h0m20 14h0m-18 1h0m36 8h0m-15 10h0m24 20h0m-6 26h0m-36 19h0m30 2h0m9 3h0m-34 4h0m30 3h0m-38 14h0m14 0h0m17 6h0m10 2h0m-5 3h0m-29 20h0m4 11h0m19 0h0m2 20h0m-21 10h0m15 8h0m7 29h0m0 23h0m-30 3h0m34 4h0m8 13h0m-36 1h0m29 8h0m2 6h0m-11 97h0m-10 21h0m6 15h0m17 7h0m-45 76h0m26 7h0m-21 53h0m2 18h0m32 22h0m40-1062h0m-10 110h0m24 10h0m-20 36h0m25 23h0m-40 80h0m47 54h0m-8 14h0m2 13h0m-24 6h0m42 2h0m-35 8h0m3 7h0m-19 21h0m17 9h0m-17 2h0m20 2h0m-19 7h0m14 1h0m16 9h0m0 11h0m16 1h0m-21 24h0m9 11h0m-14 12h0m-11 10h0m-14 8h0m15 1h0m9 4h0m9 6h0m2 11h0m-15 12h0m-15 13h0m25 6h0m-3 6h0m-20 2h0m7 0h0m-8 3h0m43 5h0m-1 6h0m-3 2h0m-33 7h0m39 2h0m-14 16h0m16 1h0m-19 1h0m-33 4h0m8 8h0m-10 8h0m11 0h0m31 10h0m-16 2h0m-10 3h0m26 2h0m-34 2h0m4 27h0m17 15h0m12 0h0m-36 2h0m8 2h0m-16 17h0m9 50h0m12 16h0m31 4h0m-17 3h0m3 3h0m-23 1h0m34 3h0m-42 2h0m-4 26h0m14 16h0m-15 12h0m47 406h0m31-1511h0m-20 164h0m51 235h0m-9 82h0m-30 4h0m30 12h0m-35 4h0m21 12h0m8 2h0m-4 42h0m-18 34h0m9 36h0m2 22h0m-13 18h0m0 8h0m40 42h0m-29 15h0m24 9h0m-37 4h0m11 7h0m-3 9h0m20 4h0m3 18h0m-11 17h0m-21 61h0m48 17h0m-15 10h0m8 7h0m-31 25h0m7 14h0m-10 13h0m21 0h0m11 6h0m-43 30h0m5 78h0m47 47h0m-8 33h0m-20 12h0m-14 35h0m23 37h0m27-983h0m-2 80h0m9 73h0m31 42h0m-41 51h0m26 49h0m-25 1h0m42 21h0m-22 7h0m23 23h0m-11 5h0m-31 7h0m-4 21h0m33 17h0m-12 5h0m6 7h0m-23 10h0m-3 5h0m38 18h0m0 1h0m-19 9h0m-9 3h0m28 5h0m8 3h0m-12 34h0m18 18h0m-49 17h0m27 15h0m26 4h0m-49 3h0m2 24h0m7 20h0m12 45h0m3 12h0m2 8h0m23 35h0m-55 13h0m51 11h0m-1 42h0m-45 49h0m20 17h0m13 44h0m-26 2h0m53-897h0m17 126h0m-1 102h0m14 82h0m-13 3h0m-3 92h0m12 2h0m8 35h0m-10 49h0m-11 20h0m18 20h0m4 51h0m-33 34h0m14 58h0m-5 102h0m-6 40h0m23 17h0"/>
</g>
<g transform="scale(.1)"><path class="x" d="M5135 1428l42 42m0-42l-42 42M5375 1427l42 42m0-42l-42 42M5395 1336l42 42m0-42l-42 42M5472 1849l42 42m0-42l-42 42M5490 1395l42 42m0-42l-42 42M5514 1848l42 42m0-42l-42 42M5558 1806l42 42m0-42l-42 42M5560 1792l42 42m0-42l-42 42M5587 1700l42 42m0-42l-42 42M5622 1703l42 42m0-42l-42 42M5622 1826l42 42m0-42l-42 42M5662 1894l42 42m0-42l-42 42M5667 1847l42 42m0-42l-42 42M5687 1789l42 42m0-42l-42 42M5700 1729l42 42m0-42l-42 42M5702 1253l42 42m0-42l-42 42M5710 1704l42 42m0-42l-42 42M5712 1869l42 42m0-42l-42 42M5712 1670l42 42m0-42l-42 42M5715 2054l42 42m0-42l-42 42M5717 1793l42 42m0-42l-42 42M5726 1944l42 42m0-42l-42 42M5728 1765l42 42m0-42l-42 42M5734 1935l42 42m0-42l-42 42M5768 1693l42 42m0-42l-42 42M5771 1690l42 42m0-42l-42 42M5775 1664l42 42m0-42l-42 42M5779 1884l42 42m0-42l-42 42M5780 1688l42 42m0-42l-42 42M5780 1453l42 42m0-42l-42 42M5785 1807l42 42m0-42l-42 42M5787 1678l42 42m0-42l-42 42M5789 1822l42 42m0-42l-42 42M5791 1698l42 42m0-42l-42 42M5804 1815l42 42m0-42l-42 42M5806 1907l42 42m0-42l-42 42M5814 1897l42 42m0-42l-42 42M5815 1443l42 42m0-42l-42 42M5816 1832l42 42m0-42l-42 42M5824 1646l42 42m0-42l-42 42M5839 1760l42 42m0-42l-42 42M5845 2020l42 42m0-42l-42 42M5848 1759l42 42m0-42l-42 42M5849 1779l42 42m0-42l-42 42M5856 1738l42 42m0-42l-42 42M5858 1641l42 42m0-42l-42 42M5862 1652l42 42m0-42l-42 42M5871 1641l42 42m0-42l-42 42M5872 1827l42 42m0-42l-42 42M5888 1874l42 42m0-42l-42 42M5895 1950l42 42m0-42l-42 42M5897 1679l42 42m0-42l-42 42M5898 1899l42 42m0-42l-42 42M5899 1938l42 42m0-42l-42 42M5899 1571l42 42m0-42l-42 42M5900 1870l42 42m0-42l-42 42M5900 1765l42 42m0-42l-42 42M5912 1700l42 42m0-42l-42 42M5916 1752l42 42m0-42l-42 42M5919 2040l42 42m0-42l-42 42M5919 1727l42 42m0-42l-42 42M5922 1772l42 42m0-42l-42 42M5929 1664l42 42m0-42l-42 42M5930 1735l42 42m0-42l-42 42M5934 1489l42 42m0-42l-42 42M5934 1697l42 42m0-42l-42 42M5943 1518l42 42m0-42l-42 42M5946 1652l42 42m0-42l-42 42M5952 1645l42 42m0-42l-42 42M5952 1622l42 42m0-42l-42 42M5953 1901l42 42m0-42l-42 42M5956 1795l42 42m0-42l-42 42M5960 1691l42 42m0-42l-42 42M5964 1683l42 42m0-42l-42 42M5965 1804l42 42m0-42l-42 42M5967 1629l42 42m0-42l-42 42M5970 1776l42 42m0-42l-42 42M5973 1701l42 42m0-42l-42 42M5978 1613l42 42m0-42l-42 42M5985 1591l42 42m0-42l-42 42M5989 1698l42 42m0-42l-42 42M5992 1564l42 42m0-42l-42 42M5994 1656l42 42m0-42l-42 42M5994 1862l42 42m0-42l-42 42M5995 1828l42 42m0-42l-42 42M5995 1672l42 42m0-42l-42 42M5995 1757l42 42m0-42l-42 42M5996 1727l42 42m0-42l-42 42M5997 1682l42 42m0-42l-42 42M5997 1759l42 42m0-42l-42 42M5998 1753l42 42m0-42l-42 42M6001 2064l42 42m0-42l-42 42M6003 1510l42 42m0-42l-42 42M6005 1735l42 42m0-42l-42 42M6005 1582l42 42m0-42l-42 42M6006 1693l42 42m0-42l-42 42M6009 1854l42 42m0-42l-42 42M6010 1794l42 42m0-42l-42 42M6012 1613l42 42m0-42l-42 42M6013 1573l42 42m0-42l-42 42M6018 1685l42 42m0-42l-42 42M6019 1545l42 42m0-42l-42 42M6022 1556l42 42m0-42l-42 42M6024 1718l42 42m0-42l-42 42M6025 1606l42 42m0-42l-42 42M6033 1581l42 42m0-42l-42 42M6040 1829l42 42m0-42l-42 42M6044 1659l42 42m0-42l-42 42M6047 1879l42 42m0-42l-42 42M6049 1695l42 42m0-42l-42 42M6050 1803l42 42m0-42l-42 42M6050 1807l42 42m0-42l-42 42M6054 1969l42 42m0-42l-42 42M6054 1757l42 42m0-42l-42 42M6056 1926l42 42m0-42l-42 42M6059 1593l42 42m0-42l-42 42M6061 1593l42 42m0-42l-42 42M6067 1686l42 42m0-42l-42 42M6069 1813l42 42m0-42l-42 42M6069 1517l42 42m0-42l-42 42M6072 1691l42 42m0-42l-42 42M6072 1633l42 42m0-42l-42 42M6074 1776l42 42m0-42l-42 42M6076 1539l42 42m0-42l-42 42M6076 1760l42 42m0-42l-42 42M6076 1708l42 42m0-42l-42 42M6078 1727l42 42m0-42l-42 42M6080 1786l42 42m0-42l-42 42M6080 1541l42 42m0-42l-42 42M6081 1798l42 42m0-42l-42 42M6084 1739l42 42m0-42l-42 42M6084 1537l42 42m0-42l-42 42M6085 1436l42 42m0-42l-42 42M6087 1504l42 42m0-42l-42 42M6087 1429l42 42m0-42l-42 42M6089 1525l42 42m0-42l-42 42M6089 1798l42 42m0-42l-42 42M6091 1560l42 42m0-42l-42 42M6092 1593l42 42m0-42l-42 42M6095 1669l42 42m0-42l-42 42M6097 1759l42 42m0-42l-42 42M6098 1679l42 42m0-42l-42 42M6102 1624l42 42m0-42l-42 42M6103 1520l42 42m0-42l-42 42M6103 1601l42 42m0-42l-42 42M6107 1552l42 42m0-42l-42 42M6107 1719l42 42m0-42l-42 42M6112 1707l42 42m0-42l-42 42M6113 1869l42 42m0-42l-42 42M6115 1423l42 42m0-42l-42 42M6116 1492l42 42m0-42l-42 42M6118 1995l42 42m0-42l-42 42M6119 1638l42 42m0-42l-42 42M6124 1899l42 42m0-42l-42 42M6126 1885l42 42m0-42l-42 42M6126 1638l42 42m0-42l-42 42M6126 1757l42 42m0-42l-42 42M6126 1749l42 42m0-42l-42 42M6128 1630l42 42m0-42l-42 42M6129 1713l42 42m0-42l-42 42M6129 1590l42 42m0-42l-42 42M6130 1505l42 42m0-42l-42 42M6130 1569l42 42m0-42l-42 42M6130 1533l42 42m0-42l-42 42M6133 1306l42 42m0-42l-42 42M6135 1663l42 42m0-42l-42 42M6138 1584l42 42m0-42l-42 42M6138 1677l42 42m0-42l-42 42M6141 1707l42 42m0-42l-42 42M6142 2027l42 42m0-42l-42 42M6143 1393l42 42m0-42l-42 42M6148 1910l42 42m0-42l-42 42M6151 1790l42 42m0-42l-42 42M6154 1721l42 42m0-42l-42 42M6155 1677l42 42m0-42l-42 42M6157 1870l42 42m0-42l-42 42M6157 1860l42 42m0-42l-42 42M6159 1512l42 42m0-42l-42 42M6162 1703l42 42m0-42l-42 42M6163 1814l42 42m0-42l-42 42M6164 1535l42 42m0-42l-42 42M6164 1781l42 42m0-42l-42 42M6173 2015l42 42m0-42l-42 42M6174 1522l42 42m0-42l-42 42M6174 1790l42 42m0-42l-42 42M6176 1679l42 42m0-42l-42 42M6177 1320l42 42m0-42l-42 42M6178 1721l42 42m0-42l-42 42M6179 1653l42 42m0-42l-42 42M6179 1522l42 42m0-42l-42 42M6180 1612l42 42m0-42l-42 42M6182 1654l42 42m0-42l-42 42M6186 1509l42 42m0-42l-42 42M6187 1601l42 42m0-42l-42 42M6188 1828l42 42m0-42l-42 42M6190 1798l42 42m0-42l-42 42M6192 1545l42 42m0-42l-42 42M6193 1673l42 42m0-42l-42 42M6193 1584l42 42m0-42l-42 42M6195 1607l42 42m0-42l-42 42M6195 1594l42 42m0-42l-42 42M6197 1867l42 42m0-42l-42 42M6199 1558l42 42m0-42l-42 42M6199 995l42 42m0-42l-42 42M6199 1798l42 42m0-42l-42 42M6200 1484l42 42m0-42l-42 42M6201 1906l42 42m0-42l-42 42M6202 1845l42 42m0-42l-42 42M6202 1405l42 42m0-42l-42 42M6202 1867l42 42m0-42l-42 42M6205 1285l42 42m0-42l-42 42M6206 1418l42 42m0-42l-42 42M6211 1620l42 42m0-42l-42 42M6212 1941l42 42m0-42l-42 42M6212 1536l42 42m0-42l-42 42M6213 1735l42 42m0-42l-42 42M6214 1704l42 42m0-42l-42 42M6217 1448l42 42m0-42l-42 42M6225 1827l42 42m0-42l-42 42M6226 1581l42 42m0-42l-42 42M6226 1637l42 42m0-42l-42 42M6228 1567l42 42m0-42l-42 42M6233 1907l42 42m0-42l-42 42M6233 1512l42 42m0-42l-42 42M6233 1832l42 42m0-42l-42 42M6238 1600l42 42m0-42l-42 42M6239 1591l42 42m0-42l-42 42M6239 1860l42 42m0-42l-42 42M6241 1602l42 42m0-42l-42 42M6243 1786l42 42m0-42l-42 42M6244 1792l42 42m0-42l-42 42M6245 1647l42 42m0-42l-42 42M6245 1581l42 42m0-42l-42 42M6247 1560l42 42m0-42l-42 42M6247 1840l42 42m0-42l-42 42M6249 1435l42 42m0-42l-42 42M6249 1807l42 42m0-42l-42 42M6250 1748l42 42m0-42l-42 42M6259 1586l42 42m0-42l-42 42M6260 1695l42 42m0-42l-42 42M6260 1320l42 42m0-42l-42 42M6261 1587l42 42m0-42l-42 42M6263 1838l42 42m0-42l-42 42M6263 1329l42 42m0-42l-42 42M6263 2014l42 42m0-42l-42 42M6263 996l42 42m0-42l-42 42M6265 1671l42 42m0-42l-42 42M6266 1662l42 42m0-42l-42 42M6267 1407l42 42m0-42l-42 42M6267 1557l42 42m0-42l-42 42M6269 1589l42 42m0-42l-42 42M6274 1679l42 42m0-42l-42 42M6274 1584l42 42m0-42l-42 42M6276 1635l42 42m0-42l-42 42M6277 1843l42 42m0-42l-42 42M6277 1768l42 42m0-42l-42 42M6277 1635l42 42m0-42l-42 42M6277 1586l42 42m0-42l-42 42M6279 1594l42 42m0-42l-42 42M6279 1729l42 42m0-42l-42 42M6279 1527l42 42m0-42l-42 42M6282 1754l42 42m0-42l-42 42M6284 1624l42 42m0-42l-42 42M6285 1564l42 42m0-42l-42 42M6286 1530l42 42m0-42l-42 42M6287 1878l42 42m0-42l-42 42M6288 1591l42 42m0-42l-42 42M6291 1873l42 42m0-42l-42 42M6291 1807l42 42m0-42l-42 42M6292 1618l42 42m0-42l-42 42M6294 1690l42 42m0-42l-42 42M6294 1412l42 42m0-42l-42 42M6294 1581l42 42m0-42l-42 42M6298 1421l42 42m0-42l-42 42M6299 1490l42 42m0-42l-42 42M6300 1500l42 42m0-42l-42 42M6300 1603l42 42m0-42l-42 42M6305 1747l42 42m0-42l-42 42M6310 1677l42 42m0-42l-42 42M6311 1582l42 42m0-42l-42 42M6311 1631l42 42m0-42l-42 42M6311 1336l42 42m0-42l-42 42M6312 1513l42 42m0-42l-42 42M6314 1535l42 42m0-42l-42 42M6314 1426l42 42m0-42l-42 42M6315 1704l42 42m0-42l-42 42M6316 1614l42 42m0-42l-42 42M6320 1807l42 42m0-42l-42 42M6325 1427l42 42m0-42l-42 42M6326 1646l42 42m0-42l-42 42M6327 1666l42 42m0-42l-42 42M6328 1546l42 42m0-42l-42 42M6333 1793l42 42m0-42l-42 42M6335 1477l42 42m0-42l-42 42M6336 1711l42 42m0-42l-42 42M6336 1072l42 42m0-42l-42 42M6343 1610l42 42m0-42l-42 42M6345 1510l42 42m0-42l-42 42M6348 778l42 42m0-42l-42 42M6349 1566l42 42m0-42l-42 42M6349 1599l42 42m0-42l-42 42M6354 1595l42 42m0-42l-42 42M6357 1853l42 42m0-42l-42 42M6357 908l42 42m0-42l-42 42M6358 1099l42 42m0-42l-42 42M6358 1463l42 42m0-42l-42 42M6358 1573l42 42m0-42l-42 42M6362 1853l42 42m0-42l-42 42M6362 1180l42 42m0-42l-42 42M6370 1329l42 42m0-42l-42 42M6370 1778l42 42m0-42l-42 42M6372 1683l42 42m0-42l-42 42M6372 1470l42 42m0-42l-42 42M6375 1557l42 42m0-42l-42 42M6375 1668l42 42m0-42l-42 42M6375 1839l42 42m0-42l-42 42M6376 1766l42 42m0-42l-42 42M6378 1885l42 42m0-42l-42 42M6379 1781l42 42m0-42l-42 42M6380 1889l42 42m0-42l-42 42M6380 1710l42 42m0-42l-42 42M6382 1531l42 42m0-42l-42 42M6384 1614l42 42m0-42l-42 42M6385 1689l42 42m0-42l-42 42M6385 1583l42 42m0-42l-42 42M6389 1678l42 42m0-42l-42 42M6391 1690l42 42m0-42l-42 42M6392 1752l42 42m0-42l-42 42M6393 1117l42 42m0-42l-42 42M6403 1548l42 42m0-42l-42 42M6404 1642l42 42m0-42l-42 42M6404 1564l42 42m0-42l-42 42M6405 1830l42 42m0-42l-42 42M6406 892l42 42m0-42l-42 42M6407 906l42 42m0-42l-42 42M6409 1495l42 42m0-42l-42 42M6413 1906l42 42m0-42l-42 42M6415 1367l42 42m0-42l-42 42M6416 1621l42 42m0-42l-42 42M6416 1328l42 42m0-42l-42 42M6418 1777l42 42m0-42l-42 42M6418 1728l42 42m0-42l-42 42M6418 1325l42 42m0-42l-42 42M6419 1525l42 42m0-42l-42 42M6420 1963l42 42m0-42l-42 42M6423 1812l42 42m0-42l-42 42M6429 1780l42 42m0-42l-42 42M6429 1349l42 42m0-42l-42 42M6430 1366l42 42m0-42l-42 42M6431 1581l42 42m0-42l-42 42M6432 1628l42 42m0-42l-42 42M6433 1610l42 42m0-42l-42 42M6438 892l42 42m0-42l-42 42M6439 1858l42 42m0-42l-42 42M6439 1651l42 42m0-42l-42 42M6444 1430l42 42m0-42l-42 42M6445 1827l42 42m0-42l-42 42M6445 1666l42 42m0-42l-42 42M6445 1800l42 42m0-42l-42 42M6450 1592l42 42m0-42l-42 42M6451 1581l42 42m0-42l-42 42M6452 1649l42 42m0-42l-42 42M6454 1675l42 42m0-42l-42 42M6454 1355l42 42m0-42l-42 42M6455 1375l42 42m0-42l-42 42M6455 1462l42 42m0-42l-42 42M6455 1563l42 42m0-42l-42 42M6456 1533l42 42m0-42l-42 42M6456 1362l42 42m0-42l-42 42M6457 1801l42 42m0-42l-42 42M6457 1416l42 42m0-42l-42 42M6460 865l42 42m0-42l-42 42M6461 1760l42 42m0-42l-42 42M6462 1398l42 42m0-42l-42 42M6464 1778l42 42m0-42l-42 42M6464 1426l42 42m0-42l-42 42M6465 1378l42 42m0-42l-42 42M6466 1624l42 42m0-42l-42 42M6469 1642l42 42m0-42l-42 42M6473 1580l42 42m0-42l-42 42M6477 1802l42 42m0-42l-42 42M6481 1647l42 42m0-42l-42 42M6482 1622l42 42m0-42l-42 42M6485 1159l42 42m0-42l-42 42M6486 1592l42 42m0-42l-42 42M6488 1282l42 42m0-42l-42 42M6488 2115l42 42m0-42l-42 42M6490 1518l42 42m0-42l-42 42M6491 1755l42 42m0-42l-42 42M6491 1587l42 42m0-42l-42 42M6491 1450l42 42m0-42l-42 42M6493 1787l42 42m0-42l-42 42M6497 1851l42 42m0-42l-42 42M6498 1433l42 42m0-42l-42 42M6499 1480l42 42m0-42l-42 42M6499 1412l42 42m0-42l-42 42M6501 1693l42 42m0-42l-42 42M6502 1548l42 42m0-42l-42 42M6504 1529l42 42m0-42l-42 42M6507 1516l42 42m0-42l-42 42M6508 1744l42 42m0-42l-42 42M6509 1684l42 42m0-42l-42 42M6511 1567l42 42m0-42l-42 42M6513 1558l42 42m0-42l-42 42M6513 1581l42 42m0-42l-42 42M6513 1191l42 42m0-42l-42 42M6517 1282l42 42m0-42l-42 42M6517 1447l42 42m0-42l-42 42M6518 1427l42 42m0-42l-42 42M6521 1325l42 42m0-42l-42 42M6523 1373l42 42m0-42l-42 42M6524 1268l42 42m0-42l-42 42M6525 1477l42 42m0-42l-42 42M6527 1321l42 42m0-42l-42 42M6527 1681l42 42m0-42l-42 42M6530 1330l42 42m0-42l-42 42M6530 1497l42 42m0-42l-42 42M6530 1680l42 42m0-42l-42 42M6538 1111l42 42m0-42l-42 42M6548 1517l42 42m0-42l-42 42M6550 1663l42 42m0-42l-42 42M6551 1387l42 42m0-42l-42 42M6552 1690l42 42m0-42l-42 42M6552 1009l42 42m0-42l-42 42M6552 1439l42 42m0-42l-42 42M6552 1822l42 42m0-42l-42 42M6552 1308l42 42m0-42l-42 42M6553 1359l42 42m0-42l-42 42M6554 945l42 42m0-42l-42 42M6557 1397l42 42m0-42l-42 42M6558 1406l42 42m0-42l-42 42M6559 1315l42 42m0-42l-42 42M6559 1491l42 42m0-42l-42 42M6560 1701l42 42m0-42l-42 42M6561 1558l42 42m0-42l-42 42M6562 1424l42 42m0-42l-42 42M6563 1558l42 42m0-42l-42 42M6563 1425l42 42m0-42l-42 42M6563 1600l42 42m0-42l-42 42M6570 1570l42 42m0-42l-42 42M6571 1243l42 42m0-42l-42 42M6572 1790l42 42m0-42l-42 42M6574 1471l42 42m0-42l-42 42M6575 1740l42 42m0-42l-42 42M6581 1540l42 42m0-42l-42 42M6582 1404l42 42m0-42l-42 42M6584 1545l42 42m0-42l-42 42M6585 1647l42 42m0-42l-42 42M6585 1347l42 42m0-42l-42 42M6589 1390l42 42m0-42l-42 42M6596 1462l42 42m0-42l-42 42M6598 1691l42 42m0-42l-42 42M6601 1907l42 42m0-42l-42 42M6603 1442l42 42m0-42l-42 42M6603 1485l42 42m0-42l-42 42M6605 1673l42 42m0-42l-42 42M6606 1448l42 42m0-42l-42 42M6608 1500l42 42m0-42l-42 42M6608 1614l42 42m0-42l-42 42M6609 1427l42 42m0-42l-42 42M6611 1625l42 42m0-42l-42 42M6616 1768l42 42m0-42l-42 42M6618 1492l42 42m0-42l-42 42M6619 1153l42 42m0-42l-42 42M6624 1625l42 42m0-42l-42 42M6625 1521l42 42m0-42l-42 42M6627 1581l42 42m0-42l-42 42M6630 1666l42 42m0-42l-42 42M6630 1469l42 42m0-42l-42 42M6634 1458l42 42m0-42l-42 42M6639 1445l42 42m0-42l-42 42M6641 1526l42 42m0-42l-42 42M6644 1340l42 42m0-42l-42 42M6646 1585l42 42m0-42l-42 42M6647 999l42 42m0-42l-42 42M6648 1616l42 42m0-42l-42 42M6651 1438l42 42m0-42l-42 42M6651 1819l42 42m0-42l-42 42M6657 1861l42 42m0-42l-42 42M6661 1311l42 42m0-42l-42 42M6661 1725l42 42m0-42l-42 42M6667 1403l42 42m0-42l-42 42M6675 1613l42 42m0-42l-42 42M6675 1261l42 42m0-42l-42 42M6676 1649l42 42m0-42l-42 42M6679 1614l42 42m0-42l-42 42M6681 1642l42 42m0-42l-42 42M6681 1564l42 42m0-42l-42 42M6684 1564l42 42m0-42l-42 42M6685 1610l42 42m0-42l-42 42M6686 1338l42 42m0-42l-42 42M6690 1461l42 42m0-42l-42 42M6699 1781l42 42m0-42l-42 42M6701 1192l42 42m0-42l-42 42M6702 1437l42 42m0-42l-42 42M6705 1778l42 42m0-42l-42 42M6706 1451l42 42m0-42l-42 42M6712 1013l42 42m0-42l-42 42M6716 1406l42 42m0-42l-42 42M6718 1276l42 42m0-42l-42 42M6722 1291l42 42m0-42l-42 42M6722 1115l42 42m0-42l-42 42M6723 1630l42 42m0-42l-42 42M6726 1694l42 42m0-42l-42 42M6727 1240l42 42m0-42l-42 42M6732 1408l42 42m0-42l-42 42M6743 1882l42 42m0-42l-42 42M6748 1304l42 42m0-42l-42 42M6750 1920l42 42m0-42l-42 42M6755 1390l42 42m0-42l-42 42M6759 1186l42 42m0-42l-42 42M6764 1551l42 42m0-42l-42 42M6771 1641l42 42m0-42l-42 42M6771 1282l42 42m0-42l-42 42M6779 1242l42 42m0-42l-42 42M6781 1558l42 42m0-42l-42 42M6785 1268l42 42m0-42l-42 42M6787 2031l42 42m0-42l-42 42M6791 996l42 42m0-42l-42 42M6804 1573l42 42m0-42l-42 42M6804 1302l42 42m0-42l-42 42M6804 1301l42 42m0-42l-42 42M6806 1237l42 42m0-42l-42 42M6808 1818l42 42m0-42l-42 42M6810 1318l42 42m0-42l-42 42M6821 1497l42 42m0-42l-42 42M6826 1302l42 42m0-42l-42 42M6827 1619l42 42m0-42l-42 42M6829 1297l42 42m0-42l-42 42M6836 1372l42 42m0-42l-42 42M6838 1515l42 42m0-42l-42 42M6841 1569l42 42m0-42l-42 42M6844 1401l42 42m0-42l-42 42M6849 1241l42 42m0-42l-42 42M6849 1461l42 42m0-42l-42 42M6850 1086l42 42m0-42l-42 42M6851 1247l42 42m0-42l-42 42M6858 992l42 42m0-42l-42 42M6860 1317l42 42m0-42l-42 42M6860 1128l42 42m0-42l-42 42M6861 1226l42 42m0-42l-42 42M6865 1364l42 42m0-42l-42 42M6875 1610l42 42m0-42l-42 42M6879 1482l42 42m0-42l-42 42M6881 1350l42 42m0-42l-42 42M6883 2094l42 42m0-42l-42 42M6889 1657l42 42m0-42l-42 42M6889 1456l42 42m0-42l-42 42M6891 1315l42 42m0-42l-42 42M6893 1129l42 42m0-42l-42 42M6896 1244l42 42m0-42l-42 42M6900 1468l42 42m0-42l-42 42M6904 1367l42 42m0-42l-42 42M6918 1109l42 42m0-42l-42 42M6927 1191l42 42m0-42l-42 42M6929 1250l42 42m0-42l-42 42M6931 1296l42 42m0-42l-42 42M6937 1583l42 42m0-42l-42 42M6940 1098l42 42m0-42l-42 42M6944 1248l42 42m0-42l-42 42M6948 1292l42 42m0-42l-42 42M6952 1258l42 42m0-42l-42 42M6952 1456l42 42m0-42l-42 42M6954 1384l42 42m0-42l-42 42M6955 1413l42 42m0-42l-42 42M6957 1357l42 42m0-42l-42 42M6957 1045l42 42m0-42l-42 42M6962 1203l42 42m0-42l-42 42M6967 1344l42 42m0-42l-42 42M6981 1492l42 42m0-42l-42 42M6983 1364l42 42m0-42l-42 42M6987 1420l42 42m0-42l-42 42M6991 1429l42 42m0-42l-42 42M7006 1461l42 42m0-42l-42 42M7011 1275l42 42m0-42l-42 42M7011 1028l42 42m0-42l-42 42M7016 1248l42 42m0-42l-42 42M7046 1435l42 42m0-42l-42 42M7061 1233l42 42m0-42l-42 42M7070 1219l42 42m0-42l-42 42M7073 1453l42 42m0-42l-42 42M7120 1395l42 42m0-42l-42 42M7127 1393l42 42m0-42l-42 42M7127 1008l42 42m0-42l-42 42M7163 1083l42 42m0-42l-42 42M7200 1484l42 42m0-42l-42 42M7203 1421l42 42m0-42l-42 42M7215 1131l42 42m0-42l-42 42M7216 1160l42 42m0-42l-42 42M7231 736l42 42m0-42l-42 42"/></g>
<path class="l" d="M511.3 145.5H621.2L742.4 28.4"/>
</g>
<g clip-path="url(#c3)">
<g transform="scale(.1)">
<path class="d" d="M536 3978h0m112-430h0m-25 492h0m72-17h0m43-568h0m-10 383h0m-2 181h0m50 126h0m26-358h0m34 42h0m31-148h0m-15 116h0m33 12h0m-12 11h0m-1 93h0m-11 67h0m37 321h0m22-173h0m77-782h0m16 77h0m-47 130h0m27 187h0m-22 302h0m38 145h0m-5 99h0m-2 15h0m61-983h0m16 47h0m-42 144h0m-3 173h0m-12 113h0m48 26h0m-22 14h0m5 53h0m-32 4h0m53 6h0m-42 105h0m11 82h0m7 71h0m10 34h0m61-765h0m2 37h0m15 88h0m-1 0h0m-29 2h0m26 31h0m0 7h0m3 82h0m-23 15h0m-1 2h0m21 188h0m-18 92h0m1 1h0m-24 70h0m41 179h0m20-648h0m21 72h0m8 29h0m-28 40h0m11 51h0m1 2h0m3 10h0m24 7h0m-43 13h0m7 32h0m32 25h0m-37 21h0m39 1h0m-5 23h0m-45 10h0m48 11h0m-17 8h0m3 89h0m-8 3h0m16 55h0m-14 6h0m27 57h0m-12 81h0m-31 106h0m6 97h0m75-996h0m-28 6h0m5 31h0m23 87h0m-5 6h0m-21 57h0m22 9h0m-1 4h0m6 18h0m1 19h0m15 19h0m1 2h0m6 16h0m-14 16h0m-24 46h0m12 28h0m-10 36h0m-23 3h0m35 27h0m24 5h0m-41 6h0m20 1h0m-7 50h0m-10 51h0m29 19h0m-24 24h0m-11 7h0m32 8h0m-10 4h0m22 2h0m-5 10h0m-23 8h0m-14 46h0m7 36h0m-2 25h0m46-817h0m38 13h0m-30 93h0m39 73h0m-12 22h0m-33 88h0m37 4h0m5 26h0m-49 25h0m49 70h0m1 5h0m1 9h0m-41 11h0m46 28h0m-45 0h0m-1 11h0m6 5h0m-10 11h0m44 1h0m-25 12h0m24 3h0m-19 0h0m-18 7h0m6 3h0m-8 12h0m16 7h0m-21 4h0m37 4h0m1 7h0m10 11h0m-6 21h0m-3 11h0m5 11h0m-37 0h0m39 52h0m-10 21h0m-20 10h0m17 5h0m-22 56h0m33 2h0m-7 32h0m-16 27h0m-25 20h0m43 74h0m-16 17h0m-17 33h0m72-952h0m4 91h0m9 5h0m0 15h0m-3 38h0m-11 120h0m-24 3h0m35 8h0m-2 48h0m-31 6h0m41 8h0m-9 11h0m-2 12h0m-33 47h0m10 2h0m28 5h0m4 4h0m2 2h0m-24 8h0m20 19h0m-18 11h0m2 4h0m33 5h0m-20 9h0m-25 16h0m27 7h0m12 5h0m-4 33h0m-13 7h0m16 2h0m-12 6h0m-9 1h0m12 3h0m13 26h0m-9 12h0m-34 6h0m26 2h0m-33 1h0m33 2h0m17 10h0m-11 53h0m7 0h0m4 5h0m-5 7h0m-19 4h0m20 0h0m-29 7h0m7 21h0m-1 1h0m-10 38h0m37 32h0m-14 5h0m10 21h0m7 22h0m0 4h0m-11 96h0m-46 18h0m40 45h0m3 31h0m20-1207h0m8 120h0m10 106h0m18 6h0m-8 91h0m-3 11h0m18 28h0m-25 6h0m26 18h0m-18 21h0m-22 3h0m47 9h0m-50 10h0m13 7h0m30 4h0m-36 13h0m22 19h0m26 3h0m-7 22h0m-39 8h0m8 3h0m25 0h0m-7 3h0m-2 16h0m-31 6h0m30 10h0m0 0h0m-23 2h0m30 19h0m-30 4h0m33 2h0m-33 1h0m37 0h0m-18 1h0m-17 11h0m-5 0h0m8 2h0m38 13h0m0 4h0m-53 5h0m9 1h0m-2 11h0m-4 5h0m5 5h0m10 1h0m19 11h0m-33 25h0m7 7h0m6 14h0m-6 2h0m-11 12h0m45 2h0m-46 4h0m29 7h0m-26 0h0m-1 11h0m49 2h0m-51 6h0m26 3h0m-11 17h0m-10 1h0m23 0h0m-9 1h0m31 16h0m-40 4h0m16 3h0m29 11h0m-14 13h0m3 3h0m-24 3h0m9 6h0m4 22h0m-28 13h0m3 7h0m0 23h0m3 0h0m10 0h0m20 14h0m-13 13h0m-4 6h0m21 1h0m-37 2h0m30 4h0m-34 2h0m52 0h0m-2 8h0m3 18h0m-43 1h0m41 12h0m-14 7h0m3 3h0m-19 32h0m15 11h0m-24 14h0m34 17h0m-44 5h0m2 20h0m31 8h0m-36 12h0m51 10h0m-47 12h0m38 97h0m-23 12h0m-13 8h0m74-1245h0m31 36h0m-52 100h0m23 24h0m27 62h0m-30 34h0m16 1h0m-8 24h0m25 28h0m-5 4h0m-44 7h0m2 2h0m3 37h0m19 12h0m-28 12h0m-4 9h0m14 30h0m15 16h0m21 4h0m-2 1h0m-4 1h0m3 9h0m-33 2h0m32 7h0m-22 7h0m18 5h0m10 9h0m-28 4h0m-3 17h0m1 8h0m-14 1h0m7 17h0m42 4h0m-32 3h0m22 2h0m-12 9h0m4 4h0m5 16h0m-36 8h0m46 12h0m-16 4h0m4 2h0m-38 1h0m-1 7h0m24 1h0m15 6h0m-2 7h0m-33 4h0m42 4h0m-18 5h0m-20 1h0m38 4h0m7 6h0m-17 29h0m-3 1h0m-20 2h0m-5 1h0m-2 4h0m17 2h0m-1 0h0m27 0h0m-9 2h0m-34 6h0m27 4h0m6 2h0m-26 4h0m21 0h0m16 7h0m6 8h0m-49 6h0m12 6h0m18 9h0m3 0h0m1 3h0m-2 3h0m5 3h0m-14 5h0m8 1h0m5 7h0m-46 1h0m38 6h0m-3 2h0m0 1h0m-22 20h0m36 5h0m-17 1h0m26 1h0m-25 4h0m4 6h0m-6 4h0m24 9h0m-47 0h0m2 1h0m44 0h0m-23 28h0m17 15h0m-47 4h0m41 0h0m-34 25h0m37 0h0m-37 7h0m38 1h0m-10 3h0m-5 4h0m-8 0h0m-14 5h0m-1 14h0m49 5h0m-18 4h0m-12 7h0m29 11h0m-3 18h0m2 3h0m-13 2h0m-36 17h0m37 2h0m-33 3h0m3 20h0m-5 5h0m42 11h0m7 18h0m-27 4h0m4 9h0m20 7h0m-35 4h0m8 3h0m21 4h0m-18 12h0m-9 9h0m31 13h0m-5 3h0m-25 57h0m-4 2h0m-12 27h0m44 8h0m5 21h0m-36 20h0m75-1261h0m-20 49h0m21 9h0m7 93h0m-23 3h0m36 119h0m-26 3h0m-1 4h0m-13 31h0m23 71h0m-33 19h0m39 5h0m-9 14h0m0 0h0m-14 9h0m18 23h0m-16 4h0m8 7h0m5 4h0m-33 17h0m-3 6h0m57 12h0m-44 13h0m9 2h0m-20 3h0m57 3h0m-14 1h0m1 2h0m-38 1h0m-5 1h0m38 6h0m-29 6h0m17 1h0m21 2h0m6 9h0m-24 11h0m19 3h0m4 1h0m-23 0h0m-26 7h0m47 11h0m-6 5h0m8 1h0m-9 1h0m-11 2h0m-24 1h0m6 2h0m1 1h0m-18 3h0m39 0h0m-28 6h0m41 1h0m-17 0h0m15 3h0m-5 2h0m-27 8h0m28 2h0m-8 1h0m13 9h0m-10 6h0m-33 8h0m4 0h0m4 0h0m1 3h0m11 12h0m-17 1h0m28 7h0m-36 3h0m4 0h0m24 1h0m-23 4h0m47 0h0m2 6h0m-41 0h0m35 3h0m-31 10h0m-18 1h0m33 0h0m-2 2h0m-20 4h0m46 1h0m-59 3h0m4 0h0m42 1h0m-17 2h0m-9 2h0m-2 3h0m12 11h0m15 0h0m11 3h0m-32 2h0m-17 1h0m13 4h0m2 4h0m13 2h0m13 1h0m-43 3h0m13 10h0m41 0h0m-29 1h0m-29 0h0m46 6h0m7 1h0m-5 2h0m-15 0h0m24 9h0m-34 2h0m21 0h0m-23 2h0m23 3h0m-30 4h0m12 1h0m8 2h0m-26 9h0m43 4h0m-45 4h0m18 3h0m12 4h0m-20 1h0m30 1h0m-2 2h0m-15 8h0m11 12h0m-9 3h0m20 7h0m-38 0h0m45 3h0m-48 7h0m30 2h0m-38 0h0m49 4h0m-26 1h0m-22 1h0m27 0h0m12 1h0m1 6h0m-44 6h0m24 1h0m22 3h0m-3 2h0m-19 11h0m24 8h0m-29 5h0m8 1h0m-1 9h0m23 13h0m-18 1h0m11 7h0m11 1h0m-14 1h0m7 2h0m-7 1h0m6 14h0m-3 6h0m0 3h0m-34 5h0m14 10h0m30 12h0m-26 15h0m-1 4h0m12 14h0m-10 47h0m15 4h0m-31 4h0m1 43h0m38 2h0m5 5h0m-46 26h0m5 1h0m39 7h0m-12 45h0m-19 11h0m36 3h0m-43 111h0m18 154h0m62-1702h0m-29 146h0m33 44h0m10 105h0m-16 7h0m7 19h0m11 6h0m-10 17h0m5 8h0m-45 26h0m48 7h0m-3 5h0m-27 6h0m20 3h0m0 7h0m1 49h0m-7 6h0m21 29h0m-5 8h0m10 7h0m-40 0h0m-1 25h0m-11 29h0m-7 5h0m6 5h0m0 4h0m45 2h0m-22 3h0m3 6h0m-10 1h0m11 2h0m25 13h0m-49 5h0m7 7h0m21 7h0m-1 12h0m6 12h0m-4 12h0m9 2h0m-33 6h0m30 4h0m9 1h0m-51 4h0m14 6h0m-12 2h0m6 2h0m26 1h0m6 3h0m2 4h0m-28 2h0m-16 9h0m9 3h0m43 1h0m0 11h0m3 4h0m-44 6h0m8 13h0m27 1h0m2 9h0m8 6h0m-39 10h0m17 1h0m23 9h0m-17 3h0m6 1h0m-16 5h0m24 0h0m-27 1h0m29 4h0m-46 2h0m37 2h0m12 2h0m-39 4h0m24 0h0m-13 0h0m-6 2h0m34 1h0m-47 4h0m6 6h0m-7 0h0m37 10h0m8 0h0m0 3h0m-51 0h0m13 3h0m-18 2h0m36 3h0m11 1h0m9 7h0m-36 4h0m-9 4h0m2 1h0m37 2h0m-19 2h0m-10 1h0m11 3h0m-4 2h0m-25 6h0m32 5h0m-14 12h0m6 3h0m27 4h0m-16 1h0m-4 1h0m12 0h0m8 1h0m-22 2h0m19 0h0m-4 0h0m3 3h0m8 3h0m-19 1h0m17 3h0m-56 15h0m55 9h0m-20 9h0m-25 1h0m44 1h0m-22 1h0m-15 0h0m0 1h0m34 1h0m-18 3h0m-26 2h0m5 1h0m26 3h0m7 0h0m-32 3h0m38 3h0m5 0h0m-15 4h0m15 3h0m-37 1h0m-13 1h0m18 1h0m-18 1h0m43 9h0m7 3h0m-3 3h0m-16 2h0m13 1h0m-9 6h0m-32 3h0m1 7h0m3 1h0m26 8h0m-18 6h0m26 1h0m-4 1h0m14 6h0m2 1h0m-13 4h0m-9 0h0m-37 2h0m35 2h0m7 3h0m5 0h0m-30 6h0m32 6h0m-40 2h0m34 5h0m-39 3h0m40 1h0m4 1h0m-12 7h0m16 1h0m-31 6h0m-19 3h0m43 4h0m-2 3h0m-42 0h0m55 4h0m-20 2h0m21 0h0m-55 1h0m57 0h0m-39 1h0m38 1h0m-18 1h0m-23 2h0m31 0h0m-20 9h0m29 2h0m-42 1h0m4 3h0m-18 4h0m34 1h0m-30 1h0m-5 0h0m49 4h0m5 1h0m-21 2h0m23 1h0m-34 4h0m0 0h0m13 15h0m22 0h0m-20 1h0m20 16h0m-42 5h0m-15 6h0m39 1h0m15 3h0m-2 4h0m2 10h0m-24 5h0m17 13h0m-25 36h0m-12 6h0m-9 19h0m48 1h0m-4 0h0m4 13h0m-28 3h0m2 30h0m23 1h0m0 13h0m3 3h0m-2 1h0m0 5h0m-33 31h0m-7 21h0m28 0h0m8 22h0m15 96h0m-21 8h0m26-1294h0m-2 38h0m49 46h0m6 4h0m-35 40h0m15 2h0m-29 14h0m28 1h0m-8 23h0m28 7h0m-7 6h0m-36 1h0m-4 17h0m25 7h0m-7 7h0m-18 6h0m26 30h0m-9 6h0m30 19h0m-2 17h0m-46 1h0m18 5h0m-1 0h0m-13 2h0m-6 6h0m3 9h0m47 7h0m-39 1h0m31 9h0m-47 2h0m33 19h0m1 4h0m4 0h0m-26 8h0m23 4h0m4 13h0m20 2h0m-24 1h0m-11 4h0m-8 2h0m17 3h0m18 1h0m-42 4h0m48 19h0m-37 2h0m-3 1h0m22 3h0m-12 2h0m-3 8h0m13 0h0m0 4h0m12 5h0m-25 4h0m14 1h0m6 1h0m-15 1h0m-25 1h0m26 3h0m-25 11h0m4 14h0m12 0h0m4 1h0m-7 2h0m0 0h0m35 2h0m-26 10h0m31 5h0m-35 10h0m22 10h0m3 3h0m-36 2h0m35 2h0m-11 3h0m-6 7h0m-13 2h0m42 7h0m-56 0h0m25 6h0m0 2h0m-3 2h0m-14 9h0m48 4h0m-51 1h0m51 1h0m-24 2h0m-10 1h0m-5 3h0m-1 1h0m16 1h0m-5 6h0m-2 7h0m-28 1h0m10 5h0m-3 0h0m16 1h0m0 6h0m-15 6h0m25 1h0m2 0h0m-9 2h0m-10 3h0m26 3h0m-31 2h0m40 1h0m-2 1h0m2 11h0m2 2h0m-2 0h0m-14 1h0m17 10h0m5 3h0m-12 3h0m-19 0h0m11 1h0m2 1h0m-14 0h0m12 7h0m7 5h0m-22 3h0m-16 1h0m43 1h0m-34 1h0m-10 1h0m9 2h0m-14 3h0m-2 1h0m58 1h0m-42 2h0m43 1h0m-11 0h0m-13 9h0m5 6h0m16 6h0m-9 2h0m-11 4h0m-11 1h0m10 1h0m-25 2h0m-2 0h0m1 0h0m12 1h0m9 3h0m21 0h0m3 3h0m-3 0h0m1 2h0m-5 0h0m-30 2h0m38 4h0m-27 0h0m-22 6h0m33 1h0m-23 0h0m-7 3h0m9 0h0m41 1h0m-14 8h0m-4 4h0m-17 0h0m27 1h0m2 3h0m-49 1h0m27 1h0m17 0h0m6 2h0m-8 2h0m-30 0h0m29 2h0m-40 3h0m50 1h0m-4 4h0m-51 8h0m4 7h0m46 2h0m-45 1h0m53 0h0m-18 1h0m3 2h0m-20 0h0m19 3h0m-20 0h0m17 1h0m-23 4h0m19 0h0m-24 5h0m13 5h0m22 3h0m-34 2h0m-7 1h0m7 2h0m15 0h0m3 0h0m19 1h0m-45 4h0m17 2h0m25 1h0m-9 2h0m-33 4h0m22 2h0m-10 0h0m33 2h0m0 0h0m-36 3h0m11 0h0m27 1h0m-20 5h0m-5 1h0m-8 2h0m29 1h0m7 3h0m-13 2h0m-8 6h0m21 5h0m-31 2h0m12 0h0m5 2h0m12 1h0m-14 3h0m-20 6h0m32 9h0m-8 1h0m-1 1h0m5 5h0m-1 6h0m1 1h0m0 0h0m-3 4h0m-16 0h0m-8 2h0m23 1h0m12 4h0m-50 7h0m35 1h0m-20 2h0m23 13h0m-9 13h0m15 4h0m-41 1h0m44 9h0m-10 4h0m9 7h0m-3 13h0m-36 9h0m28 2h0m15 2h0m-44 8h0m1 2h0m45 4h0m1 1h0m-44 1h0m-2 7h0m10 4h0m5 13h0m-16 9h0m18 9h0m-7 1h0m38 4h0m-26 7h0m-13 2h0m5 27h0m-9 6h0m33 8h0m-35 13h0m-12 4h0m32 6h0m-16 1h0m-12 25h0m19 10h0m-8 23h0m35 22h0m-16 2h0m-10 50h0m-10 111h0m50-1306h0m47 2h0m-49 68h0m49 2h0m-6 27h0m-5 6h0m-15 36h0m-22 2h0m19 5h0m-2 13h0m26 8h0m-6 17h0m9 10h0m4 5h0m-14 0h0m6 3h0m-32 4h0m-13 5h0m9 2h0m34 3h0m-10 11h0m13 6h0m-21 4h0m30 4h0m-37 3h0m-18 6h0m8 0h0m28 8h0m-4 1h0m9 4h0m-15 1h0m21 25h0m-31 12h0m9 11h0m29 1h0m-11 8h0m-12 6h0m-3 14h0m-29 4h0m27 3h0m12 2h0m-25 7h0m6 2h0m21 1h0m-29 0h0m8 4h0m-15 0h0m26 7h0m-23 0h0m10 1h0m35 1h0m-13 5h0m-36 3h0m17 15h0m31 3h0m-38 1h0m32 2h0m-25 2h0m-8 2h0m33 2h0m-26 1h0m-1 3h0m29 2h0m7 5h0m1 9h0m-49 1h0m43 1h0m-16 3h0m15 2h0m-8 3h0m-12 6h0m-21 1h0m28 4h0m-11 1h0m-8 1h0m36 0h0m-41 2h0m2 0h0m-12 0h0m7 2h0m-10 2h0m29 1h0m3 1h0m6 1h0m9 4h0m-40 1h0m1 3h0m-2 7h0m28 2h0m20 6h0m2 4h0m-32 1h0m10 0h0m18 1h0m-29 2h0m-21 7h0m3 3h0m39 1h0m-1 1h0m-11 1h0m7 0h0m-14 7h0m-3 1h0m-3 2h0m29 2h0m11 1h0m-22 1h0m13 5h0m-18 4h0m-19 14h0m17 1h0m-9 3h0m12 1h0m24 24h0m-8 3h0m0 1h0m-44 2h0m2 0h0m7 8h0m12 9h0m11 0h0m-23 1h0m-9 0h0m9 2h0m43 2h0m-33 0h0m-23 0h0m48 3h0m-33 3h0m-14 2h0m55 0h0m2 1h0m-53 0h0m49 1h0m4 1h0m-53 1h0m44 0h0m-39 0h0m31 1h0m-38 1h0m2 5h0m32 1h0m-19 3h0m-3 1h0m26 1h0m-6 1h0m-18 0h0m10 1h0m-25 2h0m49 1h0m-1 0h0m-11 1h0m13 1h0m-34 0h0m16 0h0m-19 1h0m12 4h0m12 3h0m-24 2h0m3 1h0m11 4h0m-7 0h0m-8 12h0m26 4h0m-26 3h0m31 1h0m-27 3h0m-18 4h0m2 1h0m23 1h0m1 0h0m-26 5h0m39 3h0m16 1h0m-55 1h0m39 4h0m15 0h0m-32 2h0m21 1h0m-10 3h0m9 3h0m1 1h0m-15 0h0m22 3h0m7 0h0m-32 3h0m6 3h0m19 1h0m-30 2h0m-15 3h0m24 4h0m-10 0h0m2 1h0m-5 1h0m-3 0h0m21 1h0m-25 1h0m31 0h0m5 1h0m-9 1h0m-16 2h0m18 1h0m-4 2h0m21 3h0m-14 0h0m-1 0h0m-6 1h0m-8 3h0m13 1h0m-21 1h0m8 3h0m2 2h0m26 8h0m-4 2h0m-51 1h0m29 0h0m17 1h0m-28 2h0m34 2h0m-40 2h0m3 0h0m40 3h0m0 0h0m-21 1h0m9 7h0m8 2h0m-9 2h0m-6 1h0m0 2h0m-14 1h0m15 0h0m6 2h0m-28 2h0m-13 3h0m8 1h0m24 2h0m8 0h0m-14 1h0m-17 0h0m32 2h0m-20 1h0m-8 0h0m38 0h0m-31 4h0m22 3h0m-24 0h0m-15 0h0m4 5h0m17 5h0m26 9h0m-20 6h0m0 1h0m-16 6h0m42 1h0m-16 1h0m5 5h0m-4 8h0m-43 4h0m32 1h0m7 1h0m3 3h0m-15 0h0m22 4h0m-18 2h0m7 0h0m1 3h0m-25 4h0m7 3h0m3 3h0m9 1h0m23 6h0m-39 3h0m17 2h0m-29 2h0m40 2h0m-41 2h0m27 1h0m-13 2h0m-2 0h0m-13 1h0m56 3h0m-59 19h0m54 5h0m5 0h0m-31 5h0m24 1h0m-6 0h0m-17 0h0m-11 5h0m15 3h0m22 3h0m-50 10h0m35 7h0m-17 0h0m-3 4h0m28 2h0m3 1h0m-7 2h0m-3 4h0m13 7h0m-21 3h0m-16 9h0m-16 3h0m34 1h0m-4 8h0m-4 5h0m-24 8h0m26 4h0m-7 9h0m23 0h0m-13 1h0m-14 1h0m-11 4h0m32 4h0m-16 22h0m-5 1h0m10 0h0m11 3h0m13 16h0m-10 4h0m-42 5h0m24 3h0m-5 2h0m-12 8h0m13 13h0m-12 33h0m18 7h0m31 3h0m-25 1h0m-17 5h0m41 19h0m-56 14h0m30 30h0m64-1354h0m-10 108h0m27 2h0m8 40h0m-16 14h0m1 5h0m-21 7h0m-11 5h0m4 18h0m-3 7h0m1 9h0m21 7h0m23 2h0m-35 1h0m14 4h0m-13 24h0m11 6h0m-29 7h0m-6 1h0m25 36h0m-1 7h0m-23 4h0m24 1h0m2 0h0m3 13h0m-10 13h0m-7 7h0m20 10h0m11 7h0m-2 1h0m14 9h0m-23 20h0m14 17h0m-31 8h0m18 1h0m10 1h0m8 1h0m6 0h0m-2 2h0m-5 6h0m-29 2h0m-5 1h0m42 0h0m-55 1h0m36 0h0m13 4h0m-13 4h0m-7 6h0m13 1h0m-27 2h0m33 10h0m-10 1h0m15 2h0m-34 5h0m14 1h0m-21 3h0m1 3h0m5 2h0m10 0h0m4 3h0m-33 0h0m42 1h0m-42 3h0m52 0h0m-17 1h0m3 4h0m18 1h0m-15 0h0m-42 4h0m44 0h0m3 3h0m-24 0h0m-5 1h0m7 10h0m-23 4h0m3 5h0m36 3h0m-41 0h0m31 4h0m-7 14h0m1 1h0m32 5h0m-36 4h0m19 0h0m-31 1h0m6 4h0m42 4h0m-7 1h0m-23 0h0m21 1h0m-7 2h0m-29 1h0m25 1h0m5 6h0m-11 1h0m-23 0h0m1 4h0m27 1h0m16 1h0m-39 2h0m-5 1h0m26 1h0m-25 6h0m7 5h0m-2 5h0m-12 3h0m24 3h0m22 0h0m-42 3h0m39 1h0m4 3h0m-9 3h0m7 7h0m-46 7h0m49 6h0m2 3h0m-45 5h0m7 3h0m29 2h0m-19 2h0m21 1h0m-15 3h0m16 3h0m-20 3h0m31 0h0m-48 3h0m-8 4h0m46 1h0m-33 5h0m-13 3h0m56 3h0m-4 0h0m-17 1h0m-32 4h0m32 3h0m12 0h0m-5 6h0m7 3h0m-30 1h0m22 0h0m13 1h0m-26 2h0m-3 8h0m12 0h0m18 3h0m-19 1h0m-5 0h0m-14 1h0m-5 3h0m-6 3h0m49 1h0m-53 1h0m21 6h0m26 3h0m-32 4h0m2 1h0m-17 0h0m17 0h0m24 0h0m-19 1h0m3 1h0m24 0h0m-43 2h0m23 1h0m24 1h0m-30 1h0m-22 3h0m52 0h0m-19 0h0m-9 3h0m-5 2h0m-24 0h0m40 3h0m18 1h0m-54 3h0m17 0h0m37 1h0m-51 2h0m25 6h0m20 3h0m-48 2h0m0 1h0m-5 0h0m45 1h0m7 1h0m-20 3h0m-7 0h0m23 1h0m-31 0h0m36 0h0m3 0h0m-1 2h0m-30 1h0m24 2h0m-48 0h0m10 9h0m42 0h0m-21 2h0m2 5h0m-16 4h0m-14 1h0m7 0h0m-10 1h0m21 0h0m-16 1h0m37 2h0m-26 0h0m4 0h0m-18 1h0m6 1h0m-6 1h0m1 3h0m4 1h0m35 2h0m-27 2h0m-1 0h0m40 1h0m-47 2h0m12 7h0m35 0h0m-43 1h0m-8 2h0m35 1h0m-26 3h0m25 1h0m-32 2h0m11 3h0m21 3h0m-29 1h0m-7 4h0m24 1h0m-17 2h0m14 0h0m25 2h0m-3 1h0m-41 2h0m50 1h0m-35 1h0m-16 1h0m53 0h0m-6 5h0m-24 1h0m32 0h0m-5 2h0m-2 4h0m-17 0h0m-20 1h0m27 5h0m-31 7h0m30 1h0m-22 2h0m22 3h0m-9 0h0m-31 0h0m56 15h0m-32 0h0m20 1h0m-15 0h0m5 4h0m-3 3h0m-4 2h0m-16 0h0m-2 1h0m20 1h0m4 4h0m-4 0h0m4 1h0m-19 1h0m-14 1h0m0 0h0m51 3h0m-15 1h0m-8 1h0m-26 1h0m6 3h0m42 0h0m-9 4h0m12 0h0m-52 4h0m12 5h0m40 1h0m3 1h0m-8 3h0m-6 3h0m-12 0h0m9 2h0m1 4h0m-18 1h0m-1 2h0m-15 1h0m23 1h0m-21 1h0m-1 0h0m9 0h0m25 3h0m-17 2h0m18 4h0m3 5h0m1 3h0m11 1h0m-43 0h0m35 3h0m-41 2h0m40 2h0m-5 2h0m-41 0h0m1 2h0m7 2h0m-8 7h0m56 1h0m-38 5h0m-16 3h0m28 4h0m-27 1h0m8 1h0m22 11h0m-24 2h0m9 4h0m10 2h0m22 4h0m-18 3h0m0 7h0m-18 0h0m11 2h0m7 1h0m0 1h0m-7 4h0m-11 1h0m34 7h0m-32 8h0m40 0h0m-33 1h0m20 23h0m-18 4h0m13 1h0m-32 3h0m40 1h0m-33 0h0m-14 23h0m0 7h0m30 4h0m-3 19h0m29 3h0m-46 6h0m29 0h0m-28 17h0m25 1h0m2 2h0m13 3h0m-3 2h0m-21 0h0m29 1h0m-49 7h0m1 20h0m-3 32h0m3 8h0m-1 6h0m27 3h0m-3 2h0m-19 33h0m-5 38h0m43 3h0m-30 21h0m34 8h0m2 13h0m16-1625h0m11 53h0m-10 145h0m26 25h0m-17 1h0m14 9h0m-28 83h0m-3 4h0m9 22h0m-12 3h0m49 0h0m-6 8h0m-27 8h0m-13 16h0m39 2h0m-20 4h0m30 6h0m-24 7h0m-27 4h0m26 31h0m-6 8h0m21 2h0m12 7h0m-40 3h0m19 0h0m-25 0h0m21 5h0m-29 6h0m7 0h0m10 1h0m22 1h0m16 6h0m-18 3h0m-4 5h0m-29 4h0m34 27h0m9 0h0m8 0h0m0 5h0m-2 6h0m-1 3h0m-34 1h0m-14 0h0m43 5h0m-22 0h0m4 10h0m10 7h0m-23 6h0m-6 1h0m42 8h0m-24 4h0m17 3h0m-30 13h0m8 11h0m-12 14h0m33 0h0m-2 0h0m-21 7h0m-16 3h0m22 0h0m16 12h0m-44 1h0m21 3h0m16 3h0m13 0h0m-12 6h0m-4 1h0m-3 1h0m-31 2h0m2 5h0m47 5h0m-40 14h0m-11 0h0m29 7h0m-25 0h0m-1 9h0m3 3h0m10 1h0m16 2h0m21 4h0m-8 3h0m-35 7h0m12 0h0m8 2h0m1 3h0m16 0h0m1 3h0m-33 2h0m-5 8h0m16 2h0m-8 0h0m32 3h0m-12 2h0m-13 0h0m-15 4h0m38 0h0m8 2h0m-31 3h0m27 2h0m-14 4h0m-25 6h0m46 0h0m-35 0h0m11 1h0m13 1h0m-13 1h0m-23 8h0m37 22h0m-9 0h0m2 2h0m-14 1h0m22 10h0m-46 0h0m49 1h0m5 7h0m-20 4h0m-35 3h0m-2 2h0m10 2h0m38 2h0m-29 1h0m-11 2h0m-1 1h0m41 1h0m0 2h0m-43 4h0m33 0h0m8 1h0m-34 2h0m-13 1h0m43 1h0m14 2h0m-8 0h0m-33 1h0m2 3h0m23 5h0m16 2h0m-17 2h0m-40 3h0m38 1h0m20 2h0m-17 0h0m18 7h0m-51 4h0m22 0h0m-6 1h0m7 3h0m13 0h0m-8 2h0m18 15h0m-27 3h0m29 0h0m-23 1h0m14 4h0m-23 0h0m18 7h0m-30 1h0m3 5h0m40 1h0m-41 3h0m10 1h0m27 2h0m0 8h0m-48 3h0m20 4h0m-18 0h0m1 1h0m45 0h0m-10 1h0m0 2h0m-1 1h0m-39 3h0m38 3h0m1 1h0m-16 0h0m23 1h0m-23 1h0m-23 0h0m42 1h0m-39 1h0m33 2h0m-26 1h0m15 0h0m18 2h0m-26 2h0m-15 1h0m22 4h0m-2 2h0m-20 0h0m11 0h0m9 1h0m27 0h0m-18 1h0m18 2h0m-11 2h0m-29 1h0m47 0h0m-29 0h0m-10 1h0m-14 3h0m42 2h0m-3 1h0m9 2h0m-5 0h0m-9 0h0m10 2h0m-33 6h0m33 1h0m-2 0h0m-35 0h0m32 2h0m-16 0h0m15 1h0m10 0h0m3 3h0m-8 3h0m-15 1h0m12 1h0m1 5h0m-35 1h0m6 1h0m12 4h0m-10 1h0m-11 1h0m32 2h0m10 1h0m-17 4h0m22 1h0m-34 1h0m-1 1h0m-3 0h0m-14 0h0m25 2h0m0 1h0m17 2h0m0 4h0m10 2h0m-3 0h0m-15 2h0m-25 3h0m-3 3h0m-3 1h0m-4 1h0m8 0h0m6 0h0m-3 2h0m26 0h0m-33 1h0m0 1h0m26 7h0m27 0h0m1 0h0m-19 0h0m-6 6h0m-16 1h0m29 5h0m-2 5h0m-43 0h0m23 1h0m31 0h0m-3 2h0m2 3h0m-23 2h0m26 0h0m-19 3h0m5 3h0m9 1h0m-34 0h0m26 0h0m-17 1h0m-28 1h0m46 1h0m2 1h0m-40 2h0m14 3h0m31 1h0m-1 1h0m-42 1h0m6 0h0m20 4h0m-23 3h0m-4 1h0m17 1h0m-15 0h0m43 3h0m-8 0h0m-4 1h0m6 2h0m8 2h0m-32 5h0m22 4h0m-26 2h0m17 1h0m8 4h0m-39 1h0m15 1h0m25 1h0m-3 0h0m-12 1h0m-19 2h0m28 0h0m-5 0h0m-1 5h0m-24 1h0m16 3h0m20 8h0m-23 0h0m-9 8h0m11 1h0m4 3h0m23 5h0m-5 0h0m10 1h0m-43 1h0m6 0h0m28 0h0m-44 2h0m12 2h0m-4 7h0m35 6h0m-46 1h0m54 1h0m-39 1h0m-2 7h0m42 2h0m-26 1h0m25 1h0m-51 0h0m53 1h0m-27 4h0m6 1h0m12 11h0m7 1h0m2 5h0m-45 0h0m40 1h0m-8 1h0m9 2h0m-14 1h0m-38 1h0m8 1h0m-4 1h0m54 2h0m-54 4h0m-3 7h0m19 3h0m-6 1h0m27 1h0m12 3h0m-20 4h0m-26 2h0m17 1h0m-1 0h0m-3 1h0m21 0h0m-23 4h0m21 4h0m-2 1h0m-33 6h0m23 0h0m-26 2h0m47 6h0m-40 2h0m-8 6h0m0 5h0m28 10h0m16 1h0m-20 4h0m-1 3h0m27 1h0m-48 1h0m1 1h0m43 1h0m-34 4h0m-8 1h0m15 2h0m13 2h0m2 10h0m-19 15h0m27 0h0m-30 3h0m-2 13h0m32 19h0m-35 1h0m-2 19h0m45 2h0m-29 1h0m-12 7h0m13 0h0m28 7h0m-20 4h0m3 29h0m6 14h0m-36 45h0m35 160h0m71-1523h0m-48 5h0m45 14h0m-4 1h0m-30 51h0m2 29h0m10 4h0m14 8h0m19 1h0m-45 23h0m11 40h0m-18 1h0m27 21h0m-2 19h0m-16 3h0m-3 1h0m36 0h0m-32 7h0m6 6h0m15 7h0m-36 4h0m40 3h0m-14 2h0m12 12h0m-37 2h0m15 18h0m3 1h0m-17 2h0m22 1h0m22 7h0m2 6h0m-4 23h0m-1 0h0m-44 3h0m48 1h0m-15 4h0m-29 1h0m29 2h0m-1 2h0m-20 11h0m-8 2h0m29 0h0m7 1h0m-39 2h0m29 1h0m-22 4h0m1 5h0m20 2h0m-9 6h0m-2 1h0m40 3h0m-47 6h0m3 3h0m-5 6h0m23 3h0m15 10h0m9 9h0m-30 4h0m-24 16h0m38 1h0m13 2h0m-2 8h0m2 3h0m-2 3h0m-44 2h0m25 14h0m-1 12h0m-9 3h0m27 6h0m4 5h0m-39 3h0m22 0h0m-5 6h0m26 1h0m-23 3h0m-23 1h0m24 1h0m-29 2h0m16 0h0m-22 0h0m27 7h0m-14 8h0m11 2h0m-3 1h0m34 4h0m-1 3h0m-6 7h0m-6 0h0m-33 4h0m50 2h0m-26 5h0m21 4h0m2 6h0m-34 7h0m-15 1h0m51 0h0m-54 2h0m9 1h0m32 12h0m12 7h0m-45 14h0m-6 0h0m50 2h0m-18 16h0m-30 1h0m14 6h0m30 2h0m-15 3h0m-11 0h0m16 0h0m10 5h0m-52 1h0m13 3h0m8 0h0m12 5h0m18 4h0m-51 1h0m47 3h0m-38 9h0m-5 4h0m47 1h0m-43 0h0m47 1h0m-39 3h0m20 0h0m-19 3h0m25 1h0m-15 2h0m8 1h0m24 5h0m-17 3h0m-42 2h0m6 3h0m22 1h0m11 1h0m6 0h0m-41 1h0m18 1h0m-8 0h0m6 5h0m9 7h0m14 1h0m-19 2h0m-13 0h0m-9 2h0m7 0h0m7 2h0m9 1h0m-18 3h0m31 2h0m13 3h0m-26 2h0m-1 1h0m11 7h0m6 0h0m2 7h0m-28 0h0m27 2h0m15 1h0m-54 0h0m22 1h0m24 4h0m-5 0h0m0 1h0m-19 3h0m-24 3h0m41 2h0m8 2h0m4 1h0m-5 2h0m-45 2h0m17 1h0m23 4h0m-6 3h0m-19 0h0m8 1h0m8 4h0m-30 2h0m34 5h0m-36 7h0m54 1h0m-47 2h0m31 3h0m-20 1h0m38 1h0m-17 2h0m-14 5h0m-5 1h0m-20 3h0m8 1h0m-2 2h0m34 1h0m-6 0h0m-12 0h0m-11 5h0m-14 4h0m59 1h0m-57 3h0m2 3h0m38 0h0m-34 0h0m50 1h0m-4 0h0m-12 3h0m2 0h0m6 1h0m-36 3h0m-13 2h0m54 2h0m-6 3h0m-5 1h0m1 1h0m7 0h0m-47 0h0m4 4h0m32 2h0m1 1h0m-41 1h0m52 0h0m-42 1h0m20 1h0m1 4h0m-10 0h0m21 3h0m-37 1h0m36 3h0m6 4h0m2 2h0m3 4h0m-36 0h0m-7 3h0m25 2h0m23 1h0m-13 1h0m8 2h0m-49 1h0m31 2h0m-11 0h0m1 0h0m-3 1h0m11 0h0m-4 2h0m-15 1h0m6 1h0m-18 2h0m55 2h0m-30 2h0m-17 1h0m31 2h0m-3 2h0m11 1h0m-26 1h0m13 0h0m-22 4h0m34 3h0m11 1h0m-52 3h0m4 0h0m43 4h0m-27 4h0m6 2h0m16 2h0m9 1h0m-45 2h0m-2 1h0m4 2h0m36 1h0m-6 0h0m-1 3h0m-1 2h0m-42 4h0m45 0h0m-39 1h0m15 1h0m1 2h0m-21 1h0m52 1h0m-31 0h0m-23 3h0m35 0h0m10 2h0m-10 1h0m-19 0h0m40 1h0m-7 1h0m-14 2h0m3 0h0m9 1h0m6 2h0m2 2h0m-12 4h0m-27 1h0m41 1h0m-10 1h0m4 2h0m-11 2h0m13 1h0m-10 0h0m4 1h0m4 1h0m3 1h0m-12 2h0m-7 1h0m22 4h0m-24 1h0m3 1h0m14 1h0m-43 1h0m37 1h0m9 1h0m-26 0h0m-22 0h0m43 2h0m-39 0h0m46 8h0m-44 1h0m-10 0h0m39 3h0m-39 2h0m46 2h0m-27 1h0m35 4h0m-31 1h0m22 2h0m-31 1h0m32 0h0m-27 1h0m-8 3h0m20 3h0m-12 1h0m-12 0h0m25 1h0m-18 0h0m9 1h0m-13 0h0m26 0h0m-5 3h0m2 0h0m18 2h0m-39 1h0m29 0h0m5 2h0m-3 0h0m-37 4h0m0 0h0m41 4h0m-2 2h0m-20 2h0m30 0h0m-50 2h0m40 0h0m-24 0h0m23 0h0m-20 2h0m-24 3h0m40 3h0m-33 4h0m37 7h0m5 0h0m-46 1h0m49 1h0m-42 2h0m47 2h0m-11 2h0m5 4h0m-46 3h0m40 1h0m-9 6h0m-7 1h0m23 6h0m-20 1h0m-20 3h0m-13 3h0m18 0h0m-1 1h0m14 4h0m-28 0h0m45 3h0m0 0h0m-45 1h0m2 3h0m45 0h0m-50 3h0m11 11h0m5 3h0m29 3h0m-36 0h0m20 1h0m-19 2h0m29 1h0m20 1h0m-43 1h0m22 0h0m-2 2h0m-5 1h0m-28 4h0m22 0h0m31 10h0m-3 1h0m-20 1h0m19 0h0m-2 3h0m-28 0h0m11 0h0m2 3h0m-2 3h0m-5 3h0m17 0h0m-21 3h0m31 4h0m-18 1h0m-12 1h0m29 4h0m-11 1h0m-42 8h0m8 2h0m7 2h0m20 4h0m-16 2h0m29 0h0m3 2h0m-43 12h0m3 16h0m40 3h0m-6 3h0m11 4h0m-15 3h0m-40 1h0m15 3h0m28 10h0m-15 0h0m-8 1h0m19 17h0m-11 5h0m-16 8h0m34 1h0m-45 6h0m42 5h0m-39 6h0m10 31h0m-1 3h0m33 7h0m-35 27h0m46 3h0m0 11h0m-50 6h0m44 4h0m-51 5h0m36 24h0m20 4h0m-49 98h0m52-1703h0m46 193h0m-21 41h0m-25 7h0m42 5h0m-24 1h0m15 1h0m-1 14h0m22 16h0m-33 0h0m-13 34h0m27 3h0m-24 1h0m37 5h0m-24 17h0m3 14h0m-2 10h0m12 7h0m-38 5h0m13 4h0m17 3h0m17 7h0m-45 1h0m38 5h0m-14 5h0m33 3h0m-2 2h0m-22 27h0m-17 5h0m11 6h0m-24 2h0m52 5h0m-42 0h0m-5 3h0m26 2h0m-30 2h0m4 23h0m35 5h0m-6 0h0m-14 9h0m1 4h0m8 4h0m-11 3h0m-13 6h0m40 3h0m-16 10h0m-8 5h0m15 7h0m-7 10h0m-27 5h0m13 2h0m-17 5h0m14 9h0m-17 5h0m31 6h0m22 8h0m-9 3h0m4 4h0m-38 3h0m30 6h0m-8 1h0m-4 3h0m16 3h0m-26 9h0m-3 0h0m7 1h0m-18 1h0m45 5h0m-22 3h0m10 1h0m-23 9h0m9 6h0m23 1h0m-42 1h0m36 1h0m0 17h0m-31 7h0m36 2h0m10 9h0m-30 7h0m-9 1h0m-2 4h0m-13 5h0m38 3h0m-2 5h0m7 3h0m-43 1h0m31 0h0m-31 3h0m9 2h0m27 7h0m-33 0h0m49 0h0m-9 2h0m11 1h0m-1 1h0m-34 5h0m-11 2h0m-1 2h0m14 3h0m23 4h0m-43 2h0m16 1h0m7 1h0m4 6h0m-16 12h0m39 1h0m-35 0h0m-13 2h0m13 2h0m7 6h0m-14 2h0m7 2h0m26 3h0m-17 3h0m-15 5h0m-8 4h0m29 3h0m-28 2h0m10 4h0m4 1h0m12 0h0m-26 1h0m8 4h0m23 1h0m24 1h0m-44 4h0m24 0h0m-30 0h0m50 1h0m-22 1h0m-18 1h0m16 4h0m1 1h0m18 2h0m-36 4h0m37 0h0m-16 0h0m11 0h0m-31 2h0m34 0h0m-22 2h0m22 3h0m1 3h0m-27 4h0m-9 3h0m-17 1h0m27 0h0m29 0h0m-35 1h0m24 1h0m-29 0h0m24 1h0m-8 4h0m6 0h0m-30 4h0m7 1h0m-15 5h0m15 2h0m10 1h0m-18 4h0m51 7h0m-6 5h0m-48 2h0m15 1h0m-5 0h0m44 0h0m-5 6h0m-19 5h0m2 6h0m-11 1h0m-10 3h0m31 1h0m-14 0h0m4 0h0m8 1h0m-33 0h0m44 1h0m-10 0h0m-38 1h0m1 0h0m48 6h0m-29 2h0m-18 0h0m23 2h0m-2 5h0m-15 3h0m34 1h0m5 5h0m0 0h0m-4 2h0m-33 0h0m29 1h0m1 1h0m-10 5h0m12 2h0m-17 0h0m-4 1h0m-6 5h0m27 3h0m5 2h0m-49 2h0m51 1h0m-13 2h0m-13 0h0m18 1h0m-23 0h0m4 0h0m28 0h0m-4 2h0m-52 2h0m9 4h0m-2 4h0m22 8h0m-29 4h0m29 2h0m-17 1h0m31 1h0m-25 1h0m39 1h0m-38 1h0m-17 3h0m51 2h0m-5 1h0m-23 0h0m-23 1h0m51 5h0m-17 7h0m-26 1h0m2 3h0m18 0h0m-9 2h0m-19 0h0m20 2h0m29 0h0m-20 0h0m-33 0h0m2 4h0m57 1h0m-58 0h0m35 2h0m-31 5h0m18 9h0m16 1h0m-28 0h0m12 0h0m10 2h0m-13 1h0m-16 1h0m-1 1h0m32 1h0m-3 8h0m9 2h0m-19 1h0m-9 2h0m32 0h0m-40 2h0m-3 1h0m14 1h0m-2 7h0m17 4h0m-13 3h0m37 3h0m4 1h0m-50 0h0m15 2h0m2 1h0m16 0h0m-32 2h0m37 1h0m-2 5h0m-32 1h0m16 4h0m4 5h0m3 1h0m3 6h0m-4 0h0m5 0h0m1 2h0m-31 0h0m0 2h0m-8 0h0m45 0h0m1 1h0m-43 4h0m46 0h0m-45 1h0m23 0h0m-9 3h0m-15 2h0m44 1h0m-41 2h0m1 0h0m-9 4h0m43 1h0m-23 1h0m-4 1h0m-11 3h0m48 1h0m-29 3h0m8 1h0m8 1h0m4 1h0m-40 1h0m25 3h0m-2 3h0m10 2h0m-17 3h0m11 6h0m-31 0h0m25 7h0m-11 2h0m4 0h0m28 6h0m-25 0h0m-7 0h0m5 3h0m26 0h0m-36 1h0m30 0h0m-29 5h0m14 3h0m-6 1h0m-3 1h0m4 0h0m7 1h0m-12 0h0m11 2h0m-24 14h0m53 1h0m-8 7h0m-11 1h0m-28 13h0m-2 4h0m44 3h0m10 10h0m-14 0h0m-26 6h0m32 1h0m-19 3h0m-5 1h0m29 1h0m-37 1h0m25 1h0m5 3h0m9 9h0m-28 7h0m-3 1h0m11 4h0m-33 3h0m28 1h0m-25 4h0m44 8h0m-27 3h0m-25 0h0m7 2h0m51 5h0m-55 1h0m21 1h0m33 1h0m-50 1h0m42 10h0m-43 4h0m43 1h0m-26 3h0m35 5h0m-49 3h0m33 3h0m7 1h0m-48 1h0m26 1h0m-26 5h0m41 2h0m15 5h0m-8 1h0m-39 0h0m34 0h0m-12 7h0m25 2h0m-29 0h0m-22 4h0m8 1h0m19 3h0m-12 5h0m-9 12h0m-1 4h0m14 9h0m28 6h0m-1 3h0m-25 4h0m19 0h0m-17 8h0m-12 2h0m22 1h0m-28 9h0m-5 33h0m10 4h0m41 11h0m-2 9h0m-42 4h0m8 17h0m28 0h0m-34 10h0m-3 129h0m31 4h0m15 15h0m42-1617h0m-12 97h0m23 58h0m1 1h0m6 4h0m-26 58h0m-22 20h0m-2 7h0m16 12h0m24 6h0m-23 5h0m20 15h0m12 14h0m-18 8h0m-38 2h0m31 44h0m-24 17h0m-3 4h0m19 7h0m-21 1h0m36 2h0m4 0h0m-12 13h0m-26 4h0m10 4h0m28 9h0m9 5h0m-6 3h0m13 23h0m-8 3h0m-49 5h0m40 2h0m-10 0h0m-17 2h0m12 0h0m-1 5h0m-25 2h0m58 2h0m-37 4h0m-14 2h0m35 5h0m-41 5h0m-1 0h0m31 1h0m-18 1h0m41 7h0m-33 16h0m-8 8h0m-14 6h0m9 3h0m40 4h0m9 4h0m-42 4h0m37 1h0m-40 2h0m25 2h0m-6 3h0m25 15h0m-36 4h0m18 1h0m0 3h0m-7 0h0m11 2h0m9 5h0m-52 5h0m16 6h0m38 10h0m-7 11h0m-14 5h0m-26 3h0m31 7h0m-15 3h0m-22 1h0m28 1h0m24 1h0m-32 3h0m-3 5h0m6 15h0m-24 4h0m50 7h0m-43 6h0m13 1h0m21 3h0m-4 2h0m8 3h0m-27 2h0m14 2h0m-18 1h0m41 6h0m-20 1h0m-34 2h0m43 1h0m-28 1h0m31 1h0m2 3h0m-10 1h0m-24 7h0m6 3h0m-10 1h0m28 1h0m-13 2h0m1 2h0m5 3h0m11 9h0m12 11h0m-13 5h0m13 5h0m-6 3h0m-46 6h0m28 2h0m-23 0h0m29 2h0m4 3h0m1 2h0m-2 1h0m19 2h0m-36 1h0m-19 3h0m9 4h0m8 1h0m8 0h0m-23 8h0m27 3h0m0 3h0m18 1h0m-26 3h0m12 6h0m19 1h0m-22 1h0m5 1h0m-13 1h0m6 1h0m4 0h0m-14 2h0m10 1h0m27 5h0m-21 1h0m-38 3h0m11 2h0m47 3h0m-23 2h0m20 3h0m-41 3h0m31 0h0m5 2h0m-26 1h0m3 0h0m-9 2h0m29 2h0m-8 2h0m-36 1h0m11 1h0m40 1h0m-29 3h0m-25 3h0m35 1h0m23 5h0m-31 0h0m4 0h0m-4 0h0m14 6h0m-41 2h0m3 6h0m31 0h0m20 1h0m-23 5h0m-24 1h0m32 0h0m1 0h0m-8 2h0m-31 4h0m58 3h0m-2 0h0m-29 4h0m17 1h0m-35 1h0m10 1h0m24 1h0m3 0h0m-18 1h0m-8 3h0m27 0h0m-14 0h0m20 1h0m3 1h0m-14 6h0m-10 2h0m13 1h0m-24 2h0m-9 1h0m31 1h0m13 0h0m-45 3h0m-6 6h0m38 1h0m-2 0h0m-24 4h0m38 2h0m-46 0h0m30 4h0m-36 1h0m5 4h0m39 4h0m-37 2h0m-2 1h0m-4 4h0m25 0h0m-18 1h0m8 2h0m29 1h0m-28 0h0m-14 0h0m24 2h0m21 6h0m-18 0h0m-7 1h0m-12 0h0m-9 2h0m48 3h0m-28 0h0m-16 1h0m-1 2h0m39 1h0m-11 1h0m0 1h0m22 0h0m-38 3h0m6 3h0m32 0h0m-55 0h0m16 1h0m26 7h0m-7 1h0m20 1h0m-47 1h0m-6 3h0m16 0h0m36 0h0m-25 2h0m-22 2h0m19 1h0m23 2h0m6 1h0m-44 1h0m-2 1h0m26 1h0m-20 0h0m5 0h0m17 1h0m15 0h0m1 1h0m-28 1h0m-8 1h0m33 0h0m-11 2h0m-10 2h0m-2 4h0m-3 1h0m-13 1h0m28 0h0m-2 1h0m-37 1h0m7 2h0m4 1h0m33 0h0m-24 0h0m-19 2h0m13 4h0m12 4h0m-19 1h0m8 1h0m14 1h0m-14 2h0m33 3h0m2 0h0m-13 0h0m-14 5h0m-7 2h0m-10 0h0m34 0h0m-8 1h0m13 1h0m-1 4h0m-39 0h0m38 3h0m-30 4h0m5 4h0m32 0h0m-32 3h0m3 5h0m3 3h0m6 4h0m13 0h0m-10 1h0m-7 5h0m13 2h0m-39 0h0m10 1h0m44 0h0m-11 2h0m-2 3h0m-26 2h0m0 1h0m-5 1h0m17 1h0m6 2h0m19 2h0m-24 4h0m24 1h0m-53 1h0m21 1h0m-20 1h0m31 1h0m-16 3h0m-2 4h0m35 1h0m-5 7h0m-32 1h0m42 3h0m-34 1h0m-13 0h0m18 4h0m-1 3h0m-21 1h0m49 0h0m-27 3h0m0 1h0m4 3h0m22 2h0m-31 1h0m33 1h0m-12 3h0m-8 2h0m14 0h0m-10 1h0m-15 3h0m-3 1h0m-13 2h0m11 2h0m-20 2h0m5 5h0m43 4h0m-16 5h0m-11 2h0m-19 2h0m15 3h0m27 4h0m2 0h0m6 1h0m-24 4h0m-19 2h0m30 3h0m6 1h0m11 5h0m-34 1h0m32 2h0m-12 7h0m4 2h0m-46 1h0m25 0h0m24 3h0m-22 1h0m-24 0h0m55 1h0m-42 2h0m39 2h0m-46 2h0m16 5h0m-23 2h0m50 4h0m-7 2h0m3 3h0m7 0h0m-20 4h0m7 0h0m-34 2h0m5 3h0m35 1h0m-18 8h0m-12 4h0m0 2h0m-15 0h0m3 2h0m9 2h0m8 9h0m8 0h0m5 9h0m13 2h0m2 2h0m-22 4h0m12 8h0m13 2h0m-49 0h0m34 2h0m-15 3h0m17 6h0m-24 3h0m26 2h0m9 0h0m-28 4h0m-24 29h0m18 5h0m9 5h0m11 22h0m0 2h0m-20 9h0m26 13h0m-27 2h0m10 3h0m-3 23h0m3 0h0m-25 6h0m22 2h0m12 56h0m-15 2h0m15 28h0m-32 65h0m85-1559h0m24 33h0m-29 4h0m28 17h0m-42 71h0m14 16h0m-15 12h0m48 35h0m-26 4h0m17 1h0m-15 12h0m-11 1h0m26 12h0m4 2h0m5 15h0m-57 14h0m24 3h0m-2 26h0m-20 9h0m16 1h0m30 6h0m-4 1h0m-42 11h0m0 13h0m39 2h0m-23 2h0m24 5h0m-27 11h0m-11 4h0m27 3h0m-17 6h0m43 14h0m-3 6h0m-47 12h0m32 9h0m-35 10h0m53 14h0m-38 1h0m15 12h0m10 4h0m-12 6h0m18 2h0m-29 6h0m17 1h0m8 0h0m-44 2h0m18 27h0m9 14h0m25 1h0m-7 0h0m-30 1h0m0 1h0m-15 5h0m9 6h0m1 4h0m-5 1h0m47 14h0m-29 5h0m7 1h0m26 2h0m-36 5h0m33 6h0m-53 16h0m45 4h0m4 4h0m-30 5h0m10 2h0m-4 5h0m20 0h0m-3 3h0m-24 2h0m18 1h0m0 2h0m-37 3h0m49 3h0m-49 0h0m15 0h0m21 9h0m11 3h0m-46 1h0m22 5h0m4 1h0m-25 4h0m4 1h0m40 5h0m-26 7h0m37 12h0m-29 3h0m17 6h0m-41 16h0m21 3h0m26 5h0m-44 4h0m22 8h0m4 4h0m-7 9h0m6 10h0m14 0h0m5 5h0m-52 1h0m50 9h0m-2 3h0m-6 1h0m-31 1h0m30 1h0m6 2h0m7 1h0m-28 1h0m-2 3h0m8 4h0m-2 0h0m11 2h0m-20 1h0m25 0h0m4 2h0m-34 5h0m40 2h0m-30 6h0m1 0h0m29 4h0m-7 1h0m-42 0h0m43 2h0m-38 8h0m39 1h0m-46 0h0m10 6h0m3 1h0m34 0h0m-46 4h0m11 2h0m36 6h0m-36 2h0m24 1h0m15 1h0m-32 4h0m-15 1h0m18 4h0m-17 0h0m12 1h0m-12 3h0m3 1h0m7 3h0m22 10h0m-19 0h0m34 5h0m-5 5h0m-6 0h0m-41 2h0m34 2h0m0 0h0m2 5h0m10 0h0m-49 0h0m7 1h0m32 2h0m-15 0h0m-18 4h0m-7 3h0m58 3h0m-54 2h0m53 3h0m-26 1h0m15 9h0m-10 2h0m17 1h0m-23 0h0m-26 1h0m31 3h0m-28 1h0m8 2h0m3 2h0m-18 1h0m33 0h0m-4 1h0m-13 1h0m16 0h0m4 3h0m1 2h0m8 3h0m-40 1h0m37 11h0m3 3h0m-18 5h0m-25 1h0m14 1h0m-9 0h0m38 1h0m-15 2h0m-15 5h0m12 1h0m18 3h0m-31 2h0m21 1h0m-18 1h0m6 1h0m-15 1h0m3 2h0m21 6h0m-20 0h0m-6 3h0m39 3h0m10 2h0m-49 4h0m8 3h0m26 5h0m9 1h0m6 1h0m-33 5h0m12 0h0m-21 1h0m12 2h0m-9 4h0m-1 1h0m11 0h0m31 2h0m-2 1h0m-18 1h0m-16 0h0m-8 1h0m33 7h0m-22 4h0m-11 4h0m-13 1h0m51 1h0m-19 3h0m-33 1h0m13 0h0m33 0h0m-15 3h0m-17 0h0m25 3h0m3 1h0m-20 0h0m25 5h0m-37 4h0m7 0h0m10 5h0m-14 1h0m-4 1h0m14 1h0m-4 2h0m-13 0h0m45 1h0m-26 0h0m-12 0h0m-4 2h0m35 1h0m-18 0h0m-2 4h0m8 8h0m17 0h0m-40 0h0m5 5h0m-3 0h0m27 1h0m16 2h0m-2 2h0m4 0h0m-21 3h0m-19 1h0m22 0h0m-34 1h0m28 3h0m1 2h0m-5 2h0m31 1h0m-7 4h0m-16 0h0m-14 1h0m-11 3h0m46 0h0m-29 3h0m26 3h0m-39 8h0m-10 0h0m39 0h0m-10 1h0m-19 2h0m3 2h0m26 0h0m-23 1h0m15 0h0m-19 2h0m13 3h0m6 1h0m0 2h0m-13 4h0m4 0h0m0 2h0m15 1h0m-20 1h0m33 4h0m-28 2h0m-16 3h0m29 0h0m-5 6h0m-4 3h0m-9 0h0m35 1h0m-57 3h0m42 3h0m-39 2h0m5 6h0m0 0h0m0 2h0m-5 0h0m14 1h0m39 9h0m-44 4h0m37 2h0m-45 2h0m25 2h0m-24 3h0m11 1h0m-2 1h0m6 1h0m14 0h0m-32 5h0m22 2h0m4 1h0m-21 0h0m35 2h0m-29 1h0m1 1h0m11 3h0m27 2h0m-43 1h0m46 3h0m-30 8h0m10 3h0m6 1h0m-13 0h0m8 11h0m-26 2h0m29 4h0m-23 1h0m-4 0h0m19 0h0m19 7h0m-29 3h0m19 0h0m-38 16h0m40 7h0m3 4h0m-41 7h0m-1 11h0m9 0h0m38 2h0m7 2h0m-2 3h0m-20 2h0m-27 2h0m17 3h0m10 2h0m-23 5h0m11 0h0m-11 1h0m9 3h0m-5 8h0m-1 0h0m33 9h0m0 7h0m-20 2h0m-24 0h0m20 13h0m-10 6h0m28 32h0m11 31h0m-17 9h0m-32 35h0m55 37h0m-42 30h0m83-1543h0m-8 124h0m-29 17h0m35 22h0m-15 22h0m20 8h0m-32 1h0m24 19h0m-25 13h0m46 3h0m-39 47h0m22 57h0m0 7h0m-15 5h0m16 11h0m16 8h0m-49 14h0m41 20h0m-3 8h0m-36 4h0m0 2h0m-1 12h0m37 7h0m-23 1h0m-21 8h0m16 6h0m-15 6h0m13 29h0m33 20h0m-6 1h0m10 3h0m-41 8h0m16 0h0m4 5h0m-6 1h0m-23 2h0m1 13h0m29 2h0m0 5h0m23 2h0m-49 2h0m5 9h0m33 0h0m-44 6h0m13 0h0m45 2h0m-29 6h0m-9 28h0m33 5h0m-21 6h0m-6 3h0m-17 3h0m29 1h0m-21 3h0m37 1h0m-40 5h0m-8 2h0m39 9h0m4 2h0m-17 1h0m-21 5h0m35 6h0m-35 4h0m34 3h0m12 6h0m-52 14h0m0 2h0m10 2h0m-8 3h0m41 13h0m-17 5h0m26 0h0m-26 2h0m6 5h0m-22 7h0m3 4h0m3 3h0m9 10h0m-27 5h0m-3 5h0m2 3h0m49 1h0m-42 8h0m0 1h0m26 8h0m5 3h0m11 16h0m-16 1h0m21 1h0m-40 2h0m-11 2h0m15 3h0m17 0h0m10 7h0m-29 1h0m37 14h0m-12 4h0m10 5h0m-40 4h0m10 3h0m4 1h0m-27 2h0m35 1h0m-35 2h0m44 3h0m6 3h0m-17 2h0m10 0h0m-34 0h0m-7 4h0m20 2h0m-21 4h0m42 3h0m11 2h0m-29 1h0m5 7h0m26 2h0m-29 1h0m30 1h0m-13 2h0m0 1h0m-25 0h0m-6 1h0m46 0h0m-28 2h0m2 2h0m-7 2h0m-22 1h0m52 2h0m-31 1h0m-25 4h0m18 3h0m-12 3h0m3 1h0m49 1h0m-10 1h0m1 2h0m-17 1h0m-29 3h0m14 1h0m23 1h0m-8 0h0m2 0h0m9 2h0m-40 2h0m6 2h0m11 3h0m5 5h0m10 1h0m-24 3h0m-11 0h0m15 1h0m5 0h0m5 0h0m13 2h0m-32 4h0m37 4h0m-10 4h0m-10 0h0m23 3h0m11 7h0m-39 1h0m27 2h0m-10 0h0m-22 1h0m25 6h0m-29 1h0m48 2h0m-35 1h0m-10 4h0m26 2h0m7 3h0m-27 2h0m-12 1h0m13 2h0m-15 2h0m25 0h0m14 3h0m1 1h0m-22 1h0m10 0h0m-25 4h0m37 2h0m-12 1h0m-21 1h0m38 1h0m-22 4h0m-19 5h0m-7 2h0m27 0h0m29 3h0m-53 2h0m-1 1h0m39 1h0m7 0h0m-35 1h0m0 0h0m24 1h0m16 0h0m-17 3h0m15 0h0m-31 0h0m-17 0h0m21 2h0m14 2h0m-36 2h0m18 6h0m23 1h0m-8 2h0m0 11h0m-21 4h0m43 1h0m-44 2h0m-4 1h0m15 1h0m-2 0h0m33 3h0m-39 8h0m24 0h0m-12 0h0m12 1h0m-38 2h0m37 0h0m0 2h0m-2 2h0m-28 2h0m26 8h0m-26 4h0m43 4h0m-52 0h0m34 3h0m-27 0h0m7 8h0m-11 4h0m32 4h0m-10 1h0m-6 5h0m32 2h0m2 5h0m-9 1h0m5 4h0m-26 0h0m11 5h0m8 2h0m-2 4h0m-1 2h0m16 1h0m-12 2h0m11 3h0m-35 0h0m-16 3h0m26 3h0m-15 2h0m-14 8h0m36 2h0m-6 0h0m-1 1h0m-19 4h0m-3 3h0m33 1h0m-14 3h0m0 2h0m18 1h0m-40 3h0m32 1h0m-7 4h0m-19 12h0m28 10h0m8 10h0m-34 1h0m45 1h0m-20 3h0m-11 2h0m30 0h0m-30 5h0m-14 3h0m2 2h0m32 1h0m10 2h0m-34 13h0m13 2h0m3 1h0m-4 0h0m23 8h0m-13 5h0m14 4h0m-5 17h0m-30 1h0m3 7h0m16 8h0m-36 3h0m21 15h0m28 4h0m-26 5h0m11 5h0m8 1h0m-26 3h0m-8 8h0m5 8h0m2 2h0m-2 10h0m15 3h0m19 20h0m-24 13h0m15 5h0m-27 13h0m10 13h0m-16 51h0m11 15h0m8 2h0m-30 68h0m70-1663h0m5 299h0m29 19h0m0 63h0m-26 45h0m-7 10h0m-6 14h0m12 2h0m-3 3h0m-8 5h0m1 15h0m48 7h0m-33 23h0m16 3h0m-35 24h0m34 12h0m-16 1h0m-18 6h0m-4 1h0m42 3h0m13 10h0m-35 16h0m31 0h0m-39 1h0m35 12h0m-16 1h0m-31 1h0m42 9h0m-14 6h0m-20 30h0m12 29h0m-8 16h0m4 2h0m13 9h0m-6 15h0m-23 3h0m12 4h0m2 2h0m-10 4h0m25 4h0m1 2h0m11 12h0m-24 4h0m11 7h0m-13 5h0m-8 3h0m11 1h0m29 7h0m-43 10h0m49 7h0m-15 3h0m10 3h0m-42 6h0m-5 1h0m51 9h0m-37 0h0m-12 9h0m4 3h0m2 2h0m29 7h0m-9 2h0m15 5h0m-15 1h0m23 1h0m-48 0h0m47 2h0m-28 0h0m-9 1h0m40 3h0m-40 3h0m18 10h0m8 0h0m1 0h0m-21 8h0m-2 1h0m-2 6h0m9 1h0m6 5h0m1 4h0m3 1h0m-4 1h0m18 5h0m-44 1h0m50 1h0m-10 1h0m11 2h0m-24 1h0m3 3h0m20 3h0m-3 2h0m-21 2h0m15 5h0m-34 3h0m38 1h0m7 6h0m-55 1h0m23 3h0m-2 3h0m31 3h0m-27 1h0m-17 5h0m7 0h0m-8 1h0m14 1h0m23 1h0m-14 1h0m9 1h0m-8 2h0m-18 2h0m-10 1h0m20 3h0m18 2h0m-31 1h0m2 4h0m34 8h0m-12 0h0m12 0h0m-44 0h0m41 3h0m8 0h0m-7 4h0m-14 2h0m-13 2h0m6 0h0m-5 4h0m13 1h0m-13 0h0m-16 2h0m4 1h0m-1 1h0m33 7h0m11 5h0m-25 1h0m-24 4h0m-1 5h0m12 1h0m8 0h0m-18 3h0m40 2h0m-23 7h0m-18 8h0m28 0h0m-17 2h0m36 3h0m-43 1h0m18 1h0m5 0h0m-21 0h0m15 2h0m-14 3h0m7 3h0m6 0h0m-18 3h0m-4 6h0m13 0h0m24 1h0m22 1h0m-9 1h0m-24 2h0m19 0h0m-34 1h0m21 1h0m10 1h0m7 1h0m1 0h0m-46 1h0m13 0h0m-5 9h0m34 1h0m-27 1h0m5 2h0m-12 2h0m41 1h0m-3 0h0m-7 0h0m-39 2h0m42 1h0m8 0h0m-35 2h0m19 1h0m-31 0h0m24 1h0m-17 1h0m26 1h0m-25 3h0m27 2h0m-3 1h0m-14 1h0m33 1h0m-56 0h0m1 4h0m26 1h0m30 4h0m-20 0h0m-36 3h0m9 1h0m10 1h0m16 8h0m-38 1h0m14 1h0m39 1h0m3 3h0m-38 5h0m20 2h0m-19 1h0m-18 1h0m25 1h0m-14 0h0m8 1h0m-4 2h0m-7 0h0m13 2h0m31 0h0m-6 1h0m-2 1h0m-17 7h0m13 1h0m3 1h0m-12 0h0m-17 2h0m12 1h0m-5 2h0m-10 1h0m5 0h0m29 0h0m-21 2h0m31 0h0m-14 3h0m2 2h0m-13 4h0m-5 2h0m27 3h0m-9 0h0m-30 7h0m-4 1h0m-10 3h0m30 3h0m0 0h0m-14 0h0m0 2h0m38 3h0m-49 1h0m4 2h0m10 5h0m38 1h0m-34 4h0m7 0h0m13 8h0m-18 1h0m4 1h0m21 0h0m-12 3h0m-2 3h0m-21 0h0m-3 3h0m-7 3h0m-2 2h0m13 0h0m22 23h0m-6 3h0m6 0h0m-10 3h0m12 2h0m-21 7h0m33 2h0m-9 3h0m-10 1h0m-18 13h0m19 1h0m-1 2h0m20 0h0m-48 0h0m4 0h0m22 5h0m-1 1h0m9 9h0m10 3h0m-33 7h0m37 14h0m-45 15h0m44 7h0m-2 6h0m-22 6h0m-16 5h0m31 3h0m12 4h0m-26 11h0m4 1h0m16 9h0m-47 7h0m5 5h0m50 1h0m0 5h0m-52 2h0m21 14h0m28 5h0m-25 8h0m-14 3h0m36 3h0m-40 3h0m-8 20h0m55 2h0m-9 9h0m-49 3h0m44 15h0m-17 9h0m18 0h0m9 2h0m-35 5h0m26 16h0m-41 41h0m20 26h0m12 5h0m35-1492h0m-2 71h0m33 116h0m-17 17h0m15 60h0m-29 40h0m1 41h0m3 8h0m-11 64h0m25 16h0m-2 5h0m3 11h0m9 0h0m-8 11h0m-14 6h0m18 11h0m9 51h0m-43 38h0m15 9h0m-16 1h0m23 9h0m-3 11h0m32 15h0m-35 5h0m6 2h0m9 1h0m-18 1h0m23 6h0m5 1h0m2 17h0m-10 15h0m16 4h0m-32 2h0m-17 1h0m56 7h0m-4 7h0m-53 5h0m21 2h0m36 4h0m-11 10h0m-7 1h0m-34 1h0m33 1h0m12 3h0m-38 5h0m46 6h0m-52 5h0m22 2h0m-27 10h0m8 2h0m-2 4h0m25 1h0m-23 0h0m5 3h0m-4 2h0m29 3h0m0 3h0m2 4h0m-30 5h0m6 4h0m24 5h0m-20 1h0m20 4h0m-38 3h0m38 0h0m6 0h0m12 1h0m-9 2h0m-5 4h0m-8 0h0m-13 2h0m8 4h0m23 5h0m-19 17h0m-21 1h0m7 0h0m25 8h0m-7 8h0m-11 8h0m-15 0h0m11 4h0m13 1h0m13 0h0m-6 5h0m-36 0h0m16 3h0m-7 1h0m-12 2h0m-2 5h0m14 5h0m0 2h0m9 2h0m-12 3h0m9 3h0m28 7h0m3 1h0m-20 6h0m17 2h0m5 1h0m-2 3h0m-40 1h0m42 1h0m-20 0h0m-19 4h0m6 2h0m22 1h0m-13 0h0m14 1h0m-25 4h0m-6 10h0m28 2h0m-1 1h0m10 3h0m-53 0h0m17 1h0m7 5h0m-11 8h0m44 1h0m-46 0h0m29 1h0m1 3h0m-10 2h0m22 3h0m1 0h0m-24 4h0m-19 0h0m43 0h0m-3 10h0m-16 1h0m-10 1h0m-15 1h0m-6 2h0m21 1h0m-24 6h0m55 1h0m-36 3h0m6 5h0m13 6h0m-13 4h0m-6 3h0m10 0h0m11 5h0m-12 0h0m1 3h0m-9 5h0m23 11h0m13 0h0m-49 1h0m37 12h0m-19 2h0m-21 0h0m29 1h0m-28 7h0m15 3h0m4 2h0m12 3h0m-29 0h0m5 2h0m15 0h0m-25 0h0m17 1h0m-15 7h0m33 1h0m2 4h0m-34 3h0m2 3h0m27 3h0m21 5h0m-30 0h0m0 5h0m11 1h0m-18 0h0m0 2h0m11 6h0m-13 3h0m25 4h0m-2 2h0m6 0h0m-2 1h0m-30 1h0m1 0h0m-9 2h0m3 2h0m21 14h0m-1 2h0m-5 0h0m-23 3h0m41 0h0m-38 5h0m33 1h0m-3 2h0m20 3h0m-44 4h0m19 14h0m-18 1h0m41 11h0m-42 2h0m-10 2h0m31 5h0m-5 0h0m-8 1h0m28 8h0m10 3h0m-24 3h0m-18 2h0m6 3h0m36 8h0m-48 4h0m-2 2h0m44 11h0m-40 1h0m15 12h0m3 0h0m19 1h0m-2 9h0m0 9h0m-6 1h0m-5 3h0m-3 10h0m-23 13h0m37 1h0m-19 0h0m-22 2h0m-2 5h0m39 19h0m12 4h0m-45 2h0m3 26h0m22 9h0m-13 6h0m16 1h0m-34 17h0m21 0h0m18 20h0m-25 7h0m-4 5h0m25 9h0m-16 14h0m-11 20h0m12 0h0m-4 53h0m17 30h0m18 43h0m-38 58h0m52-1654h0m24 223h0m5 89h0m11 18h0m3 20h0m-26 62h0m1 53h0m8 48h0m6 8h0m-38 84h0m9 10h0m10 54h0m36 22h0m-48 1h0m11 5h0m-12 9h0m43 2h0m-22 2h0m-18 16h0m-3 12h0m12 1h0m6 11h0m11 0h0m22 0h0m-40 2h0m14 6h0m-29 2h0m2 2h0m50 5h0m-39 2h0m-4 10h0m45 4h0m-51 1h0m35 4h0m-26 2h0m6 15h0m25 3h0m2 5h0m11 6h0m-27 3h0m-28 4h0m43 9h0m-32 2h0m40 5h0m-47 0h0m47 0h0m-37 0h0m36 0h0m-47 4h0m16 7h0m25 7h0m-22 3h0m-4 1h0m15 1h0m-28 0h0m25 5h0m-20 0h0m42 4h0m0 4h0m-34 1h0m2 2h0m-7 8h0m6 0h0m29 2h0m-5 3h0m5 1h0m-39 3h0m24 2h0m-7 3h0m-2 5h0m-27 7h0m42 2h0m-37 0h0m43 1h0m-8 1h0m-13 1h0m-26 2h0m22 4h0m5 2h0m21 1h0m-43 3h0m43 1h0m-14 2h0m-28 8h0m25 1h0m19 3h0m-45 2h0m21 2h0m-12 1h0m15 1h0m-26 10h0m5 0h0m17 7h0m-12 6h0m2 4h0m29 1h0m-32 2h0m10 4h0m-2 2h0m32 8h0m-47 4h0m23 6h0m-20 6h0m-6 4h0m22 12h0m33 0h0m-55 2h0m-1 3h0m7 4h0m-3 0h0m7 0h0m8 2h0m-21 0h0m30 10h0m-4 0h0m17 6h0m12 8h0m-17 1h0m19 1h0m-8 1h0m-19 2h0m14 0h0m-29 1h0m35 4h0m3 1h0m-46 2h0m42 4h0m-1 4h0m-9 1h0m-8 4h0m-2 4h0m-5 0h0m-4 2h0m37 0h0m-27 3h0m1 3h0m-12 1h0m-14 0h0m41 2h0m-26 1h0m7 5h0m-20 5h0m18 1h0m31 3h0m-40 2h0m30 7h0m-2 3h0m-39 1h0m-3 4h0m54 11h0m-54 2h0m47 1h0m-27 1h0m27 3h0m-48 5h0m37 1h0m5 3h0m-28 1h0m-14 3h0m57 3h0m-25 6h0m-29 2h0m34 7h0m-39 3h0m2 7h0m55 7h0m-30 2h0m4 2h0m-6 0h0m14 3h0m-27 0h0m37 4h0m-37 4h0m13 0h0m-10 1h0m-2 2h0m-10 28h0m-1 13h0m43 7h0m-42 1h0m3 13h0m25 9h0m2 10h0m15 1h0m-3 2h0m-27 4h0m21 17h0m-36 1h0m-1 6h0m40 21h0m-9 3h0m13 25h0m-44 12h0m49 3h0m-48 75h0m29 39h0m-22 80h0m5 35h0m45-1472h0m24 115h0m15 112h0m-37 101h0m9 3h0m25 37h0m23 3h0m-49 6h0m38 11h0m-23 23h0m17 0h0m-29 53h0m-9 7h0m36 9h0m-38 3h0m55 7h0m1 5h0m-55 3h0m50 27h0m-52 16h0m27 2h0m31 0h0m-32 2h0m9 13h0m-11 16h0m24 7h0m-26 1h0m-21 11h0m26 9h0m-22 0h0m24 10h0m25 2h0m-28 10h0m-23 7h0m37 7h0m7 20h0m10 11h0m-28 20h0m-4 3h0m-15 1h0m28 2h0m-4 6h0m-13 1h0m12 3h0m2 5h0m11 1h0m-32 12h0m-10 2h0m35 1h0m5 1h0m-31 9h0m14 15h0m-8 1h0m13 19h0m24 4h0m-36 15h0m-2 1h0m2 1h0m17 5h0m20 12h0m-15 4h0m-2 3h0m10 1h0m-46 13h0m28 10h0m-6 2h0m-17 8h0m47 1h0m-34 12h0m-11 5h0m17 1h0m-4 2h0m20 2h0m-6 2h0m2 7h0m-5 2h0m5 4h0m-26 1h0m-8 1h0m39 2h0m-43 3h0m22 2h0m33 4h0m0 1h0m-22 6h0m5 16h0m-40 8h0m5 2h0m26 12h0m8 4h0m-33 6h0m2 2h0m10 0h0m-8 6h0m1 4h0m2 4h0m30 0h0m-8 2h0m12 5h0m-4 1h0m-41 3h0m3 1h0m52 4h0m-16 3h0m-1 8h0m-7 12h0m25 2h0m-6 0h0m-52 0h0m29 1h0m3 10h0m2 1h0m17 6h0m-4 1h0m-25 3h0m19 4h0m-6 1h0m-6 1h0m5 4h0m8 19h0m-43 1h0m17 18h0m35 1h0m-29 6h0m5 1h0m-16 1h0m-4 4h0m22 1h0m-30 14h0m47 3h0m-18 7h0m30 1h0m-12 1h0m-40 2h0m0 18h0m52 3h0m-15 5h0m-28 44h0m-1 0h0m-4 29h0m34 17h0m-19 31h0m24 5h0m-2 64h0m-3 3h0m-8 32h0m-30 35h0m67-1553h0m2 325h0m-13 128h0m44 21h0m6 45h0m-13 7h0m2 12h0m-14 2h0m31 40h0m-21 5h0m16 14h0m-28 6h0m22 3h0m-37 12h0m-6 12h0m14 6h0m-11 10h0m32 16h0m-7 6h0m8 1h0m12 2h0m-49 7h0m19 9h0m-15 21h0m37 17h0m-15 2h0m-17 9h0m30 13h0m-43 0h0m38 2h0m19 10h0m-39 4h0m27 0h0m-25 14h0m37 7h0m-52 6h0m46 1h0m-46 9h0m15 3h0m-5 6h0m-13 13h0m21 7h0m-15 11h0m10 21h0m-7 12h0m8 12h0m29 1h0m9 4h0m-7 6h0m-13 3h0m-18 0h0m16 1h0m6 2h0m-5 2h0m-30 2h0m14 0h0m33 3h0m4 3h0m-11 14h0m-7 5h0m-4 21h0m-16 1h0m-6 2h0m4 1h0m3 7h0m21 3h0m2 0h0m-30 4h0m28 2h0m3 4h0m13 7h0m-5 3h0m-38 2h0m39 11h0m-15 8h0m-13 2h0m15 4h0m-11 2h0m3 5h0m26 2h0m-6 1h0m-16 1h0m10 0h0m-38 3h0m21 4h0m17 6h0m-46 14h0m6 1h0m17 3h0m-17 9h0m48 10h0m-42 1h0m37 2h0m-43 0h0m22 2h0m-3 30h0m2 4h0m-23 2h0m7 0h0m-1 2h0m6 21h0m-8 0h0m3 14h0m16 3h0m-20 5h0m35 10h0m6 2h0m-25 4h0m13 44h0m21 14h0m-26 2h0m-7 3h0m13 4h0m18 10h0m-7 3h0m-17 4h0m18 9h0m-24 24h0m-19 2h0m52 3h0m-35 18h0m26 13h0m-11 96h0m-28 44h0m5 85h0m69-1117h0m6 146h0m-12 6h0m-15 7h0m47 30h0m-31 11h0m7 8h0m4 8h0m-29 10h0m7 5h0m21 26h0m-8 59h0m-13 6h0m1 3h0m-6 7h0m53 11h0m2 33h0m-37 11h0m-15 9h0m9 4h0m-15 1h0m22 4h0m-17 7h0m47 0h0m-25 7h0m3 0h0m11 3h0m-10 4h0m-19 1h0m40 3h0m-27 0h0m-23 5h0m37 3h0m19 0h0m-57 3h0m5 9h0m48 1h0m-49 29h0m31 12h0m-11 2h0m-6 1h0m26 7h0m-42 0h0m53 0h0m-41 2h0m36 14h0m-22 0h0m-23 7h0m29 6h0m-28 2h0m38 12h0m-42 2h0m41 6h0m-30 7h0m2 5h0m19 6h0m-24 3h0m8 7h0m31 0h0m-44 2h0m17 22h0m-17 12h0m37 16h0m-12 5h0m-19 1h0m16 10h0m-5 21h0m16 6h0m-34 11h0m47 13h0m-10 0h0m-10 1h0m-10 9h0m36 4h0m-52 2h0m50 14h0m-27 1h0m-28 31h0m44 6h0m-19 15h0m-19 14h0m52 3h0m-21 17h0m-25 2h0m34 33h0m-3 22h0m-29 0h0m-6 18h0m10 29h0m1 4h0m12 18h0m-13 199h0m55-1201h0m15 138h0m27 33h0m-42 2h0m22 12h0m-5 19h0m-15 3h0m29 8h0m-30 32h0m22 19h0m-8 1h0m-17 9h0m7 20h0m-1 6h0m25 56h0m-7 8h0m10 19h0m2 16h0m-43 9h0m44 10h0m1 13h0m-18 3h0m0 7h0m-7 11h0m17 1h0m-20 6h0m-14 9h0m1 2h0m-4 6h0m41 17h0m-30 9h0m10 4h0m-6 5h0m-20 6h0m33 1h0m-23 11h0m38 1h0m-10 32h0m18 41h0m-34 10h0m-17 2h0m21 34h0m3 9h0m-18 24h0m26 31h0m-35 41h0m53 4h0m-32 3h0m17 1h0m10 0h0m-30 13h0m12 6h0m-8 4h0m-1 14h0m4 9h0m-12 0h0m-8 6h0m-7 21h0m0 27h0m57 8h0m-28 2h0m16 31h0m-31 62h0m1 67h0m36 89h0m63-879h0m-27 49h0m6 15h0m0 5h0m-13 3h0m2 2h0m-15 27h0m45 6h0m-6 23h0m-25 6h0m30 14h0m-8 9h0m-2 6h0m-38 17h0m10 20h0m18 2h0m27 19h0m-55 13h0m48 6h0m-13 4h0m-24 0h0m21 10h0m23 3h0m-44 3h0m-7 32h0m2 26h0m29 2h0m-21 1h0m39 21h0m-1 12h0m0 2h0m-49 10h0m-2 9h0m37 9h0m-23 5h0m-10 4h0m41 26h0m-39 11h0m3 21h0m0 11h0m-7 16h0m42 5h0m-35 9h0m0 4h0m44 11h0m-45 2h0m1 12h0m30 3h0m-18 0h0m-14 34h0m27 28h0m-33 3h0m18 33h0m28 42h0m33-847h0m-5 118h0m9 77h0m9 79h0m-11 9h0m29 7h0m-30 20h0m23 3h0m-34 25h0m8 33h0m-1 11h0m31 3h0m-16 8h0m-22 1h0m22 18h0m-2 26h0m-28 19h0m11 52h0m5 0h0m29 22h0m-38 12h0m41 5h0m-37 19h0m-8 19h0m6 13h0m-5 13h0m-9 54h0m45 30h0m-2 18h0m-16 18h0m-27 14h0m16 37h0m33 73h0m-46 241h0m78-834h0m-7 42h0m24 9h0m-8 19h0m19 10h0m-7 46h0m-31 106h0m-7 9h0m26 56h0m17 3h0m-33 25h0m9 3h0m9 114h0m-12 46h0m-8 57h0m90-667h0m16 35h0m-55 75h0m40 81h0m-44 13h0m23 56h0m-17 65h0m-4 103h0m0 178h0m11 420h0"/>
</g>
<g transform="scale(.1)"><path class="x" d="M495 3564l42 42m0-42l-42 42M615 3714l42 42m0-42l-42 42M644 3714l42 42m0-42l-42 42M684 3830l42 42m0-42l-42 42M694 3965l42 42m0-42l-42 42M744 4185l42 42m0-42l-42 42M761 3433l42 42m0-42l-42 42M772 3995l42 42m0-42l-42 42M775 3789l42 42m0-42l-42 42M840 3934l42 42m0-42l-42 42M857 3879l42 42m0-42l-42 42M864 4187l42 42m0-42l-42 42M887 3812l42 42m0-42l-42 42M912 4005l42 42m0-42l-42 42M959 3963l42 42m0-42l-42 42M1007 3877l42 42m0-42l-42 42M1010 3600l42 42m0-42l-42 42M1039 3706l42 42m0-42l-42 42M1058 4101l42 42m0-42l-42 42M1067 3555l42 42m0-42l-42 42M1120 3674l42 42m0-42l-42 42M1131 3736l42 42m0-42l-42 42M1140 3654l42 42m0-42l-42 42M1162 3953l42 42m0-42l-42 42M1182 3508l42 42m0-42l-42 42M1188 3832l42 42m0-42l-42 42M1210 4198l42 42m0-42l-42 42M1228 4026l42 42m0-42l-42 42M1255 4019l42 42m0-42l-42 42M1258 3750l42 42m0-42l-42 42M1263 3988l42 42m0-42l-42 42M1300 3808l42 42m0-42l-42 42M1302 4249l42 42m0-42l-42 42M1319 3678l42 42m0-42l-42 42M1345 3748l42 42m0-42l-42 42M1371 3557l42 42m0-42l-42 42M1381 3624l42 42m0-42l-42 42M1398 3765l42 42m0-42l-42 42M1404 3969l42 42m0-42l-42 42M1404 3892l42 42m0-42l-42 42M1407 3555l42 42m0-42l-42 42M1410 3783l42 42m0-42l-42 42M1412 4151l42 42m0-42l-42 42M1413 3957l42 42m0-42l-42 42M1441 4025l42 42m0-42l-42 42M1442 3860l42 42m0-42l-42 42M1460 4130l42 42m0-42l-42 42M1464 3785l42 42m0-42l-42 42M1468 3726l42 42m0-42l-42 42M1471 4123l42 42m0-42l-42 42M1473 3734l42 42m0-42l-42 42M1475 3992l42 42m0-42l-42 42M1484 3663l42 42m0-42l-42 42M1492 3967l42 42m0-42l-42 42M1494 3638l42 42m0-42l-42 42M1497 4127l42 42m0-42l-42 42M1506 4182l42 42m0-42l-42 42M1509 3708l42 42m0-42l-42 42M1516 3491l42 42m0-42l-42 42M1523 4088l42 42m0-42l-42 42M1524 4030l42 42m0-42l-42 42M1529 4153l42 42m0-42l-42 42M1531 3900l42 42m0-42l-42 42M1532 3517l42 42m0-42l-42 42M1532 4085l42 42m0-42l-42 42M1533 4044l42 42m0-42l-42 42M1534 4081l42 42m0-42l-42 42M1535 3561l42 42m0-42l-42 42M1536 4028l42 42m0-42l-42 42M1538 4147l42 42m0-42l-42 42M1540 3632l42 42m0-42l-42 42M1542 3661l42 42m0-42l-42 42M1545 3909l42 42m0-42l-42 42M1548 3746l42 42m0-42l-42 42M1551 3568l42 42m0-42l-42 42M1551 3745l42 42m0-42l-42 42M1551 3492l42 42m0-42l-42 42M1559 3836l42 42m0-42l-42 42M1560 3633l42 42m0-42l-42 42M1563 3818l42 42m0-42l-42 42M1565 3682l42 42m0-42l-42 42M1568 3790l42 42m0-42l-42 42M1571 3629l42 42m0-42l-42 42M1573 3923l42 42m0-42l-42 42M1574 3772l42 42m0-42l-42 42M1574 3886l42 42m0-42l-42 42M1574 3737l42 42m0-42l-42 42M1575 3998l42 42m0-42l-42 42M1576 4191l42 42m0-42l-42 42M1577 4056l42 42m0-42l-42 42M1578 3833l42 42m0-42l-42 42M1579 4011l42 42m0-42l-42 42M1580 4193l42 42m0-42l-42 42M1582 3930l42 42m0-42l-42 42M1583 3703l42 42m0-42l-42 42M1583 3892l42 42m0-42l-42 42M1586 3815l42 42m0-42l-42 42M1587 3784l42 42m0-42l-42 42M1599 4065l42 42m0-42l-42 42M1601 3810l42 42m0-42l-42 42M1603 3860l42 42m0-42l-42 42M1604 4169l42 42m0-42l-42 42M1604 4232l42 42m0-42l-42 42M1608 3997l42 42m0-42l-42 42M1613 3897l42 42m0-42l-42 42M1614 3995l42 42m0-42l-42 42M1616 3951l42 42m0-42l-42 42M1618 4176l42 42m0-42l-42 42M1619 3827l42 42m0-42l-42 42M1622 4137l42 42m0-42l-42 42M1622 3810l42 42m0-42l-42 42M1623 3783l42 42m0-42l-42 42M1626 3643l42 42m0-42l-42 42M1627 3994l42 42m0-42l-42 42M1629 3610l42 42m0-42l-42 42M1630 3585l42 42m0-42l-42 42M1631 3918l42 42m0-42l-42 42M1631 3829l42 42m0-42l-42 42M1632 3917l42 42m0-42l-42 42M1635 4043l42 42m0-42l-42 42M1635 3953l42 42m0-42l-42 42M1635 4177l42 42m0-42l-42 42M1636 3510l42 42m0-42l-42 42M1636 3806l42 42m0-42l-42 42M1636 3737l42 42m0-42l-42 42M1638 3988l42 42m0-42l-42 42M1641 4353l42 42m0-42l-42 42M1642 3699l42 42m0-42l-42 42M1644 3758l42 42m0-42l-42 42M1644 3907l42 42m0-42l-42 42M1645 3845l42 42m0-42l-42 42M1645 4088l42 42m0-42l-42 42M1647 3855l42 42m0-42l-42 42M1647 3479l42 42m0-42l-42 42M1648 4150l42 42m0-42l-42 42M1648 3823l42 42m0-42l-42 42M1649 3799l42 42m0-42l-42 42M1650 3767l42 42m0-42l-42 42M1651 3934l42 42m0-42l-42 42M1651 3852l42 42m0-42l-42 42M1652 3870l42 42m0-42l-42 42M1654 3541l42 42m0-42l-42 42M1656 4086l42 42m0-42l-42 42M1657 3994l42 42m0-42l-42 42M1657 3951l42 42m0-42l-42 42M1657 3779l42 42m0-42l-42 42M1659 4138l42 42m0-42l-42 42M1659 3892l42 42m0-42l-42 42M1659 3674l42 42m0-42l-42 42M1659 3907l42 42m0-42l-42 42M1659 4072l42 42m0-42l-42 42M1659 3971l42 42m0-42l-42 42M1660 3905l42 42m0-42l-42 42M1660 3707l42 42m0-42l-42 42M1661 3888l42 42m0-42l-42 42M1661 3643l42 42m0-42l-42 42M1662 4054l42 42m0-42l-42 42M1662 3812l42 42m0-42l-42 42M1663 4029l42 42m0-42l-42 42M1664 4167l42 42m0-42l-42 42M1664 3801l42 42m0-42l-42 42M1665 4327l42 42m0-42l-42 42M1667 4106l42 42m0-42l-42 42M1668 3895l42 42m0-42l-42 42M1672 3678l42 42m0-42l-42 42M1673 3850l42 42m0-42l-42 42M1674 4050l42 42m0-42l-42 42M1677 3759l42 42m0-42l-42 42M1677 3950l42 42m0-42l-42 42M1677 3803l42 42m0-42l-42 42M1678 3866l42 42m0-42l-42 42M1680 3757l42 42m0-42l-42 42M1681 3607l42 42m0-42l-42 42M1682 4062l42 42m0-42l-42 42M1683 3843l42 42m0-42l-42 42M1684 3882l42 42m0-42l-42 42M1686 3837l42 42m0-42l-42 42M1689 4128l42 42m0-42l-42 42M1690 3642l42 42m0-42l-42 42M1693 3989l42 42m0-42l-42 42M1693 4050l42 42m0-42l-42 42M1694 3705l42 42m0-42l-42 42M1695 3962l42 42m0-42l-42 42M1696 3904l42 42m0-42l-42 42M1697 4029l42 42m0-42l-42 42M1697 3536l42 42m0-42l-42 42M1697 3725l42 42m0-42l-42 42M1698 3985l42 42m0-42l-42 42M1699 3729l42 42m0-42l-42 42M1700 3808l42 42m0-42l-42 42M1700 3767l42 42m0-42l-42 42M1701 4029l42 42m0-42l-42 42M1701 3810l42 42m0-42l-42 42M1703 4116l42 42m0-42l-42 42M1704 3490l42 42m0-42l-42 42M1704 3975l42 42m0-42l-42 42M1704 4140l42 42m0-42l-42 42M1706 3800l42 42m0-42l-42 42M1706 4064l42 42m0-42l-42 42M1707 4273l42 42m0-42l-42 42M1707 4119l42 42m0-42l-42 42M1708 3692l42 42m0-42l-42 42M1708 3685l42 42m0-42l-42 42M1709 4162l42 42m0-42l-42 42M1712 3519l42 42m0-42l-42 42M1713 3734l42 42m0-42l-42 42M1713 3708l42 42m0-42l-42 42M1714 4196l42 42m0-42l-42 42M1715 3591l42 42m0-42l-42 42M1716 4056l42 42m0-42l-42 42M1716 3933l42 42m0-42l-42 42M1716 4066l42 42m0-42l-42 42M1717 4200l42 42m0-42l-42 42M1717 4061l42 42m0-42l-42 42M1719 4020l42 42m0-42l-42 42M1720 4190l42 42m0-42l-42 42M1721 3675l42 42m0-42l-42 42M1723 3627l42 42m0-42l-42 42M1723 3929l42 42m0-42l-42 42M1724 3770l42 42m0-42l-42 42M1724 4148l42 42m0-42l-42 42M1724 3913l42 42m0-42l-42 42M1725 3793l42 42m0-42l-42 42M1725 3958l42 42m0-42l-42 42M1726 3605l42 42m0-42l-42 42M1727 3719l42 42m0-42l-42 42M1728 3830l42 42m0-42l-42 42M1730 4211l42 42m0-42l-42 42M1731 4046l42 42m0-42l-42 42M1731 4125l42 42m0-42l-42 42M1731 4023l42 42m0-42l-42 42M1732 3681l42 42m0-42l-42 42M1734 3456l42 42m0-42l-42 42M1734 4030l42 42m0-42l-42 42M1734 3700l42 42m0-42l-42 42M1736 3414l42 42m0-42l-42 42M1736 3942l42 42m0-42l-42 42M1736 4126l42 42m0-42l-42 42M1737 3671l42 42m0-42l-42 42M1737 3758l42 42m0-42l-42 42M1737 4261l42 42m0-42l-42 42M1738 4052l42 42m0-42l-42 42M1739 3940l42 42m0-42l-42 42M1740 4037l42 42m0-42l-42 42M1741 3269l42 42m0-42l-42 42M1742 3889l42 42m0-42l-42 42M1743 3689l42 42m0-42l-42 42M1743 4187l42 42m0-42l-42 42M1744 3812l42 42m0-42l-42 42M1744 3585l42 42m0-42l-42 42M1744 4040l42 42m0-42l-42 42M1746 4344l42 42m0-42l-42 42M1746 3965l42 42m0-42l-42 42M1749 4000l42 42m0-42l-42 42M1750 3655l42 42m0-42l-42 42M1750 3948l42 42m0-42l-42 42M1752 4013l42 42m0-42l-42 42M1752 3951l42 42m0-42l-42 42M1752 3739l42 42m0-42l-42 42M1753 3783l42 42m0-42l-42 42M1753 3981l42 42m0-42l-42 42M1753 3607l42 42m0-42l-42 42M1754 3825l42 42m0-42l-42 42M1754 4233l42 42m0-42l-42 42M1755 3733l42 42m0-42l-42 42M1755 3892l42 42m0-42l-42 42M1756 3938l42 42m0-42l-42 42M1756 4101l42 42m0-42l-42 42M1756 3703l42 42m0-42l-42 42M1757 3874l42 42m0-42l-42 42M1757 3891l42 42m0-42l-42 42M1757 3931l42 42m0-42l-42 42M1758 4003l42 42m0-42l-42 42M1758 3739l42 42m0-42l-42 42M1759 3828l42 42m0-42l-42 42M1759 4470l42 42m0-42l-42 42M1760 4032l42 42m0-42l-42 42M1760 3890l42 42m0-42l-42 42M1760 3622l42 42m0-42l-42 42M1761 3878l42 42m0-42l-42 42M1761 3924l42 42m0-42l-42 42M1762 3925l42 42m0-42l-42 42M1762 3835l42 42m0-42l-42 42M1763 3735l42 42m0-42l-42 42M1763 3842l42 42m0-42l-42 42M1765 3795l42 42m0-42l-42 42M1766 3969l42 42m0-42l-42 42M1767 3720l42 42m0-42l-42 42M1768 3873l42 42m0-42l-42 42M1768 3481l42 42m0-42l-42 42M1770 3748l42 42m0-42l-42 42M1770 3766l42 42m0-42l-42 42M1770 3716l42 42m0-42l-42 42M1771 3631l42 42m0-42l-42 42M1771 3902l42 42m0-42l-42 42M1771 3869l42 42m0-42l-42 42M1772 3926l42 42m0-42l-42 42M1773 4014l42 42m0-42l-42 42M1773 3997l42 42m0-42l-42 42M1774 3517l42 42m0-42l-42 42M1774 3830l42 42m0-42l-42 42M1775 3884l42 42m0-42l-42 42M1775 3689l42 42m0-42l-42 42M1776 4147l42 42m0-42l-42 42M1778 3465l42 42m0-42l-42 42M1779 4385l42 42m0-42l-42 42M1779 3579l42 42m0-42l-42 42M1779 3838l42 42m0-42l-42 42M1779 4009l42 42m0-42l-42 42M1780 3910l42 42m0-42l-42 42M1781 4082l42 42m0-42l-42 42M1781 3844l42 42m0-42l-42 42M1781 3590l42 42m0-42l-42 42M1782 4121l42 42m0-42l-42 42M1783 3964l42 42m0-42l-42 42M1783 3857l42 42m0-42l-42 42M1784 3563l42 42m0-42l-42 42M1784 4053l42 42m0-42l-42 42M1785 3921l42 42m0-42l-42 42M1786 3940l42 42m0-42l-42 42M1787 3780l42 42m0-42l-42 42M1787 4145l42 42m0-42l-42 42M1787 3855l42 42m0-42l-42 42M1788 3884l42 42m0-42l-42 42M1789 3774l42 42m0-42l-42 42M1789 4098l42 42m0-42l-42 42M1790 3759l42 42m0-42l-42 42M1791 4136l42 42m0-42l-42 42M1791 3999l42 42m0-42l-42 42M1792 4203l42 42m0-42l-42 42M1792 4002l42 42m0-42l-42 42M1792 3823l42 42m0-42l-42 42M1792 4027l42 42m0-42l-42 42M1795 3936l42 42m0-42l-42 42M1796 3752l42 42m0-42l-42 42M1796 4028l42 42m0-42l-42 42M1798 3922l42 42m0-42l-42 42M1800 3987l42 42m0-42l-42 42M1800 3769l42 42m0-42l-42 42M1801 4130l42 42m0-42l-42 42M1801 3826l42 42m0-42l-42 42M1802 3722l42 42m0-42l-42 42M1803 3665l42 42m0-42l-42 42M1804 3822l42 42m0-42l-42 42M1804 3611l42 42m0-42l-42 42M1804 3807l42 42m0-42l-42 42M1805 3783l42 42m0-42l-42 42M1805 4206l42 42m0-42l-42 42M1808 4346l42 42m0-42l-42 42M1809 4072l42 42m0-42l-42 42M1811 3904l42 42m0-42l-42 42M1813 3812l42 42m0-42l-42 42M1815 4080l42 42m0-42l-42 42M1815 3839l42 42m0-42l-42 42M1816 3897l42 42m0-42l-42 42M1816 3591l42 42m0-42l-42 42M1816 3539l42 42m0-42l-42 42M1816 3670l42 42m0-42l-42 42M1817 3727l42 42m0-42l-42 42M1817 4011l42 42m0-42l-42 42M1818 3654l42 42m0-42l-42 42M1818 3702l42 42m0-42l-42 42M1819 3734l42 42m0-42l-42 42M1819 4089l42 42m0-42l-42 42M1820 4249l42 42m0-42l-42 42M1820 3601l42 42m0-42l-42 42M1820 3625l42 42m0-42l-42 42M1820 3895l42 42m0-42l-42 42M1820 3712l42 42m0-42l-42 42M1821 3756l42 42m0-42l-42 42M1823 4157l42 42m0-42l-42 42M1823 3905l42 42m0-42l-42 42M1823 3862l42 42m0-42l-42 42M1826 4025l42 42m0-42l-42 42M1826 4329l42 42m0-42l-42 42M1826 4235l42 42m0-42l-42 42M1827 4254l42 42m0-42l-42 42M1827 3811l42 42m0-42l-42 42M1828 3730l42 42m0-42l-42 42M1828 4382l42 42m0-42l-42 42M1828 3759l42 42m0-42l-42 42M1828 3845l42 42m0-42l-42 42M1829 3804l42 42m0-42l-42 42M1830 3715l42 42m0-42l-42 42M1831 4182l42 42m0-42l-42 42M1832 4052l42 42m0-42l-42 42M1832 3815l42 42m0-42l-42 42M1832 3854l42 42m0-42l-42 42M1832 3847l42 42m0-42l-42 42M1833 4492l42 42m0-42l-42 42M1833 3946l42 42m0-42l-42 42M1834 3565l42 42m0-42l-42 42M1835 4202l42 42m0-42l-42 42M1835 4150l42 42m0-42l-42 42M1836 4338l42 42m0-42l-42 42M1837 4053l42 42m0-42l-42 42M1838 3776l42 42m0-42l-42 42M1839 3802l42 42m0-42l-42 42M1839 3970l42 42m0-42l-42 42M1839 3326l42 42m0-42l-42 42M1839 3861l42 42m0-42l-42 42M1841 4026l42 42m0-42l-42 42M1841 3889l42 42m0-42l-42 42M1842 3916l42 42m0-42l-42 42M1842 4158l42 42m0-42l-42 42M1842 3355l42 42m0-42l-42 42M1842 3677l42 42m0-42l-42 42M1842 3724l42 42m0-42l-42 42M1843 4348l42 42m0-42l-42 42M1845 4047l42 42m0-42l-42 42M1846 3836l42 42m0-42l-42 42M1847 3980l42 42m0-42l-42 42M1847 3946l42 42m0-42l-42 42M1848 3370l42 42m0-42l-42 42M1849 3883l42 42m0-42l-42 42M1851 3905l42 42m0-42l-42 42M1851 3796l42 42m0-42l-42 42M1852 3539l42 42m0-42l-42 42M1852 3518l42 42m0-42l-42 42M1852 4015l42 42m0-42l-42 42M1852 4002l42 42m0-42l-42 42M1853 3954l42 42m0-42l-42 42M1853 4038l42 42m0-42l-42 42M1853 3891l42 42m0-42l-42 42M1853 3691l42 42m0-42l-42 42M1853 4025l42 42m0-42l-42 42M1855 3691l42 42m0-42l-42 42M1855 4254l42 42m0-42l-42 42M1855 3813l42 42m0-42l-42 42M1857 3657l42 42m0-42l-42 42M1857 3486l42 42m0-42l-42 42M1858 3569l42 42m0-42l-42 42M1858 3749l42 42m0-42l-42 42M1858 3833l42 42m0-42l-42 42M1859 3744l42 42m0-42l-42 42M1859 3743l42 42m0-42l-42 42M1859 3566l42 42m0-42l-42 42M1859 3678l42 42m0-42l-42 42M1860 4136l42 42m0-42l-42 42M1860 3697l42 42m0-42l-42 42M1861 3709l42 42m0-42l-42 42M1861 3694l42 42m0-42l-42 42M1861 3741l42 42m0-42l-42 42M1862 3972l42 42m0-42l-42 42M1862 3995l42 42m0-42l-42 42M1862 3971l42 42m0-42l-42 42M1863 3482l42 42m0-42l-42 42M1863 3885l42 42m0-42l-42 42M1863 3674l42 42m0-42l-42 42M1863 3627l42 42m0-42l-42 42M1863 4282l42 42m0-42l-42 42M1865 3625l42 42m0-42l-42 42M1865 3968l42 42m0-42l-42 42M1865 4359l42 42m0-42l-42 42M1865 4140l42 42m0-42l-42 42M1867 3981l42 42m0-42l-42 42M1868 4187l42 42m0-42l-42 42M1869 3750l42 42m0-42l-42 42M1869 3225l42 42m0-42l-42 42M1871 3702l42 42m0-42l-42 42M1871 3943l42 42m0-42l-42 42M1871 3894l42 42m0-42l-42 42M1872 3774l42 42m0-42l-42 42M1872 3659l42 42m0-42l-42 42M1873 3745l42 42m0-42l-42 42M1873 3849l42 42m0-42l-42 42M1874 4137l42 42m0-42l-42 42M1874 3963l42 42m0-42l-42 42M1874 3897l42 42m0-42l-42 42M1875 3908l42 42m0-42l-42 42M1875 4143l42 42m0-42l-42 42M1875 3976l42 42m0-42l-42 42M1875 3854l42 42m0-42l-42 42M1877 3861l42 42m0-42l-42 42M1879 3920l42 42m0-42l-42 42M1880 3760l42 42m0-42l-42 42M1880 3865l42 42m0-42l-42 42M1880 3559l42 42m0-42l-42 42M1880 4024l42 42m0-42l-42 42M1881 4057l42 42m0-42l-42 42M1882 4468l42 42m0-42l-42 42M1882 3724l42 42m0-42l-42 42M1884 3568l42 42m0-42l-42 42M1884 3702l42 42m0-42l-42 42M1886 3879l42 42m0-42l-42 42M1887 4012l42 42m0-42l-42 42M1887 3809l42 42m0-42l-42 42M1888 3778l42 42m0-42l-42 42M1889 3925l42 42m0-42l-42 42M1890 4190l42 42m0-42l-42 42M1890 3883l42 42m0-42l-42 42M1891 3666l42 42m0-42l-42 42M1891 3975l42 42m0-42l-42 42M1892 4176l42 42m0-42l-42 42M1892 3703l42 42m0-42l-42 42M1892 3932l42 42m0-42l-42 42M1893 3702l42 42m0-42l-42 42M1893 3569l42 42m0-42l-42 42M1895 3943l42 42m0-42l-42 42M1895 3731l42 42m0-42l-42 42M1896 3787l42 42m0-42l-42 42M1896 4269l42 42m0-42l-42 42M1896 3770l42 42m0-42l-42 42M1896 3834l42 42m0-42l-42 42M1897 3755l42 42m0-42l-42 42M1898 4132l42 42m0-42l-42 42M1898 3772l42 42m0-42l-42 42M1899 3848l42 42m0-42l-42 42M1899 4101l42 42m0-42l-42 42M1901 3972l42 42m0-42l-42 42M1902 3782l42 42m0-42l-42 42M1902 3799l42 42m0-42l-42 42M1903 3559l42 42m0-42l-42 42M1903 3597l42 42m0-42l-42 42M1904 3492l42 42m0-42l-42 42M1904 3831l42 42m0-42l-42 42M1905 3955l42 42m0-42l-42 42M1905 3649l42 42m0-42l-42 42M1906 3573l42 42m0-42l-42 42M1906 3982l42 42m0-42l-42 42M1907 3705l42 42m0-42l-42 42M1907 3939l42 42m0-42l-42 42M1907 3763l42 42m0-42l-42 42M1907 3733l42 42m0-42l-42 42M1908 3987l42 42m0-42l-42 42M1908 3870l42 42m0-42l-42 42M1909 3621l42 42m0-42l-42 42M1909 4081l42 42m0-42l-42 42M1910 3962l42 42m0-42l-42 42M1910 4040l42 42m0-42l-42 42M1911 3675l42 42m0-42l-42 42M1911 3769l42 42m0-42l-42 42M1912 3926l42 42m0-42l-42 42M1912 4063l42 42m0-42l-42 42M1913 3628l42 42m0-42l-42 42M1914 3943l42 42m0-42l-42 42M1915 3767l42 42m0-42l-42 42M1917 3766l42 42m0-42l-42 42M1919 3878l42 42m0-42l-42 42M1919 3830l42 42m0-42l-42 42M1920 3363l42 42m0-42l-42 42M1921 3700l42 42m0-42l-42 42M1921 3644l42 42m0-42l-42 42M1922 3980l42 42m0-42l-42 42M1923 3884l42 42m0-42l-42 42M1923 4062l42 42m0-42l-42 42M1923 4105l42 42m0-42l-42 42M1925 4140l42 42m0-42l-42 42M1925 3692l42 42m0-42l-42 42M1926 3845l42 42m0-42l-42 42M1928 3949l42 42m0-42l-42 42M1928 3816l42 42m0-42l-42 42M1929 3874l42 42m0-42l-42 42M1930 3940l42 42m0-42l-42 42M1930 3993l42 42m0-42l-42 42M1933 3811l42 42m0-42l-42 42M1934 3861l42 42m0-42l-42 42M1934 4080l42 42m0-42l-42 42M1935 3891l42 42m0-42l-42 42M1935 3929l42 42m0-42l-42 42M1937 3696l42 42m0-42l-42 42M1940 3778l42 42m0-42l-42 42M1940 3755l42 42m0-42l-42 42M1941 3783l42 42m0-42l-42 42M1941 4001l42 42m0-42l-42 42M1942 3912l42 42m0-42l-42 42M1942 3659l42 42m0-42l-42 42M1942 4280l42 42m0-42l-42 42M1942 3784l42 42m0-42l-42 42M1943 3813l42 42m0-42l-42 42M1943 3810l42 42m0-42l-42 42M1944 3667l42 42m0-42l-42 42M1944 3915l42 42m0-42l-42 42M1945 3928l42 42m0-42l-42 42M1945 3609l42 42m0-42l-42 42M1945 4026l42 42m0-42l-42 42M1946 3692l42 42m0-42l-42 42M1947 3966l42 42m0-42l-42 42M1948 3713l42 42m0-42l-42 42M1949 4001l42 42m0-42l-42 42M1950 3802l42 42m0-42l-42 42M1950 4052l42 42m0-42l-42 42M1951 3845l42 42m0-42l-42 42M1951 3885l42 42m0-42l-42 42M1952 3595l42 42m0-42l-42 42M1952 4448l42 42m0-42l-42 42M1952 3681l42 42m0-42l-42 42M1952 3771l42 42m0-42l-42 42M1952 3881l42 42m0-42l-42 42M1953 4017l42 42m0-42l-42 42M1953 3974l42 42m0-42l-42 42M1954 3550l42 42m0-42l-42 42M1954 4100l42 42m0-42l-42 42M1955 3943l42 42m0-42l-42 42M1955 3502l42 42m0-42l-42 42M1956 3798l42 42m0-42l-42 42M1956 3338l42 42m0-42l-42 42M1957 3697l42 42m0-42l-42 42M1957 4498l42 42m0-42l-42 42M1957 4025l42 42m0-42l-42 42M1957 3884l42 42m0-42l-42 42M1957 3717l42 42m0-42l-42 42M1957 4174l42 42m0-42l-42 42M1959 4009l42 42m0-42l-42 42M1960 4165l42 42m0-42l-42 42M1961 3858l42 42m0-42l-42 42M1961 3909l42 42m0-42l-42 42M1962 3967l42 42m0-42l-42 42M1963 3919l42 42m0-42l-42 42M1964 3786l42 42m0-42l-42 42M1965 3677l42 42m0-42l-42 42M1966 3789l42 42m0-42l-42 42M1967 3773l42 42m0-42l-42 42M1968 3498l42 42m0-42l-42 42M1968 4256l42 42m0-42l-42 42M1968 4207l42 42m0-42l-42 42M1969 3821l42 42m0-42l-42 42M1970 3864l42 42m0-42l-42 42M1972 3892l42 42m0-42l-42 42M1972 3473l42 42m0-42l-42 42M1972 3672l42 42m0-42l-42 42M1972 3787l42 42m0-42l-42 42M1972 4094l42 42m0-42l-42 42M1974 3587l42 42m0-42l-42 42M1974 4110l42 42m0-42l-42 42M1975 3758l42 42m0-42l-42 42M1975 4045l42 42m0-42l-42 42M1976 3935l42 42m0-42l-42 42M1976 3974l42 42m0-42l-42 42M1976 3456l42 42m0-42l-42 42M1979 3961l42 42m0-42l-42 42M1980 4220l42 42m0-42l-42 42M1981 3606l42 42m0-42l-42 42M1981 3715l42 42m0-42l-42 42M1981 3332l42 42m0-42l-42 42M1981 3807l42 42m0-42l-42 42M1982 4028l42 42m0-42l-42 42M1984 3380l42 42m0-42l-42 42M1984 3895l42 42m0-42l-42 42M1985 4117l42 42m0-42l-42 42M1986 4083l42 42m0-42l-42 42M1986 3953l42 42m0-42l-42 42M1987 4030l42 42m0-42l-42 42M1987 3285l42 42m0-42l-42 42M1987 4161l42 42m0-42l-42 42M1987 3724l42 42m0-42l-42 42M1988 3730l42 42m0-42l-42 42M1988 4192l42 42m0-42l-42 42M1989 4124l42 42m0-42l-42 42M1990 3648l42 42m0-42l-42 42M1990 3797l42 42m0-42l-42 42M1990 4448l42 42m0-42l-42 42M1991 3351l42 42m0-42l-42 42M1991 3578l42 42m0-42l-42 42M1991 4069l42 42m0-42l-42 42M1992 3649l42 42m0-42l-42 42M1993 3842l42 42m0-42l-42 42M1993 4136l42 42m0-42l-42 42M1994 4064l42 42m0-42l-42 42M1995 3979l42 42m0-42l-42 42M1995 3923l42 42m0-42l-42 42M1996 3811l42 42m0-42l-42 42M1996 3499l42 42m0-42l-42 42M1996 3402l42 42m0-42l-42 42M1996 3867l42 42m0-42l-42 42M1997 3821l42 42m0-42l-42 42M1997 3906l42 42m0-42l-42 42M1998 3994l42 42m0-42l-42 42M1999 4066l42 42m0-42l-42 42M1999 3908l42 42m0-42l-42 42M1999 4014l42 42m0-42l-42 42M1999 4109l42 42m0-42l-42 42M2000 4000l42 42m0-42l-42 42M2001 4209l42 42m0-42l-42 42M2002 4023l42 42m0-42l-42 42M2002 4052l42 42m0-42l-42 42M2002 3803l42 42m0-42l-42 42M2002 4205l42 42m0-42l-42 42M2003 3958l42 42m0-42l-42 42M2004 3998l42 42m0-42l-42 42M2004 3811l42 42m0-42l-42 42M2004 3950l42 42m0-42l-42 42M2004 3990l42 42m0-42l-42 42M2005 3875l42 42m0-42l-42 42M2005 3883l42 42m0-42l-42 42M2005 4504l42 42m0-42l-42 42M2006 3766l42 42m0-42l-42 42M2007 3938l42 42m0-42l-42 42M2008 3878l42 42m0-42l-42 42M2008 3653l42 42m0-42l-42 42M2008 3919l42 42m0-42l-42 42M2009 3803l42 42m0-42l-42 42M2009 3712l42 42m0-42l-42 42M2010 3826l42 42m0-42l-42 42M2010 3783l42 42m0-42l-42 42M2010 3823l42 42m0-42l-42 42M2011 4220l42 42m0-42l-42 42M2011 4103l42 42m0-42l-42 42M2011 3574l42 42m0-42l-42 42M2012 4222l42 42m0-42l-42 42M2012 4192l42 42m0-42l-42 42M2013 3894l42 42m0-42l-42 42M2014 4110l42 42m0-42l-42 42M2015 3816l42 42m0-42l-42 42M2016 3938l42 42m0-42l-42 42M2016 3810l42 42m0-42l-42 42M2017 3791l42 42m0-42l-42 42M2017 4088l42 42m0-42l-42 42M2017 3668l42 42m0-42l-42 42M2018 3766l42 42m0-42l-42 42M2018 3955l42 42m0-42l-42 42M2018 4142l42 42m0-42l-42 42M2019 4129l42 42m0-42l-42 42M2020 3988l42 42m0-42l-42 42M2021 3621l42 42m0-42l-42 42M2022 3866l42 42m0-42l-42 42M2022 3582l42 42m0-42l-42 42M2022 3700l42 42m0-42l-42 42M2023 3576l42 42m0-42l-42 42M2023 3600l42 42m0-42l-42 42M2023 3841l42 42m0-42l-42 42M2023 4194l42 42m0-42l-42 42M2024 3857l42 42m0-42l-42 42M2025 4038l42 42m0-42l-42 42M2025 4359l42 42m0-42l-42 42M2026 4007l42 42m0-42l-42 42M2027 3868l42 42m0-42l-42 42M2027 3515l42 42m0-42l-42 42M2028 3872l42 42m0-42l-42 42M2028 3853l42 42m0-42l-42 42M2030 3939l42 42m0-42l-42 42M2030 3725l42 42m0-42l-42 42M2031 3918l42 42m0-42l-42 42M2032 4026l42 42m0-42l-42 42M2032 3826l42 42m0-42l-42 42M2033 3690l42 42m0-42l-42 42M2033 3954l42 42m0-42l-42 42M2033 3941l42 42m0-42l-42 42M2035 3793l42 42m0-42l-42 42M2035 4289l42 42m0-42l-42 42M2035 3931l42 42m0-42l-42 42M2036 4044l42 42m0-42l-42 42M2036 3736l42 42m0-42l-42 42M2037 4162l42 42m0-42l-42 42M2039 4050l42 42m0-42l-42 42M2040 3672l42 42m0-42l-42 42M2041 3776l42 42m0-42l-42 42M2041 3895l42 42m0-42l-42 42M2041 3560l42 42m0-42l-42 42M2042 3605l42 42m0-42l-42 42M2043 3773l42 42m0-42l-42 42M2043 4047l42 42m0-42l-42 42M2044 3999l42 42m0-42l-42 42M2045 4244l42 42m0-42l-42 42M2045 3970l42 42m0-42l-42 42M2046 3624l42 42m0-42l-42 42M2047 3905l42 42m0-42l-42 42M2047 4036l42 42m0-42l-42 42M2047 3968l42 42m0-42l-42 42M2047 3830l42 42m0-42l-42 42M2048 3776l42 42m0-42l-42 42M2049 3872l42 42m0-42l-42 42M2049 3822l42 42m0-42l-42 42M2050 4199l42 42m0-42l-42 42M2051 4037l42 42m0-42l-42 42M2052 3844l42 42m0-42l-42 42M2053 3529l42 42m0-42l-42 42M2055 4115l42 42m0-42l-42 42M2055 3841l42 42m0-42l-42 42M2056 4069l42 42m0-42l-42 42M2057 4101l42 42m0-42l-42 42M2058 4091l42 42m0-42l-42 42M2058 3690l42 42m0-42l-42 42M2058 4005l42 42m0-42l-42 42M2059 3844l42 42m0-42l-42 42M2059 3974l42 42m0-42l-42 42M2060 3646l42 42m0-42l-42 42M2061 3889l42 42m0-42l-42 42M2061 3883l42 42m0-42l-42 42M2062 3864l42 42m0-42l-42 42M2063 4022l42 42m0-42l-42 42M2064 4300l42 42m0-42l-42 42M2064 3687l42 42m0-42l-42 42M2064 4037l42 42m0-42l-42 42M2064 3394l42 42m0-42l-42 42M2065 3663l42 42m0-42l-42 42M2065 3712l42 42m0-42l-42 42M2066 3848l42 42m0-42l-42 42M2066 4315l42 42m0-42l-42 42M2067 3490l42 42m0-42l-42 42M2068 3865l42 42m0-42l-42 42M2071 4024l42 42m0-42l-42 42M2073 3759l42 42m0-42l-42 42M2073 3696l42 42m0-42l-42 42M2073 3964l42 42m0-42l-42 42M2075 4200l42 42m0-42l-42 42M2076 3733l42 42m0-42l-42 42M2078 3988l42 42m0-42l-42 42M2078 3946l42 42m0-42l-42 42M2078 3613l42 42m0-42l-42 42M2079 4131l42 42m0-42l-42 42M2080 3466l42 42m0-42l-42 42M2081 3673l42 42m0-42l-42 42M2082 3688l42 42m0-42l-42 42M2083 3498l42 42m0-42l-42 42M2084 3941l42 42m0-42l-42 42M2084 3918l42 42m0-42l-42 42M2084 3984l42 42m0-42l-42 42M2084 3570l42 42m0-42l-42 42M2085 3997l42 42m0-42l-42 42M2085 3991l42 42m0-42l-42 42M2086 3939l42 42m0-42l-42 42M2086 3853l42 42m0-42l-42 42M2086 3975l42 42m0-42l-42 42M2087 3902l42 42m0-42l-42 42M2089 4015l42 42m0-42l-42 42M2089 3808l42 42m0-42l-42 42M2089 3766l42 42m0-42l-42 42M2090 3816l42 42m0-42l-42 42M2090 4004l42 42m0-42l-42 42M2091 3873l42 42m0-42l-42 42M2091 4149l42 42m0-42l-42 42M2092 3467l42 42m0-42l-42 42M2093 4060l42 42m0-42l-42 42M2093 3843l42 42m0-42l-42 42M2094 3692l42 42m0-42l-42 42M2094 3695l42 42m0-42l-42 42M2095 3672l42 42m0-42l-42 42M2095 3933l42 42m0-42l-42 42M2096 4166l42 42m0-42l-42 42M2098 3640l42 42m0-42l-42 42M2098 3522l42 42m0-42l-42 42M2098 3745l42 42m0-42l-42 42M2098 4008l42 42m0-42l-42 42M2098 4044l42 42m0-42l-42 42M2099 3715l42 42m0-42l-42 42M2099 3587l42 42m0-42l-42 42M2099 4233l42 42m0-42l-42 42M2099 4279l42 42m0-42l-42 42M2100 4035l42 42m0-42l-42 42M2100 4079l42 42m0-42l-42 42M2100 3911l42 42m0-42l-42 42M2101 3858l42 42m0-42l-42 42M2103 4084l42 42m0-42l-42 42M2103 3616l42 42m0-42l-42 42M2103 3507l42 42m0-42l-42 42M2104 3761l42 42m0-42l-42 42M2104 3695l42 42m0-42l-42 42M2104 4384l42 42m0-42l-42 42M2104 4045l42 42m0-42l-42 42M2105 3840l42 42m0-42l-42 42M2106 3477l42 42m0-42l-42 42M2106 3718l42 42m0-42l-42 42M2107 3761l42 42m0-42l-42 42M2107 3595l42 42m0-42l-42 42M2109 3812l42 42m0-42l-42 42M2109 3774l42 42m0-42l-42 42M2111 3632l42 42m0-42l-42 42M2111 3820l42 42m0-42l-42 42M2111 3971l42 42m0-42l-42 42M2112 3993l42 42m0-42l-42 42M2112 4120l42 42m0-42l-42 42M2113 4426l42 42m0-42l-42 42M2113 3925l42 42m0-42l-42 42M2114 3785l42 42m0-42l-42 42M2115 3571l42 42m0-42l-42 42M2115 3757l42 42m0-42l-42 42M2116 3907l42 42m0-42l-42 42M2116 4202l42 42m0-42l-42 42M2116 4017l42 42m0-42l-42 42M2117 3739l42 42m0-42l-42 42M2117 3671l42 42m0-42l-42 42M2118 3552l42 42m0-42l-42 42M2118 3581l42 42m0-42l-42 42M2119 3794l42 42m0-42l-42 42M2119 4112l42 42m0-42l-42 42M2119 3982l42 42m0-42l-42 42M2120 3755l42 42m0-42l-42 42M2120 3731l42 42m0-42l-42 42M2120 3865l42 42m0-42l-42 42M2122 3927l42 42m0-42l-42 42M2122 3875l42 42m0-42l-42 42M2122 3910l42 42m0-42l-42 42M2123 4089l42 42m0-42l-42 42M2126 3979l42 42m0-42l-42 42M2127 4139l42 42m0-42l-42 42M2127 3967l42 42m0-42l-42 42M2129 3867l42 42m0-42l-42 42M2129 4067l42 42m0-42l-42 42M2129 4013l42 42m0-42l-42 42M2130 3820l42 42m0-42l-42 42M2131 3780l42 42m0-42l-42 42M2132 3880l42 42m0-42l-42 42M2132 3683l42 42m0-42l-42 42M2132 4259l42 42m0-42l-42 42M2133 3881l42 42m0-42l-42 42M2133 3682l42 42m0-42l-42 42M2135 3985l42 42m0-42l-42 42M2136 3988l42 42m0-42l-42 42M2136 3890l42 42m0-42l-42 42M2137 3822l42 42m0-42l-42 42M2138 3974l42 42m0-42l-42 42M2139 4119l42 42m0-42l-42 42M2139 3839l42 42m0-42l-42 42M2139 3937l42 42m0-42l-42 42M2139 4047l42 42m0-42l-42 42M2140 4014l42 42m0-42l-42 42M2140 3937l42 42m0-42l-42 42M2141 3825l42 42m0-42l-42 42M2142 3786l42 42m0-42l-42 42M2143 3828l42 42m0-42l-42 42M2143 4054l42 42m0-42l-42 42M2144 3969l42 42m0-42l-42 42M2144 4010l42 42m0-42l-42 42M2146 3888l42 42m0-42l-42 42M2146 4320l42 42m0-42l-42 42M2146 4205l42 42m0-42l-42 42M2146 3931l42 42m0-42l-42 42M2147 3972l42 42m0-42l-42 42M2147 4165l42 42m0-42l-42 42M2147 4295l42 42m0-42l-42 42M2147 3782l42 42m0-42l-42 42M2147 4196l42 42m0-42l-42 42M2148 3701l42 42m0-42l-42 42M2148 3722l42 42m0-42l-42 42M2149 3843l42 42m0-42l-42 42M2150 3986l42 42m0-42l-42 42M2151 4137l42 42m0-42l-42 42M2151 3267l42 42m0-42l-42 42M2152 3709l42 42m0-42l-42 42M2153 3871l42 42m0-42l-42 42M2154 3862l42 42m0-42l-42 42M2155 3730l42 42m0-42l-42 42M2155 3825l42 42m0-42l-42 42M2155 3814l42 42m0-42l-42 42M2155 3675l42 42m0-42l-42 42M2155 3628l42 42m0-42l-42 42M2156 4062l42 42m0-42l-42 42M2156 3895l42 42m0-42l-42 42M2157 3800l42 42m0-42l-42 42M2158 4148l42 42m0-42l-42 42M2158 3769l42 42m0-42l-42 42M2158 3857l42 42m0-42l-42 42M2159 3897l42 42m0-42l-42 42M2160 3747l42 42m0-42l-42 42M2160 3803l42 42m0-42l-42 42M2160 3904l42 42m0-42l-42 42M2161 3748l42 42m0-42l-42 42M2161 3450l42 42m0-42l-42 42M2162 3892l42 42m0-42l-42 42M2162 3822l42 42m0-42l-42 42M2163 3655l42 42m0-42l-42 42M2163 3884l42 42m0-42l-42 42M2164 4020l42 42m0-42l-42 42M2165 3747l42 42m0-42l-42 42M2165 3472l42 42m0-42l-42 42M2165 4029l42 42m0-42l-42 42M2166 3593l42 42m0-42l-42 42M2166 3834l42 42m0-42l-42 42M2167 4009l42 42m0-42l-42 42M2168 3480l42 42m0-42l-42 42M2168 3880l42 42m0-42l-42 42M2168 3684l42 42m0-42l-42 42M2169 4059l42 42m0-42l-42 42M2169 4206l42 42m0-42l-42 42M2169 4097l42 42m0-42l-42 42M2169 3604l42 42m0-42l-42 42M2170 4080l42 42m0-42l-42 42M2171 3940l42 42m0-42l-42 42M2171 4172l42 42m0-42l-42 42M2171 3825l42 42m0-42l-42 42M2171 3757l42 42m0-42l-42 42M2171 3571l42 42m0-42l-42 42M2172 4088l42 42m0-42l-42 42M2172 3870l42 42m0-42l-42 42M2173 3693l42 42m0-42l-42 42M2175 3884l42 42m0-42l-42 42M2175 4067l42 42m0-42l-42 42M2176 3879l42 42m0-42l-42 42M2176 3679l42 42m0-42l-42 42M2176 3622l42 42m0-42l-42 42M2178 3961l42 42m0-42l-42 42M2178 4357l42 42m0-42l-42 42M2178 3503l42 42m0-42l-42 42M2180 4165l42 42m0-42l-42 42M2180 4044l42 42m0-42l-42 42M2181 4135l42 42m0-42l-42 42M2181 3910l42 42m0-42l-42 42M2181 3593l42 42m0-42l-42 42M2184 3685l42 42m0-42l-42 42M2186 4246l42 42m0-42l-42 42M2187 3897l42 42m0-42l-42 42M2187 3574l42 42m0-42l-42 42M2188 3836l42 42m0-42l-42 42M2188 3963l42 42m0-42l-42 42M2188 3778l42 42m0-42l-42 42M2188 3878l42 42m0-42l-42 42M2189 3771l42 42m0-42l-42 42M2191 3962l42 42m0-42l-42 42M2191 3868l42 42m0-42l-42 42M2192 3934l42 42m0-42l-42 42M2192 3683l42 42m0-42l-42 42M2193 3638l42 42m0-42l-42 42M2194 4063l42 42m0-42l-42 42M2194 3560l42 42m0-42l-42 42M2194 3825l42 42m0-42l-42 42M2195 3724l42 42m0-42l-42 42M2195 3640l42 42m0-42l-42 42M2197 3981l42 42m0-42l-42 42M2198 4149l42 42m0-42l-42 42M2199 4059l42 42m0-42l-42 42M2199 3925l42 42m0-42l-42 42M2200 4231l42 42m0-42l-42 42M2200 3922l42 42m0-42l-42 42M2201 3617l42 42m0-42l-42 42M2201 3748l42 42m0-42l-42 42M2202 4036l42 42m0-42l-42 42M2202 3983l42 42m0-42l-42 42M2202 3814l42 42m0-42l-42 42M2203 3857l42 42m0-42l-42 42M2204 3702l42 42m0-42l-42 42M2205 3530l42 42m0-42l-42 42M2205 3578l42 42m0-42l-42 42M2205 3354l42 42m0-42l-42 42M2205 3529l42 42m0-42l-42 42M2206 3720l42 42m0-42l-42 42M2208 3936l42 42m0-42l-42 42M2208 3730l42 42m0-42l-42 42M2209 3637l42 42m0-42l-42 42M2210 3892l42 42m0-42l-42 42M2210 3719l42 42m0-42l-42 42M2211 3926l42 42m0-42l-42 42M2211 3948l42 42m0-42l-42 42M2213 4023l42 42m0-42l-42 42M2214 3779l42 42m0-42l-42 42M2214 3727l42 42m0-42l-42 42M2215 3827l42 42m0-42l-42 42M2216 3924l42 42m0-42l-42 42M2217 3474l42 42m0-42l-42 42M2217 4211l42 42m0-42l-42 42M2217 3778l42 42m0-42l-42 42M2218 3802l42 42m0-42l-42 42M2218 4088l42 42m0-42l-42 42M2219 3697l42 42m0-42l-42 42M2219 3775l42 42m0-42l-42 42M2220 3641l42 42m0-42l-42 42M2220 3993l42 42m0-42l-42 42M2221 3811l42 42m0-42l-42 42M2221 4007l42 42m0-42l-42 42M2222 4088l42 42m0-42l-42 42M2223 4065l42 42m0-42l-42 42M2223 3694l42 42m0-42l-42 42M2223 3815l42 42m0-42l-42 42M2223 3741l42 42m0-42l-42 42M2225 3782l42 42m0-42l-42 42M2225 3907l42 42m0-42l-42 42M2225 3746l42 42m0-42l-42 42M2227 3846l42 42m0-42l-42 42M2227 3679l42 42m0-42l-42 42M2228 4013l42 42m0-42l-42 42M2228 4031l42 42m0-42l-42 42M2229 3811l42 42m0-42l-42 42M2230 3662l42 42m0-42l-42 42M2234 3908l42 42m0-42l-42 42M2234 3387l42 42m0-42l-42 42M2235 3996l42 42m0-42l-42 42M2235 4027l42 42m0-42l-42 42M2238 3692l42 42m0-42l-42 42M2238 3724l42 42m0-42l-42 42M2240 4007l42 42m0-42l-42 42M2240 3991l42 42m0-42l-42 42M2240 3934l42 42m0-42l-42 42M2240 4101l42 42m0-42l-42 42M2241 3933l42 42m0-42l-42 42M2241 4102l42 42m0-42l-42 42M2241 4208l42 42m0-42l-42 42M2243 3807l42 42m0-42l-42 42M2244 3934l42 42m0-42l-42 42M2245 3445l42 42m0-42l-42 42M2245 3742l42 42m0-42l-42 42M2246 3846l42 42m0-42l-42 42M2246 4033l42 42m0-42l-42 42M2246 4121l42 42m0-42l-42 42M2247 3610l42 42m0-42l-42 42M2247 4057l42 42m0-42l-42 42M2247 3714l42 42m0-42l-42 42M2248 3875l42 42m0-42l-42 42M2249 3604l42 42m0-42l-42 42M2249 3798l42 42m0-42l-42 42M2249 3824l42 42m0-42l-42 42M2252 4106l42 42m0-42l-42 42M2253 3935l42 42m0-42l-42 42M2253 3647l42 42m0-42l-42 42M2254 3672l42 42m0-42l-42 42M2254 3860l42 42m0-42l-42 42M2254 3993l42 42m0-42l-42 42M2255 3853l42 42m0-42l-42 42M2255 3859l42 42m0-42l-42 42M2256 3739l42 42m0-42l-42 42M2257 4049l42 42m0-42l-42 42M2258 4089l42 42m0-42l-42 42M2258 3688l42 42m0-42l-42 42M2259 3666l42 42m0-42l-42 42M2259 3795l42 42m0-42l-42 42M2260 3562l42 42m0-42l-42 42M2261 4007l42 42m0-42l-42 42M2261 3918l42 42m0-42l-42 42M2263 4031l42 42m0-42l-42 42M2263 3953l42 42m0-42l-42 42M2264 4092l42 42m0-42l-42 42M2264 3697l42 42m0-42l-42 42M2264 3757l42 42m0-42l-42 42M2265 3952l42 42m0-42l-42 42M2266 3653l42 42m0-42l-42 42M2266 4008l42 42m0-42l-42 42M2267 4021l42 42m0-42l-42 42M2269 3512l42 42m0-42l-42 42M2269 3932l42 42m0-42l-42 42M2271 3685l42 42m0-42l-42 42M2271 3822l42 42m0-42l-42 42M2271 4142l42 42m0-42l-42 42M2272 3917l42 42m0-42l-42 42M2272 3733l42 42m0-42l-42 42M2273 3747l42 42m0-42l-42 42M2273 3741l42 42m0-42l-42 42M2275 4076l42 42m0-42l-42 42M2275 3868l42 42m0-42l-42 42M2276 4036l42 42m0-42l-42 42M2277 3696l42 42m0-42l-42 42M2278 3677l42 42m0-42l-42 42M2278 3696l42 42m0-42l-42 42M2279 4126l42 42m0-42l-42 42M2280 3807l42 42m0-42l-42 42M2280 3990l42 42m0-42l-42 42M2281 4146l42 42m0-42l-42 42M2282 3967l42 42m0-42l-42 42M2282 3874l42 42m0-42l-42 42M2283 3818l42 42m0-42l-42 42M2283 3905l42 42m0-42l-42 42M2283 3748l42 42m0-42l-42 42M2284 3515l42 42m0-42l-42 42M2284 4020l42 42m0-42l-42 42M2285 3639l42 42m0-42l-42 42M2286 3825l42 42m0-42l-42 42M2286 3913l42 42m0-42l-42 42M2287 3820l42 42m0-42l-42 42M2287 3948l42 42m0-42l-42 42M2288 4084l42 42m0-42l-42 42M2288 3744l42 42m0-42l-42 42M2288 3716l42 42m0-42l-42 42M2290 4349l42 42m0-42l-42 42M2290 3980l42 42m0-42l-42 42M2291 3547l42 42m0-42l-42 42M2291 4078l42 42m0-42l-42 42M2292 3902l42 42m0-42l-42 42M2292 3904l42 42m0-42l-42 42M2294 3730l42 42m0-42l-42 42M2294 4165l42 42m0-42l-42 42M2294 3863l42 42m0-42l-42 42M2295 3521l42 42m0-42l-42 42M2296 4158l42 42m0-42l-42 42M2297 3842l42 42m0-42l-42 42M2299 3807l42 42m0-42l-42 42M2300 4226l42 42m0-42l-42 42M2300 3807l42 42m0-42l-42 42M2301 3524l42 42m0-42l-42 42M2302 3993l42 42m0-42l-42 42M2302 3904l42 42m0-42l-42 42M2303 3678l42 42m0-42l-42 42M2303 3776l42 42m0-42l-42 42M2304 3933l42 42m0-42l-42 42M2306 3931l42 42m0-42l-42 42M2308 4197l42 42m0-42l-42 42M2308 4001l42 42m0-42l-42 42M2309 3635l42 42m0-42l-42 42M2309 3679l42 42m0-42l-42 42M2310 3615l42 42m0-42l-42 42M2311 3729l42 42m0-42l-42 42M2313 3753l42 42m0-42l-42 42M2313 3684l42 42m0-42l-42 42M2314 4027l42 42m0-42l-42 42M2314 3588l42 42m0-42l-42 42M2314 3604l42 42m0-42l-42 42M2317 3963l42 42m0-42l-42 42M2319 3650l42 42m0-42l-42 42M2320 3976l42 42m0-42l-42 42M2320 3932l42 42m0-42l-42 42M2321 4084l42 42m0-42l-42 42M2322 3683l42 42m0-42l-42 42M2323 4011l42 42m0-42l-42 42M2323 3953l42 42m0-42l-42 42M2324 3667l42 42m0-42l-42 42M2325 3745l42 42m0-42l-42 42M2327 4010l42 42m0-42l-42 42M2327 3823l42 42m0-42l-42 42M2329 3420l42 42m0-42l-42 42M2331 3745l42 42m0-42l-42 42M2332 3775l42 42m0-42l-42 42M2332 3864l42 42m0-42l-42 42M2333 4161l42 42m0-42l-42 42M2335 3658l42 42m0-42l-42 42M2336 3933l42 42m0-42l-42 42M2336 3689l42 42m0-42l-42 42M2337 3961l42 42m0-42l-42 42M2338 3734l42 42m0-42l-42 42M2339 4113l42 42m0-42l-42 42M2340 3966l42 42m0-42l-42 42M2340 3520l42 42m0-42l-42 42M2340 3639l42 42m0-42l-42 42M2341 4092l42 42m0-42l-42 42M2342 3705l42 42m0-42l-42 42M2342 3710l42 42m0-42l-42 42M2343 4008l42 42m0-42l-42 42M2344 4293l42 42m0-42l-42 42M2344 3692l42 42m0-42l-42 42M2344 3631l42 42m0-42l-42 42M2345 3950l42 42m0-42l-42 42M2346 3850l42 42m0-42l-42 42M2346 3853l42 42m0-42l-42 42M2346 3906l42 42m0-42l-42 42M2347 3807l42 42m0-42l-42 42M2348 3743l42 42m0-42l-42 42M2349 4014l42 42m0-42l-42 42M2349 3899l42 42m0-42l-42 42M2351 3548l42 42m0-42l-42 42M2351 4109l42 42m0-42l-42 42M2352 3533l42 42m0-42l-42 42M2353 3425l42 42m0-42l-42 42M2354 4017l42 42m0-42l-42 42M2354 3873l42 42m0-42l-42 42M2356 3565l42 42m0-42l-42 42M2356 3559l42 42m0-42l-42 42M2359 4065l42 42m0-42l-42 42M2360 3829l42 42m0-42l-42 42M2360 3942l42 42m0-42l-42 42M2361 3734l42 42m0-42l-42 42M2362 3817l42 42m0-42l-42 42M2362 3814l42 42m0-42l-42 42M2363 4006l42 42m0-42l-42 42M2364 3851l42 42m0-42l-42 42M2364 3941l42 42m0-42l-42 42M2366 3561l42 42m0-42l-42 42M2368 3706l42 42m0-42l-42 42M2368 3697l42 42m0-42l-42 42M2369 3932l42 42m0-42l-42 42M2369 3591l42 42m0-42l-42 42M2369 3863l42 42m0-42l-42 42M2371 3838l42 42m0-42l-42 42M2372 3773l42 42m0-42l-42 42M2373 3988l42 42m0-42l-42 42M2373 3537l42 42m0-42l-42 42M2376 3714l42 42m0-42l-42 42M2377 3918l42 42m0-42l-42 42M2378 3818l42 42m0-42l-42 42M2378 4145l42 42m0-42l-42 42M2378 3871l42 42m0-42l-42 42M2379 3966l42 42m0-42l-42 42M2381 3822l42 42m0-42l-42 42M2381 3983l42 42m0-42l-42 42M2383 4132l42 42m0-42l-42 42M2385 3599l42 42m0-42l-42 42M2387 3599l42 42m0-42l-42 42M2388 4144l42 42m0-42l-42 42M2390 3897l42 42m0-42l-42 42M2390 3921l42 42m0-42l-42 42M2390 3685l42 42m0-42l-42 42M2390 3833l42 42m0-42l-42 42M2391 3996l42 42m0-42l-42 42M2392 3864l42 42m0-42l-42 42M2394 3649l42 42m0-42l-42 42M2394 3785l42 42m0-42l-42 42M2397 3571l42 42m0-42l-42 42M2398 3790l42 42m0-42l-42 42M2399 3697l42 42m0-42l-42 42M2399 3894l42 42m0-42l-42 42M2400 3735l42 42m0-42l-42 42M2401 3911l42 42m0-42l-42 42M2402 3726l42 42m0-42l-42 42M2404 3878l42 42m0-42l-42 42M2404 3938l42 42m0-42l-42 42M2404 3823l42 42m0-42l-42 42M2406 3715l42 42m0-42l-42 42M2406 3647l42 42m0-42l-42 42M2406 3941l42 42m0-42l-42 42M2407 3680l42 42m0-42l-42 42M2407 3959l42 42m0-42l-42 42M2407 3643l42 42m0-42l-42 42M2410 3921l42 42m0-42l-42 42M2411 3911l42 42m0-42l-42 42M2412 3679l42 42m0-42l-42 42M2413 4158l42 42m0-42l-42 42M2413 4100l42 42m0-42l-42 42M2414 3739l42 42m0-42l-42 42M2417 3477l42 42m0-42l-42 42M2417 3913l42 42m0-42l-42 42M2419 3865l42 42m0-42l-42 42M2419 3868l42 42m0-42l-42 42M2420 3549l42 42m0-42l-42 42M2420 3982l42 42m0-42l-42 42M2421 3817l42 42m0-42l-42 42M2421 3608l42 42m0-42l-42 42M2424 3770l42 42m0-42l-42 42M2424 3644l42 42m0-42l-42 42M2425 4206l42 42m0-42l-42 42M2426 4293l42 42m0-42l-42 42M2427 3992l42 42m0-42l-42 42M2428 3853l42 42m0-42l-42 42M2429 3782l42 42m0-42l-42 42M2429 3790l42 42m0-42l-42 42M2429 3864l42 42m0-42l-42 42M2431 3661l42 42m0-42l-42 42M2431 3960l42 42m0-42l-42 42M2432 3863l42 42m0-42l-42 42M2432 4008l42 42m0-42l-42 42M2434 4133l42 42m0-42l-42 42M2434 3985l42 42m0-42l-42 42M2434 4405l42 42m0-42l-42 42M2436 3948l42 42m0-42l-42 42M2437 3581l42 42m0-42l-42 42M2439 3843l42 42m0-42l-42 42M2439 3975l42 42m0-42l-42 42M2440 3765l42 42m0-42l-42 42M2441 3536l42 42m0-42l-42 42M2443 4005l42 42m0-42l-42 42M2443 3957l42 42m0-42l-42 42M2443 3934l42 42m0-42l-42 42M2445 3903l42 42m0-42l-42 42M2446 3824l42 42m0-42l-42 42M2447 3663l42 42m0-42l-42 42M2447 3803l42 42m0-42l-42 42M2448 3994l42 42m0-42l-42 42M2449 3676l42 42m0-42l-42 42M2450 4109l42 42m0-42l-42 42M2451 3664l42 42m0-42l-42 42M2452 3563l42 42m0-42l-42 42M2452 3873l42 42m0-42l-42 42M2453 3850l42 42m0-42l-42 42M2453 3987l42 42m0-42l-42 42M2453 3782l42 42m0-42l-42 42M2454 4025l42 42m0-42l-42 42M2454 4027l42 42m0-42l-42 42M2456 4114l42 42m0-42l-42 42M2457 3821l42 42m0-42l-42 42M2459 4220l42 42m0-42l-42 42M2459 3766l42 42m0-42l-42 42M2459 3938l42 42m0-42l-42 42M2460 4233l42 42m0-42l-42 42M2462 3506l42 42m0-42l-42 42M2462 3813l42 42m0-42l-42 42M2464 3734l42 42m0-42l-42 42M2465 3895l42 42m0-42l-42 42M2466 3813l42 42m0-42l-42 42M2469 4013l42 42m0-42l-42 42M2470 3923l42 42m0-42l-42 42M2471 3840l42 42m0-42l-42 42M2474 3778l42 42m0-42l-42 42M2476 3972l42 42m0-42l-42 42M2477 3895l42 42m0-42l-42 42M2478 3819l42 42m0-42l-42 42M2478 3604l42 42m0-42l-42 42M2479 4268l42 42m0-42l-42 42M2482 3718l42 42m0-42l-42 42M2483 3956l42 42m0-42l-42 42M2484 3954l42 42m0-42l-42 42M2485 3692l42 42m0-42l-42 42M2486 3685l42 42m0-42l-42 42M2487 3813l42 42m0-42l-42 42M2488 3851l42 42m0-42l-42 42M2492 3426l42 42m0-42l-42 42M2493 3868l42 42m0-42l-42 42M2493 4011l42 42m0-42l-42 42M2494 3663l42 42m0-42l-42 42M2495 4455l42 42m0-42l-42 42M2495 3668l42 42m0-42l-42 42M2495 3705l42 42m0-42l-42 42M2495 3529l42 42m0-42l-42 42M2497 4172l42 42m0-42l-42 42M2498 3810l42 42m0-42l-42 42M2498 3963l42 42m0-42l-42 42M2499 3853l42 42m0-42l-42 42M2499 3741l42 42m0-42l-42 42M2500 3953l42 42m0-42l-42 42M2504 3597l42 42m0-42l-42 42M2505 4003l42 42m0-42l-42 42M2512 3671l42 42m0-42l-42 42M2513 3917l42 42m0-42l-42 42M2514 3527l42 42m0-42l-42 42M2514 4001l42 42m0-42l-42 42M2518 3873l42 42m0-42l-42 42M2521 3465l42 42m0-42l-42 42M2521 3898l42 42m0-42l-42 42M2526 3885l42 42m0-42l-42 42M2530 3886l42 42m0-42l-42 42M2531 3574l42 42m0-42l-42 42M2533 3758l42 42m0-42l-42 42M2537 4233l42 42m0-42l-42 42M2537 3504l42 42m0-42l-42 42M2538 3935l42 42m0-42l-42 42M2539 3854l42 42m0-42l-42 42M2539 3990l42 42m0-42l-42 42M2540 3808l42 42m0-42l-42 42M2541 3528l42 42m0-42l-42 42M2542 3891l42 42m0-42l-42 42M2544 3585l42 42m0-42l-42 42M2544 3490l42 42m0-42l-42 42M2544 3886l42 42m0-42l-42 42M2549 3965l42 42m0-42l-42 42M2549 3673l42 42m0-42l-42 42M2550 3791l42 42m0-42l-42 42M2552 3578l42 42m0-42l-42 42M2553 3655l42 42m0-42l-42 42M2554 3525l42 42m0-42l-42 42M2555 3420l42 42m0-42l-42 42M2556 3996l42 42m0-42l-42 42M2557 3808l42 42m0-42l-42 42M2558 3667l42 42m0-42l-42 42M2558 3793l42 42m0-42l-42 42M2562 3905l42 42m0-42l-42 42M2562 4122l42 42m0-42l-42 42M2565 4026l42 42m0-42l-42 42M2569 3628l42 42m0-42l-42 42M2571 3608l42 42m0-42l-42 42M2574 4034l42 42m0-42l-42 42M2575 3980l42 42m0-42l-42 42M2577 3797l42 42m0-42l-42 42M2578 3849l42 42m0-42l-42 42M2579 3845l42 42m0-42l-42 42M2579 3631l42 42m0-42l-42 42M2581 3867l42 42m0-42l-42 42M2583 3942l42 42m0-42l-42 42M2584 3614l42 42m0-42l-42 42M2585 3620l42 42m0-42l-42 42M2587 4087l42 42m0-42l-42 42M2588 4001l42 42m0-42l-42 42M2589 3800l42 42m0-42l-42 42M2589 3817l42 42m0-42l-42 42M2590 3793l42 42m0-42l-42 42M2591 3899l42 42m0-42l-42 42M2591 3577l42 42m0-42l-42 42M2593 4209l42 42m0-42l-42 42M2594 4017l42 42m0-42l-42 42M2601 4401l42 42m0-42l-42 42M2602 3716l42 42m0-42l-42 42M2604 3868l42 42m0-42l-42 42M2605 3775l42 42m0-42l-42 42M2605 3488l42 42m0-42l-42 42M2605 3963l42 42m0-42l-42 42M2608 4017l42 42m0-42l-42 42M2609 3658l42 42m0-42l-42 42M2609 3622l42 42m0-42l-42 42M2609 3541l42 42m0-42l-42 42M2613 4199l42 42m0-42l-42 42M2617 3800l42 42m0-42l-42 42M2617 3841l42 42m0-42l-42 42M2619 3757l42 42m0-42l-42 42M2631 3751l42 42m0-42l-42 42M2634 3617l42 42m0-42l-42 42M2635 3829l42 42m0-42l-42 42M2637 4064l42 42m0-42l-42 42M2640 3674l42 42m0-42l-42 42M2646 3631l42 42m0-42l-42 42M2651 3530l42 42m0-42l-42 42M2657 3943l42 42m0-42l-42 42M2660 3882l42 42m0-42l-42 42M2662 3793l42 42m0-42l-42 42M2663 3799l42 42m0-42l-42 42M2665 3942l42 42m0-42l-42 42M2668 3473l42 42m0-42l-42 42M2675 3976l42 42m0-42l-42 42M2684 3820l42 42m0-42l-42 42M2688 3982l42 42m0-42l-42 42M2698 3672l42 42m0-42l-42 42M2701 4187l42 42m0-42l-42 42M2701 3635l42 42m0-42l-42 42M2702 3775l42 42m0-42l-42 42M2711 3806l42 42m0-42l-42 42M2719 3826l42 42m0-42l-42 42M2726 3798l42 42m0-42l-42 42M2737 4135l42 42m0-42l-42 42M2738 3984l42 42m0-42l-42 42M2754 3772l42 42m0-42l-42 42M2773 3955l42 42m0-42l-42 42M2791 4190l42 42m0-42l-42 42M2797 3955l42 42m0-42l-42 42M2801 3749l42 42m0-42l-42 42M2805 3521l42 42m0-42l-42 42"/></g>
<path class="l" d="M53.2 381.7H163.2L284.3 264.6"/>
</g>
<g clip-path="url(#c4)">
<g transform="scale(.1)">
<path class="d" d="M2980 3101h0m241 609h0m21-147h0m54 47h0m-15 98h0m-30 6h0m41 16h0m-15 151h0m-18 112h0m21 11h0m24-499h0m28 1h0m-12 186h0m-20 78h0m12 217h0m86-581h0m18 105h0m-56 85h0m6 46h0m17 23h0m22 10h0m-15 9h0m14 24h0m12 82h0m-30 12h0m19 50h0m-14 2h0m58-435h0m-18 60h0m37 39h0m-25 40h0m33 50h0m3 16h0m-53 18h0m43 59h0m-3 10h0m-20 7h0m30 23h0m-3 1h0m-12 13h0m6 4h0m-36 38h0m34 65h0m-36 14h0m47 10h0m-53 59h0m18 155h0m37 78h0m25-1127h0m8 188h0m-26 296h0m35 55h0m-8 17h0m-4 8h0m8 38h0m-7 4h0m18 7h0m-11 28h0m18 24h0m-34 26h0m-12 14h0m13 80h0m3 15h0m32 5h0m-37 28h0m-4 54h0m24 48h0m4 56h0m-33 293h0m107-969h0m-1 29h0m-31 137h0m-19 11h0m53 7h0m-53 27h0m-4 15h0m48 2h0m-1 16h0m-31 7h0m28 1h0m9 8h0m-17 7h0m-37 4h0m44 0h0m-21 2h0m21 5h0m10 1h0m-55 20h0m38 4h0m-9 37h0m-2 1h0m-27 7h0m18 12h0m2 2h0m37 2h0m-8 26h0m-1 16h0m-34 0h0m28 6h0m-39 6h0m19 21h0m32 25h0m-6 2h0m6 6h0m-20 21h0m12 68h0m3 11h0m-36 43h0m29 92h0m-31 3h0m46 39h0m-9 8h0m30-977h0m38 176h0m-45 126h0m41 30h0m-48 15h0m42 32h0m12 38h0m-4 24h0m-10 2h0m-38 7h0m13 1h0m-15 28h0m0 12h0m29 7h0m6 0h0m-33 8h0m31 10h0m-3 1h0m-3 9h0m-27 0h0m23 7h0m23 15h0m7 22h0m-20 4h0m-25 10h0m11 3h0m3 1h0m-12 6h0m2 0h0m25 13h0m2 8h0m13 23h0m-16 3h0m-24 5h0m8 31h0m32 3h0m-12 10h0m-19 2h0m2 12h0m-21 4h0m16 10h0m33 39h0m-41 4h0m22 0h0m-28 20h0m50 67h0m59-593h0m-18 31h0m20 50h0m-29 17h0m25 4h0m-46 6h0m37 9h0m-1 6h0m7 25h0m-43 0h0m44 6h0m1 1h0m-3 0h0m-19 2h0m24 6h0m-44 1h0m12 17h0m-2 2h0m17 31h0m7 1h0m-21 0h0m-11 12h0m-5 3h0m-1 8h0m30 6h0m-30 0h0m16 22h0m6 1h0m23 2h0m-29 13h0m6 6h0m20 15h0m-47 4h0m47 24h0m-17 18h0m-10 10h0m22 3h0m-34 9h0m29 14h0m-19 2h0m-2 5h0m-8 4h0m33 1h0m-13 2h0m-23 27h0m24 3h0m8 7h0m-37 3h0m37 12h0m-22 7h0m5 6h0m36 4h0m-14 78h0m-28 6h0m35 23h0m4 22h0m-4 3h0m-30 48h0m-14 105h0m98-1060h0m-14 261h0m0 18h0m24 13h0m-27 15h0m28 12h0m-35 43h0m-7 16h0m10 23h0m-12 4h0m20 8h0m-17 8h0m-2 11h0m39 9h0m-45 3h0m40 5h0m-4 0h0m-42 10h0m53 6h0m-55 4h0m28 2h0m15 5h0m-24 3h0m7 1h0m0 5h0m20 0h0m-27 1h0m-15 12h0m25 8h0m-22 2h0m29 17h0m-10 10h0m-16 2h0m21 1h0m5 2h0m5 0h0m-7 11h0m-33 9h0m41 3h0m16 2h0m-32 5h0m-25 1h0m6 3h0m5 6h0m11 8h0m7 3h0m6 15h0m-4 1h0m3 0h0m18 12h0m-10 5h0m15 14h0m-52 2h0m17 6h0m16 10h0m-28 1h0m0 3h0m46 6h0m-49 2h0m43 16h0m-46 0h0m10 21h0m24 4h0m15 6h0m-1 10h0m-49 0h0m24 0h0m-28 10h0m44 1h0m-9 2h0m11 12h0m-8 17h0m4 10h0m-14 7h0m2 9h0m-24 9h0m-1 15h0m-2 23h0m39 6h0m1 14h0m-40 34h0m17 73h0m17 23h0m-25 152h0m90-934h0m-24 12h0m5 23h0m-21 48h0m9 36h0m37 1h0m-33 24h0m11 2h0m-17 17h0m-2 4h0m4 2h0m10 16h0m-15 5h0m17 10h0m27 1h0m-18 3h0m-14 27h0m7 6h0m-16 5h0m10 2h0m14 1h0m-2 29h0m15 1h0m-40 0h0m18 13h0m-18 1h0m42 6h0m11 6h0m-14 1h0m-19 1h0m4 7h0m21 2h0m1 2h0m-2 3h0m-6 0h0m-32 8h0m37 3h0m-33 2h0m33 4h0m-11 3h0m19 22h0m-17 0h0m-25 4h0m40 3h0m4 3h0m-47 1h0m-5 2h0m-7 26h0m57 11h0m-49 2h0m4 0h0m-11 4h0m47 0h0m-17 1h0m18 3h0m-13 17h0m-24 9h0m19 29h0m-1 1h0m14 1h0m-5 8h0m-17 0h0m4 35h0m6 5h0m3 17h0m10 3h0m-22 9h0m11 4h0m-4 2h0m27 13h0m-11 21h0m-21 11h0m33 5h0m-42 0h0m17 3h0m-10 2h0m-17 7h0m21 7h0m-13 10h0m34 20h0m8 26h0m-28 47h0m18 9h0m-40 42h0m14 25h0m-18 46h0m37 34h0m12 133h0m11-1274h0m42 119h0m-26 158h0m-16 20h0m35 10h0m-27 8h0m17 2h0m24 1h0m-28 35h0m6 31h0m14 13h0m-17 5h0m6 6h0m16 20h0m-23 15h0m3 5h0m-13 36h0m11 4h0m-15 10h0m29 3h0m-14 5h0m-5 15h0m5 3h0m28 43h0m2 1h0m-31 8h0m28 2h0m4 6h0m-49 10h0m3 7h0m4 1h0m16 2h0m-2 4h0m-24 3h0m43 10h0m-40 1h0m30 3h0m-8 4h0m-20 6h0m-5 4h0m37 4h0m-36 3h0m14 1h0m5 0h0m-9 1h0m23 11h0m20 2h0m-46 2h0m23 4h0m10 2h0m-31 7h0m34 16h0m-27 17h0m-14 5h0m18 6h0m16 4h0m9 3h0m-28 8h0m-21 8h0m9 0h0m1 2h0m0 8h0m-6 2h0m23 0h0m-20 6h0m8 19h0m-4 1h0m-8 20h0m-2 31h0m56 9h0m-17 13h0m-32 37h0m-8 29h0m41 7h0m-7 1h0m5 44h0m-27 54h0m18 63h0m4 14h0m-31 6h0m18 99h0m70-1293h0m-19 90h0m24 238h0m-33 71h0m34 17h0m4 22h0m-12 1h0m13 13h0m3 1h0m8 8h0m-47 8h0m29 9h0m5 1h0m15 6h0m2 3h0m-28 12h0m8 10h0m7 2h0m-38 11h0m27 36h0m-31 2h0m15 30h0m13 2h0m-1 5h0m-6 5h0m30 0h0m-53 3h0m0 4h0m23 5h0m-23 9h0m52 14h0m-30 3h0m2 5h0m-19 1h0m5 1h0m21 9h0m-33 3h0m18 0h0m-16 6h0m47 2h0m-11 7h0m-33 3h0m19 7h0m33 8h0m-34 11h0m27 6h0m-24 5h0m2 17h0m29 1h0m-5 11h0m-19 3h0m21 5h0m1 2h0m-32 7h0m24 14h0m-15 17h0m1 6h0m-4 0h0m5 16h0m-24 5h0m17 2h0m-19 8h0m24 1h0m4 15h0m12 2h0m-21 2h0m5 3h0m26 8h0m-42 6h0m-5 21h0m10 2h0m-10 7h0m26 30h0m-33 9h0m18 1h0m20 18h0m-38 1h0m25 18h0m-15 22h0m24 28h0m19 8h0m-17 22h0m-3 69h0m-23 11h0m5 29h0m9 70h0m61-988h0m22 103h0m6 2h0m1 53h0m-31 8h0m13 0h0m-27 9h0m15 26h0m-22 11h0m8 33h0m-2 27h0m-8 6h0m12 1h0m2 4h0m35 15h0m-19 31h0m-22 6h0m22 6h0m-11 3h0m-15 20h0m25 12h0m-28 12h0m7 22h0m8 5h0m19 7h0m-14 2h0m-12 4h0m9 9h0m24 5h0m-11 19h0m-35 1h0m1 0h0m51 1h0m1 0h0m5 6h0m0 8h0m-2 21h0m-52 0h0m51 4h0m-27 3h0m-5 17h0m-10 0h0m22 11h0m7 11h0m-13 3h0m-6 8h0m18 4h0m17 10h0m-23 3h0m-3 2h0m3 4h0m8 11h0m-20 30h0m16 5h0m-32 9h0m7 2h0m4 6h0m-2 1h0m39 2h0m-52 33h0m7 4h0m-7 6h0m7 0h0m-4 17h0m42 1h0m-16 0h0m3 48h0m-5 12h0m2 14h0m9 1h0m-24 8h0m16 2h0m-2 2h0m4 102h0m15 14h0m-43 37h0m-1 138h0m76-984h0m27 42h0m-25 2h0m27 85h0m-6 8h0m-20 4h0m-25 55h0m23 7h0m-13 3h0m20 3h0m21 0h0m-45 9h0m13 9h0m-18 2h0m49 3h0m-44 10h0m38 7h0m-40 10h0m44 1h0m-28 8h0m2 2h0m-7 1h0m2 4h0m-14 4h0m11 13h0m11 4h0m-21 9h0m18 6h0m24 2h0m-2 12h0m-44 11h0m39 1h0m-37 2h0m55 8h0m-16 7h0m-41 8h0m32 10h0m0 0h0m25 1h0m0 1h0m-57 6h0m44 3h0m6 7h0m-8 4h0m-27 1h0m36 24h0m-39 35h0m10 8h0m-17 14h0m-4 1h0m54 12h0m0 3h0m-50 4h0m37 12h0m-9 5h0m-22 3h0m25 1h0m-32 16h0m14 15h0m11 11h0m6 1h0m-20 8h0m28 4h0m-25 1h0m-3 0h0m4 9h0m-15 3h0m50 20h0m4 8h0m-18 12h0m-29 32h0m9 3h0m27 9h0m7 18h0m-14 34h0m-16 2h0m21 33h0m-26 15h0m25 35h0m-9 19h0m-11 2h0m-16 101h0m102-1456h0m-1 628h0m-43 15h0m24 10h0m3 10h0m23 7h0m-35 3h0m30 2h0m-31 7h0m30 6h0m-45 10h0m42 7h0m-14 5h0m-30 43h0m16 3h0m7 7h0m-14 4h0m-3 5h0m6 0h0m40 3h0m-53 9h0m33 2h0m22 18h0m-32 1h0m15 8h0m11 10h0m-2 1h0m4 0h0m-25 11h0m-8 10h0m28 2h0m-32 13h0m42 4h0m-1 0h0m-51 4h0m17 5h0m36 4h0m-48 3h0m-1 0h0m40 7h0m-47 9h0m40 0h0m-10 5h0m-9 15h0m10 1h0m-21 5h0m25 1h0m11 6h0m2 2h0m-14 8h0m-9 1h0m16 11h0m-9 4h0m-14 8h0m-5 1h0m27 22h0m-17 1h0m-4 4h0m-7 1h0m23 1h0m-3 4h0m-13 5h0m17 3h0m-7 8h0m-22 1h0m46 5h0m-25 1h0m28 0h0m-25 1h0m-11 3h0m-22 15h0m29 0h0m16 13h0m-23 1h0m24 1h0m-34 6h0m33 0h0m-7 13h0m1 7h0m-5 19h0m-6 1h0m-22 18h0m41 18h0m-27 8h0m-14 1h0m48 9h0m0 9h0m3 0h0m-34 4h0m13 4h0m9 4h0m-24 16h0m26 9h0m-19 6h0m21 4h0m-25 14h0m-9 4h0m21 9h0m4 0h0m-40 5h0m23 18h0m7 10h0m-3 18h0m-27 6h0m58 38h0m-15 64h0m-8 4h0m17 118h0m66-1104h0m-8 62h0m-3 110h0m-47 46h0m25 8h0m-8 31h0m4 21h0m-21 15h0m3 19h0m27 2h0m-4 16h0m-11 13h0m-7 14h0m18 12h0m30 2h0m-40 4h0m-13 5h0m16 20h0m13 1h0m-23 21h0m29 4h0m8 8h0m-47 2h0m44 15h0m8 9h0m5 2h0m-4 22h0m-46 2h0m48 5h0m-6 26h0m-28 27h0m-14 10h0m52 21h0m-52 3h0m19 1h0m31 1h0m-54 3h0m10 4h0m0 9h0m-8 3h0m10 9h0m12 4h0m-5 0h0m14 13h0m-27 22h0m10 1h0m2 4h0m32 1h0m-25 16h0m1 24h0m4 3h0m-27 11h0m36 7h0m16 0h0m-44 2h0m1 6h0m27 18h0m10 21h0m-35 6h0m5 30h0m31 3h0m2 8h0m-18 8h0m-19 1h0m-18 45h0m19 15h0m-3 48h0m-3 37h0m37 24h0m-34 22h0m7 8h0m3 4h0m39-1081h0m15 131h0m17 21h0m21 131h0m-3 15h0m-49 4h0m49 0h0m-13 21h0m-34 2h0m34 34h0m-26 10h0m13 2h0m15 10h0m-31 22h0m24 13h0m-34 4h0m51 0h0m-17 1h0m-24 7h0m27 12h0m0 2h0m-26 21h0m40 24h0m-34 46h0m-19 5h0m57 12h0m-49 10h0m22 23h0m-27 19h0m46 3h0m-12 3h0m-36 3h0m50 7h0m-47 6h0m32 11h0m-3 15h0m-30 22h0m32 1h0m-25 5h0m33 4h0m-30 6h0m45 10h0m-58 1h0m47 5h0m-1 2h0m-22 1h0m-25 7h0m11 5h0m45 2h0m-55 0h0m8 8h0m-5 24h0m33 42h0m11 0h0m8 7h0m-50 2h0m19 10h0m14 1h0m-35 6h0m6 2h0m22 9h0m-4 15h0m31 2h0m-13 0h0m-15 2h0m10 3h0m1 3h0m10 4h0m-9 6h0m5 0h0m-7 39h0m-31 1h0m2 5h0m40 8h0m-15 49h0m-22 10h0m16 36h0m-10 75h0m-13 0h0m-7 17h0m49 30h0m-32 57h0m29 31h0m59-1369h0m-18 120h0m3 44h0m3 216h0m-16 7h0m23 24h0m13 43h0m-44 15h0m33 9h0m-38 4h0m40 22h0m-26 23h0m27 37h0m-27 23h0m16 18h0m-3 1h0m0 19h0m10 4h0m-22 4h0m0 6h0m5 28h0m13 4h0m-3 2h0m24 0h0m-29 1h0m27 18h0m-2 6h0m-23 5h0m22 15h0m-32 29h0m-17 27h0m22 13h0m-16 1h0m-9 11h0m12 10h0m33 1h0m-30 2h0m28 1h0m0 1h0m4 10h0m-49 1h0m53 15h0m-32 2h0m3 7h0m6 13h0m-8 12h0m25 14h0m7 11h0m-31 8h0m0 6h0m-2 14h0m26 2h0m-36 18h0m27 1h0m-8 25h0m5 0h0m5 22h0m2 12h0m-19 6h0m3 6h0m4 5h0m26 6h0m-27 9h0m-13 13h0m1 7h0m39 2h0m-28 42h0m9 13h0m-10 10h0m11 58h0m-6 35h0m6 125h0m27-1229h0m1 84h0m39 36h0m-7 12h0m-36 120h0m17 75h0m16 36h0m-12 3h0m27 20h0m-5 43h0m-41 15h0m30 20h0m15 25h0m6 4h0m-15 35h0m-16 13h0m-23 55h0m8 1h0m46 2h0m-53 0h0m16 4h0m-15 12h0m18 6h0m38 5h0m-48 11h0m29 0h0m-30 5h0m10 2h0m-3 24h0m17 1h0m-3 0h0m28 11h0m-51 4h0m27 17h0m-15 13h0m1 17h0m-12 27h0m9 2h0m1 1h0m-3 0h0m35 8h0m-5 4h0m6 7h0m-18 4h0m20 6h0m-46 1h0m1 3h0m40 7h0m-47 8h0m42 4h0m-32 1h0m37 8h0m5 8h0m1 3h0m-31 6h0m-24 7h0m2 5h0m9 15h0m8 2h0m31 25h0m-32 12h0m28 1h0m7 30h0m-20 1h0m-15 6h0m18 4h0m-27 9h0m22 6h0m-18 3h0m10 2h0m-8 3h0m15 5h0m-18 8h0m-9 7h0m10 0h0m-1 5h0m6 29h0m39 19h0m-38 272h0m55-1105h0m-1 78h0m-4 55h0m7 62h0m26 12h0m-11 26h0m7 37h0m-13 4h0m9 0h0m14 4h0m-46 12h0m9 15h0m11 10h0m-15 8h0m22 2h0m-23 4h0m30 4h0m4 38h0m15 2h0m-48 11h0m41 10h0m-43 1h0m15 13h0m39 13h0m-38 5h0m5 3h0m23 9h0m-25 1h0m-16 19h0m1 24h0m27 1h0m11 3h0m-35 8h0m43 2h0m-39 1h0m34 1h0m-7 6h0m-20 3h0m-5 0h0m32 5h0m-30 5h0m-3 23h0m-2 6h0m39 0h0m-31 25h0m-17 1h0m3 0h0m-4 6h0m20 4h0m28 3h0m-50 2h0m34 24h0m-7 37h0m-21 20h0m-9 7h0m22 53h0m-20 8h0m34 4h0m2 7h0m-20 16h0m41 3h0m-18 14h0m-10 13h0m-27 20h0m33 110h0m9 20h0m-23 149h0m61-1082h0m21 151h0m-32 122h0m46 2h0m-15 0h0m-13 9h0m-5 33h0m-8 43h0m6 11h0m33 38h0m-56 1h0m36 4h0m-12 1h0m7 3h0m19 58h0m-45 10h0m28 1h0m-27 8h0m11 4h0m30 26h0m-40 1h0m17 0h0m4 6h0m-28 5h0m0 8h0m2 3h0m4 14h0m17 18h0m29 2h0m-28 8h0m22 1h0m3 11h0m-45 2h0m22 3h0m-12 27h0m-12 8h0m38 25h0m15 3h0m-5 0h0m7 15h0m-53 8h0m15 29h0m31 1h0m-32 1h0m11 1h0m-2 4h0m-13 5h0m5 37h0m15 26h0m-7 168h0m-11 29h0m46-1385h0m51 381h0m-40 272h0m-7 16h0m9 70h0m32 9h0m-22 18h0m2 4h0m-11 1h0m16 9h0m-8 19h0m34 20h0m-9 25h0m-46 5h0m5 24h0m-2 6h0m4 1h0m28 12h0m-5 1h0m-22 1h0m12 0h0m-11 8h0m-9 4h0m41 20h0m-17 2h0m31 14h0m-27 5h0m27 5h0m-52 18h0m30 14h0m-17 2h0m-17 9h0m17 22h0m18 0h0m-33 3h0m48 20h0m-36 4h0m21 4h0m-29 4h0m10 1h0m0 23h0m24 4h0m-18 49h0m-11 22h0m25 37h0m-8 13h0m14 31h0m3 34h0m56-896h0m-28 152h0m-12 99h0m6 52h0m0 12h0m-3 64h0m7 14h0m-9 19h0m5 1h0m21 12h0m10 32h0m-40 0h0m30 19h0m-17 15h0m10 18h0m27 3h0m-2 26h0m-37 2h0m-5 10h0m7 4h0m4 9h0m-10 4h0m26 0h0m-29 13h0m34 8h0m-34 7h0m28 3h0m-11 8h0m16 42h0m1 12h0m-30 6h0m42 44h0m-23 18h0m-22 1h0m12 35h0m31 6h0m-40 20h0m48 2h0m-45 4h0m11 22h0m16 22h0m-1 14h0m9 30h0m31-559h0m15 19h0m-24 31h0m10 25h0m5 11h0m-4 6h0m19 34h0m4 36h0m-6 15h0m-21 3h0m-2 8h0m2 17h0m11 6h0m13 36h0m-26 29h0m24 24h0m-27 9h0m15 19h0m15 16h0m-39 26h0m37 1h0m-18 4h0m31 9h0m-25 8h0m-23 6h0m2 19h0m48 2h0m4 43h0m-28 1h0m-15 32h0m29 3h0m0 3h0m18-536h0m43 37h0m6 5h0m-31 29h0m24 14h0m-35 76h0m35 2h0m9 69h0m0 36h0m-4 1h0m-43 69h0m48 2h0m-41 9h0m-8 14h0m-4 31h0m45 35h0m-25 4h0m3 132h0m-19 19h0m23 4h0m41-1054h0m-1 444h0m31 32h0m-11 95h0m-25 57h0m13 50h0m24 25h0m-39 38h0m50 7h0m-32 69h0m-6 36h0m18 1h0m-27 8h0m-3 46h0m27 4h0m-17 10h0m12 1h0m-2 96h0m-21 12h0m115-636h0m-5 113h0m-28 74h0m-2 4h0m6 39h0m18 23h0m-25 33h0m33 55h0m-21 25h0m23 46h0m-16 60h0m-31 185h0m50 61h0m26-739h0m-11 102h0m39 231h0m-51 25h0m17 75h0m-7 128h0m12 38h0m33 7h0m20-362h0m1 10h0m-6 14h0m-5 66h0m4 3h0m10 56h0m12 75h0m16 23h0m-43 88h0m60-504h0m2 119h0m14 219h0m23 10h0m14 78h0m47-455h0m-14 180h0m0 2h0m10 123h0m4 36h0m-42 71h0m35 29h0m1 12h0m51-197h0"/>
</g>
<g transform="scale(.1)"><path class="x" d="M2913 3837l42 42m0-42l-42 42M2985 3687l42 42m0-42l-42 42M2992 3696l42 42m0-42l-42 42M3031 4119l42 42m0-42l-42 42M3064 3714l42 42m0-42l-42 42M3075 4130l42 42m0-42l-42 42M3128 3961l42 42m0-42l-42 42M3146 3922l42 42m0-42l-42 42M3147 3917l42 42m0-42l-42 42M3184 3143l42 42m0-42l-42 42M3199 3866l42 42m0-42l-42 42M3200 3964l42 42m0-42l-42 42M3209 3406l42 42m0-42l-42 42M3218 3877l42 42m0-42l-42 42M3270 3630l42 42m0-42l-42 42M3292 3915l42 42m0-42l-42 42M3304 3734l42 42m0-42l-42 42M3318 3914l42 42m0-42l-42 42M3332 3856l42 42m0-42l-42 42M3339 3618l42 42m0-42l-42 42M3343 4001l42 42m0-42l-42 42M3358 4011l42 42m0-42l-42 42M3359 3671l42 42m0-42l-42 42M3388 3999l42 42m0-42l-42 42M3406 3772l42 42m0-42l-42 42M3406 3968l42 42m0-42l-42 42M3438 3725l42 42m0-42l-42 42M3445 4089l42 42m0-42l-42 42M3453 3112l42 42m0-42l-42 42M3475 3938l42 42m0-42l-42 42M3481 3951l42 42m0-42l-42 42M3490 4069l42 42m0-42l-42 42M3504 3704l42 42m0-42l-42 42M3512 3838l42 42m0-42l-42 42M3529 3797l42 42m0-42l-42 42M3533 3967l42 42m0-42l-42 42M3534 3846l42 42m0-42l-42 42M3576 3955l42 42m0-42l-42 42M3577 3693l42 42m0-42l-42 42M3586 3979l42 42m0-42l-42 42M3592 3770l42 42m0-42l-42 42M3595 4047l42 42m0-42l-42 42M3603 3826l42 42m0-42l-42 42M3604 3983l42 42m0-42l-42 42M3616 3947l42 42m0-42l-42 42M3617 4144l42 42m0-42l-42 42M3619 3800l42 42m0-42l-42 42M3620 3797l42 42m0-42l-42 42M3626 3304l42 42m0-42l-42 42M3635 3912l42 42m0-42l-42 42M3635 3850l42 42m0-42l-42 42M3642 3848l42 42m0-42l-42 42M3642 3727l42 42m0-42l-42 42M3649 4071l42 42m0-42l-42 42M3651 4091l42 42m0-42l-42 42M3656 4151l42 42m0-42l-42 42M3656 3681l42 42m0-42l-42 42M3662 3896l42 42m0-42l-42 42M3663 4082l42 42m0-42l-42 42M3676 3887l42 42m0-42l-42 42M3682 3930l42 42m0-42l-42 42M3685 3707l42 42m0-42l-42 42M3691 4206l42 42m0-42l-42 42M3706 3824l42 42m0-42l-42 42M3713 3937l42 42m0-42l-42 42M3722 3800l42 42m0-42l-42 42M3731 4028l42 42m0-42l-42 42M3731 3939l42 42m0-42l-42 42M3742 4124l42 42m0-42l-42 42M3751 3967l42 42m0-42l-42 42M3754 3979l42 42m0-42l-42 42M3756 3813l42 42m0-42l-42 42M3759 3626l42 42m0-42l-42 42M3763 3730l42 42m0-42l-42 42M3763 3630l42 42m0-42l-42 42M3766 3725l42 42m0-42l-42 42M3771 3880l42 42m0-42l-42 42M3771 3974l42 42m0-42l-42 42M3780 3831l42 42m0-42l-42 42M3782 4094l42 42m0-42l-42 42M3786 3879l42 42m0-42l-42 42M3788 3980l42 42m0-42l-42 42M3792 3634l42 42m0-42l-42 42M3796 4015l42 42m0-42l-42 42M3808 3676l42 42m0-42l-42 42M3816 3416l42 42m0-42l-42 42M3816 3932l42 42m0-42l-42 42M3818 4086l42 42m0-42l-42 42M3818 3871l42 42m0-42l-42 42M3825 3692l42 42m0-42l-42 42M3828 3878l42 42m0-42l-42 42M3829 3997l42 42m0-42l-42 42M3832 3890l42 42m0-42l-42 42M3833 3681l42 42m0-42l-42 42M3838 3948l42 42m0-42l-42 42M3846 3852l42 42m0-42l-42 42M3847 3836l42 42m0-42l-42 42M3848 3742l42 42m0-42l-42 42M3850 4067l42 42m0-42l-42 42M3852 4029l42 42m0-42l-42 42M3852 3969l42 42m0-42l-42 42M3853 4016l42 42m0-42l-42 42M3853 3790l42 42m0-42l-42 42M3854 4161l42 42m0-42l-42 42M3857 4080l42 42m0-42l-42 42M3859 3982l42 42m0-42l-42 42M3863 3780l42 42m0-42l-42 42M3863 3808l42 42m0-42l-42 42M3867 3961l42 42m0-42l-42 42M3870 4053l42 42m0-42l-42 42M3874 3583l42 42m0-42l-42 42M3875 4119l42 42m0-42l-42 42M3877 4093l42 42m0-42l-42 42M3880 3699l42 42m0-42l-42 42M3881 4019l42 42m0-42l-42 42M3883 4158l42 42m0-42l-42 42M3884 3891l42 42m0-42l-42 42M3885 4108l42 42m0-42l-42 42M3889 3749l42 42m0-42l-42 42M3893 3794l42 42m0-42l-42 42M3894 3795l42 42m0-42l-42 42M3896 3687l42 42m0-42l-42 42M3896 3950l42 42m0-42l-42 42M3898 3912l42 42m0-42l-42 42M3901 3759l42 42m0-42l-42 42M3906 3784l42 42m0-42l-42 42M3908 3988l42 42m0-42l-42 42M3910 4151l42 42m0-42l-42 42M3911 3877l42 42m0-42l-42 42M3915 3605l42 42m0-42l-42 42M3919 3955l42 42m0-42l-42 42M3921 3651l42 42m0-42l-42 42M3921 3863l42 42m0-42l-42 42M3926 3939l42 42m0-42l-42 42M3944 3833l42 42m0-42l-42 42M3945 4004l42 42m0-42l-42 42M3946 3561l42 42m0-42l-42 42M3947 4114l42 42m0-42l-42 42M3948 3586l42 42m0-42l-42 42M3951 3818l42 42m0-42l-42 42M3952 3853l42 42m0-42l-42 42M3954 3920l42 42m0-42l-42 42M3956 4120l42 42m0-42l-42 42M3958 3775l42 42m0-42l-42 42M3960 3708l42 42m0-42l-42 42M3962 3626l42 42m0-42l-42 42M3963 3807l42 42m0-42l-42 42M3963 3628l42 42m0-42l-42 42M3972 3631l42 42m0-42l-42 42M3976 3994l42 42m0-42l-42 42M3976 3961l42 42m0-42l-42 42M3980 3700l42 42m0-42l-42 42M3980 3864l42 42m0-42l-42 42M3983 3921l42 42m0-42l-42 42M3983 3628l42 42m0-42l-42 42M3984 3546l42 42m0-42l-42 42M3984 3823l42 42m0-42l-42 42M3993 4172l42 42m0-42l-42 42M3993 3897l42 42m0-42l-42 42M3994 3749l42 42m0-42l-42 42M3994 3977l42 42m0-42l-42 42M3996 3978l42 42m0-42l-42 42M3997 3968l42 42m0-42l-42 42M3998 4018l42 42m0-42l-42 42M3999 4020l42 42m0-42l-42 42M3999 3919l42 42m0-42l-42 42M4000 3970l42 42m0-42l-42 42M4002 4430l42 42m0-42l-42 42M4006 3891l42 42m0-42l-42 42M4009 3768l42 42m0-42l-42 42M4011 3696l42 42m0-42l-42 42M4012 3748l42 42m0-42l-42 42M4013 3901l42 42m0-42l-42 42M4013 3971l42 42m0-42l-42 42M4015 3941l42 42m0-42l-42 42M4015 3867l42 42m0-42l-42 42M4017 3802l42 42m0-42l-42 42M4018 3859l42 42m0-42l-42 42M4020 3878l42 42m0-42l-42 42M4023 3923l42 42m0-42l-42 42M4025 4039l42 42m0-42l-42 42M4027 3903l42 42m0-42l-42 42M4028 4134l42 42m0-42l-42 42M4029 3918l42 42m0-42l-42 42M4030 3581l42 42m0-42l-42 42M4031 3528l42 42m0-42l-42 42M4034 3529l42 42m0-42l-42 42M4034 4167l42 42m0-42l-42 42M4034 3735l42 42m0-42l-42 42M4034 3793l42 42m0-42l-42 42M4036 3925l42 42m0-42l-42 42M4036 3606l42 42m0-42l-42 42M4036 3643l42 42m0-42l-42 42M4036 4186l42 42m0-42l-42 42M4037 3979l42 42m0-42l-42 42M4038 3617l42 42m0-42l-42 42M4038 3821l42 42m0-42l-42 42M4039 3860l42 42m0-42l-42 42M4039 3625l42 42m0-42l-42 42M4040 4072l42 42m0-42l-42 42M4043 3690l42 42m0-42l-42 42M4045 3997l42 42m0-42l-42 42M4045 3824l42 42m0-42l-42 42M4046 3761l42 42m0-42l-42 42M4046 3713l42 42m0-42l-42 42M4049 3764l42 42m0-42l-42 42M4051 3989l42 42m0-42l-42 42M4052 4034l42 42m0-42l-42 42M4052 3997l42 42m0-42l-42 42M4053 3791l42 42m0-42l-42 42M4057 3881l42 42m0-42l-42 42M4057 4174l42 42m0-42l-42 42M4060 3987l42 42m0-42l-42 42M4061 3894l42 42m0-42l-42 42M4061 4012l42 42m0-42l-42 42M4062 3823l42 42m0-42l-42 42M4062 3640l42 42m0-42l-42 42M4063 3576l42 42m0-42l-42 42M4064 3876l42 42m0-42l-42 42M4067 3788l42 42m0-42l-42 42M4068 3674l42 42m0-42l-42 42M4068 3584l42 42m0-42l-42 42M4068 3915l42 42m0-42l-42 42M4068 3939l42 42m0-42l-42 42M4070 3615l42 42m0-42l-42 42M4071 3882l42 42m0-42l-42 42M4074 3812l42 42m0-42l-42 42M4074 3881l42 42m0-42l-42 42M4075 3696l42 42m0-42l-42 42M4076 3836l42 42m0-42l-42 42M4077 3994l42 42m0-42l-42 42M4077 3796l42 42m0-42l-42 42M4080 4249l42 42m0-42l-42 42M4081 3973l42 42m0-42l-42 42M4083 3997l42 42m0-42l-42 42M4084 4005l42 42m0-42l-42 42M4085 3707l42 42m0-42l-42 42M4085 4199l42 42m0-42l-42 42M4086 3580l42 42m0-42l-42 42M4088 3842l42 42m0-42l-42 42M4088 3918l42 42m0-42l-42 42M4089 4173l42 42m0-42l-42 42M4091 4067l42 42m0-42l-42 42M4097 3515l42 42m0-42l-42 42M4098 3947l42 42m0-42l-42 42M4098 4114l42 42m0-42l-42 42M4098 3636l42 42m0-42l-42 42M4100 3824l42 42m0-42l-42 42M4100 3808l42 42m0-42l-42 42M4101 3807l42 42m0-42l-42 42M4101 4019l42 42m0-42l-42 42M4104 3868l42 42m0-42l-42 42M4104 3891l42 42m0-42l-42 42M4104 4014l42 42m0-42l-42 42M4104 3527l42 42m0-42l-42 42M4105 3944l42 42m0-42l-42 42M4105 3888l42 42m0-42l-42 42M4106 3778l42 42m0-42l-42 42M4106 3883l42 42m0-42l-42 42M4107 3723l42 42m0-42l-42 42M4107 4104l42 42m0-42l-42 42M4108 3817l42 42m0-42l-42 42M4108 3698l42 42m0-42l-42 42M4108 3715l42 42m0-42l-42 42M4111 3987l42 42m0-42l-42 42M4112 3745l42 42m0-42l-42 42M4113 3825l42 42m0-42l-42 42M4114 3830l42 42m0-42l-42 42M4116 3656l42 42m0-42l-42 42M4118 3832l42 42m0-42l-42 42M4120 3970l42 42m0-42l-42 42M4120 3900l42 42m0-42l-42 42M4121 4165l42 42m0-42l-42 42M4121 3788l42 42m0-42l-42 42M4122 3867l42 42m0-42l-42 42M4126 4088l42 42m0-42l-42 42M4127 3783l42 42m0-42l-42 42M4127 3766l42 42m0-42l-42 42M4128 3768l42 42m0-42l-42 42M4128 3615l42 42m0-42l-42 42M4129 3746l42 42m0-42l-42 42M4130 3877l42 42m0-42l-42 42M4133 3614l42 42m0-42l-42 42M4133 3925l42 42m0-42l-42 42M4135 3957l42 42m0-42l-42 42M4135 3743l42 42m0-42l-42 42M4137 3935l42 42m0-42l-42 42M4137 4104l42 42m0-42l-42 42M4142 3963l42 42m0-42l-42 42M4143 3540l42 42m0-42l-42 42M4143 3839l42 42m0-42l-42 42M4143 3870l42 42m0-42l-42 42M4144 3822l42 42m0-42l-42 42M4146 3830l42 42m0-42l-42 42M4146 3966l42 42m0-42l-42 42M4147 3715l42 42m0-42l-42 42M4148 3995l42 42m0-42l-42 42M4148 3915l42 42m0-42l-42 42M4149 3863l42 42m0-42l-42 42M4149 3839l42 42m0-42l-42 42M4150 4189l42 42m0-42l-42 42M4150 3904l42 42m0-42l-42 42M4153 3782l42 42m0-42l-42 42M4154 3916l42 42m0-42l-42 42M4155 3827l42 42m0-42l-42 42M4155 3739l42 42m0-42l-42 42M4156 3784l42 42m0-42l-42 42M4157 3683l42 42m0-42l-42 42M4158 3460l42 42m0-42l-42 42M4162 3855l42 42m0-42l-42 42M4164 4073l42 42m0-42l-42 42M4165 3607l42 42m0-42l-42 42M4167 3826l42 42m0-42l-42 42M4169 3612l42 42m0-42l-42 42M4170 3854l42 42m0-42l-42 42M4171 3797l42 42m0-42l-42 42M4172 3864l42 42m0-42l-42 42M4172 3839l42 42m0-42l-42 42M4173 3804l42 42m0-42l-42 42M4173 3964l42 42m0-42l-42 42M4173 3797l42 42m0-42l-42 42M4174 3729l42 42m0-42l-42 42M4176 3943l42 42m0-42l-42 42M4176 3662l42 42m0-42l-42 42M4178 3748l42 42m0-42l-42 42M4179 3773l42 42m0-42l-42 42M4181 3985l42 42m0-42l-42 42M4184 3732l42 42m0-42l-42 42M4184 3742l42 42m0-42l-42 42M4184 3904l42 42m0-42l-42 42M4184 3914l42 42m0-42l-42 42M4184 4071l42 42m0-42l-42 42M4185 3930l42 42m0-42l-42 42M4186 4056l42 42m0-42l-42 42M4186 3868l42 42m0-42l-42 42M4188 3653l42 42m0-42l-42 42M4189 3752l42 42m0-42l-42 42M4189 3915l42 42m0-42l-42 42M4192 3748l42 42m0-42l-42 42M4193 3695l42 42m0-42l-42 42M4195 3887l42 42m0-42l-42 42M4195 4074l42 42m0-42l-42 42M4195 4018l42 42m0-42l-42 42M4196 3940l42 42m0-42l-42 42M4196 3885l42 42m0-42l-42 42M4197 3832l42 42m0-42l-42 42M4198 4121l42 42m0-42l-42 42M4199 3926l42 42m0-42l-42 42M4201 3847l42 42m0-42l-42 42M4201 3938l42 42m0-42l-42 42M4201 3725l42 42m0-42l-42 42M4202 4092l42 42m0-42l-42 42M4206 4018l42 42m0-42l-42 42M4207 3764l42 42m0-42l-42 42M4207 3823l42 42m0-42l-42 42M4207 3842l42 42m0-42l-42 42M4208 3996l42 42m0-42l-42 42M4210 3776l42 42m0-42l-42 42M4211 3890l42 42m0-42l-42 42M4211 4385l42 42m0-42l-42 42M4213 4169l42 42m0-42l-42 42M4216 3746l42 42m0-42l-42 42M4216 3643l42 42m0-42l-42 42M4217 3820l42 42m0-42l-42 42M4217 3955l42 42m0-42l-42 42M4218 4123l42 42m0-42l-42 42M4218 4047l42 42m0-42l-42 42M4220 3686l42 42m0-42l-42 42M4220 4062l42 42m0-42l-42 42M4220 3753l42 42m0-42l-42 42M4220 3753l42 42m0-42l-42 42M4221 3810l42 42m0-42l-42 42M4221 4169l42 42m0-42l-42 42M4222 3904l42 42m0-42l-42 42M4222 3956l42 42m0-42l-42 42M4222 4071l42 42m0-42l-42 42M4223 3961l42 42m0-42l-42 42M4225 3670l42 42m0-42l-42 42M4225 3912l42 42m0-42l-42 42M4228 3886l42 42m0-42l-42 42M4229 3875l42 42m0-42l-42 42M4229 4308l42 42m0-42l-42 42M4229 3641l42 42m0-42l-42 42M4230 3867l42 42m0-42l-42 42M4231 3878l42 42m0-42l-42 42M4231 3823l42 42m0-42l-42 42M4232 3822l42 42m0-42l-42 42M4234 3796l42 42m0-42l-42 42M4236 3820l42 42m0-42l-42 42M4236 3875l42 42m0-42l-42 42M4237 3946l42 42m0-42l-42 42M4240 4146l42 42m0-42l-42 42M4240 4089l42 42m0-42l-42 42M4242 3916l42 42m0-42l-42 42M4242 3493l42 42m0-42l-42 42M4243 3690l42 42m0-42l-42 42M4243 3727l42 42m0-42l-42 42M4244 3812l42 42m0-42l-42 42M4245 3876l42 42m0-42l-42 42M4246 4183l42 42m0-42l-42 42M4246 3871l42 42m0-42l-42 42M4246 3842l42 42m0-42l-42 42M4247 4096l42 42m0-42l-42 42M4249 3790l42 42m0-42l-42 42M4250 4057l42 42m0-42l-42 42M4251 4018l42 42m0-42l-42 42M4251 3651l42 42m0-42l-42 42M4252 3731l42 42m0-42l-42 42M4254 3661l42 42m0-42l-42 42M4255 3956l42 42m0-42l-42 42M4255 4080l42 42m0-42l-42 42M4255 4005l42 42m0-42l-42 42M4256 3673l42 42m0-42l-42 42M4259 3727l42 42m0-42l-42 42M4260 3873l42 42m0-42l-42 42M4260 3749l42 42m0-42l-42 42M4260 3866l42 42m0-42l-42 42M4264 4018l42 42m0-42l-42 42M4265 3844l42 42m0-42l-42 42M4267 3890l42 42m0-42l-42 42M4270 3772l42 42m0-42l-42 42M4271 3742l42 42m0-42l-42 42M4272 4052l42 42m0-42l-42 42M4272 3817l42 42m0-42l-42 42M4273 3804l42 42m0-42l-42 42M4273 3961l42 42m0-42l-42 42M4274 3875l42 42m0-42l-42 42M4275 3501l42 42m0-42l-42 42M4275 3670l42 42m0-42l-42 42M4276 3787l42 42m0-42l-42 42M4277 3925l42 42m0-42l-42 42M4278 3704l42 42m0-42l-42 42M4278 4187l42 42m0-42l-42 42M4278 3875l42 42m0-42l-42 42M4280 3948l42 42m0-42l-42 42M4281 4048l42 42m0-42l-42 42M4282 4089l42 42m0-42l-42 42M4283 3480l42 42m0-42l-42 42M4283 3967l42 42m0-42l-42 42M4284 4019l42 42m0-42l-42 42M4285 3661l42 42m0-42l-42 42M4285 3740l42 42m0-42l-42 42M4286 3761l42 42m0-42l-42 42M4287 3738l42 42m0-42l-42 42M4288 3927l42 42m0-42l-42 42M4288 3964l42 42m0-42l-42 42M4288 3901l42 42m0-42l-42 42M4288 3862l42 42m0-42l-42 42M4293 3632l42 42m0-42l-42 42M4294 3775l42 42m0-42l-42 42M4295 3603l42 42m0-42l-42 42M4296 3647l42 42m0-42l-42 42M4297 3626l42 42m0-42l-42 42M4297 3813l42 42m0-42l-42 42M4297 3973l42 42m0-42l-42 42M4297 3893l42 42m0-42l-42 42M4300 3794l42 42m0-42l-42 42M4300 3873l42 42m0-42l-42 42M4301 3699l42 42m0-42l-42 42M4304 4095l42 42m0-42l-42 42M4305 4114l42 42m0-42l-42 42M4306 3952l42 42m0-42l-42 42M4306 3690l42 42m0-42l-42 42M4307 3705l42 42m0-42l-42 42M4307 3977l42 42m0-42l-42 42M4308 4047l42 42m0-42l-42 42M4310 3790l42 42m0-42l-42 42M4310 3709l42 42m0-42l-42 42M4310 3923l42 42m0-42l-42 42M4310 3988l42 42m0-42l-42 42M4311 4003l42 42m0-42l-42 42M4312 3954l42 42m0-42l-42 42M4313 4052l42 42m0-42l-42 42M4314 3797l42 42m0-42l-42 42M4314 3541l42 42m0-42l-42 42M4316 3761l42 42m0-42l-42 42M4317 3787l42 42m0-42l-42 42M4317 4022l42 42m0-42l-42 42M4321 3760l42 42m0-42l-42 42M4325 3861l42 42m0-42l-42 42M4325 3814l42 42m0-42l-42 42M4326 3899l42 42m0-42l-42 42M4327 4143l42 42m0-42l-42 42M4330 3724l42 42m0-42l-42 42M4330 3649l42 42m0-42l-42 42M4331 3615l42 42m0-42l-42 42M4334 4001l42 42m0-42l-42 42M4335 4076l42 42m0-42l-42 42M4337 3817l42 42m0-42l-42 42M4338 3816l42 42m0-42l-42 42M4338 3637l42 42m0-42l-42 42M4339 3506l42 42m0-42l-42 42M4340 3778l42 42m0-42l-42 42M4340 3895l42 42m0-42l-42 42M4340 3878l42 42m0-42l-42 42M4341 3847l42 42m0-42l-42 42M4341 3959l42 42m0-42l-42 42M4342 3777l42 42m0-42l-42 42M4345 3820l42 42m0-42l-42 42M4346 3774l42 42m0-42l-42 42M4346 3702l42 42m0-42l-42 42M4347 3831l42 42m0-42l-42 42M4348 4007l42 42m0-42l-42 42M4349 3903l42 42m0-42l-42 42M4349 4117l42 42m0-42l-42 42M4350 3898l42 42m0-42l-42 42M4350 3678l42 42m0-42l-42 42M4353 3925l42 42m0-42l-42 42M4353 3461l42 42m0-42l-42 42M4356 4091l42 42m0-42l-42 42M4357 3614l42 42m0-42l-42 42M4358 3916l42 42m0-42l-42 42M4358 3832l42 42m0-42l-42 42M4361 4199l42 42m0-42l-42 42M4361 3788l42 42m0-42l-42 42M4361 4028l42 42m0-42l-42 42M4363 3780l42 42m0-42l-42 42M4363 3796l42 42m0-42l-42 42M4364 3826l42 42m0-42l-42 42M4365 3768l42 42m0-42l-42 42M4365 3934l42 42m0-42l-42 42M4366 4165l42 42m0-42l-42 42M4369 3879l42 42m0-42l-42 42M4369 3886l42 42m0-42l-42 42M4370 3597l42 42m0-42l-42 42M4372 4011l42 42m0-42l-42 42M4373 3404l42 42m0-42l-42 42M4375 3746l42 42m0-42l-42 42M4375 3733l42 42m0-42l-42 42M4375 3620l42 42m0-42l-42 42M4375 3826l42 42m0-42l-42 42M4377 3900l42 42m0-42l-42 42M4378 3883l42 42m0-42l-42 42M4378 3894l42 42m0-42l-42 42M4378 3908l42 42m0-42l-42 42M4380 3789l42 42m0-42l-42 42M4380 3838l42 42m0-42l-42 42M4380 3909l42 42m0-42l-42 42M4382 3965l42 42m0-42l-42 42M4383 3811l42 42m0-42l-42 42M4385 3716l42 42m0-42l-42 42M4388 3767l42 42m0-42l-42 42M4390 3905l42 42m0-42l-42 42M4390 4048l42 42m0-42l-42 42M4390 3612l42 42m0-42l-42 42M4392 3667l42 42m0-42l-42 42M4393 3756l42 42m0-42l-42 42M4393 3856l42 42m0-42l-42 42M4394 3977l42 42m0-42l-42 42M4395 3751l42 42m0-42l-42 42M4395 3974l42 42m0-42l-42 42M4396 3876l42 42m0-42l-42 42M4398 3680l42 42m0-42l-42 42M4398 3854l42 42m0-42l-42 42M4400 4177l42 42m0-42l-42 42M4402 3823l42 42m0-42l-42 42M4402 3791l42 42m0-42l-42 42M4404 3807l42 42m0-42l-42 42M4404 3842l42 42m0-42l-42 42M4405 3971l42 42m0-42l-42 42M4405 3915l42 42m0-42l-42 42M4406 3971l42 42m0-42l-42 42M4407 3814l42 42m0-42l-42 42M4407 3838l42 42m0-42l-42 42M4409 3921l42 42m0-42l-42 42M4411 3834l42 42m0-42l-42 42M4414 3923l42 42m0-42l-42 42M4415 3702l42 42m0-42l-42 42M4416 3565l42 42m0-42l-42 42M4416 3965l42 42m0-42l-42 42M4418 3901l42 42m0-42l-42 42M4422 3701l42 42m0-42l-42 42M4422 3980l42 42m0-42l-42 42M4423 3952l42 42m0-42l-42 42M4423 4020l42 42m0-42l-42 42M4424 3671l42 42m0-42l-42 42M4424 3745l42 42m0-42l-42 42M4426 3729l42 42m0-42l-42 42M4429 4026l42 42m0-42l-42 42M4429 3619l42 42m0-42l-42 42M4431 3780l42 42m0-42l-42 42M4433 4052l42 42m0-42l-42 42M4434 3661l42 42m0-42l-42 42M4437 3705l42 42m0-42l-42 42M4438 3624l42 42m0-42l-42 42M4439 4119l42 42m0-42l-42 42M4439 3648l42 42m0-42l-42 42M4439 3692l42 42m0-42l-42 42M4441 3891l42 42m0-42l-42 42M4441 3962l42 42m0-42l-42 42M4443 3987l42 42m0-42l-42 42M4443 3977l42 42m0-42l-42 42M4443 4143l42 42m0-42l-42 42M4444 3676l42 42m0-42l-42 42M4445 3706l42 42m0-42l-42 42M4445 3803l42 42m0-42l-42 42M4446 4003l42 42m0-42l-42 42M4448 3670l42 42m0-42l-42 42M4449 3903l42 42m0-42l-42 42M4451 3714l42 42m0-42l-42 42M4451 4003l42 42m0-42l-42 42M4453 3972l42 42m0-42l-42 42M4457 4024l42 42m0-42l-42 42M4458 3913l42 42m0-42l-42 42M4460 3815l42 42m0-42l-42 42M4460 3689l42 42m0-42l-42 42M4461 3773l42 42m0-42l-42 42M4462 3943l42 42m0-42l-42 42M4462 4108l42 42m0-42l-42 42M4463 3927l42 42m0-42l-42 42M4463 3719l42 42m0-42l-42 42M4463 3627l42 42m0-42l-42 42M4466 3854l42 42m0-42l-42 42M4466 3698l42 42m0-42l-42 42M4467 3661l42 42m0-42l-42 42M4470 3905l42 42m0-42l-42 42M4471 3753l42 42m0-42l-42 42M4472 3796l42 42m0-42l-42 42M4475 3559l42 42m0-42l-42 42M4475 3803l42 42m0-42l-42 42M4476 3893l42 42m0-42l-42 42M4476 3711l42 42m0-42l-42 42M4476 3753l42 42m0-42l-42 42M4476 3546l42 42m0-42l-42 42M4478 3988l42 42m0-42l-42 42M4478 4113l42 42m0-42l-42 42M4478 3800l42 42m0-42l-42 42M4479 4008l42 42m0-42l-42 42M4479 3639l42 42m0-42l-42 42M4479 4042l42 42m0-42l-42 42M4480 3762l42 42m0-42l-42 42M4480 4109l42 42m0-42l-42 42M4481 3840l42 42m0-42l-42 42M4481 3907l42 42m0-42l-42 42M4483 4051l42 42m0-42l-42 42M4483 3589l42 42m0-42l-42 42M4488 3895l42 42m0-42l-42 42M4488 3992l42 42m0-42l-42 42M4489 3566l42 42m0-42l-42 42M4490 3823l42 42m0-42l-42 42M4490 3634l42 42m0-42l-42 42M4491 3889l42 42m0-42l-42 42M4492 3924l42 42m0-42l-42 42M4492 3822l42 42m0-42l-42 42M4492 3810l42 42m0-42l-42 42M4495 3753l42 42m0-42l-42 42M4496 3981l42 42m0-42l-42 42M4497 3533l42 42m0-42l-42 42M4498 4168l42 42m0-42l-42 42M4499 3696l42 42m0-42l-42 42M4501 3867l42 42m0-42l-42 42M4503 3799l42 42m0-42l-42 42M4508 3874l42 42m0-42l-42 42M4508 3750l42 42m0-42l-42 42M4509 3814l42 42m0-42l-42 42M4509 3812l42 42m0-42l-42 42M4510 3876l42 42m0-42l-42 42M4512 3799l42 42m0-42l-42 42M4513 3645l42 42m0-42l-42 42M4513 3839l42 42m0-42l-42 42M4515 4123l42 42m0-42l-42 42M4515 3817l42 42m0-42l-42 42M4516 3852l42 42m0-42l-42 42M4519 3898l42 42m0-42l-42 42M4519 3805l42 42m0-42l-42 42M4520 3620l42 42m0-42l-42 42M4520 3751l42 42m0-42l-42 42M4520 3731l42 42m0-42l-42 42M4521 3792l42 42m0-42l-42 42M4523 3381l42 42m0-42l-42 42M4523 3876l42 42m0-42l-42 42M4527 3779l42 42m0-42l-42 42M4527 3832l42 42m0-42l-42 42M4528 3584l42 42m0-42l-42 42M4529 3818l42 42m0-42l-42 42M4530 3787l42 42m0-42l-42 42M4530 3886l42 42m0-42l-42 42M4530 3890l42 42m0-42l-42 42M4532 3518l42 42m0-42l-42 42M4532 4014l42 42m0-42l-42 42M4532 3915l42 42m0-42l-42 42M4533 3903l42 42m0-42l-42 42M4534 3953l42 42m0-42l-42 42M4535 3791l42 42m0-42l-42 42M4535 3870l42 42m0-42l-42 42M4535 3759l42 42m0-42l-42 42M4536 3951l42 42m0-42l-42 42M4536 3764l42 42m0-42l-42 42M4540 3846l42 42m0-42l-42 42M4541 3665l42 42m0-42l-42 42M4541 3732l42 42m0-42l-42 42M4541 3715l42 42m0-42l-42 42M4544 3716l42 42m0-42l-42 42M4546 3855l42 42m0-42l-42 42M4548 3752l42 42m0-42l-42 42M4548 3810l42 42m0-42l-42 42M4549 3891l42 42m0-42l-42 42M4551 3769l42 42m0-42l-42 42M4552 3875l42 42m0-42l-42 42M4553 3418l42 42m0-42l-42 42M4556 3465l42 42m0-42l-42 42M4556 3799l42 42m0-42l-42 42M4557 3732l42 42m0-42l-42 42M4559 3787l42 42m0-42l-42 42M4560 3761l42 42m0-42l-42 42M4562 4033l42 42m0-42l-42 42M4563 3877l42 42m0-42l-42 42M4565 3881l42 42m0-42l-42 42M4567 3832l42 42m0-42l-42 42M4568 4018l42 42m0-42l-42 42M4569 4011l42 42m0-42l-42 42M4569 4098l42 42m0-42l-42 42M4571 3839l42 42m0-42l-42 42M4573 3796l42 42m0-42l-42 42M4575 3740l42 42m0-42l-42 42M4576 3731l42 42m0-42l-42 42M4578 3794l42 42m0-42l-42 42M4578 3996l42 42m0-42l-42 42M4580 3756l42 42m0-42l-42 42M4582 4014l42 42m0-42l-42 42M4585 3850l42 42m0-42l-42 42M4587 3752l42 42m0-42l-42 42M4587 3935l42 42m0-42l-42 42M4588 3841l42 42m0-42l-42 42M4588 3847l42 42m0-42l-42 42M4588 3860l42 42m0-42l-42 42M4592 3762l42 42m0-42l-42 42M4592 3730l42 42m0-42l-42 42M4594 3197l42 42m0-42l-42 42M4596 3891l42 42m0-42l-42 42M4597 3849l42 42m0-42l-42 42M4597 3607l42 42m0-42l-42 42M4598 3999l42 42m0-42l-42 42M4598 3803l42 42m0-42l-42 42M4601 3813l42 42m0-42l-42 42M4601 3647l42 42m0-42l-42 42M4603 3865l42 42m0-42l-42 42M4604 3830l42 42m0-42l-42 42M4605 3883l42 42m0-42l-42 42M4606 3663l42 42m0-42l-42 42M4607 3787l42 42m0-42l-42 42M4608 3568l42 42m0-42l-42 42M4609 3885l42 42m0-42l-42 42M4612 3747l42 42m0-42l-42 42M4612 3658l42 42m0-42l-42 42M4613 3529l42 42m0-42l-42 42M4614 3965l42 42m0-42l-42 42M4615 3582l42 42m0-42l-42 42M4616 3533l42 42m0-42l-42 42M4616 4090l42 42m0-42l-42 42M4617 3997l42 42m0-42l-42 42M4619 3906l42 42m0-42l-42 42M4621 3831l42 42m0-42l-42 42M4622 3578l42 42m0-42l-42 42M4624 4090l42 42m0-42l-42 42M4625 3398l42 42m0-42l-42 42M4626 3790l42 42m0-42l-42 42M4626 3914l42 42m0-42l-42 42M4627 3853l42 42m0-42l-42 42M4633 3875l42 42m0-42l-42 42M4633 3607l42 42m0-42l-42 42M4633 3682l42 42m0-42l-42 42M4635 3847l42 42m0-42l-42 42M4635 3989l42 42m0-42l-42 42M4636 3912l42 42m0-42l-42 42M4637 3554l42 42m0-42l-42 42M4640 3667l42 42m0-42l-42 42M4644 3827l42 42m0-42l-42 42M4644 3884l42 42m0-42l-42 42M4647 3754l42 42m0-42l-42 42M4648 3564l42 42m0-42l-42 42M4648 3974l42 42m0-42l-42 42M4649 3838l42 42m0-42l-42 42M4650 3774l42 42m0-42l-42 42M4652 3807l42 42m0-42l-42 42M4652 4017l42 42m0-42l-42 42M4655 3896l42 42m0-42l-42 42M4655 3788l42 42m0-42l-42 42M4658 3655l42 42m0-42l-42 42M4659 4056l42 42m0-42l-42 42M4659 3635l42 42m0-42l-42 42M4661 3779l42 42m0-42l-42 42M4664 3971l42 42m0-42l-42 42M4667 3783l42 42m0-42l-42 42M4669 3745l42 42m0-42l-42 42M4670 3888l42 42m0-42l-42 42M4670 3529l42 42m0-42l-42 42M4675 3934l42 42m0-42l-42 42M4677 3849l42 42m0-42l-42 42M4687 3542l42 42m0-42l-42 42M4689 3712l42 42m0-42l-42 42M4689 3806l42 42m0-42l-42 42M4694 3628l42 42m0-42l-42 42M4696 3677l42 42m0-42l-42 42M4700 3776l42 42m0-42l-42 42M4700 3691l42 42m0-42l-42 42M4703 3711l42 42m0-42l-42 42M4703 3685l42 42m0-42l-42 42M4704 3830l42 42m0-42l-42 42M4704 3564l42 42m0-42l-42 42M4705 3434l42 42m0-42l-42 42M4705 3680l42 42m0-42l-42 42M4708 3885l42 42m0-42l-42 42M4708 3804l42 42m0-42l-42 42M4709 3768l42 42m0-42l-42 42M4709 3561l42 42m0-42l-42 42M4710 3794l42 42m0-42l-42 42M4712 4127l42 42m0-42l-42 42M4714 3722l42 42m0-42l-42 42M4715 3668l42 42m0-42l-42 42M4716 3647l42 42m0-42l-42 42M4718 4204l42 42m0-42l-42 42M4719 3477l42 42m0-42l-42 42M4722 3704l42 42m0-42l-42 42M4722 3909l42 42m0-42l-42 42M4723 3759l42 42m0-42l-42 42M4724 3811l42 42m0-42l-42 42M4725 3884l42 42m0-42l-42 42M4725 4143l42 42m0-42l-42 42M4728 3726l42 42m0-42l-42 42M4728 3579l42 42m0-42l-42 42M4732 3756l42 42m0-42l-42 42M4737 3952l42 42m0-42l-42 42M4737 3471l42 42m0-42l-42 42M4738 3796l42 42m0-42l-42 42M4740 3822l42 42m0-42l-42 42M4743 3673l42 42m0-42l-42 42M4745 3840l42 42m0-42l-42 42M4746 3697l42 42m0-42l-42 42M4752 4006l42 42m0-42l-42 42M4753 3684l42 42m0-42l-42 42M4757 3813l42 42m0-42l-42 42M4758 3877l42 42m0-42l-42 42M4758 3828l42 42m0-42l-42 42M4767 3879l42 42m0-42l-42 42M4768 4033l42 42m0-42l-42 42M4776 3855l42 42m0-42l-42 42M4778 3835l42 42m0-42l-42 42M4778 3613l42 42m0-42l-42 42M4779 3869l42 42m0-42l-42 42M4780 3854l42 42m0-42l-42 42M4781 3734l42 42m0-42l-42 42M4785 3825l42 42m0-42l-42 42M4787 3686l42 42m0-42l-42 42M4788 3927l42 42m0-42l-42 42M4791 3687l42 42m0-42l-42 42M4802 4060l42 42m0-42l-42 42M4802 3981l42 42m0-42l-42 42M4803 3785l42 42m0-42l-42 42M4803 3798l42 42m0-42l-42 42M4804 3818l42 42m0-42l-42 42M4805 3963l42 42m0-42l-42 42M4806 3710l42 42m0-42l-42 42M4810 3599l42 42m0-42l-42 42M4815 4016l42 42m0-42l-42 42M4818 3705l42 42m0-42l-42 42M4823 3875l42 42m0-42l-42 42M4823 3945l42 42m0-42l-42 42M4834 3993l42 42m0-42l-42 42M4840 3862l42 42m0-42l-42 42M4847 3890l42 42m0-42l-42 42M4858 3925l42 42m0-42l-42 42M4866 3836l42 42m0-42l-42 42M4875 3754l42 42m0-42l-42 42M4878 3596l42 42m0-42l-42 42M4893 3858l42 42m0-42l-42 42M4894 4175l42 42m0-42l-42 42M4896 3529l42 42m0-42l-42 42M4901 3618l42 42m0-42l-42 42M4902 3484l42 42m0-42l-42 42M4903 3626l42 42m0-42l-42 42M4909 3796l42 42m0-42l-42 42M4921 3801l42 42m0-42l-42 42M4923 3921l42 42m0-42l-42 42M4926 3657l42 42m0-42l-42 42M4932 3666l42 42m0-42l-42 42M4933 3900l42 42m0-42l-42 42M4934 3866l42 42m0-42l-42 42M4948 3856l42 42m0-42l-42 42M4957 3664l42 42m0-42l-42 42M4961 3799l42 42m0-42l-42 42M4964 3815l42 42m0-42l-42 42M4969 3760l42 42m0-42l-42 42M4978 3972l42 42m0-42l-42 42M4983 3420l42 42m0-42l-42 42M4984 3682l42 42m0-42l-42 42M5005 4000l42 42m0-42l-42 42M5008 3559l42 42m0-42l-42 42M5010 4075l42 42m0-42l-42 42M5010 3722l42 42m0-42l-42 42M5016 3786l42 42m0-42l-42 42M5017 3696l42 42m0-42l-42 42M5036 4098l42 42m0-42l-42 42M5094 3917l42 42m0-42l-42 42"/></g>
<path class="l" d="M282.3 381.7H392.2L513.4 264.6"/>
</g>
<g clip-path="url(#c5)">
<g transform="scale(.1)">
<path class="d" d="M5203 4024h0m93 448h0m121-626h0m32 46h0m37 168h0m68-334h0m-25 43h0m21 262h0m106-514h0m-15 381h0m23 64h0m16 134h0m0 15h0m-17 11h0m58-531h0m16 187h0m14 23h0m-5 40h0m-17 284h0m-5 2h0m-1 64h0m75-394h0m-20 72h0m36 21h0m-35 106h0m29 91h0m4 54h0m-34 14h0m-15 25h0m30 26h0m-11 133h0m96-540h0m-38 14h0m10 9h0m2 202h0m-13 84h0m15 59h0m-3 81h0m74-1304h0m-6 677h0m-27 212h0m39 32h0m-29 38h0m21 4h0m6 29h0m-7 67h0m-1 11h0m11 40h0m-49 8h0m15 42h0m14 27h0m-6 71h0m15 7h0m-4 187h0m18 180h0m8-1029h0m37 92h0m-12 59h0m-4 69h0m25 51h0m-47 16h0m6 24h0m44 16h0m-28 27h0m-5 84h0m11 12h0m-4 37h0m-11 63h0m5 10h0m-5 4h0m5 11h0m15 45h0m-28 27h0m12 17h0m-8 39h0m23 27h0m24 71h0m-38 198h0m61-1150h0m35 203h0m3 63h0m-30 27h0m25 17h0m-54 219h0m17 56h0m1 3h0m-6 3h0m33 4h0m-3 20h0m-20 4h0m-1 41h0m-15 3h0m39 18h0m-16 2h0m-9 59h0m-2 8h0m-12 7h0m28 71h0m-17 151h0m34 2h0m-34 54h0m43-1175h0m12 106h0m20 116h0m-6 46h0m-17 108h0m35 32h0m-8 89h0m-8 48h0m-21 72h0m16 13h0m36 20h0m-55 23h0m25 27h0m30 13h0m-46 35h0m6 1h0m-9 11h0m46 77h0m-31 1h0m1 29h0m-21 3h0m50 102h0m-24 17h0m-9 38h0m-21 25h0m10 10h0m11 69h0m30 65h0m65-981h0m-51 59h0m36 63h0m-6 37h0m3 45h0m12 45h0m-37 35h0m36 12h0m-24 47h0m-24 42h0m29 2h0m-30 26h0m58 26h0m-20 16h0m-9 1h0m-27 16h0m25 0h0m-19 64h0m35 4h0m-27 1h0m16 6h0m3 69h0m7 3h0m-24 16h0m40 34h0m-58 4h0m43 22h0m-13 39h0m25 8h0m-22 7h0m-17 155h0m19 43h0m-25 36h0m19 205h0m74-1441h0m-2 114h0m-18 68h0m32 133h0m-39 83h0m-9 62h0m2 20h0m31 26h0m-19 13h0m7 22h0m4 15h0m-3 108h0m-19 1h0m39 26h0m-21 29h0m0 18h0m18 31h0m-44 1h0m44 22h0m-34 10h0m-13 12h0m24 13h0m7 53h0m13 13h0m-39 7h0m48 116h0m-26 2h0m0 3h0m-2 145h0m-24 14h0m10 97h0m64-966h0m17 3h0m-5 52h0m-26 53h0m3 29h0m39 68h0m7 2h0m0 107h0m1 61h0m-43 22h0m44 3h0m-49 41h0m2 6h0m11 18h0m17 62h0m24 31h0m-25 50h0m-23 6h0m16 157h0m74-1093h0m17 295h0m-56 111h0m51 23h0m-44 15h0m11 16h0m4 0h0m19 37h0m-10 17h0m-15 8h0m39 25h0m-17 64h0m5 26h0m-28 5h0m-10 23h0m46 46h0m-47 42h0m0 26h0m12 3h0m-15 3h0m54 3h0m2 19h0m-32 98h0m33 15h0m-13 3h0m-36 6h0m13 32h0m-11 4h0m10 18h0m-21 25h0m56 36h0m1 198h0m-25 4h0m41-874h0m43 45h0m-15 89h0m-30 6h0m13 42h0m16 38h0m-8 48h0m-30 25h0m15 64h0m11 4h0m17 55h0m-44 47h0m7 24h0m-8 9h0m23 45h0m34 18h0m-17 38h0m3 41h0m-16 13h0m4 131h0m26 21h0m-34 100h0m17 76h0m50-1176h0m4 19h0m-32 71h0m36 164h0m-6 48h0m13 12h0m-42 17h0m39 9h0m9 24h0m-44 18h0m2 26h0m36 21h0m-38 68h0m40 17h0m-39 10h0m36 53h0m-41 16h0m2 79h0m9 11h0m31 22h0m-39 4h0m36 16h0m-40 28h0m37 22h0m17 17h0m-18 19h0m-14 135h0m34 50h0m44-1096h0m4 374h0m3 37h0m-33 16h0m16 71h0m7 9h0m-2 60h0m10 39h0m-21 40h0m-12 54h0m16 14h0m26 11h0m-22 17h0m4 3h0m-34 46h0m1 31h0m30 47h0m-1 148h0m25 91h0m51-803h0m-35 9h0m16 21h0m0 22h0m-26 36h0m2 43h0m28 10h0m-10 135h0m5 22h0m-22 3h0m39 180h0m-46 1h0m28 4h0m-29 33h0m14 13h0m3 17h0m1 4h0m30 8h0m-40 1h0m-4 92h0m50 35h0m-27 34h0m-21 19h0m74-871h0m18 88h0m16 87h0m-42 30h0m19 17h0m10 11h0m10 13h0m-25 16h0m16 5h0m-12 47h0m-8 46h0m29 19h0m1 49h0m-32 1h0m18 2h0m-15 7h0m-19 22h0m44 17h0m-8 26h0m18 13h0m-28 3h0m17 5h0m-37 31h0m37 34h0m-31 109h0m-8 4h0m22 18h0m-11 37h0m-1 42h0m5 7h0m27 51h0m61-755h0m-50 4h0m23 69h0m20 40h0m12 159h0m-31 44h0m-8 89h0m-1 24h0m40 15h0m-15 23h0m-8 19h0m53-732h0m-21 338h0m16 68h0m27 158h0m-38 21h0m20 121h0m24 7h0m2 25h0m-43 15h0m49-417h0m7 81h0m30 14h0m-10 110h0m23 5h0m-40 29h0m10 40h0m-20 95h0m40 32h0m-20 7h0m4 51h0m-17 2h0m29 26h0m6 38h0m-32 9h0m17 2h0m20 45h0m-39 121h0m-7 29h0m70-768h0m-3 13h0m10 70h0m11 51h0m6 154h0m-5 42h0m12 226h0m32-350h0m-11 10h0m13 5h0m4 75h0m-13 22h0m47 123h0m-39 33h0m25 173h0m76-427h0m-38 19h0m30 76h0m-2 39h0m-24 31h0m-7 38h0m10 17h0m50-421h0m-16 165h0m57 93h0m33-221h0m-18 190h0m17 144h0m4 73h0m15 100h0m65-236h0m-5 69h0m-28 157h0m93-82h0m63-353h0m-19 499h0m45-548h0"/>
</g>
<g transform="scale(.1)"><path class="x" d="M5579 3967l42 42m0-42l-42 42M5624 4128l42 42m0-42l-42 42M5634 3824l42 42m0-42l-42 42M5715 3940l42 42m0-42l-42 42M5719 4123l42 42m0-42l-42 42M5744 4028l42 42m0-42l-42 42M5748 4198l42 42m0-42l-42 42M5756 3209l42 42m0-42l-42 42M5760 4107l42 42m0-42l-42 42M5781 4081l42 42m0-42l-42 42M5790 3987l42 42m0-42l-42 42M5810 4039l42 42m0-42l-42 42M5815 4059l42 42m0-42l-42 42M5817 3873l42 42m0-42l-42 42M5823 4036l42 42m0-42l-42 42M5827 4362l42 42m0-42l-42 42M5843 3850l42 42m0-42l-42 42M5844 4064l42 42m0-42l-42 42M5845 3853l42 42m0-42l-42 42M5855 3910l42 42m0-42l-42 42M5857 4119l42 42m0-42l-42 42M5884 4068l42 42m0-42l-42 42M5885 3618l42 42m0-42l-42 42M5889 3996l42 42m0-42l-42 42M5895 3677l42 42m0-42l-42 42M5907 3979l42 42m0-42l-42 42M5912 3811l42 42m0-42l-42 42M5931 4225l42 42m0-42l-42 42M5934 3815l42 42m0-42l-42 42M5947 3846l42 42m0-42l-42 42M5947 3954l42 42m0-42l-42 42M5952 4048l42 42m0-42l-42 42M5953 3763l42 42m0-42l-42 42M5958 3877l42 42m0-42l-42 42M5967 4145l42 42m0-42l-42 42M5972 4148l42 42m0-42l-42 42M5981 3800l42 42m0-42l-42 42M5990 4021l42 42m0-42l-42 42M5996 4071l42 42m0-42l-42 42M6006 3799l42 42m0-42l-42 42M6006 3816l42 42m0-42l-42 42M6018 3894l42 42m0-42l-42 42M6018 3895l42 42m0-42l-42 42M6020 4088l42 42m0-42l-42 42M6020 3995l42 42m0-42l-42 42M6021 4007l42 42m0-42l-42 42M6022 4008l42 42m0-42l-42 42M6027 4094l42 42m0-42l-42 42M6028 4017l42 42m0-42l-42 42M6029 4075l42 42m0-42l-42 42M6030 3939l42 42m0-42l-42 42M6033 3915l42 42m0-42l-42 42M6035 3664l42 42m0-42l-42 42M6045 3971l42 42m0-42l-42 42M6045 4211l42 42m0-42l-42 42M6061 3872l42 42m0-42l-42 42M6063 3868l42 42m0-42l-42 42M6068 4123l42 42m0-42l-42 42M6069 3996l42 42m0-42l-42 42M6072 3983l42 42m0-42l-42 42M6074 3679l42 42m0-42l-42 42M6078 4219l42 42m0-42l-42 42M6078 3459l42 42m0-42l-42 42M6080 3822l42 42m0-42l-42 42M6081 4162l42 42m0-42l-42 42M6085 3826l42 42m0-42l-42 42M6087 3958l42 42m0-42l-42 42M6089 4408l42 42m0-42l-42 42M6095 3926l42 42m0-42l-42 42M6099 4294l42 42m0-42l-42 42M6109 3968l42 42m0-42l-42 42M6113 4156l42 42m0-42l-42 42M6113 3866l42 42m0-42l-42 42M6115 3776l42 42m0-42l-42 42M6117 3968l42 42m0-42l-42 42M6122 3706l42 42m0-42l-42 42M6126 4002l42 42m0-42l-42 42M6126 4043l42 42m0-42l-42 42M6132 4090l42 42m0-42l-42 42M6135 3894l42 42m0-42l-42 42M6141 4069l42 42m0-42l-42 42M6153 3944l42 42m0-42l-42 42M6165 4259l42 42m0-42l-42 42M6167 3982l42 42m0-42l-42 42M6169 4155l42 42m0-42l-42 42M6169 4080l42 42m0-42l-42 42M6169 4049l42 42m0-42l-42 42M6173 4299l42 42m0-42l-42 42M6175 3976l42 42m0-42l-42 42M6176 4157l42 42m0-42l-42 42M6180 4191l42 42m0-42l-42 42M6181 3811l42 42m0-42l-42 42M6186 3864l42 42m0-42l-42 42M6186 3872l42 42m0-42l-42 42M6187 4046l42 42m0-42l-42 42M6189 4007l42 42m0-42l-42 42M6191 4213l42 42m0-42l-42 42M6192 3939l42 42m0-42l-42 42M6196 4327l42 42m0-42l-42 42M6197 3753l42 42m0-42l-42 42M6199 3838l42 42m0-42l-42 42M6201 3840l42 42m0-42l-42 42M6203 4002l42 42m0-42l-42 42M6204 3942l42 42m0-42l-42 42M6207 3966l42 42m0-42l-42 42M6210 3799l42 42m0-42l-42 42M6212 3901l42 42m0-42l-42 42M6213 3541l42 42m0-42l-42 42M6214 4046l42 42m0-42l-42 42M6218 4057l42 42m0-42l-42 42M6218 4245l42 42m0-42l-42 42M6218 3819l42 42m0-42l-42 42M6220 3836l42 42m0-42l-42 42M6220 4086l42 42m0-42l-42 42M6222 3841l42 42m0-42l-42 42M6225 3903l42 42m0-42l-42 42M6226 4048l42 42m0-42l-42 42M6230 3900l42 42m0-42l-42 42M6232 4103l42 42m0-42l-42 42M6237 4198l42 42m0-42l-42 42M6239 3727l42 42m0-42l-42 42M6240 4203l42 42m0-42l-42 42M6245 4082l42 42m0-42l-42 42M6245 4090l42 42m0-42l-42 42M6245 4297l42 42m0-42l-42 42M6246 4047l42 42m0-42l-42 42M6251 3960l42 42m0-42l-42 42M6251 3939l42 42m0-42l-42 42M6253 4125l42 42m0-42l-42 42M6253 3864l42 42m0-42l-42 42M6255 3672l42 42m0-42l-42 42M6257 4107l42 42m0-42l-42 42M6257 4131l42 42m0-42l-42 42M6259 3919l42 42m0-42l-42 42M6263 3855l42 42m0-42l-42 42M6264 3852l42 42m0-42l-42 42M6265 4083l42 42m0-42l-42 42M6267 3831l42 42m0-42l-42 42M6269 4101l42 42m0-42l-42 42M6269 3711l42 42m0-42l-42 42M6279 3891l42 42m0-42l-42 42M6281 3732l42 42m0-42l-42 42M6281 4015l42 42m0-42l-42 42M6284 4127l42 42m0-42l-42 42M6285 3663l42 42m0-42l-42 42M6287 3764l42 42m0-42l-42 42M6290 3932l42 42m0-42l-42 42M6300 4146l42 42m0-42l-42 42M6301 3921l42 42m0-42l-42 42M6303 4214l42 42m0-42l-42 42M6303 3875l42 42m0-42l-42 42M6306 3849l42 42m0-42l-42 42M6310 4066l42 42m0-42l-42 42M6315 4123l42 42m0-42l-42 42M6316 4037l42 42m0-42l-42 42M6318 4137l42 42m0-42l-42 42M6318 4148l42 42m0-42l-42 42M6320 3834l42 42m0-42l-42 42M6322 3938l42 42m0-42l-42 42M6324 3989l42 42m0-42l-42 42M6327 3947l42 42m0-42l-42 42M6331 3734l42 42m0-42l-42 42M6332 4193l42 42m0-42l-42 42M6336 3701l42 42m0-42l-42 42M6336 3933l42 42m0-42l-42 42M6337 4098l42 42m0-42l-42 42M6338 4037l42 42m0-42l-42 42M6338 4037l42 42m0-42l-42 42M6339 3829l42 42m0-42l-42 42M6340 3767l42 42m0-42l-42 42M6341 3956l42 42m0-42l-42 42M6342 3698l42 42m0-42l-42 42M6343 4287l42 42m0-42l-42 42M6343 3854l42 42m0-42l-42 42M6344 3897l42 42m0-42l-42 42M6346 3598l42 42m0-42l-42 42M6346 3773l42 42m0-42l-42 42M6351 4218l42 42m0-42l-42 42M6351 3842l42 42m0-42l-42 42M6352 4095l42 42m0-42l-42 42M6354 3866l42 42m0-42l-42 42M6354 3984l42 42m0-42l-42 42M6356 3587l42 42m0-42l-42 42M6356 3895l42 42m0-42l-42 42M6359 3897l42 42m0-42l-42 42M6360 4002l42 42m0-42l-42 42M6360 4013l42 42m0-42l-42 42M6361 3948l42 42m0-42l-42 42M6368 4177l42 42m0-42l-42 42M6369 4125l42 42m0-42l-42 42M6369 4092l42 42m0-42l-42 42M6371 4153l42 42m0-42l-42 42M6371 3916l42 42m0-42l-42 42M6372 3938l42 42m0-42l-42 42M6379 3735l42 42m0-42l-42 42M6384 4154l42 42m0-42l-42 42M6385 3703l42 42m0-42l-42 42M6387 4093l42 42m0-42l-42 42M6388 3850l42 42m0-42l-42 42M6390 3692l42 42m0-42l-42 42M6390 3712l42 42m0-42l-42 42M6391 4241l42 42m0-42l-42 42M6393 4064l42 42m0-42l-42 42M6393 3898l42 42m0-42l-42 42M6394 3990l42 42m0-42l-42 42M6394 4123l42 42m0-42l-42 42M6395 4051l42 42m0-42l-42 42M6396 4046l42 42m0-42l-42 42M6397 3891l42 42m0-42l-42 42M6397 3969l42 42m0-42l-42 42M6398 4194l42 42m0-42l-42 42M6398 4059l42 42m0-42l-42 42M6398 3627l42 42m0-42l-42 42M6402 3766l42 42m0-42l-42 42M6403 4167l42 42m0-42l-42 42M6405 3827l42 42m0-42l-42 42M6405 3836l42 42m0-42l-42 42M6405 3937l42 42m0-42l-42 42M6405 3921l42 42m0-42l-42 42M6405 3643l42 42m0-42l-42 42M6406 4045l42 42m0-42l-42 42M6407 3797l42 42m0-42l-42 42M6407 4039l42 42m0-42l-42 42M6407 4371l42 42m0-42l-42 42M6408 3996l42 42m0-42l-42 42M6409 4142l42 42m0-42l-42 42M6412 3524l42 42m0-42l-42 42M6413 3959l42 42m0-42l-42 42M6415 3625l42 42m0-42l-42 42M6418 4203l42 42m0-42l-42 42M6421 4162l42 42m0-42l-42 42M6422 4087l42 42m0-42l-42 42M6424 3960l42 42m0-42l-42 42M6426 3778l42 42m0-42l-42 42M6427 3817l42 42m0-42l-42 42M6429 4116l42 42m0-42l-42 42M6430 3917l42 42m0-42l-42 42M6431 4156l42 42m0-42l-42 42M6431 4047l42 42m0-42l-42 42M6431 4017l42 42m0-42l-42 42M6431 3708l42 42m0-42l-42 42M6434 3646l42 42m0-42l-42 42M6435 3824l42 42m0-42l-42 42M6436 3861l42 42m0-42l-42 42M6437 4133l42 42m0-42l-42 42M6439 3738l42 42m0-42l-42 42M6441 4085l42 42m0-42l-42 42M6441 4270l42 42m0-42l-42 42M6442 4166l42 42m0-42l-42 42M6447 4038l42 42m0-42l-42 42M6452 3702l42 42m0-42l-42 42M6453 3999l42 42m0-42l-42 42M6458 3916l42 42m0-42l-42 42M6459 4106l42 42m0-42l-42 42M6462 3914l42 42m0-42l-42 42M6466 4123l42 42m0-42l-42 42M6466 4147l42 42m0-42l-42 42M6468 3761l42 42m0-42l-42 42M6470 3893l42 42m0-42l-42 42M6471 4350l42 42m0-42l-42 42M6471 4014l42 42m0-42l-42 42M6472 3816l42 42m0-42l-42 42M6474 4137l42 42m0-42l-42 42M6477 4071l42 42m0-42l-42 42M6478 4060l42 42m0-42l-42 42M6478 3903l42 42m0-42l-42 42M6484 3987l42 42m0-42l-42 42M6485 4307l42 42m0-42l-42 42M6486 3935l42 42m0-42l-42 42M6486 4151l42 42m0-42l-42 42M6489 3941l42 42m0-42l-42 42M6492 3926l42 42m0-42l-42 42M6494 4238l42 42m0-42l-42 42M6498 4031l42 42m0-42l-42 42M6499 3908l42 42m0-42l-42 42M6500 4004l42 42m0-42l-42 42M6501 3935l42 42m0-42l-42 42M6502 4079l42 42m0-42l-42 42M6503 4063l42 42m0-42l-42 42M6503 4222l42 42m0-42l-42 42M6503 4123l42 42m0-42l-42 42M6507 4038l42 42m0-42l-42 42M6507 4224l42 42m0-42l-42 42M6509 3954l42 42m0-42l-42 42M6513 4078l42 42m0-42l-42 42M6514 4038l42 42m0-42l-42 42M6519 3966l42 42m0-42l-42 42M6520 4075l42 42m0-42l-42 42M6522 4006l42 42m0-42l-42 42M6522 3946l42 42m0-42l-42 42M6523 3996l42 42m0-42l-42 42M6523 4235l42 42m0-42l-42 42M6525 3823l42 42m0-42l-42 42M6529 4053l42 42m0-42l-42 42M6531 4017l42 42m0-42l-42 42M6531 3743l42 42m0-42l-42 42M6531 4068l42 42m0-42l-42 42M6531 4013l42 42m0-42l-42 42M6533 4087l42 42m0-42l-42 42M6535 4071l42 42m0-42l-42 42M6536 3749l42 42m0-42l-42 42M6539 3972l42 42m0-42l-42 42M6540 3910l42 42m0-42l-42 42M6543 4234l42 42m0-42l-42 42M6546 3572l42 42m0-42l-42 42M6546 3710l42 42m0-42l-42 42M6547 4057l42 42m0-42l-42 42M6551 4068l42 42m0-42l-42 42M6552 3840l42 42m0-42l-42 42M6552 4119l42 42m0-42l-42 42M6554 3862l42 42m0-42l-42 42M6555 3992l42 42m0-42l-42 42M6565 3623l42 42m0-42l-42 42M6568 3752l42 42m0-42l-42 42M6569 3807l42 42m0-42l-42 42M6572 3868l42 42m0-42l-42 42M6577 3868l42 42m0-42l-42 42M6578 4175l42 42m0-42l-42 42M6580 3447l42 42m0-42l-42 42M6583 3715l42 42m0-42l-42 42M6585 4198l42 42m0-42l-42 42M6587 4111l42 42m0-42l-42 42M6589 3753l42 42m0-42l-42 42M6590 4102l42 42m0-42l-42 42M6590 3743l42 42m0-42l-42 42M6594 4185l42 42m0-42l-42 42M6596 4051l42 42m0-42l-42 42M6597 3829l42 42m0-42l-42 42M6602 3913l42 42m0-42l-42 42M6604 3568l42 42m0-42l-42 42M6605 3922l42 42m0-42l-42 42M6606 3815l42 42m0-42l-42 42M6610 4507l42 42m0-42l-42 42M6611 4100l42 42m0-42l-42 42M6616 3701l42 42m0-42l-42 42M6616 3712l42 42m0-42l-42 42M6624 4003l42 42m0-42l-42 42M6625 3956l42 42m0-42l-42 42M6625 3819l42 42m0-42l-42 42M6629 3884l42 42m0-42l-42 42M6631 4075l42 42m0-42l-42 42M6631 3903l42 42m0-42l-42 42M6637 3713l42 42m0-42l-42 42M6641 3688l42 42m0-42l-42 42M6650 3657l42 42m0-42l-42 42M6650 4090l42 42m0-42l-42 42M6652 3556l42 42m0-42l-42 42M6653 3762l42 42m0-42l-42 42M6655 4157l42 42m0-42l-42 42M6655 3581l42 42m0-42l-42 42M6657 3661l42 42m0-42l-42 42M6658 3779l42 42m0-42l-42 42M6660 3727l42 42m0-42l-42 42M6660 3672l42 42m0-42l-42 42M6661 4055l42 42m0-42l-42 42M6667 4216l42 42m0-42l-42 42M6667 3832l42 42m0-42l-42 42M6669 4066l42 42m0-42l-42 42M6670 3607l42 42m0-42l-42 42M6671 4288l42 42m0-42l-42 42M6672 3653l42 42m0-42l-42 42M6673 3785l42 42m0-42l-42 42M6673 3524l42 42m0-42l-42 42M6679 4084l42 42m0-42l-42 42M6679 3707l42 42m0-42l-42 42M6679 4268l42 42m0-42l-42 42M6682 4214l42 42m0-42l-42 42M6686 4032l42 42m0-42l-42 42M6687 3738l42 42m0-42l-42 42M6689 3702l42 42m0-42l-42 42M6697 3864l42 42m0-42l-42 42M6699 4014l42 42m0-42l-42 42M6704 4272l42 42m0-42l-42 42M6707 3866l42 42m0-42l-42 42M6708 4082l42 42m0-42l-42 42M6711 3775l42 42m0-42l-42 42M6715 4360l42 42m0-42l-42 42M6717 3935l42 42m0-42l-42 42M6719 4023l42 42m0-42l-42 42M6719 3861l42 42m0-42l-42 42M6725 3805l42 42m0-42l-42 42M6728 3797l42 42m0-42l-42 42M6729 4122l42 42m0-42l-42 42M6736 4250l42 42m0-42l-42 42M6738 3834l42 42m0-42l-42 42M6741 4327l42 42m0-42l-42 42M6746 3571l42 42m0-42l-42 42M6747 3915l42 42m0-42l-42 42M6750 3809l42 42m0-42l-42 42M6750 3893l42 42m0-42l-42 42M6756 3892l42 42m0-42l-42 42M6756 4007l42 42m0-42l-42 42M6757 3891l42 42m0-42l-42 42M6764 4007l42 42m0-42l-42 42M6769 3849l42 42m0-42l-42 42M6773 4169l42 42m0-42l-42 42M6777 3867l42 42m0-42l-42 42M6789 4213l42 42m0-42l-42 42M6790 4056l42 42m0-42l-42 42M6794 3922l42 42m0-42l-42 42M6797 3695l42 42m0-42l-42 42M6798 3735l42 42m0-42l-42 42M6799 4178l42 42m0-42l-42 42M6799 3783l42 42m0-42l-42 42M6799 4037l42 42m0-42l-42 42M6802 3728l42 42m0-42l-42 42M6804 4043l42 42m0-42l-42 42M6810 4181l42 42m0-42l-42 42M6810 4009l42 42m0-42l-42 42M6823 4020l42 42m0-42l-42 42M6828 4006l42 42m0-42l-42 42M6837 3794l42 42m0-42l-42 42M6839 3939l42 42m0-42l-42 42M6844 4124l42 42m0-42l-42 42M6846 3831l42 42m0-42l-42 42M6850 4082l42 42m0-42l-42 42M6854 4143l42 42m0-42l-42 42M6857 4075l42 42m0-42l-42 42M6860 3610l42 42m0-42l-42 42M6865 3750l42 42m0-42l-42 42M6874 3876l42 42m0-42l-42 42M6875 3964l42 42m0-42l-42 42M6883 3879l42 42m0-42l-42 42M6888 3905l42 42m0-42l-42 42M6903 3973l42 42m0-42l-42 42M6904 3578l42 42m0-42l-42 42M6907 4118l42 42m0-42l-42 42M6909 3836l42 42m0-42l-42 42M6912 3781l42 42m0-42l-42 42M6913 3951l42 42m0-42l-42 42M6919 3945l42 42m0-42l-42 42M6924 3960l42 42m0-42l-42 42M6930 3759l42 42m0-42l-42 42M6934 4161l42 42m0-42l-42 42M6935 4205l42 42m0-42l-42 42M6940 3783l42 42m0-42l-42 42M6943 4103l42 42m0-42l-42 42M6944 3775l42 42m0-42l-42 42M6950 3835l42 42m0-42l-42 42M6951 4002l42 42m0-42l-42 42M6951 3849l42 42m0-42l-42 42M6954 4120l42 42m0-42l-42 42M6958 3954l42 42m0-42l-42 42M6967 3928l42 42m0-42l-42 42M6968 3712l42 42m0-42l-42 42M6969 3970l42 42m0-42l-42 42M6971 3663l42 42m0-42l-42 42M6979 4023l42 42m0-42l-42 42M6981 4099l42 42m0-42l-42 42M6985 3414l42 42m0-42l-42 42M6992 3739l42 42m0-42l-42 42M7004 3819l42 42m0-42l-42 42M7014 3745l42 42m0-42l-42 42M7027 3658l42 42m0-42l-42 42M7028 3763l42 42m0-42l-42 42M7034 4010l42 42m0-42l-42 42M7034 4471l42 42m0-42l-42 42M7039 4133l42 42m0-42l-42 42M7040 4242l42 42m0-42l-42 42M7042 3799l42 42m0-42l-42 42M7044 4155l42 42m0-42l-42 42M7045 3972l42 42m0-42l-42 42M7048 4061l42 42m0-42l-42 42M7048 3659l42 42m0-42l-42 42M7050 3582l42 42m0-42l-42 42M7052 3847l42 42m0-42l-42 42M7056 3921l42 42m0-42l-42 42M7058 4121l42 42m0-42l-42 42M7070 3585l42 42m0-42l-42 42M7073 3914l42 42m0-42l-42 42M7075 3971l42 42m0-42l-42 42M7076 3701l42 42m0-42l-42 42M7078 3678l42 42m0-42l-42 42M7084 3733l42 42m0-42l-42 42M7085 4096l42 42m0-42l-42 42M7088 3978l42 42m0-42l-42 42M7099 4081l42 42m0-42l-42 42M7104 3781l42 42m0-42l-42 42M7107 3779l42 42m0-42l-42 42M7114 4091l42 42m0-42l-42 42M7114 4106l42 42m0-42l-42 42M7133 3980l42 42m0-42l-42 42M7135 3564l42 42m0-42l-42 42M7136 3652l42 42m0-42l-42 42M7138 3937l42 42m0-42l-42 42M7142 3974l42 42m0-42l-42 42M7148 3869l42 42m0-42l-42 42M7149 3543l42 42m0-42l-42 42M7150 3706l42 42m0-42l-42 42M7160 3702l42 42m0-42l-42 42M7164 3470l42 42m0-42l-42 42M7192 4172l42 42m0-42l-42 42M7199 4058l42 42m0-42l-42 42M7208 3509l42 42m0-42l-42 42M7217 4039l42 42m0-42l-42 42M7222 4061l42 42m0-42l-42 42M7225 3625l42 42m0-42l-42 42M7251 3547l42 42m0-42l-42 42M7263 4001l42 42m0-42l-42 42M7311 4066l42 42m0-42l-42 42M7314 3905l42 42m0-42l-42 42M7325 3794l42 42m0-42l-42 42M7358 3830l42 42m0-42l-42 42"/></g>
<path class="l" d="M511.3 381.7H621.2L742.4 264.6"/>
</g>
<path class="k" fill="none" d="M53.25 207.47h5.5M282.3 207.47h-5.5M53.25 177.95h5.5M282.3 177.95h-5.5M53.25 148.43h5.5M282.3 148.43h-5.5M53.25 118.90h5.5M282.3 118.90h-5.5M53.25 89.38h5.5M282.3 89.38h-5.5M53.25 59.85h5.5M282.3 59.85h-5.5M53.25 30.33h5.5M282.3 30.33h-5.5M99.06 237.0v-5.5M99.06 0.6v5.5M144.87 237.0v-5.5M144.87 0.6v5.5M190.68 237.0v-5.5M190.68 0.6v5.5M236.49 237.0v-5.5M236.49 0.6v5.5M282.3 207.47h5.5M511.3 207.47h-5.5M282.3 177.95h5.5M511.3 177.95h-5.5M282.3 148.43h5.5M511.3 148.43h-5.5M282.3 118.90h5.5M511.3 118.90h-5.5M282.3 89.38h5.5M511.3 89.38h-5.5M282.3 59.85h5.5M511.3 59.85h-5.5M282.3 30.33h5.5M511.3 30.33h-5.5M328.11 237.0v-5.5M328.11 0.6v5.5M373.92 237.0v-5.5M373.92 0.6v5.5M419.73 237.0v-5.5M419.73 0.6v5.5M465.54 237.0v-5.5M465.54 0.6v5.5M511.3 207.47h5.5M740.4 207.47h-5.5M511.3 177.95h5.5M740.4 177.95h-5.5M511.3 148.43h5.5M740.4 148.43h-5.5M511.3 118.90h5.5M740.4 118.90h-5.5M511.3 89.38h5.5M740.4 89.38h-5.5M511.3 59.85h5.5M740.4 59.85h-5.5M511.3 30.33h5.5M740.4 30.33h-5.5M557.11 237.0v-5.5M557.11 0.6v5.5M602.92 237.0v-5.5M602.92 0.6v5.5M648.73 237.0v-5.5M648.73 0.6v5.5M694.54 237.0v-5.5M694.54 0.6v5.5M53.25 443.68h5.5M282.3 443.68h-5.5M53.25 414.15h5.5M282.3 414.15h-5.5M53.25 384.62h5.5M282.3 384.62h-5.5M53.25 355.10h5.5M282.3 355.10h-5.5M53.25 325.57h5.5M282.3 325.57h-5.5M53.25 296.05h5.5M282.3 296.05h-5.5M53.25 266.52h5.5M282.3 266.52h-5.5M99.06 473.2v-5.5M99.06 237.0v5.5M144.87 473.2v-5.5M144.87 237.0v5.5M190.68 473.2v-5.5M190.68 237.0v5.5M236.49 473.2v-5.5M236.49 237.0v5.5M282.3 443.68h5.5M511.3 443.68h-5.5M282.3 414.15h5.5M511.3 414.15h-5.5M282.3 384.62h5.5M511.3 384.62h-5.5M282.3 355.10h5.5M511.3 355.10h-5.5M282.3 325.57h5.5M511.3 325.57h-5.5M282.3 296.05h5.5M511.3 296.05h-5.5M282.3 266.52h5.5M511.3 266.52h-5.5M328.11 473.2v-5.5M328.11 237.0v5.5M373.92 473.2v-5.5M373.92 237.0v5.5M419.73 473.2v-5.5M419.73 237.0v5.5M465.54 473.2v-5.5M465.54 237.0v5.5M511.3 443.68h5.5M740.4 443.68h-5.5M511.3 414.15h5.5M740.4 414.15h-5.5M511.3 384.62h5.5M740.4 384.62h-5.5M511.3 355.10h5.5M740.4 355.10h-5.5M511.3 325.57h5.5M740.4 325.57h-5.5M511.3 296.05h5.5M740.4 296.05h-5.5M511.3 266.52h5.5M740.4 266.52h-5.5M557.11 473.2v-5.5M557.11 237.0v5.5M602.92 473.2v-5.5M602.92 237.0v5.5M648.73 473.2v-5.5M648.73 237.0v5.5M694.54 473.2v-5.5M694.54 237.0v5.5"/>
<path fill="none" stroke="#000" stroke-width="1.8" stroke-linecap="square" d="M53.25 0V473.2M282.3 0V473.2M511.3 0V473.2M740.4 0V473.2M53.25 0.6H741M53.25 237.0H741M53.25 473.2H741"/>
<text class="t" font-size="15.5" transform="translate(49.9,212.2) scale(1.06,1)" text-anchor="end">1</text>
<text class="t" font-size="15.5" transform="translate(49.9,182.6) scale(1.06,1)" text-anchor="end">2</text>
<text class="t" font-size="15.5" transform="translate(49.9,153.1) scale(1.06,1)" text-anchor="end">3</text>
<text class="t" font-size="15.5" transform="translate(49.9,123.6) scale(1.06,1)" text-anchor="end">4</text>
<text class="t" font-size="15.5" transform="translate(49.9,94.1) scale(1.06,1)" text-anchor="end">5</text>
<text class="t" font-size="15.5" transform="translate(49.9,64.6) scale(1.06,1)" text-anchor="end">6</text>
<text class="t" font-size="15.5" transform="translate(49.9,35.0) scale(1.06,1)" text-anchor="end">7</text>
<text class="t" font-size="15.5" transform="translate(49.9,448.4) scale(1.06,1)" text-anchor="end">1</text>
<text class="t" font-size="15.5" transform="translate(49.9,418.8) scale(1.06,1)" text-anchor="end">2</text>
<text class="t" font-size="15.5" transform="translate(49.9,389.3) scale(1.06,1)" text-anchor="end">3</text>
<text class="t" font-size="15.5" transform="translate(49.9,359.8) scale(1.06,1)" text-anchor="end">4</text>
<text class="t" font-size="15.5" transform="translate(49.9,330.3) scale(1.06,1)" text-anchor="end">5</text>
<text class="t" font-size="15.5" transform="translate(49.9,300.8) scale(1.06,1)" text-anchor="end">6</text>
<text class="t" font-size="15.5" transform="translate(49.9,271.2) scale(1.06,1)" text-anchor="end">7</text>
<text class="t" font-size="15.5" transform="translate(100.2,491.9) scale(1.06,1)" text-anchor="middle">0.0</text>
<text class="t" font-size="15.5" transform="translate(146.0,491.9) scale(1.06,1)" text-anchor="middle">0.5</text>
<text class="t" font-size="15.5" transform="translate(191.8,491.9) scale(1.06,1)" text-anchor="middle">1.0</text>
<text class="t" font-size="15.5" transform="translate(237.6,491.9) scale(1.06,1)" text-anchor="middle">1.5</text>
<text class="t" font-size="15.5" transform="translate(329.2,491.9) scale(1.06,1)" text-anchor="middle">0.0</text>
<text class="t" font-size="15.5" transform="translate(375.0,491.9) scale(1.06,1)" text-anchor="middle">0.5</text>
<text class="t" font-size="15.5" transform="translate(420.8,491.9) scale(1.06,1)" text-anchor="middle">1.0</text>
<text class="t" font-size="15.5" transform="translate(466.6,491.9) scale(1.06,1)" text-anchor="middle">1.5</text>
<text class="t" font-size="15.5" transform="translate(558.2,491.9) scale(1.06,1)" text-anchor="middle">0.0</text>
<text class="t" font-size="15.5" transform="translate(604.0,491.9) scale(1.06,1)" text-anchor="middle">0.5</text>
<text class="t" font-size="15.5" transform="translate(649.8,491.9) scale(1.06,1)" text-anchor="middle">1.0</text>
<text class="t" font-size="15.5" transform="translate(695.6,491.9) scale(1.06,1)" text-anchor="middle">1.5</text>
<text class="t" font-size="16" y="18.1"><tspan x="62.2">0.1</tspan><tspan x="86.6" y="17.9" font-size="17">⩽</tspan><tspan class="m" font-size="18" x="100.4" y="18.2">z</tspan><tspan class="r" font-size="22" x="110.4" y="21.6">&lt;</tspan><tspan x="123.0" y="18.1">0.5</tspan></text>
<text class="t" font-size="16" y="18.1"><tspan x="291.3">0.5</tspan><tspan x="315.7" y="17.9" font-size="17">⩽</tspan><tspan class="m" font-size="18" x="329.4" y="18.2">z</tspan><tspan class="r" font-size="22" x="339.4" y="21.6">&lt;</tspan><tspan x="352.0" y="18.1">1.0</tspan></text>
<text class="t" font-size="16" y="18.1"><tspan x="520.3">1.0</tspan><tspan x="544.6" y="17.9" font-size="17">⩽</tspan><tspan class="m" font-size="18" x="558.5" y="18.2">z</tspan><tspan class="r" font-size="22" x="568.5" y="21.6">&lt;</tspan><tspan x="581.0" y="18.1">1.5</tspan></text>
<text class="t" font-size="16" y="254.5"><tspan x="62.2">1.5</tspan><tspan x="86.6" y="254.3" font-size="17">⩽</tspan><tspan class="m" font-size="18" x="100.4" y="254.6">z</tspan><tspan class="r" font-size="22" x="110.4" y="258.0">&lt;</tspan><tspan x="123.0" y="254.5">2.0</tspan></text>
<text class="t" font-size="16" y="254.5"><tspan x="291.3">2.0</tspan><tspan x="315.7" y="254.3" font-size="17">⩽</tspan><tspan class="m" font-size="18" x="329.4" y="254.6">z</tspan><tspan class="r" font-size="22" x="339.4" y="258.0">&lt;</tspan><tspan x="352.0" y="254.5">2.5</tspan></text>
<text class="t" font-size="16" y="254.5"><tspan x="520.3">2.5</tspan><tspan x="544.6" y="254.3" font-size="17">⩽</tspan><tspan class="m" font-size="18" x="558.5" y="254.6">z</tspan><tspan class="r" font-size="22" x="568.5" y="258.0">&lt;</tspan><tspan x="581.0" y="254.5">3.0</tspan></text>
<text class="t" x="62.6" y="142.6" font-size="15.6" style="fill:#f00">QG</text>
<text class="t" x="62.6" y="160.2" font-size="15.6" textLength="31.3" lengthAdjust="spacingAndGlyphs" style="fill:#00f">SFG</text>
<g transform="translate(334.7,525.6)"><text class="m" font-size="26" transform="translate(0.3,0.0) scale(1.085,1)">M</text><text class="m" font-size="16" transform="translate(23.8,6.5) scale(1.15,1)">r</text><text class="r" font-size="26" transform="translate(40.2,1.6) scale(1.215,1)">−</text><text class="m" font-size="26" transform="translate(69.7,0.0) scale(1.085,1)">M</text><text class="m" font-size="18.3" transform="translate(93.9,6.5) scale(1.1,1)">J</text></g>
<g transform="translate(18.3,301.3) rotate(-90)"><text class="m" font-size="26" transform="translate(0.3,0.0) scale(1.085,1)">M</text><text class="m" font-size="18.3" transform="translate(24.7,6.5) scale(0.955,1)">NUV</text><text class="r" font-size="26" transform="translate(69.4,1.6) scale(1.215,1)">−</text><text class="m" font-size="26" transform="translate(98.9,0.0) scale(1.085,1)">M</text><text class="m" font-size="16" transform="translate(122.6,6.5) scale(1.15,1)">r</text></g>
<rect x="625.4" y="244.3" width="108.1" height="34.7" fill="#fff" stroke="#000" stroke-width="1.5"/>
<circle cx="637.3" cy="252.1" r="1.7" fill="#fff" stroke="#666" stroke-width=".7"/>
<text class="t" x="644.5" y="255.2" font-size="9.5" letter-spacing=".1">QG / SFG</text>
<path d="M631 261.8l12.6 12.6m0-12.6l-12.6 12.6" stroke="#d633d6" stroke-width="1.3" fill="none"/>
<text class="t" y="271.2" font-size="9.4"><tspan x="644.3">SFR</tspan><tspan class="r" font-size="6.8" x="662.6" y="273.6">24</tspan><tspan class="r" font-size="13.5" x="670.9" y="273">&gt;</tspan><tspan class="r" font-size="9.2" x="678.8" y="271.2">100</tspan><tspan class="m" font-size="11" x="692.3" y="271.2">M</tspan><tspan font-size="7.6" x="702.5" y="273.8">⊙</tspan><tspan x="709" y="271.2">yr</tspan><tspan class="r" font-size="7" x="719.8" y="267.4">−1</tspan></text>
</svg></body></html>
